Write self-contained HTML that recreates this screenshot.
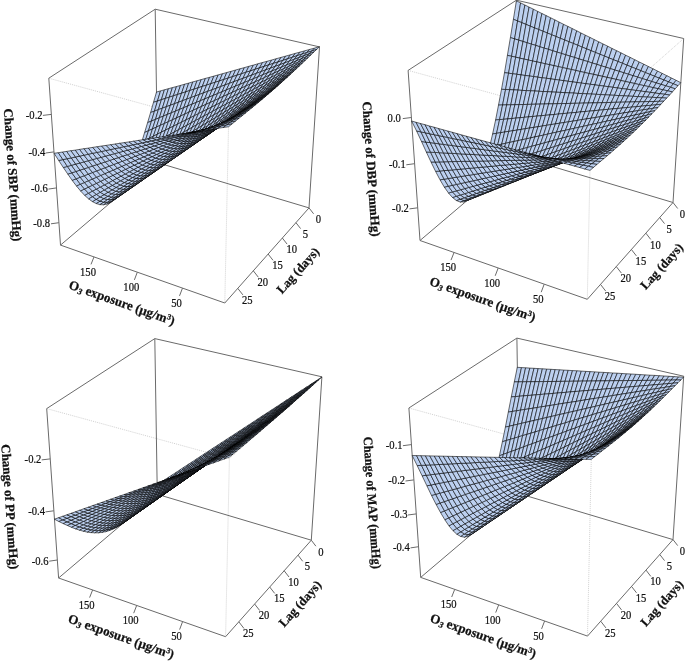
<!DOCTYPE html>
<html><head><meta charset="utf-8"><style>
html,body{margin:0;padding:0;background:#fff;}
svg{display:block;will-change:transform;}
.bx{stroke:#6a6a6a;stroke-width:1;}
.dt{stroke:#bdbdbd;stroke-width:0.7;stroke-dasharray:1 1;}
.sf path{fill:#bcd0f0;stroke:#000;stroke-width:0.58;stroke-linejoin:round;}
text{font-family:"Liberation Serif",serif;fill:#111;}
.tl{font-size:10.6px;stroke:#111;stroke-width:0.2px;text-anchor:middle;dominant-baseline:central;}
.tt{font-size:13px;font-weight:bold;stroke:#111;stroke-width:0.25px;text-anchor:middle;}
.sub{font-size:8.5px;font-style:italic;}
.sup{font-size:8px;}
</style></head><body>
<svg width="685" height="661" viewBox="0 0 685 661">
<g><line class="dt" x1="48.8" y1="78.2" x2="228.5" y2="127.4"/>
<line class="dt" x1="319.5" y1="46.9" x2="228.5" y2="127.4"/>
<line class="dt" x1="228.5" y1="127.4" x2="224.8" y2="303"/>
<line class="bx" x1="155.2" y1="9.2" x2="48.8" y2="78.2"/>
<line class="bx" x1="155.2" y1="9.2" x2="319.5" y2="46.9"/>
<line class="bx" x1="155.2" y1="9.2" x2="157.6" y2="162.7"/>
<line class="bx" x1="48.8" y1="78.2" x2="60.5" y2="245.1"/>
<line class="bx" x1="319.5" y1="46.9" x2="309" y2="207.9"/>
<line class="bx" x1="60.5" y1="245.1" x2="157.6" y2="162.7"/>
<line class="bx" x1="309" y1="207.9" x2="157.6" y2="162.7"/>
<line class="bx" x1="60.5" y1="245.1" x2="224.8" y2="303"/>
<line class="bx" x1="224.8" y1="303" x2="309" y2="207.9"/>
<line class="bx" x1="58.9" y1="222.7" x2="51" y2="223.8"/>
<line class="bx" x1="56.5" y1="187.9" x2="48.4" y2="189.1"/>
<line class="bx" x1="54" y1="151.9" x2="45.7" y2="153"/>
<line class="bx" x1="51.4" y1="114.4" x2="42.9" y2="115.4"/>
<line class="bx" x1="182.5" y1="288.1" x2="179.5" y2="295.9"/>
<line class="bx" x1="137.3" y1="272.2" x2="134.4" y2="279.9"/>
<line class="bx" x1="94" y1="256.9" x2="91" y2="264.4"/>
<line class="bx" x1="309" y1="207.9" x2="313.6" y2="213.8"/>
<line class="bx" x1="295.9" y1="222.6" x2="300.6" y2="228.6"/>
<line class="bx" x1="282.3" y1="238" x2="287.1" y2="244.1"/>
<line class="bx" x1="268.1" y1="254" x2="273" y2="260.3"/>
<line class="bx" x1="253.3" y1="270.8" x2="258.3" y2="277.2"/>
<line class="bx" x1="237.7" y1="288.3" x2="242.9" y2="294.9"/>
<g class="sf"><path d="M160.5 90.9 156.5 92 153.5 102.3 157.5 101Z"/>
<path d="M164.4 89.8 160.5 90.9 157.5 101 161.4 99.7Z"/>
<path d="M168.4 88.7 164.4 89.8 161.4 99.7 165.4 98.4Z"/>
<path d="M157.5 101 153.5 102.3 150.6 112.5 154.5 111.1Z"/>
<path d="M172.4 87.6 168.4 88.7 165.4 98.4 169.4 97.1Z"/>
<path d="M161.4 99.7 157.5 101 154.5 111.1 158.4 109.6Z"/>
<path d="M176.5 86.5 172.4 87.6 169.4 97.1 173.4 95.8Z"/>
<path d="M165.4 98.4 161.4 99.7 158.4 109.6 162.4 108.1Z"/>
<path d="M154.5 111.1 150.6 112.5 147.6 122.6 151.5 121Z"/>
<path d="M180.5 85.4 176.5 86.5 173.4 95.8 177.5 94.5Z"/>
<path d="M169.4 97.1 165.4 98.4 162.4 108.1 166.4 106.7Z"/>
<path d="M158.4 109.6 154.5 111.1 151.5 121 155.5 119.4Z"/>
<path d="M184.6 84.2 180.5 85.4 177.5 94.5 181.6 93.2Z"/>
<path d="M173.4 95.8 169.4 97.1 166.4 106.7 170.4 105.2Z"/>
<path d="M162.4 108.1 158.4 109.6 155.5 119.4 159.4 117.7Z"/>
<path d="M151.5 121 147.6 122.6 144.6 132.5 148.5 130.7Z"/>
<path d="M188.7 83.1 184.6 84.2 181.6 93.2 185.7 91.9Z"/>
<path d="M177.5 94.5 173.4 95.8 170.4 105.2 174.5 103.7Z"/>
<path d="M166.4 106.7 162.4 108.1 159.4 117.7 163.4 116.1Z"/>
<path d="M155.5 119.4 151.5 121 148.5 130.7 152.5 128.9Z"/>
<path d="M192.8 81.9 188.7 83.1 185.7 91.9 189.8 90.5Z"/>
<path d="M181.6 93.2 177.5 94.5 174.5 103.7 178.5 102.2Z"/>
<path d="M170.4 105.2 166.4 106.7 163.4 116.1 167.4 114.4Z"/>
<path d="M159.4 117.7 155.5 119.4 152.5 128.9 156.4 127.1Z"/>
<path d="M148.5 130.7 144.6 132.5 141.7 142.1 145.5 140.1Z"/>
<path d="M197 80.8 192.8 81.9 189.8 90.5 194 89.2Z"/>
<path d="M185.7 91.9 181.6 93.2 178.5 102.2 182.6 100.7Z"/>
<path d="M174.5 103.7 170.4 105.2 167.4 114.4 171.4 112.8Z"/>
<path d="M163.4 116.1 159.4 117.7 156.4 127.1 160.4 125.3Z"/>
<path d="M152.5 128.9 148.5 130.7 145.5 140.1 149.5 138.2Z"/>
<path d="M201.2 79.6 197 80.8 194 89.2 198.1 87.8Z"/>
<path d="M189.8 90.5 185.7 91.9 182.6 100.7 186.8 99.1Z"/>
<path d="M178.5 102.2 174.5 103.7 171.4 112.8 175.5 111.1Z"/>
<path d="M167.4 114.4 163.4 116.1 160.4 125.3 164.4 123.5Z"/>
<path d="M156.4 127.1 152.5 128.9 149.5 138.2 153.4 136.2Z"/>
<path d="M205.4 78.4 201.2 79.6 198.1 87.8 202.3 86.4Z"/>
<path d="M145.5 140.1 141.7 142.1 138.7 151.2 142.5 149.1Z"/>
<path d="M194 89.2 189.8 90.5 186.8 99.1 190.9 97.6Z"/>
<path d="M182.6 100.7 178.5 102.2 175.5 111.1 179.6 109.4Z"/>
<path d="M171.4 112.8 167.4 114.4 164.4 123.5 168.4 121.6Z"/>
<path d="M160.4 125.3 156.4 127.1 153.4 136.2 157.4 134.2Z"/>
<path d="M209.6 77.3 205.4 78.4 202.3 86.4 206.6 85.1Z"/>
<path d="M149.5 138.2 145.5 140.1 142.5 149.1 146.4 147Z"/>
<path d="M198.1 87.8 194 89.2 190.9 97.6 195.1 96Z"/>
<path d="M186.8 99.1 182.6 100.7 179.6 109.4 183.7 107.7Z"/>
<path d="M175.5 111.1 171.4 112.8 168.4 121.6 172.5 119.8Z"/>
<path d="M164.4 123.5 160.4 125.3 157.4 134.2 161.3 132.2Z"/>
<path d="M213.9 76.1 209.6 77.3 206.6 85.1 210.8 83.7Z"/>
<path d="M153.4 136.2 149.5 138.2 146.4 147 150.4 144.9Z"/>
<path d="M202.3 86.4 198.1 87.8 195.1 96 199.3 94.5Z"/>
<path d="M142.5 149.1 138.7 151.2 135.7 159.7 139.5 157.5Z"/>
<path d="M190.9 97.6 186.8 99.1 183.7 107.7 187.8 105.9Z"/>
<path d="M179.6 109.4 175.5 111.1 172.5 119.8 176.5 117.9Z"/>
<path d="M168.4 121.6 164.4 123.5 161.3 132.2 165.4 130.2Z"/>
<path d="M218.2 74.9 213.9 76.1 210.8 83.7 215.1 82.3Z"/>
<path d="M157.4 134.2 153.4 136.2 150.4 144.9 154.3 142.8Z"/>
<path d="M206.6 85.1 202.3 86.4 199.3 94.5 203.5 92.9Z"/>
<path d="M146.4 147 142.5 149.1 139.5 157.5 143.4 155.3Z"/>
<path d="M195.1 96 190.9 97.6 187.8 105.9 192 104.2Z"/>
<path d="M183.7 107.7 179.6 109.4 176.5 117.9 180.6 116Z"/>
<path d="M172.5 119.8 168.4 121.6 165.4 130.2 169.4 128.2Z"/>
<path d="M222.5 73.7 218.2 74.9 215.1 82.3 219.4 80.9Z"/>
<path d="M161.3 132.2 157.4 134.2 154.3 142.8 158.3 140.6Z"/>
<path d="M210.8 83.7 206.6 85.1 203.5 92.9 207.8 91.3Z"/>
<path d="M150.4 144.9 146.4 147 143.4 155.3 147.3 153.1Z"/>
<path d="M199.3 94.5 195.1 96 192 104.2 196.2 102.5Z"/>
<path d="M139.5 157.5 135.7 159.7 132.6 167.7 136.5 165.4Z"/>
<path d="M187.8 105.9 183.7 107.7 180.6 116 184.8 114.1Z"/>
<path d="M176.5 117.9 172.5 119.8 169.4 128.2 173.5 126.2Z"/>
<path d="M226.8 72.5 222.5 73.7 219.4 80.9 223.8 79.5Z"/>
<path d="M165.4 130.2 161.3 132.2 158.3 140.6 162.3 138.5Z"/>
<path d="M215.1 82.3 210.8 83.7 207.8 91.3 212.1 89.8Z"/>
<path d="M154.3 142.8 150.4 144.9 147.3 153.1 151.3 150.8Z"/>
<path d="M203.5 92.9 199.3 94.5 196.2 102.5 200.4 100.7Z"/>
<path d="M143.4 155.3 139.5 157.5 136.5 165.4 140.3 163.1Z"/>
<path d="M192 104.2 187.8 105.9 184.8 114.1 188.9 112.2Z"/>
<path d="M180.6 116 176.5 117.9 173.5 126.2 177.6 124.1Z"/>
<path d="M231.2 71.3 226.8 72.5 223.8 79.5 228.1 78.1Z"/>
<path d="M169.4 128.2 165.4 130.2 162.3 138.5 166.3 136.3Z"/>
<path d="M219.4 80.9 215.1 82.3 212.1 89.8 216.4 88.2Z"/>
<path d="M158.3 140.6 154.3 142.8 151.3 150.8 155.2 148.5Z"/>
<path d="M207.8 91.3 203.5 92.9 200.4 100.7 204.7 98.9Z"/>
<path d="M147.3 153.1 143.4 155.3 140.3 163.1 144.3 160.7Z"/>
<path d="M196.2 102.5 192 104.2 188.9 112.2 193.1 110.3Z"/>
<path d="M136.5 165.4 132.6 167.7 129.6 175 133.4 172.6Z"/>
<path d="M184.8 114.1 180.6 116 177.6 124.1 181.7 122.1Z"/>
<path d="M235.6 70 231.2 71.3 228.1 78.1 232.5 76.7Z"/>
<path d="M173.5 126.2 169.4 128.2 166.3 136.3 170.4 134.1Z"/>
<path d="M223.8 79.5 219.4 80.9 216.4 88.2 220.7 86.6Z"/>
<path d="M162.3 138.5 158.3 140.6 155.2 148.5 159.2 146.2Z"/>
<path d="M212.1 89.8 207.8 91.3 204.7 98.9 209 97.2Z"/>
<path d="M151.3 150.8 147.3 153.1 144.3 160.7 148.2 158.3Z"/>
<path d="M200.4 100.7 196.2 102.5 193.1 110.3 197.4 108.4Z"/>
<path d="M140.3 163.1 136.5 165.4 133.4 172.6 137.3 170.2Z"/>
<path d="M188.9 112.2 184.8 114.1 181.7 122.1 185.9 120Z"/>
<path d="M240 68.8 235.6 70 232.5 76.7 237 75.2Z"/>
<path d="M177.6 124.1 173.5 126.2 170.4 134.1 174.5 131.9Z"/>
<path d="M228.1 78.1 223.8 79.5 220.7 86.6 225.1 84.9Z"/>
<path d="M166.3 136.3 162.3 138.5 159.2 146.2 163.3 143.9Z"/>
<path d="M216.4 88.2 212.1 89.8 209 97.2 213.3 95.4Z"/>
<path d="M155.2 148.5 151.3 150.8 148.2 158.3 152.1 155.9Z"/>
<path d="M204.7 98.9 200.4 100.7 197.4 108.4 201.6 106.4Z"/>
<path d="M144.3 160.7 140.3 163.1 137.3 170.2 141.2 167.7Z"/>
<path d="M193.1 110.3 188.9 112.2 185.9 120 190.1 117.9Z"/>
<path d="M133.4 172.6 129.6 175 126.5 181.6 130.3 179.1Z"/>
<path d="M244.4 67.6 240 68.8 237 75.2 241.4 73.8Z"/>
<path d="M181.7 122.1 177.6 124.1 174.5 131.9 178.6 129.7Z"/>
<path d="M232.5 76.7 228.1 78.1 225.1 84.9 229.5 83.3Z"/>
<path d="M170.4 134.1 166.3 136.3 163.3 143.9 167.3 141.6Z"/>
<path d="M220.7 86.6 216.4 88.2 213.3 95.4 217.6 93.6Z"/>
<path d="M159.2 146.2 155.2 148.5 152.1 155.9 156.1 153.5Z"/>
<path d="M209 97.2 204.7 98.9 201.6 106.4 205.9 104.4Z"/>
<path d="M148.2 158.3 144.3 160.7 141.2 167.7 145.1 165.2Z"/>
<path d="M197.4 108.4 193.1 110.3 190.1 117.9 194.3 115.8Z"/>
<path d="M137.3 170.2 133.4 172.6 130.3 179.1 134.2 176.6Z"/>
<path d="M248.9 66.3 244.4 67.6 241.4 73.8 245.9 72.3Z"/>
<path d="M185.9 120 181.7 122.1 178.6 129.7 182.8 127.4Z"/>
<path d="M237 75.2 232.5 76.7 229.5 83.3 233.9 81.7Z"/>
<path d="M174.5 131.9 170.4 134.1 167.3 141.6 171.4 139.2Z"/>
<path d="M225.1 84.9 220.7 86.6 217.6 93.6 222 91.8Z"/>
<path d="M163.3 143.9 159.2 146.2 156.1 153.5 160.2 151.1Z"/>
<path d="M213.3 95.4 209 97.2 205.9 104.4 210.2 102.5Z"/>
<path d="M152.1 155.9 148.2 158.3 145.1 165.2 149 162.7Z"/>
<path d="M201.6 106.4 197.4 108.4 194.3 115.8 198.5 113.6Z"/>
<path d="M141.2 167.7 137.3 170.2 134.2 176.6 138 174.1Z"/>
<path d="M253.4 65.1 248.9 66.3 245.9 72.3 250.4 70.9Z"/>
<path d="M190.1 117.9 185.9 120 182.8 127.4 187 125.2Z"/>
<path d="M130.3 179.1 126.5 181.6 123.3 187.5 127.1 184.9Z"/>
<path d="M241.4 73.8 237 75.2 233.9 81.7 238.4 80Z"/>
<path d="M178.6 129.7 174.5 131.9 171.4 139.2 175.5 136.9Z"/>
<path d="M229.5 83.3 225.1 84.9 222 91.8 226.4 89.9Z"/>
<path d="M167.3 141.6 163.3 143.9 160.2 151.1 164.2 148.6Z"/>
<path d="M217.6 93.6 213.3 95.4 210.2 102.5 214.6 100.5Z"/>
<path d="M156.1 153.5 152.1 155.9 149 162.7 153 160.2Z"/>
<path d="M205.9 104.4 201.6 106.4 198.5 113.6 202.8 111.5Z"/>
<path d="M145.1 165.2 141.2 167.7 138 174.1 142 171.5Z"/>
<path d="M257.9 63.8 253.4 65.1 250.4 70.9 254.9 69.4Z"/>
<path d="M194.3 115.8 190.1 117.9 187 125.2 191.2 122.9Z"/>
<path d="M134.2 176.6 130.3 179.1 127.1 184.9 131 182.3Z"/>
<path d="M245.9 72.3 241.4 73.8 238.4 80 242.9 78.4Z"/>
<path d="M182.8 127.4 178.6 129.7 175.5 136.9 179.7 134.5Z"/>
<path d="M233.9 81.7 229.5 83.3 226.4 89.9 230.8 88.1Z"/>
<path d="M171.4 139.2 167.3 141.6 164.2 148.6 168.3 146.1Z"/>
<path d="M222 91.8 217.6 93.6 214.6 100.5 218.9 98.5Z"/>
<path d="M160.2 151.1 156.1 153.5 153 160.2 157 157.7Z"/>
<path d="M210.2 102.5 205.9 104.4 202.8 111.5 207.1 109.4Z"/>
<path d="M149 162.7 145.1 165.2 142 171.5 145.9 168.9Z"/>
<path d="M262.5 62.5 257.9 63.8 254.9 69.4 259.5 67.9Z"/>
<path d="M198.5 113.6 194.3 115.8 191.2 122.9 195.4 120.6Z"/>
<path d="M138 174.1 134.2 176.6 131 182.3 134.9 179.7Z"/>
<path d="M250.4 70.9 245.9 72.3 242.9 78.4 247.4 76.7Z"/>
<path d="M187 125.2 182.8 127.4 179.7 134.5 183.9 132.1Z"/>
<path d="M127.1 184.9 123.3 187.5 120.1 192.5 124 189.9Z"/>
<path d="M238.4 80 233.9 81.7 230.8 88.1 235.3 86.2Z"/>
<path d="M175.5 136.9 171.4 139.2 168.3 146.1 172.4 143.7Z"/>
<path d="M226.4 89.9 222 91.8 218.9 98.5 223.3 96.4Z"/>
<path d="M164.2 148.6 160.2 151.1 157 157.7 161.1 155.1Z"/>
<path d="M214.6 100.5 210.2 102.5 207.1 109.4 211.5 107.2Z"/>
<path d="M153 160.2 149 162.7 145.9 168.9 149.9 166.3Z"/>
<path d="M267.1 61.3 262.5 62.5 259.5 67.9 264.1 66.4Z"/>
<path d="M202.8 111.5 198.5 113.6 195.4 120.6 199.7 118.3Z"/>
<path d="M142 171.5 138 174.1 134.9 179.7 138.8 177.1Z"/>
<path d="M254.9 69.4 250.4 70.9 247.4 76.7 251.9 75Z"/>
<path d="M191.2 122.9 187 125.2 183.9 132.1 188.1 129.7Z"/>
<path d="M131 182.3 127.1 184.9 124 189.9 127.8 187.2Z"/>
<path d="M242.9 78.4 238.4 80 235.3 86.2 239.8 84.4Z"/>
<path d="M179.7 134.5 175.5 136.9 172.4 143.7 176.6 141.2Z"/>
<path d="M230.8 88.1 226.4 89.9 223.3 96.4 227.8 94.4Z"/>
<path d="M168.3 146.1 164.2 148.6 161.1 155.1 165.2 152.5Z"/>
<path d="M218.9 98.5 214.6 100.5 211.5 107.2 215.8 105Z"/>
<path d="M157 157.7 153 160.2 149.9 166.3 153.9 163.7Z"/>
<path d="M271.7 60 267.1 61.3 264.1 66.4 268.7 64.9Z"/>
<path d="M207.1 109.4 202.8 111.5 199.7 118.3 204 116Z"/>
<path d="M145.9 168.9 142 171.5 138.8 177.1 142.8 174.4Z"/>
<path d="M259.5 67.9 254.9 69.4 251.9 75 256.5 73.3Z"/>
<path d="M195.4 120.6 191.2 122.9 188.1 129.7 192.3 127.3Z"/>
<path d="M134.9 179.7 131 182.3 127.8 187.2 131.7 184.6Z"/>
<path d="M247.4 76.7 242.9 78.4 239.8 84.4 244.3 82.5Z"/>
<path d="M183.9 132.1 179.7 134.5 176.6 141.2 180.7 138.6Z"/>
<path d="M124 189.9 120.1 192.5 116.9 196.7 120.7 194.1Z"/>
<path d="M235.3 86.2 230.8 88.1 227.8 94.4 232.2 92.4Z"/>
<path d="M172.4 143.7 168.3 146.1 165.2 152.5 169.3 149.9Z"/>
<path d="M223.3 96.4 218.9 98.5 215.8 105 220.2 102.8Z"/>
<path d="M161.1 155.1 157 157.7 153.9 163.7 158 161Z"/>
<path d="M276.3 58.7 271.7 60 268.7 64.9 273.4 63.4Z"/>
<path d="M211.5 107.2 207.1 109.4 204 116 208.4 113.7Z"/>
<path d="M149.9 166.3 145.9 168.9 142.8 174.4 146.7 171.7Z"/>
<path d="M264.1 66.4 259.5 67.9 256.5 73.3 261.1 71.6Z"/>
<path d="M199.7 118.3 195.4 120.6 192.3 127.3 196.6 124.8Z"/>
<path d="M138.8 177.1 134.9 179.7 131.7 184.6 135.6 181.9Z"/>
<path d="M251.9 75 247.4 76.7 244.3 82.5 248.9 80.6Z"/>
<path d="M188.1 129.7 183.9 132.1 180.7 138.6 185 136.1Z"/>
<path d="M127.8 187.2 124 189.9 120.7 194.1 124.6 191.4Z"/>
<path d="M239.8 84.4 235.3 86.2 232.2 92.4 236.7 90.3Z"/>
<path d="M176.6 141.2 172.4 143.7 169.3 149.9 173.4 147.3Z"/>
<path d="M227.8 94.4 223.3 96.4 220.2 102.8 224.7 100.6Z"/>
<path d="M165.2 152.5 161.1 155.1 158 161 162 158.3Z"/>
<path d="M281 57.4 276.3 58.7 273.4 63.4 278.1 61.9Z"/>
<path d="M215.8 105 211.5 107.2 208.4 113.7 212.7 111.3Z"/>
<path d="M153.9 163.7 149.9 166.3 146.7 171.7 150.7 169Z"/>
<path d="M268.7 64.9 264.1 66.4 261.1 71.6 265.7 69.9Z"/>
<path d="M204 116 199.7 118.3 196.6 124.8 200.9 122.3Z"/>
<path d="M142.8 174.4 138.8 177.1 135.6 181.9 139.6 179.2Z"/>
<path d="M256.5 73.3 251.9 75 248.9 80.6 253.5 78.7Z"/>
<path d="M192.3 127.3 188.1 129.7 185 136.1 189.2 133.5Z"/>
<path d="M131.7 184.6 127.8 187.2 124.6 191.4 128.5 188.7Z"/>
<path d="M244.3 82.5 239.8 84.4 236.7 90.3 241.3 88.2Z"/>
<path d="M180.7 138.6 176.6 141.2 173.4 147.3 177.6 144.7Z"/>
<path d="M120.7 194.1 116.9 196.7 113.6 200.1 117.4 197.4Z"/>
<path d="M232.2 92.4 227.8 94.4 224.7 100.6 229.2 98.3Z"/>
<path d="M169.3 149.9 165.2 152.5 162 158.3 166.1 155.7Z"/>
<path d="M285.7 56.1 281 57.4 278.1 61.9 282.8 60.4Z"/>
<path d="M220.2 102.8 215.8 105 212.7 111.3 217.1 108.9Z"/>
<path d="M158 161 153.9 163.7 150.7 169 154.8 166.3Z"/>
<path d="M273.4 63.4 268.7 64.9 265.7 69.9 270.4 68.2Z"/>
<path d="M208.4 113.7 204 116 200.9 122.3 205.3 119.8Z"/>
<path d="M146.7 171.7 142.8 174.4 139.6 179.2 143.5 176.5Z"/>
<path d="M261.1 71.6 256.5 73.3 253.5 78.7 258.1 76.8Z"/>
<path d="M196.6 124.8 192.3 127.3 189.2 133.5 193.5 130.9Z"/>
<path d="M135.6 181.9 131.7 184.6 128.5 188.7 132.4 186Z"/>
<path d="M248.9 80.6 244.3 82.5 241.3 88.2 245.8 86.1Z"/>
<path d="M185 136.1 180.7 138.6 177.6 144.7 181.8 142Z"/>
<path d="M124.6 191.4 120.7 194.1 117.4 197.4 121.3 194.7Z"/>
<path d="M236.7 90.3 232.2 92.4 229.2 98.3 233.7 96.1Z"/>
<path d="M173.4 147.3 169.3 149.9 166.1 155.7 170.3 152.9Z"/>
<path d="M290.4 54.8 285.7 56.1 282.8 60.4 287.5 58.8Z"/>
<path d="M224.7 100.6 220.2 102.8 217.1 108.9 221.6 106.5Z"/>
<path d="M162 158.3 158 161 154.8 166.3 158.9 163.6Z"/>
<path d="M278.1 61.9 273.4 63.4 270.4 68.2 275.1 66.4Z"/>
<path d="M212.7 111.3 208.4 113.7 205.3 119.8 209.6 117.3Z"/>
<path d="M150.7 169 146.7 171.7 143.5 176.5 147.5 173.7Z"/>
<path d="M265.7 69.9 261.1 71.6 258.1 76.8 262.7 74.8Z"/>
<path d="M200.9 122.3 196.6 124.8 193.5 130.9 197.8 128.3Z"/>
<path d="M139.6 179.2 135.6 181.9 132.4 186 136.3 183.2Z"/>
<path d="M253.5 78.7 248.9 80.6 245.8 86.1 250.4 84Z"/>
<path d="M189.2 133.5 185 136.1 181.8 142 186.1 139.3Z"/>
<path d="M128.5 188.7 124.6 191.4 121.3 194.7 125.2 192Z"/>
<path d="M241.3 88.2 236.7 90.3 233.7 96.1 238.2 93.8Z"/>
<path d="M177.6 144.7 173.4 147.3 170.3 152.9 174.5 150.2Z"/>
<path d="M117.4 197.4 113.6 200.1 110.3 202.5 114.1 199.9Z"/>
<path d="M295.2 53.4 290.4 54.8 287.5 58.8 292.3 57.3Z"/>
<path d="M229.2 98.3 224.7 100.6 221.6 106.5 226.1 104.1Z"/>
<path d="M166.1 155.7 162 158.3 158.9 163.6 163 160.8Z"/>
<path d="M282.8 60.4 278.1 61.9 275.1 66.4 279.9 64.7Z"/>
<path d="M217.1 108.9 212.7 111.3 209.6 117.3 214 114.8Z"/>
<path d="M154.8 166.3 150.7 169 147.5 173.7 151.6 170.9Z"/>
<path d="M270.4 68.2 265.7 69.9 262.7 74.8 267.4 72.9Z"/>
<path d="M205.3 119.8 200.9 122.3 197.8 128.3 202.1 125.7Z"/>
<path d="M143.5 176.5 139.6 179.2 136.3 183.2 140.3 180.5Z"/>
<path d="M258.1 76.8 253.5 78.7 250.4 84 255.1 81.9Z"/>
<path d="M193.5 130.9 189.2 133.5 186.1 139.3 190.3 136.6Z"/>
<path d="M132.4 186 128.5 188.7 125.2 192 129.1 189.3Z"/>
<path d="M245.8 86.1 241.3 88.2 238.2 93.8 242.8 91.5Z"/>
<path d="M181.8 142 177.6 144.7 174.5 150.2 178.7 147.5Z"/>
<path d="M121.3 194.7 117.4 197.4 114.1 199.9 117.9 197.2Z"/>
<path d="M300 52.1 295.2 53.4 292.3 57.3 297.1 55.7Z"/>
<path d="M233.7 96.1 229.2 98.3 226.1 104.1 230.6 101.7Z"/>
<path d="M170.3 152.9 166.1 155.7 163 160.8 167.1 158Z"/>
<path d="M287.5 58.8 282.8 60.4 279.9 64.7 284.6 62.9Z"/>
<path d="M221.6 106.5 217.1 108.9 214 114.8 218.5 112.3Z"/>
<path d="M158.9 163.6 154.8 166.3 151.6 170.9 155.7 168.1Z"/>
<path d="M275.1 66.4 270.4 68.2 267.4 72.9 272.1 70.9Z"/>
<path d="M209.6 117.3 205.3 119.8 202.1 125.7 206.5 123Z"/>
<path d="M147.5 173.7 143.5 176.5 140.3 180.5 144.3 177.7Z"/>
<path d="M262.7 74.8 258.1 76.8 255.1 81.9 259.7 79.8Z"/>
<path d="M197.8 128.3 193.5 130.9 190.3 136.6 194.6 133.9Z"/>
<path d="M136.3 183.2 132.4 186 129.1 189.3 133 186.5Z"/>
<path d="M250.4 84 245.8 86.1 242.8 91.5 247.4 89.2Z"/>
<path d="M186.1 139.3 181.8 142 178.7 147.5 182.9 144.7Z"/>
<path d="M125.2 192 121.3 194.7 117.9 197.2 121.8 194.5Z"/>
<path d="M304.8 50.8 300 52.1 297.1 55.7 302 54.1Z"/>
<path d="M238.2 93.8 233.7 96.1 230.6 101.7 235.1 99.3Z"/>
<path d="M174.5 150.2 170.3 152.9 167.1 158 171.3 155.2Z"/>
<path d="M114.1 199.9 110.3 202.5 106.8 204.1 110.7 201.5Z"/>
<path d="M292.3 57.3 287.5 58.8 284.6 62.9 289.4 61.1Z"/>
<path d="M226.1 104.1 221.6 106.5 218.5 112.3 223 109.7Z"/>
<path d="M163 160.8 158.9 163.6 155.7 168.1 159.8 165.3Z"/>
<path d="M279.9 64.7 275.1 66.4 272.1 70.9 276.9 69Z"/>
<path d="M214 114.8 209.6 117.3 206.5 123 210.9 120.4Z"/>
<path d="M151.6 170.9 147.5 173.7 144.3 177.7 148.3 174.9Z"/>
<path d="M267.4 72.9 262.7 74.8 259.7 79.8 264.4 77.6Z"/>
<path d="M202.1 125.7 197.8 128.3 194.6 133.9 199 131.2Z"/>
<path d="M140.3 180.5 136.3 183.2 133 186.5 137 183.7Z"/>
<path d="M255.1 81.9 250.4 84 247.4 89.2 252 86.9Z"/>
<path d="M190.3 136.6 186.1 139.3 182.9 144.7 187.2 141.9Z"/>
<path d="M129.1 189.3 125.2 192 121.8 194.5 125.8 191.8Z"/>
<path d="M309.7 49.4 304.8 50.8 302 54.1 306.9 52.5Z"/>
<path d="M242.8 91.5 238.2 93.8 235.1 99.3 239.7 96.8Z"/>
<path d="M178.7 147.5 174.5 150.2 171.3 155.2 175.5 152.4Z"/>
<path d="M117.9 197.2 114.1 199.9 110.7 201.5 114.5 198.8Z"/>
<path d="M297.1 55.7 292.3 57.3 289.4 61.1 294.3 59.3Z"/>
<path d="M230.6 101.7 226.1 104.1 223 109.7 227.5 107.1Z"/>
<path d="M167.1 158 163 160.8 159.8 165.3 163.9 162.5Z"/>
<path d="M284.6 62.9 279.9 64.7 276.9 69 281.7 67Z"/>
<path d="M218.5 112.3 214 114.8 210.9 120.4 215.4 117.7Z"/>
<path d="M155.7 168.1 151.6 170.9 148.3 174.9 152.4 172.1Z"/>
<path d="M272.1 70.9 267.4 72.9 264.4 77.6 269.2 75.4Z"/>
<path d="M206.5 123 202.1 125.7 199 131.2 203.4 128.4Z"/>
<path d="M144.3 177.7 140.3 180.5 137 183.7 141 181Z"/>
<path d="M259.7 79.8 255.1 81.9 252 86.9 256.7 84.6Z"/>
<path d="M194.6 133.9 190.3 136.6 187.2 141.9 191.5 139.1Z"/>
<path d="M133 186.5 129.1 189.3 125.8 191.8 129.7 189Z"/>
<path d="M314.6 48.1 309.7 49.4 306.9 52.5 311.8 51Z"/>
<path d="M247.4 89.2 242.8 91.5 239.7 96.8 244.3 94.3Z"/>
<path d="M182.9 144.7 178.7 147.5 175.5 152.4 179.7 149.5Z"/>
<path d="M121.8 194.5 117.9 197.2 114.5 198.8 118.4 196.2Z"/>
<path d="M302 54.1 297.1 55.7 294.3 59.3 299.1 57.5Z"/>
<path d="M235.1 99.3 230.6 101.7 227.5 107.1 232 104.5Z"/>
<path d="M171.3 155.2 167.1 158 163.9 162.5 168.1 159.6Z"/>
<path d="M110.7 201.5 106.8 204.1 103.3 204.8 107.2 202.2Z"/>
<path d="M289.4 61.1 284.6 62.9 281.7 67 286.5 65Z"/>
<path d="M223 109.7 218.5 112.3 215.4 117.7 219.8 115Z"/>
<path d="M159.8 165.3 155.7 168.1 152.4 172.1 156.5 169.2Z"/>
<path d="M276.9 69 272.1 70.9 269.2 75.4 273.9 73.2Z"/>
<path d="M210.9 120.4 206.5 123 203.4 128.4 207.8 125.6Z"/>
<path d="M148.3 174.9 144.3 177.7 141 181 145.1 178.1Z"/>
<path d="M264.4 77.6 259.7 79.8 256.7 84.6 261.4 82.2Z"/>
<path d="M199 131.2 194.6 133.9 191.5 139.1 195.8 136.2Z"/>
<path d="M137 183.7 133 186.5 129.7 189 133.7 186.3Z"/>
<path d="M319.5 46.7 314.6 48.1 311.8 51 316.7 49.4Z"/>
<path d="M252 86.9 247.4 89.2 244.3 94.3 249 91.8Z"/>
<path d="M187.2 141.9 182.9 144.7 179.7 149.5 184 146.6Z"/>
<path d="M125.8 191.8 121.8 194.5 118.4 196.2 122.4 193.5Z"/>
<path d="M306.9 52.5 302 54.1 299.1 57.5 304 55.7Z"/>
<path d="M239.7 96.8 235.1 99.3 232 104.5 236.6 101.9Z"/>
<path d="M175.5 152.4 171.3 155.2 168.1 159.6 172.3 156.7Z"/>
<path d="M114.5 198.8 110.7 201.5 107.2 202.2 111.1 199.6Z"/>
<path d="M294.3 59.3 289.4 61.1 286.5 65 291.4 63Z"/>
<path d="M227.5 107.1 223 109.7 219.8 115 224.4 112.2Z"/>
<path d="M163.9 162.5 159.8 165.3 156.5 169.2 160.7 166.3Z"/>
<path d="M281.7 67 276.9 69 273.9 73.2 278.7 71Z"/>
<path d="M215.4 117.7 210.9 120.4 207.8 125.6 212.2 122.8Z"/>
<path d="M152.4 172.1 148.3 174.9 145.1 178.1 149.1 175.3Z"/>
<path d="M269.2 75.4 264.4 77.6 261.4 82.2 266.1 79.9Z"/>
<path d="M203.4 128.4 199 131.2 195.8 136.2 200.2 133.3Z"/>
<path d="M141 181 137 183.7 133.7 186.3 137.7 183.5Z"/>
<path d="M256.7 84.6 252 86.9 249 91.8 253.6 89.3Z"/>
<path d="M191.5 139.1 187.2 141.9 184 146.6 188.3 143.7Z"/>
<path d="M129.7 189 125.8 191.8 122.4 193.5 126.3 190.7Z"/>
<path d="M311.8 51 306.9 52.5 304 55.7 309 53.9Z"/>
<path d="M244.3 94.3 239.7 96.8 236.6 101.9 241.2 99.2Z"/>
<path d="M179.7 149.5 175.5 152.4 172.3 156.7 176.5 153.8Z"/>
<path d="M118.4 196.2 114.5 198.8 111.1 199.6 115 197Z"/>
<path d="M299.1 57.5 294.3 59.3 291.4 63 296.2 60.9Z"/>
<path d="M232 104.5 227.5 107.1 224.4 112.2 228.9 109.5Z"/>
<path d="M168.1 159.6 163.9 162.5 160.7 166.3 164.8 163.4Z"/>
<path d="M107.2 202.2 103.3 204.8 99.8 204.6 103.6 202.1Z"/>
<path d="M286.5 65 281.7 67 278.7 71 283.6 68.8Z"/>
<path d="M219.8 115 215.4 117.7 212.2 122.8 216.7 120Z"/>
<path d="M156.5 169.2 152.4 172.1 149.1 175.3 153.3 172.4Z"/>
<path d="M273.9 73.2 269.2 75.4 266.1 79.9 270.9 77.5Z"/>
<path d="M207.8 125.6 203.4 128.4 200.2 133.3 204.6 130.4Z"/>
<path d="M145.1 178.1 141 181 137.7 183.5 141.7 180.7Z"/>
<path d="M261.4 82.2 256.7 84.6 253.6 89.3 258.4 86.7Z"/>
<path d="M195.8 136.2 191.5 139.1 188.3 143.7 192.7 140.8Z"/>
<path d="M133.7 186.3 129.7 189 126.3 190.7 130.3 188Z"/>
<path d="M316.7 49.4 311.8 51 309 53.9 313.9 52Z"/>
<path d="M249 91.8 244.3 94.3 241.2 99.2 245.9 96.5Z"/>
<path d="M184 146.6 179.7 149.5 176.5 153.8 180.8 150.9Z"/>
<path d="M122.4 193.5 118.4 196.2 115 197 118.9 194.3Z"/>
<path d="M304 55.7 299.1 57.5 296.2 60.9 301.2 58.9Z"/>
<path d="M236.6 101.9 232 104.5 228.9 109.5 233.5 106.7Z"/>
<path d="M172.3 156.7 168.1 159.6 164.8 163.4 169 160.5Z"/>
<path d="M111.1 199.6 107.2 202.2 103.6 202.1 107.5 199.5Z"/>
<path d="M291.4 63 286.5 65 283.6 68.8 288.4 66.6Z"/>
<path d="M224.4 112.2 219.8 115 216.7 120 221.2 117.1Z"/>
<path d="M160.7 166.3 156.5 169.2 153.3 172.4 157.4 169.5Z"/>
<path d="M278.7 71 273.9 73.2 270.9 77.5 275.7 75.1Z"/>
<path d="M212.2 122.8 207.8 125.6 204.6 130.4 209.1 127.5Z"/>
<path d="M149.1 175.3 145.1 178.1 141.7 180.7 145.8 177.8Z"/>
<path d="M266.1 79.9 261.4 82.2 258.4 86.7 263.1 84.2Z"/>
<path d="M200.2 133.3 195.8 136.2 192.7 140.8 197 137.9Z"/>
<path d="M137.7 183.5 133.7 186.3 130.3 188 134.3 185.3Z"/>
<path d="M253.6 89.3 249 91.8 245.9 96.5 250.6 93.9Z"/>
<path d="M188.3 143.7 184 146.6 180.8 150.9 185.1 147.9Z"/>
<path d="M126.3 190.7 122.4 193.5 118.9 194.3 122.9 191.7Z"/>
<path d="M309 53.9 304 55.7 301.2 58.9 306.1 56.8Z"/>
<path d="M241.2 99.2 236.6 101.9 233.5 106.7 238.1 103.9Z"/>
<path d="M176.5 153.8 172.3 156.7 169 160.5 173.3 157.6Z"/>
<path d="M115 197 111.1 199.6 107.5 199.5 111.4 197Z"/>
<path d="M296.2 60.9 291.4 63 288.4 66.6 293.3 64.3Z"/>
<path d="M228.9 109.5 224.4 112.2 221.2 117.1 225.8 114.2Z"/>
<path d="M164.8 163.4 160.7 166.3 157.4 169.5 161.6 166.6Z"/>
<path d="M103.6 202.1 99.8 204.6 96.1 203.5 100 201.1Z"/>
<path d="M283.6 68.8 278.7 71 275.7 75.1 280.6 72.6Z"/>
<path d="M216.7 120 212.2 122.8 209.1 127.5 213.6 124.6Z"/>
<path d="M153.3 172.4 149.1 175.3 145.8 177.8 149.9 175Z"/>
<path d="M270.9 77.5 266.1 79.9 263.1 84.2 267.9 81.6Z"/>
<path d="M204.6 130.4 200.2 133.3 197 137.9 201.5 134.9Z"/>
<path d="M141.7 180.7 137.7 183.5 134.3 185.3 138.4 182.5Z"/>
<path d="M258.4 86.7 253.6 89.3 250.6 93.9 255.3 91.1Z"/>
<path d="M192.7 140.8 188.3 143.7 185.1 147.9 189.5 144.9Z"/>
<path d="M130.3 188 126.3 190.7 122.9 191.7 126.9 189Z"/>
<path d="M313.9 52 309 53.9 306.1 56.8 311.1 54.7Z"/>
<path d="M245.9 96.5 241.2 99.2 238.1 103.9 242.8 101.1Z"/>
<path d="M180.8 150.9 176.5 153.8 173.3 157.6 177.6 154.6Z"/>
<path d="M118.9 194.3 115 197 111.4 197 115.4 194.4Z"/>
<path d="M301.2 58.9 296.2 60.9 293.3 64.3 298.3 62.1Z"/>
<path d="M233.5 106.7 228.9 109.5 225.8 114.2 230.4 111.3Z"/>
<path d="M169 160.5 164.8 163.4 161.6 166.6 165.8 163.7Z"/>
<path d="M107.5 199.5 103.6 202.1 100 201.1 103.9 198.6Z"/>
<path d="M288.4 66.6 283.6 68.8 280.6 72.6 285.5 70.2Z"/>
<path d="M221.2 117.1 216.7 120 213.6 124.6 218.1 121.6Z"/>
<path d="M157.4 169.5 153.3 172.4 149.9 175 154.1 172.1Z"/>
<path d="M275.7 75.1 270.9 77.5 267.9 81.6 272.7 79Z"/>
<path d="M209.1 127.5 204.6 130.4 201.5 134.9 205.9 131.9Z"/>
<path d="M145.8 177.8 141.7 180.7 138.4 182.5 142.5 179.7Z"/>
<path d="M263.1 84.2 258.4 86.7 255.3 91.1 260.1 88.4Z"/>
<path d="M197 137.9 192.7 140.8 189.5 144.9 193.8 141.9Z"/>
<path d="M134.3 185.3 130.3 188 126.9 189 130.9 186.3Z"/>
<path d="M250.6 93.9 245.9 96.5 242.8 101.1 247.5 98.2Z"/>
<path d="M185.1 147.9 180.8 150.9 177.6 154.6 181.9 151.6Z"/>
<path d="M122.9 191.7 118.9 194.3 115.4 194.4 119.3 191.8Z"/>
<path d="M306.1 56.8 301.2 58.9 298.3 62.1 303.3 59.8Z"/>
<path d="M238.1 103.9 233.5 106.7 230.4 111.3 235 108.4Z"/>
<path d="M173.3 157.6 169 160.5 165.8 163.7 170 160.7Z"/>
<path d="M111.4 197 107.5 199.5 103.9 198.6 107.8 196.2Z"/>
<path d="M293.3 64.3 288.4 66.6 285.5 70.2 290.4 67.7Z"/>
<path d="M225.8 114.2 221.2 117.1 218.1 121.6 222.7 118.6Z"/>
<path d="M161.6 166.6 157.4 169.5 154.1 172.1 158.3 169.2Z"/>
<path d="M100 201.1 96.1 203.5 92.4 201.6 96.2 199.3Z"/>
<path d="M280.6 72.6 275.7 75.1 272.7 79 277.6 76.4Z"/>
<path d="M213.6 124.6 209.1 127.5 205.9 131.9 210.4 128.9Z"/>
<path d="M149.9 175 145.8 177.8 142.5 179.7 146.6 176.8Z"/>
<path d="M267.9 81.6 263.1 84.2 260.1 88.4 264.9 85.7Z"/>
<path d="M201.5 134.9 197 137.9 193.8 141.9 198.3 138.9Z"/>
<path d="M138.4 182.5 134.3 185.3 130.9 186.3 135 183.5Z"/>
<path d="M255.3 91.1 250.6 93.9 247.5 98.2 252.2 95.4Z"/>
<path d="M189.5 144.9 185.1 147.9 181.9 151.6 186.2 148.6Z"/>
<path d="M126.9 189 122.9 191.7 119.3 191.8 123.4 189.2Z"/>
<path d="M311.1 54.7 306.1 56.8 303.3 59.8 308.3 57.5Z"/>
<path d="M242.8 101.1 238.1 103.9 235 108.4 239.7 105.4Z"/>
<path d="M177.6 154.6 173.3 157.6 170 160.7 174.3 157.7Z"/>
<path d="M115.4 194.4 111.4 197 107.8 196.2 111.8 193.7Z"/>
<path d="M298.3 62.1 293.3 64.3 290.4 67.7 295.4 65.2Z"/>
<path d="M230.4 111.3 225.8 114.2 222.7 118.6 227.3 115.6Z"/>
<path d="M165.8 163.7 161.6 166.6 158.3 169.2 162.5 166.3Z"/>
<path d="M103.9 198.6 100 201.1 96.2 199.3 100.2 196.9Z"/>
<path d="M285.5 70.2 280.6 72.6 277.6 76.4 282.5 73.7Z"/>
<path d="M218.1 121.6 213.6 124.6 210.4 128.9 214.9 125.8Z"/>
<path d="M154.1 172.1 149.9 175 146.6 176.8 150.7 174Z"/>
<path d="M272.7 79 267.9 81.6 264.9 85.7 269.7 82.9Z"/>
<path d="M205.9 131.9 201.5 134.9 198.3 138.9 202.7 135.8Z"/>
<path d="M142.5 179.7 138.4 182.5 135 183.5 139 180.8Z"/>
<path d="M260.1 88.4 255.3 91.1 252.2 95.4 257 92.5Z"/>
<path d="M193.8 141.9 189.5 144.9 186.2 148.6 190.6 145.5Z"/>
<path d="M130.9 186.3 126.9 189 123.4 189.2 127.4 186.6Z"/>
<path d="M247.5 98.2 242.8 101.1 239.7 105.4 244.4 102.4Z"/>
<path d="M181.9 151.6 177.6 154.6 174.3 157.7 178.6 154.7Z"/>
<path d="M119.3 191.8 115.4 194.4 111.8 193.7 115.8 191.2Z"/>
<path d="M303.3 59.8 298.3 62.1 295.4 65.2 300.4 62.7Z"/>
<path d="M235 108.4 230.4 111.3 227.3 115.6 231.9 112.6Z"/>
<path d="M170 160.7 165.8 163.7 162.5 166.3 166.7 163.3Z"/>
<path d="M107.8 196.2 103.9 198.6 100.2 196.9 104.1 194.6Z"/>
<path d="M290.4 67.7 285.5 70.2 282.5 73.7 287.5 71.1Z"/>
<path d="M222.7 118.6 218.1 121.6 214.9 125.8 219.5 122.7Z"/>
<path d="M158.3 169.2 154.1 172.1 150.7 174 154.9 171.1Z"/>
<path d="M96.2 199.3 92.4 201.6 88.5 198.8 92.4 196.6Z"/>
<path d="M277.6 76.4 272.7 79 269.7 82.9 274.6 80.1Z"/>
<path d="M210.4 128.9 205.9 131.9 202.7 135.8 207.2 132.7Z"/>
<path d="M146.6 176.8 142.5 179.7 139 180.8 143.2 178Z"/>
<path d="M264.9 85.7 260.1 88.4 257 92.5 261.8 89.6Z"/>
<path d="M198.3 138.9 193.8 141.9 190.6 145.5 195.1 142.5Z"/>
<path d="M135 183.5 130.9 186.3 127.4 186.6 131.5 183.9Z"/>
<path d="M252.2 95.4 247.5 98.2 244.4 102.4 249.2 99.4Z"/>
<path d="M186.2 148.6 181.9 151.6 178.6 154.7 183 151.7Z"/>
<path d="M123.4 189.2 119.3 191.8 115.8 191.2 119.8 188.6Z"/>
<path d="M308.3 57.5 303.3 59.8 300.4 62.7 305.4 60.2Z"/>
<path d="M239.7 105.4 235 108.4 231.9 112.6 236.6 109.5Z"/>
<path d="M174.3 157.7 170 160.7 166.7 163.3 171 160.3Z"/>
<path d="M111.8 193.7 107.8 196.2 104.1 194.6 108.1 192.2Z"/>
<path d="M295.4 65.2 290.4 67.7 287.5 71.1 292.5 68.4Z"/>
<path d="M227.3 115.6 222.7 118.6 219.5 122.7 224.1 119.6Z"/>
<path d="M162.5 166.3 158.3 169.2 154.9 171.1 159.2 168.2Z"/>
<path d="M100.2 196.9 96.2 199.3 92.4 196.6 96.4 194.4Z"/>
<path d="M282.5 73.7 277.6 76.4 274.6 80.1 279.5 77.2Z"/>
<path d="M214.9 125.8 210.4 128.9 207.2 132.7 211.8 129.6Z"/>
<path d="M150.7 174 146.6 176.8 143.2 178 147.3 175.2Z"/>
<path d="M269.7 82.9 264.9 85.7 261.8 89.6 266.7 86.6Z"/>
<path d="M202.7 135.8 198.3 138.9 195.1 142.5 199.5 139.4Z"/>
<path d="M139 180.8 135 183.5 131.5 183.9 135.6 181.2Z"/>
<path d="M257 92.5 252.2 95.4 249.2 99.4 253.9 96.4Z"/>
<path d="M190.6 145.5 186.2 148.6 183 151.7 187.4 148.6Z"/>
<path d="M127.4 186.6 123.4 189.2 119.8 188.6 123.8 186.1Z"/>
<path d="M244.4 102.4 239.7 105.4 236.6 109.5 241.3 106.4Z"/>
<path d="M178.6 154.7 174.3 157.7 171 160.3 175.4 157.3Z"/>
<path d="M115.8 191.2 111.8 193.7 108.1 192.2 112.1 189.8Z"/>
<path d="M300.4 62.7 295.4 65.2 292.5 68.4 297.5 65.7Z"/>
<path d="M231.9 112.6 227.3 115.6 224.1 119.6 228.8 116.5Z"/>
<path d="M166.7 163.3 162.5 166.3 159.2 168.2 163.4 165.3Z"/>
<path d="M104.1 194.6 100.2 196.9 96.4 194.4 100.3 192.2Z"/>
<path d="M287.5 71.1 282.5 73.7 279.5 77.2 284.5 74.4Z"/>
<path d="M219.5 122.7 214.9 125.8 211.8 129.6 216.3 126.5Z"/>
<path d="M154.9 171.1 150.7 174 147.3 175.2 151.5 172.4Z"/>
<path d="M92.4 196.6 88.5 198.8 84.6 195.3 88.5 193.2Z"/>
<path d="M274.6 80.1 269.7 82.9 266.7 86.6 271.6 83.7Z"/>
<path d="M207.2 132.7 202.7 135.8 199.5 139.4 204 136.2Z"/>
<path d="M143.2 178 139 180.8 135.6 181.2 139.7 178.5Z"/>
<path d="M261.8 89.6 257 92.5 253.9 96.4 258.8 93.4Z"/>
<path d="M195.1 142.5 190.6 145.5 187.4 148.6 191.8 145.5Z"/>
<path d="M131.5 183.9 127.4 186.6 123.8 186.1 127.9 183.5Z"/>
<path d="M249.2 99.4 244.4 102.4 241.3 106.4 246.1 103.3Z"/>
<path d="M183 151.7 178.6 154.7 175.4 157.3 179.7 154.3Z"/>
<path d="M119.8 188.6 115.8 191.2 112.1 189.8 116.1 187.4Z"/>
<path d="M305.4 60.2 300.4 62.7 297.5 65.7 302.6 63Z"/>
<path d="M236.6 109.5 231.9 112.6 228.8 116.5 233.4 113.4Z"/>
<path d="M171 160.3 166.7 163.3 163.4 165.3 167.7 162.3Z"/>
<path d="M108.1 192.2 104.1 194.6 100.3 192.2 104.3 189.9Z"/>
<path d="M292.5 68.4 287.5 71.1 284.5 74.4 289.5 71.5Z"/>
<path d="M224.1 119.6 219.5 122.7 216.3 126.5 220.9 123.3Z"/>
<path d="M159.2 168.2 154.9 171.1 151.5 172.4 155.8 169.5Z"/>
<path d="M96.4 194.4 92.4 196.6 88.5 193.2 92.5 191.1Z"/>
<path d="M279.5 77.2 274.6 80.1 271.6 83.7 276.5 80.7Z"/>
<path d="M211.8 129.6 207.2 132.7 204 136.2 208.6 133.1Z"/>
<path d="M147.3 175.2 143.2 178 139.7 178.5 143.9 175.8Z"/>
<path d="M266.7 86.6 261.8 89.6 258.8 93.4 263.7 90.3Z"/>
<path d="M199.5 139.4 195.1 142.5 191.8 145.5 196.3 142.4Z"/>
<path d="M135.6 181.2 131.5 183.9 127.9 183.5 132 180.9Z"/>
<path d="M253.9 96.4 249.2 99.4 246.1 103.3 250.9 100.2Z"/>
<path d="M187.4 148.6 183 151.7 179.7 154.3 184.1 151.2Z"/>
<path d="M123.8 186.1 119.8 188.6 116.1 187.4 120.2 184.9Z"/>
<path d="M241.3 106.4 236.6 109.5 233.4 113.4 238.2 110.2Z"/>
<path d="M175.4 157.3 171 160.3 167.7 162.3 172 159.4Z"/>
<path d="M112.1 189.8 108.1 192.2 104.3 189.9 108.4 187.6Z"/>
<path d="M297.5 65.7 292.5 68.4 289.5 71.5 294.6 68.6Z"/>
<path d="M228.8 116.5 224.1 119.6 220.9 123.3 225.6 120.1Z"/>
<path d="M163.4 165.3 159.2 168.2 155.8 169.5 160 166.7Z"/>
<path d="M100.3 192.2 96.4 194.4 92.5 191.1 96.5 189Z"/>
<path d="M284.5 74.4 279.5 77.2 276.5 80.7 281.5 77.7Z"/>
<path d="M216.3 126.5 211.8 129.6 208.6 133.1 213.1 129.9Z"/>
<path d="M151.5 172.4 147.3 175.2 143.9 175.8 148.1 173Z"/>
<path d="M88.5 193.2 84.6 195.3 80.5 190.9 84.5 189Z"/>
<path d="M271.6 83.7 266.7 86.6 263.7 90.3 268.6 87.2Z"/>
<path d="M204 136.2 199.5 139.4 196.3 142.4 200.8 139.3Z"/>
<path d="M139.7 178.5 135.6 181.2 132 180.9 136.2 178.3Z"/>
<path d="M258.8 93.4 253.9 96.4 250.9 100.2 255.7 97Z"/>
<path d="M191.8 145.5 187.4 148.6 184.1 151.2 188.6 148.2Z"/>
<path d="M127.9 183.5 123.8 186.1 120.2 184.9 124.3 182.5Z"/>
<path d="M246.1 103.3 241.3 106.4 238.2 110.2 242.9 107Z"/>
<path d="M179.7 154.3 175.4 157.3 172 159.4 176.4 156.4Z"/>
<path d="M116.1 187.4 112.1 189.8 108.4 187.6 112.4 185.3Z"/>
<path d="M302.6 63 297.5 65.7 294.6 68.6 299.7 65.7Z"/>
<path d="M233.4 113.4 228.8 116.5 225.6 120.1 230.3 116.9Z"/>
<path d="M167.7 162.3 163.4 165.3 160 166.7 164.3 163.8Z"/>
<path d="M104.3 189.9 100.3 192.2 96.5 189 100.5 186.9Z"/>
<path d="M289.5 71.5 284.5 74.4 281.5 77.7 286.6 74.6Z"/>
<path d="M220.9 123.3 216.3 126.5 213.1 129.9 217.8 126.7Z"/>
<path d="M155.8 169.5 151.5 172.4 148.1 173 152.3 170.3Z"/>
<path d="M92.5 191.1 88.5 193.2 84.5 189 88.5 187.1Z"/>
<path d="M276.5 80.7 271.6 83.7 268.6 87.2 273.5 84Z"/>
<path d="M208.6 133.1 204 136.2 200.8 139.3 205.3 136.1Z"/>
<path d="M143.9 175.8 139.7 178.5 136.2 178.3 140.4 175.7Z"/>
<path d="M263.7 90.3 258.8 93.4 255.7 97 260.6 93.8Z"/>
<path d="M196.3 142.4 191.8 145.5 188.6 148.2 193 145.1Z"/>
<path d="M132 180.9 127.9 183.5 124.3 182.5 128.5 180Z"/>
<path d="M250.9 100.2 246.1 103.3 242.9 107 247.7 103.7Z"/>
<path d="M184.1 151.2 179.7 154.3 176.4 156.4 180.8 153.4Z"/>
<path d="M120.2 184.9 116.1 187.4 112.4 185.3 116.5 183Z"/>
<path d="M238.2 110.2 233.4 113.4 230.3 116.9 235 113.7Z"/>
<path d="M172 159.4 167.7 162.3 164.3 163.8 168.7 160.9Z"/>
<path d="M108.4 187.6 104.3 189.9 100.5 186.9 104.5 184.8Z"/>
<path d="M294.6 68.6 289.5 71.5 286.6 74.6 291.6 71.6Z"/>
<path d="M225.6 120.1 220.9 123.3 217.8 126.7 222.4 123.5Z"/>
<path d="M160 166.7 155.8 169.5 152.3 170.3 156.6 167.5Z"/>
<path d="M96.5 189 92.5 191.1 88.5 187.1 92.5 185.2Z"/>
<path d="M281.5 77.7 276.5 80.7 273.5 84 278.5 80.9Z"/>
<path d="M213.1 129.9 208.6 133.1 205.3 136.1 209.9 132.9Z"/>
<path d="M148.1 173 143.9 175.8 140.4 175.7 144.6 173Z"/>
<path d="M84.5 189 80.5 190.9 76.4 185.9 80.4 184.2Z"/>
<path d="M268.6 87.2 263.7 90.3 260.6 93.8 265.5 90.6Z"/>
<path d="M200.8 139.3 196.3 142.4 193 145.1 197.5 141.9Z"/>
<path d="M136.2 178.3 132 180.9 128.5 180 132.6 177.5Z"/>
<path d="M255.7 97 250.9 100.2 247.7 103.7 252.6 100.5Z"/>
<path d="M188.6 148.2 184.1 151.2 180.8 153.4 185.3 150.3Z"/>
<path d="M124.3 182.5 120.2 184.9 116.5 183 120.6 180.7Z"/>
<path d="M242.9 107 238.2 110.2 235 113.7 239.8 110.4Z"/>
<path d="M176.4 156.4 172 159.4 168.7 160.9 173.1 157.9Z"/>
<path d="M112.4 185.3 108.4 187.6 104.5 184.8 108.6 182.7Z"/>
<path d="M299.7 65.7 294.6 68.6 291.6 71.6 296.7 68.5Z"/>
<path d="M230.3 116.9 225.6 120.1 222.4 123.5 227.1 120.2Z"/>
<path d="M164.3 163.8 160 166.7 156.6 167.5 160.9 164.6Z"/>
<path d="M100.5 186.9 96.5 189 92.5 185.2 96.5 183.3Z"/>
<path d="M286.6 74.6 281.5 77.7 278.5 80.9 283.6 77.7Z"/>
<path d="M217.8 126.7 213.1 129.9 209.9 132.9 214.6 129.7Z"/>
<path d="M152.3 170.3 148.1 173 144.6 173 148.9 170.4Z"/>
<path d="M88.5 187.1 84.5 189 80.4 184.2 84.4 182.5Z"/>
<path d="M273.5 84 268.6 87.2 265.5 90.6 270.5 87.3Z"/>
<path d="M205.3 136.1 200.8 139.3 197.5 141.9 202.1 138.8Z"/>
<path d="M140.4 175.7 136.2 178.3 132.6 177.5 136.8 175Z"/>
<path d="M260.6 93.8 255.7 97 252.6 100.5 257.5 97.2Z"/>
<path d="M193 145.1 188.6 148.2 185.3 150.3 189.7 147.2Z"/>
<path d="M128.5 180 124.3 182.5 120.6 180.7 124.8 178.4Z"/>
<path d="M247.7 103.7 242.9 107 239.8 110.4 244.6 107.1Z"/>
<path d="M180.8 153.4 176.4 156.4 173.1 157.9 177.5 155Z"/>
<path d="M116.5 183 112.4 185.3 108.6 182.7 112.7 180.5Z"/>
<path d="M235 113.7 230.3 116.9 227.1 120.2 231.9 116.9Z"/>
<path d="M168.7 160.9 164.3 163.8 160.9 164.6 165.3 161.8Z"/>
<path d="M104.5 184.8 100.5 186.9 96.5 183.3 100.6 181.3Z"/>
<path d="M291.6 71.6 286.6 74.6 283.6 77.7 288.6 74.5Z"/>
<path d="M222.4 123.5 217.8 126.7 214.6 129.7 219.2 126.4Z"/>
<path d="M156.6 167.5 152.3 170.3 148.9 170.4 153.2 167.7Z"/>
<path d="M92.5 185.2 88.5 187.1 84.4 182.5 88.4 180.7Z"/>
<path d="M278.5 80.9 273.5 84 270.5 87.3 275.5 84Z"/>
<path d="M209.9 132.9 205.3 136.1 202.1 138.8 206.7 135.6Z"/>
<path d="M144.6 173 140.4 175.7 136.8 175 141.1 172.4Z"/>
<path d="M80.4 184.2 76.4 185.9 72.1 180.3 76.2 178.8Z"/>
<path d="M265.5 90.6 260.6 93.8 257.5 97.2 262.4 93.8Z"/>
<path d="M197.5 141.9 193 145.1 189.7 147.2 194.3 144.1Z"/>
<path d="M132.6 177.5 128.5 180 124.8 178.4 129 176Z"/>
<path d="M252.6 100.5 247.7 103.7 244.6 107.1 249.5 103.7Z"/>
<path d="M185.3 150.3 180.8 153.4 177.5 155 181.9 152Z"/>
<path d="M120.6 180.7 116.5 183 112.7 180.5 116.9 178.3Z"/>
<path d="M239.8 110.4 235 113.7 231.9 116.9 236.6 113.6Z"/>
<path d="M173.1 157.9 168.7 160.9 165.3 161.8 169.7 158.9Z"/>
<path d="M108.6 182.7 104.5 184.8 100.6 181.3 104.7 179.3Z"/>
<path d="M296.7 68.5 291.6 71.6 288.6 74.5 293.8 71.2Z"/>
<path d="M227.1 120.2 222.4 123.5 219.2 126.4 223.9 123.2Z"/>
<path d="M160.9 164.6 156.6 167.5 153.2 167.7 157.5 164.9Z"/>
<path d="M96.5 183.3 92.5 185.2 88.4 180.7 92.5 179Z"/>
<path d="M283.6 77.7 278.5 80.9 275.5 84 280.5 80.7Z"/>
<path d="M214.6 129.7 209.9 132.9 206.7 135.6 211.3 132.4Z"/>
<path d="M148.9 170.4 144.6 173 141.1 172.4 145.3 169.9Z"/>
<path d="M84.4 182.5 80.4 184.2 76.2 178.8 80.2 177.2Z"/>
<path d="M270.5 87.3 265.5 90.6 262.4 93.8 267.4 90.5Z"/>
<path d="M202.1 138.8 197.5 141.9 194.3 144.1 198.8 141Z"/>
<path d="M136.8 175 132.6 177.5 129 176 133.2 173.6Z"/>
<path d="M257.5 97.2 252.6 100.5 249.5 103.7 254.4 100.4Z"/>
<path d="M189.7 147.2 185.3 150.3 181.9 152 186.4 148.9Z"/>
<path d="M124.8 178.4 120.6 180.7 116.9 178.3 121.1 176.1Z"/>
<path d="M244.6 107.1 239.8 110.4 236.6 113.6 241.5 110.2Z"/>
<path d="M177.5 155 173.1 157.9 169.7 158.9 174.1 156Z"/>
<path d="M112.7 180.5 108.6 182.7 104.7 179.3 108.9 177.3Z"/>
<path d="M231.9 116.9 227.1 120.2 223.9 123.2 228.7 119.9Z"/>
<path d="M165.3 161.8 160.9 164.6 157.5 164.9 161.9 162.2Z"/>
<path d="M100.6 181.3 96.5 183.3 92.5 179 96.6 177.2Z"/>
<path d="M288.6 74.5 283.6 77.7 280.5 80.7 285.6 77.4Z"/>
<path d="M219.2 126.4 214.6 129.7 211.3 132.4 216 129.1Z"/>
<path d="M153.2 167.7 148.9 170.4 145.3 169.9 149.6 167.3Z"/>
<path d="M88.4 180.7 84.4 182.5 80.2 177.2 84.3 175.7Z"/>
<path d="M275.5 84 270.5 87.3 267.4 90.5 272.4 87.1Z"/>
<path d="M206.7 135.6 202.1 138.8 198.8 141 203.4 137.8Z"/>
<path d="M141.1 172.4 136.8 175 133.2 173.6 137.5 171.2Z"/>
<path d="M76.2 178.8 72.1 180.3 67.8 174.1 71.8 172.8Z"/>
<path d="M262.4 93.8 257.5 97.2 254.4 100.4 259.3 97Z"/>
<path d="M194.3 144.1 189.7 147.2 186.4 148.9 191 145.9Z"/>
<path d="M129 176 124.8 178.4 121.1 176.1 125.3 173.9Z"/>
<path d="M249.5 103.7 244.6 107.1 241.5 110.2 246.3 106.8Z"/>
<path d="M181.9 152 177.5 155 174.1 156 178.6 153.1Z"/>
<path d="M116.9 178.3 112.7 180.5 108.9 177.3 113 175.3Z"/>
<path d="M236.6 113.6 231.9 116.9 228.7 119.9 233.5 116.5Z"/>
<path d="M169.7 158.9 165.3 161.8 161.9 162.2 166.3 159.4Z"/>
<path d="M104.7 179.3 100.6 181.3 96.6 177.2 100.8 175.4Z"/>
<path d="M293.8 71.2 288.6 74.5 285.6 77.4 290.8 74Z"/>
<path d="M223.9 123.2 219.2 126.4 216 129.1 220.7 125.8Z"/>
<path d="M157.5 164.9 153.2 167.7 149.6 167.3 154 164.7Z"/>
<path d="M92.5 179 88.4 180.7 84.3 175.7 88.4 174.1Z"/>
<path d="M280.5 80.7 275.5 84 272.4 87.1 277.5 83.7Z"/>
<path d="M211.3 132.4 206.7 135.6 203.4 137.8 208.1 134.7Z"/>
<path d="M145.3 169.9 141.1 172.4 137.5 171.2 141.7 168.8Z"/>
<path d="M80.2 177.2 76.2 178.8 71.8 172.8 75.9 171.5Z"/>
<path d="M267.4 90.5 262.4 93.8 259.3 97 264.3 93.6Z"/>
<path d="M198.8 141 194.3 144.1 191 145.9 195.5 142.8Z"/>
<path d="M133.2 173.6 129 176 125.3 173.9 129.5 171.7Z"/>
<path d="M254.4 100.4 249.5 103.7 246.3 106.8 251.3 103.4Z"/>
<path d="M186.4 148.9 181.9 152 178.6 153.1 183.1 150.2Z"/>
<path d="M121.1 176.1 116.9 178.3 113 175.3 117.2 173.3Z"/>
<path d="M241.5 110.2 236.6 113.6 233.5 116.5 238.3 113.1Z"/>
<path d="M174.1 156 169.7 158.9 166.3 159.4 170.7 156.6Z"/>
<path d="M108.9 177.3 104.7 179.3 100.8 175.4 104.9 173.6Z"/>
<path d="M228.7 119.9 223.9 123.2 220.7 125.8 225.5 122.5Z"/>
<path d="M161.9 162.2 157.5 164.9 154 164.7 158.4 162.1Z"/>
<path d="M96.6 177.2 92.5 179 88.4 174.1 92.5 172.5Z"/>
<path d="M285.6 77.4 280.5 80.7 277.5 83.7 282.6 80.2Z"/>
<path d="M216 129.1 211.3 132.4 208.1 134.7 212.8 131.4Z"/>
<path d="M149.6 167.3 145.3 169.9 141.7 168.8 146.1 166.4Z"/>
<path d="M84.3 175.7 80.2 177.2 75.9 171.5 80 170.1Z"/>
<path d="M272.4 87.1 267.4 90.5 264.3 93.6 269.4 90.1Z"/>
<path d="M203.4 137.8 198.8 141 195.5 142.8 200.1 139.7Z"/>
<path d="M137.5 171.2 133.2 173.6 129.5 171.7 133.8 169.5Z"/>
<path d="M71.8 172.8 67.8 174.1 63.3 167.5 67.4 166.4Z"/>
<path d="M259.3 97 254.4 100.4 251.3 103.4 256.2 100Z"/>
<path d="M191 145.9 186.4 148.9 183.1 150.2 187.6 147.2Z"/>
<path d="M125.3 173.9 121.1 176.1 117.2 173.3 121.5 171.3Z"/>
<path d="M246.3 106.8 241.5 110.2 238.3 113.1 243.2 109.7Z"/>
<path d="M178.6 153.1 174.1 156 170.7 156.6 175.2 153.8Z"/>
<path d="M113 175.3 108.9 177.3 104.9 173.6 109.1 171.8Z"/>
<path d="M233.5 116.5 228.7 119.9 225.5 122.5 230.3 119.2Z"/>
<path d="M166.3 159.4 161.9 162.2 158.4 162.1 162.8 159.4Z"/>
<path d="M100.8 175.4 96.6 177.2 92.5 172.5 96.7 170.9Z"/>
<path d="M290.8 74 285.6 77.4 282.6 80.2 287.8 76.8Z"/>
<path d="M220.7 125.8 216 129.1 212.8 131.4 217.5 128.2Z"/>
<path d="M154 164.7 149.6 167.3 146.1 166.4 150.4 163.9Z"/>
<path d="M88.4 174.1 84.3 175.7 80 170.1 84.2 168.8Z"/>
<path d="M277.5 83.7 272.4 87.1 269.4 90.1 274.4 86.6Z"/>
<path d="M208.1 134.7 203.4 137.8 200.1 139.7 204.8 136.6Z"/>
<path d="M141.7 168.8 137.5 171.2 133.8 169.5 138.1 167.2Z"/>
<path d="M75.9 171.5 71.8 172.8 67.4 166.4 71.5 165.3Z"/>
<path d="M264.3 93.6 259.3 97 256.2 100 261.2 96.5Z"/>
<path d="M195.5 142.8 191 145.9 187.6 147.2 192.2 144.2Z"/>
<path d="M129.5 171.7 125.3 173.9 121.5 171.3 125.7 169.2Z"/>
<path d="M251.3 103.4 246.3 106.8 243.2 109.7 248.1 106.3Z"/>
<path d="M183.1 150.2 178.6 153.1 175.2 153.8 179.7 151Z"/>
<path d="M117.2 173.3 113 175.3 109.1 171.8 113.4 170Z"/>
<path d="M238.3 113.1 233.5 116.5 230.3 119.2 235.1 115.8Z"/>
<path d="M170.7 156.6 166.3 159.4 162.8 159.4 167.2 156.8Z"/>
<path d="M104.9 173.6 100.8 175.4 96.7 170.9 100.9 169.3Z"/>
<path d="M225.5 122.5 220.7 125.8 217.5 128.2 222.2 124.9Z"/>
<path d="M158.4 162.1 154 164.7 150.4 163.9 154.8 161.4Z"/>
<path d="M92.5 172.5 88.4 174.1 84.2 168.8 88.4 167.4Z"/>
<path d="M282.6 80.2 277.5 83.7 274.4 86.6 279.6 83.1Z"/>
<path d="M212.8 131.4 208.1 134.7 204.8 136.6 209.5 133.4Z"/>
<path d="M146.1 166.4 141.7 168.8 138.1 167.2 142.4 164.9Z"/>
<path d="M80 170.1 75.9 171.5 71.5 165.3 75.7 164.1Z"/>
<path d="M269.4 90.1 264.3 93.6 261.2 96.5 266.3 93Z"/>
<path d="M200.1 139.7 195.5 142.8 192.2 144.2 196.8 141.2Z"/>
<path d="M133.8 169.5 129.5 171.7 125.7 169.2 130 167.2Z"/>
<path d="M67.4 166.4 63.3 167.5 58.7 160.5 62.9 159.6Z"/>
<path d="M256.2 100 251.3 103.4 248.1 106.3 253.1 102.9Z"/>
<path d="M187.6 147.2 183.1 150.2 179.7 151 184.2 148.1Z"/>
<path d="M121.5 171.3 117.2 173.3 113.4 170 117.6 168.1Z"/>
<path d="M243.2 109.7 238.3 113.1 235.1 115.8 240 112.4Z"/>
<path d="M175.2 153.8 170.7 156.6 167.2 156.8 171.7 154.1Z"/>
<path d="M109.1 171.8 104.9 173.6 100.9 169.3 105.1 167.7Z"/>
<path d="M230.3 119.2 225.5 122.5 222.2 124.9 227 121.6Z"/>
<path d="M162.8 159.4 158.4 162.1 154.8 161.4 159.3 158.9Z"/>
<path d="M96.7 170.9 92.5 172.5 88.4 167.4 92.6 166Z"/>
<path d="M287.8 76.8 282.6 80.2 279.6 83.1 284.7 79.5Z"/>
<path d="M217.5 128.2 212.8 131.4 209.5 133.4 214.2 130.3Z"/>
<path d="M150.4 163.9 146.1 166.4 142.4 164.9 146.8 162.6Z"/>
<path d="M84.2 168.8 80 170.1 75.7 164.1 79.9 163Z"/>
<path d="M274.4 86.6 269.4 90.1 266.3 93 271.4 89.5Z"/>
<path d="M204.8 136.6 200.1 139.7 196.8 141.2 201.5 138.2Z"/>
<path d="M138.1 167.2 133.8 169.5 130 167.2 134.4 165.1Z"/>
<path d="M71.5 165.3 67.4 166.4 62.9 159.6 67.1 158.7Z"/>
<path d="M261.2 96.5 256.2 100 253.1 102.9 258.1 99.4Z"/>
<path d="M192.2 144.2 187.6 147.2 184.2 148.1 188.8 145.3Z"/>
<path d="M125.7 169.2 121.5 171.3 117.6 168.1 121.9 166.3Z"/>
<path d="M248.1 106.3 243.2 109.7 240 112.4 244.9 109Z"/>
<path d="M179.7 151 175.2 153.8 171.7 154.1 176.2 151.4Z"/>
<path d="M113.4 170 109.1 171.8 105.1 167.7 109.4 166.1Z"/>
<path d="M235.1 115.8 230.3 119.2 227 121.6 231.9 118.3Z"/>
<path d="M167.2 156.8 162.8 159.4 159.3 158.9 163.7 156.4Z"/>
<path d="M100.9 169.3 96.7 170.9 92.6 166 96.8 164.6Z"/>
<path d="M222.2 124.9 217.5 128.2 214.2 130.3 219 127.1Z"/>
<path d="M154.8 161.4 150.4 163.9 146.8 162.6 151.2 160.3Z"/>
<path d="M88.4 167.4 84.2 168.8 79.9 163 84.1 161.9Z"/>
<path d="M279.6 83.1 274.4 86.6 271.4 89.5 276.5 85.9Z"/>
<path d="M209.5 133.4 204.8 136.6 201.5 138.2 206.2 135.1Z"/>
<path d="M142.4 164.9 138.1 167.2 134.4 165.1 138.7 163Z"/>
<path d="M75.7 164.1 71.5 165.3 67.1 158.7 71.3 157.9Z"/>
<path d="M266.3 93 261.2 96.5 258.1 99.4 263.1 95.8Z"/>
<path d="M196.8 141.2 192.2 144.2 188.8 145.3 193.5 142.3Z"/>
<path d="M130 167.2 125.7 169.2 121.9 166.3 126.2 164.4Z"/>
<path d="M62.9 159.6 58.7 160.5 54.1 153.3 58.3 152.7Z"/>
<path d="M253.1 102.9 248.1 106.3 244.9 109 249.9 105.6Z"/>
<path d="M184.2 148.1 179.7 151 176.2 151.4 180.8 148.6Z"/>
<path d="M117.6 168.1 113.4 170 109.4 166.1 113.7 164.5Z"/>
<path d="M240 112.4 235.1 115.8 231.9 118.3 236.8 115Z"/>
<path d="M171.7 154.1 167.2 156.8 163.7 156.4 168.2 153.9Z"/>
<path d="M105.1 167.7 100.9 169.3 96.8 164.6 101.1 163.3Z"/>
<path d="M227 121.6 222.2 124.9 219 127.1 223.8 123.8Z"/>
<path d="M159.3 158.9 154.8 161.4 151.2 160.3 155.7 158Z"/>
<path d="M92.6 166 88.4 167.4 84.1 161.9 88.3 160.7Z"/>
<path d="M284.7 79.5 279.6 83.1 276.5 85.9 281.7 82.3Z"/>
<path d="M214.2 130.3 209.5 133.4 206.2 135.1 210.9 132Z"/>
<path d="M146.8 162.6 142.4 164.9 138.7 163 143.1 160.9Z"/>
<path d="M79.9 163 75.7 164.1 71.3 157.9 75.5 157Z"/>
<path d="M271.4 89.5 266.3 93 263.1 95.8 268.2 92.3Z"/>
<path d="M201.5 138.2 196.8 141.2 193.5 142.3 198.1 139.4Z"/>
<path d="M134.4 165.1 130 167.2 126.2 164.4 130.6 162.5Z"/>
<path d="M67.1 158.7 62.9 159.6 58.3 152.7 62.5 152Z"/>
<path d="M258.1 99.4 253.1 102.9 249.9 105.6 254.9 102.1Z"/>
<path d="M188.8 145.3 184.2 148.1 180.8 148.6 185.4 145.9Z"/>
<path d="M121.9 166.3 117.6 168.1 113.7 164.5 118 162.8Z"/>
<path d="M244.9 109 240 112.4 236.8 115 241.7 111.6Z"/>
<path d="M176.2 151.4 171.7 154.1 168.2 153.9 172.8 151.3Z"/>
<path d="M109.4 166.1 105.1 167.7 101.1 163.3 105.3 161.9Z"/>
<path d="M231.9 118.3 227 121.6 223.8 123.8 228.7 120.5Z"/>
<path d="M163.7 156.4 159.3 158.9 155.7 158 160.2 155.6Z"/>
<path d="M96.8 164.6 92.6 166 88.3 160.7 92.6 159.6Z"/>
<path d="M219 127.1 214.2 130.3 210.9 132 215.7 128.9Z"/>
<path d="M151.2 160.3 146.8 162.6 143.1 160.9 147.6 158.7Z"/>
<path d="M84.1 161.9 79.9 163 75.5 157 79.7 156.1Z"/>
<path d="M276.5 85.9 271.4 89.5 268.2 92.3 273.4 88.7Z"/>
<path d="M206.2 135.1 201.5 138.2 198.1 139.4 202.8 136.4Z"/>
<path d="M138.7 163 134.4 165.1 130.6 162.5 135 160.6Z"/>
<path d="M71.3 157.9 67.1 158.7 62.5 152 66.7 151.4Z"/>
<path d="M263.1 95.8 258.1 99.4 254.9 102.1 260 98.6Z"/>
<path d="M193.5 142.3 188.8 145.3 185.4 145.9 190.1 143.1Z"/>
<path d="M126.2 164.4 121.9 166.3 118 162.8 122.4 161.2Z"/>
<path d="M249.9 105.6 244.9 109 241.7 111.6 246.7 108.1Z"/>
<path d="M180.8 148.6 176.2 151.4 172.8 151.3 177.4 148.7Z"/>
<path d="M113.7 164.5 109.4 166.1 105.3 161.9 109.7 160.4Z"/>
<path d="M236.8 115 231.9 118.3 228.7 120.5 233.6 117.3Z"/>
<path d="M168.2 153.9 163.7 156.4 160.2 155.6 164.7 153.3Z"/>
<path d="M101.1 163.3 96.8 164.6 92.6 159.6 96.9 158.4Z"/>
<path d="M223.8 123.8 219 127.1 215.7 128.9 220.5 125.7Z"/>
<path d="M155.7 158 151.2 160.3 147.6 158.7 152.1 156.6Z"/>
<path d="M88.3 160.7 84.1 161.9 79.7 156.1 84 155.2Z"/>
<path d="M281.7 82.3 276.5 85.9 273.4 88.7 278.6 85.1Z"/>
<path d="M210.9 132 206.2 135.1 202.8 136.4 207.6 133.5Z"/>
<path d="M143.1 160.9 138.7 163 135 160.6 139.4 158.7Z"/>
<path d="M75.5 157 71.3 157.9 66.7 151.4 71 150.7Z"/>
<path d="M268.2 92.3 263.1 95.8 260 98.6 265.1 95Z"/>
<path d="M198.1 139.4 193.5 142.3 190.1 143.1 194.7 140.3Z"/>
<path d="M130.6 162.5 126.2 164.4 122.4 161.2 126.7 159.5Z"/>
<path d="M254.9 102.1 249.9 105.6 246.7 108.1 251.7 104.7Z"/>
<path d="M185.4 145.9 180.8 148.6 177.4 148.7 182 146.1Z"/>
<path d="M118 162.8 113.7 164.5 109.7 160.4 114 159Z"/>
<path d="M241.7 111.6 236.8 115 233.6 117.3 238.5 113.9Z"/>
<path d="M172.8 151.3 168.2 153.9 164.7 153.3 169.2 150.9Z"/>
<path d="M105.3 161.9 101.1 163.3 96.9 158.4 101.2 157.3Z"/>
<path d="M228.7 120.5 223.8 123.8 220.5 125.7 225.4 122.6Z"/>
<path d="M160.2 155.6 155.7 158 152.1 156.6 156.6 154.4Z"/>
<path d="M92.6 159.6 88.3 160.7 84 155.2 88.3 154.2Z"/>
<path d="M215.7 128.9 210.9 132 207.6 133.5 212.4 130.5Z"/>
<path d="M147.6 158.7 143.1 160.9 139.4 158.7 143.9 156.8Z"/>
<path d="M79.7 156.1 75.5 157 71 150.7 75.3 150.1Z"/>
<path d="M273.4 88.7 268.2 92.3 265.1 95 270.3 91.4Z"/>
<path d="M202.8 136.4 198.1 139.4 194.7 140.3 199.5 137.5Z"/>
<path d="M135 160.6 130.6 162.5 126.7 159.5 131.2 157.8Z"/>
<path d="M260 98.6 254.9 102.1 251.7 104.7 256.8 101.2Z"/>
<path d="M190.1 143.1 185.4 145.9 182 146.1 186.6 143.5Z"/>
<path d="M122.4 161.2 118 162.8 114 159 118.4 157.6Z"/>
<path d="M246.7 108.1 241.7 111.6 238.5 113.9 243.5 110.6Z"/>
<path d="M177.4 148.7 172.8 151.3 169.2 150.9 173.8 148.5Z"/>
<path d="M109.7 160.4 105.3 161.9 101.2 157.3 105.6 156.1Z"/>
<path d="M233.6 117.3 228.7 120.5 225.4 122.6 230.3 119.4Z"/>
<path d="M164.7 153.3 160.2 155.6 156.6 154.4 161.1 152.3Z"/>
<path d="M96.9 158.4 92.6 159.6 88.3 154.2 92.6 153.3Z"/>
<path d="M220.5 125.7 215.7 128.9 212.4 130.5 217.2 127.4Z"/>
<path d="M152.1 156.6 147.6 158.7 143.9 156.8 148.4 154.8Z"/>
<path d="M84 155.2 79.7 156.1 75.3 150.1 79.6 149.4Z"/>
<path d="M278.6 85.1 273.4 88.7 270.3 91.4 275.5 87.8Z"/>
<path d="M207.6 133.5 202.8 136.4 199.5 137.5 204.2 134.6Z"/>
<path d="M139.4 158.7 135 160.6 131.2 157.8 135.6 156.1Z"/>
<path d="M265.1 95 260 98.6 256.8 101.2 261.9 97.7Z"/>
<path d="M194.7 140.3 190.1 143.1 186.6 143.5 191.3 140.9Z"/>
<path d="M126.7 159.5 122.4 161.2 118.4 157.6 122.8 156.1Z"/>
<path d="M251.7 104.7 246.7 108.1 243.5 110.6 248.5 107.2Z"/>
<path d="M182 146.1 177.4 148.7 173.8 148.5 178.5 146Z"/>
<path d="M114 159 109.7 160.4 105.6 156.1 110 154.9Z"/>
<path d="M238.5 113.9 233.6 117.3 230.3 119.4 235.2 116.1Z"/>
<path d="M169.2 150.9 164.7 153.3 161.1 152.3 165.7 150.1Z"/>
<path d="M101.2 157.3 96.9 158.4 92.6 153.3 97 152.4Z"/>
<path d="M225.4 122.6 220.5 125.7 217.2 127.4 222.1 124.3Z"/>
<path d="M156.6 154.4 152.1 156.6 148.4 154.8 152.9 152.9Z"/>
<path d="M88.3 154.2 84 155.2 79.6 149.4 84 148.7Z"/>
<path d="M212.4 130.5 207.6 133.5 204.2 134.6 209 131.7Z"/>
<path d="M143.9 156.8 139.4 158.7 135.6 156.1 140.1 154.4Z"/>
<path d="M270.3 91.4 265.1 95 261.9 97.7 267.1 94.2Z"/>
<path d="M199.5 137.5 194.7 140.3 191.3 140.9 196 138.2Z"/>
<path d="M131.2 157.8 126.7 159.5 122.8 156.1 127.3 154.7Z"/>
<path d="M256.8 101.2 251.7 104.7 248.5 107.2 253.6 103.8Z"/>
<path d="M186.6 143.5 182 146.1 178.5 146 183.1 143.6Z"/>
<path d="M118.4 157.6 114 159 110 154.9 114.4 153.7Z"/>
<path d="M243.5 110.6 238.5 113.9 235.2 116.1 240.2 112.9Z"/>
<path d="M173.8 148.5 169.2 150.9 165.7 150.1 170.3 147.8Z"/>
<path d="M105.6 156.1 101.2 157.3 97 152.4 101.4 151.5Z"/>
<path d="M230.3 119.4 225.4 122.6 222.1 124.3 227 121.3Z"/>
<path d="M161.1 152.3 156.6 154.4 152.9 152.9 157.5 150.9Z"/>
<path d="M92.6 153.3 88.3 154.2 84 148.7 88.3 148.1Z"/>
<path d="M217.2 127.4 212.4 130.5 209 131.7 213.9 128.8Z"/>
<path d="M148.4 154.8 143.9 156.8 140.1 154.4 144.6 152.7Z"/>
<path d="M275.5 87.8 270.3 91.4 267.1 94.2 272.3 90.6Z"/>
<path d="M204.2 134.6 199.5 137.5 196 138.2 200.8 135.5Z"/>
<path d="M135.6 156.1 131.2 157.8 127.3 154.7 131.7 153.2Z"/>
<path d="M261.9 97.7 256.8 101.2 253.6 103.8 258.7 100.3Z"/>
<path d="M191.3 140.9 186.6 143.5 183.1 143.6 187.9 141.1Z"/>
<path d="M122.8 156.1 118.4 157.6 114.4 153.7 118.8 152.5Z"/>
<path d="M248.5 107.2 243.5 110.6 240.2 112.9 245.3 109.6Z"/>
<path d="M178.5 146 173.8 148.5 170.3 147.8 174.9 145.6Z"/>
<path d="M110 154.9 105.6 156.1 101.4 151.5 105.8 150.5Z"/>
<path d="M235.2 116.1 230.3 119.4 227 121.3 232 118.1Z"/>
<path d="M165.7 150.1 161.1 152.3 157.5 150.9 162 148.9Z"/>
<path d="M97 152.4 92.6 153.3 88.3 148.1 92.7 147.4Z"/>
<path d="M222.1 124.3 217.2 127.4 213.9 128.8 218.8 125.9Z"/>
<path d="M152.9 152.9 148.4 154.8 144.6 152.7 149.2 151Z"/>
<path d="M209 131.7 204.2 134.6 200.8 135.5 205.6 132.8Z"/>
<path d="M140.1 154.4 135.6 156.1 131.7 153.2 136.3 151.8Z"/>
<path d="M267.1 94.2 261.9 97.7 258.7 100.3 263.9 96.8Z"/>
<path d="M196 138.2 191.3 140.9 187.9 141.1 192.6 138.6Z"/>
<path d="M127.3 154.7 122.8 156.1 118.8 152.5 123.3 151.3Z"/>
<path d="M253.6 103.8 248.5 107.2 245.3 109.6 250.4 106.2Z"/>
<path d="M183.1 143.6 178.5 146 174.9 145.6 179.6 143.4Z"/>
<path d="M114.4 153.7 110 154.9 105.8 150.5 110.3 149.6Z"/>
<path d="M240.2 112.9 235.2 116.1 232 118.1 237 115Z"/>
<path d="M170.3 147.8 165.7 150.1 162 148.9 166.7 146.9Z"/>
<path d="M101.4 151.5 97 152.4 92.7 147.4 97.2 146.7Z"/>
<path d="M227 121.3 222.1 124.3 218.8 125.9 223.7 123Z"/>
<path d="M157.5 150.9 152.9 152.9 149.2 151 153.7 149.2Z"/>
<path d="M213.9 128.8 209 131.7 205.6 132.8 210.5 130.1Z"/>
<path d="M144.6 152.7 140.1 154.4 136.3 151.8 140.8 150.3Z"/>
<path d="M272.3 90.6 267.1 94.2 263.9 96.8 269.1 93.3Z"/>
<path d="M200.8 135.5 196 138.2 192.6 138.6 197.4 136.1Z"/>
<path d="M131.7 153.2 127.3 154.7 123.3 151.3 127.8 150.1Z"/>
<path d="M258.7 100.3 253.6 103.8 250.4 106.2 255.5 102.9Z"/>
<path d="M187.9 141.1 183.1 143.6 179.6 143.4 184.3 141.1Z"/>
<path d="M118.8 152.5 114.4 153.7 110.3 149.6 114.8 148.6Z"/>
<path d="M245.3 109.6 240.2 112.9 237 115 242 111.8Z"/>
<path d="M174.9 145.6 170.3 147.8 166.7 146.9 171.3 144.9Z"/>
<path d="M105.8 150.5 101.4 151.5 97.2 146.7 101.6 146Z"/>
<path d="M232 118.1 227 121.3 223.7 123 228.7 120Z"/>
<path d="M162 148.9 157.5 150.9 153.7 149.2 158.4 147.5Z"/>
<path d="M218.8 125.9 213.9 128.8 210.5 130.1 215.4 127.3Z"/>
<path d="M149.2 151 144.6 152.7 140.8 150.3 145.4 148.8Z"/>
<path d="M205.6 132.8 200.8 135.5 197.4 136.1 202.2 133.6Z"/>
<path d="M136.3 151.8 131.7 153.2 127.8 150.1 132.4 148.9Z"/>
<path d="M263.9 96.8 258.7 100.3 255.5 102.9 260.7 99.5Z"/>
<path d="M192.6 138.6 187.9 141.1 184.3 141.1 189.1 138.8Z"/>
<path d="M123.3 151.3 118.8 152.5 114.8 148.6 119.3 147.7Z"/>
<path d="M250.4 106.2 245.3 109.6 242 111.8 247.1 108.6Z"/>
<path d="M179.6 143.4 174.9 145.6 171.3 144.9 176.1 142.9Z"/>
<path d="M110.3 149.6 105.8 150.5 101.6 146 106.1 145.4Z"/>
<path d="M237 115 232 118.1 228.7 120 233.7 117Z"/>
<path d="M166.7 146.9 162 148.9 158.4 147.5 163 145.7Z"/>
<path d="M223.7 123 218.8 125.9 215.4 127.3 220.3 124.5Z"/>
<path d="M153.7 149.2 149.2 151 145.4 148.8 150 147.3Z"/>
<path d="M210.5 130.1 205.6 132.8 202.2 133.6 207.1 131Z"/>
<path d="M140.8 150.3 136.3 151.8 132.4 148.9 136.9 147.6Z"/>
<path d="M269.1 93.3 263.9 96.8 260.7 99.5 265.9 96.1Z"/>
<path d="M197.4 136.1 192.6 138.6 189.1 138.8 193.9 136.5Z"/>
<path d="M127.8 150.1 123.3 151.3 119.3 147.7 123.8 146.7Z"/>
<path d="M255.5 102.9 250.4 106.2 247.1 108.6 252.3 105.4Z"/>
<path d="M184.3 141.1 179.6 143.4 176.1 142.9 180.8 140.8Z"/>
<path d="M114.8 148.6 110.3 149.6 106.1 145.4 110.6 144.7Z"/>
<path d="M242 111.8 237 115 233.7 117 238.7 114Z"/>
<path d="M171.3 144.9 166.7 146.9 163 145.7 167.7 143.9Z"/>
<path d="M228.7 120 223.7 123 220.3 124.5 225.3 121.7Z"/>
<path d="M158.4 147.5 153.7 149.2 150 147.3 154.6 145.8Z"/>
<path d="M215.4 127.3 210.5 130.1 207.1 131 212 128.5Z"/>
<path d="M145.4 148.8 140.8 150.3 136.9 147.6 141.5 146.4Z"/>
<path d="M202.2 133.6 197.4 136.1 193.9 136.5 198.8 134.2Z"/>
<path d="M132.4 148.9 127.8 150.1 123.8 146.7 128.4 145.8Z"/>
<path d="M260.7 99.5 255.5 102.9 252.3 105.4 257.5 102.1Z"/>
<path d="M189.1 138.8 184.3 141.1 180.8 140.8 185.6 138.7Z"/>
<path d="M119.3 147.7 114.8 148.6 110.6 144.7 115.2 144Z"/>
<path d="M247.1 108.6 242 111.8 238.7 114 243.8 110.9Z"/>
<path d="M176.1 142.9 171.3 144.9 167.7 143.9 172.4 142.1Z"/>
<path d="M233.7 117 228.7 120 225.3 121.7 230.3 118.9Z"/>
<path d="M163 145.7 158.4 147.5 154.6 145.8 159.3 144.2Z"/>
<path d="M220.3 124.5 215.4 127.3 212 128.5 216.9 125.9Z"/>
<path d="M150 147.3 145.4 148.8 141.5 146.4 146.2 145.1Z"/>
<path d="M207.1 131 202.2 133.6 198.8 134.2 203.6 131.8Z"/>
<path d="M136.9 147.6 132.4 148.9 128.4 145.8 133 144.8Z"/>
<path d="M265.9 96.1 260.7 99.5 257.5 102.1 262.7 98.8Z"/>
<path d="M193.9 136.5 189.1 138.8 185.6 138.7 190.4 136.7Z"/>
<path d="M123.8 146.7 119.3 147.7 115.2 144 119.7 143.3Z"/>
<path d="M252.3 105.4 247.1 108.6 243.8 110.9 249 107.8Z"/>
<path d="M180.8 140.8 176.1 142.9 172.4 142.1 177.2 140.3Z"/>
<path d="M238.7 114 233.7 117 230.3 118.9 235.4 116Z"/>
<path d="M167.7 143.9 163 145.7 159.3 144.2 164 142.7Z"/>
<path d="M225.3 121.7 220.3 124.5 216.9 125.9 221.9 123.3Z"/>
<path d="M154.6 145.8 150 147.3 146.2 145.1 150.8 143.9Z"/>
<path d="M212 128.5 207.1 131 203.6 131.8 208.6 129.5Z"/>
<path d="M141.5 146.4 136.9 147.6 133 144.8 137.6 143.8Z"/>
<path d="M198.8 134.2 193.9 136.5 190.4 136.7 195.2 134.6Z"/>
<path d="M128.4 145.8 123.8 146.7 119.7 143.3 124.3 142.6Z"/>
<path d="M257.5 102.1 252.3 105.4 249 107.8 254.2 104.7Z"/>
<path d="M185.6 138.7 180.8 140.8 177.2 140.3 182 138.5Z"/>
<path d="M243.8 110.9 238.7 114 235.4 116 240.5 113.1Z"/>
<path d="M172.4 142.1 167.7 143.9 164 142.7 168.8 141.1Z"/>
<path d="M230.3 118.9 225.3 121.7 221.9 123.3 227 120.6Z"/>
<path d="M159.3 144.2 154.6 145.8 150.8 143.9 155.5 142.6Z"/>
<path d="M216.9 125.9 212 128.5 208.6 129.5 213.5 127.1Z"/>
<path d="M146.2 145.1 141.5 146.4 137.6 143.8 142.3 142.8Z"/>
<path d="M203.6 131.8 198.8 134.2 195.2 134.6 200.1 132.4Z"/>
<path d="M133 144.8 128.4 145.8 124.3 142.6 129 141.9Z"/>
<path d="M262.7 98.8 257.5 102.1 254.2 104.7 259.4 101.6Z"/>
<path d="M190.4 136.7 185.6 138.7 182 138.5 186.8 136.6Z"/>
<path d="M249 107.8 243.8 110.9 240.5 113.1 245.7 110.2Z"/>
<path d="M177.2 140.3 172.4 142.1 168.8 141.1 173.5 139.6Z"/>
<path d="M235.4 116 230.3 118.9 227 120.6 232 118Z"/>
<path d="M164 142.7 159.3 144.2 155.5 142.6 160.3 141.3Z"/>
<path d="M221.9 123.3 216.9 125.9 213.5 127.1 218.5 124.7Z"/>
<path d="M150.8 143.9 146.2 145.1 142.3 142.8 147 141.8Z"/>
<path d="M208.6 129.5 203.6 131.8 200.1 132.4 205.1 130.3Z"/>
<path d="M137.6 143.8 133 144.8 129 141.9 133.6 141.2Z"/>
<path d="M195.2 134.6 190.4 136.7 186.8 136.6 191.7 134.8Z"/>
<path d="M254.2 104.7 249 107.8 245.7 110.2 250.9 107.3Z"/>
<path d="M182 138.5 177.2 140.3 173.5 139.6 178.4 138Z"/>
<path d="M240.5 113.1 235.4 116 232 118 237.2 115.3Z"/>
<path d="M168.8 141.1 164 142.7 160.3 141.3 165 140Z"/>
<path d="M227 120.6 221.9 123.3 218.5 124.7 223.6 122.3Z"/>
<path d="M155.5 142.6 150.8 143.9 147 141.8 151.7 140.8Z"/>
<path d="M213.5 127.1 208.6 129.5 205.1 130.3 210.1 128.2Z"/>
<path d="M142.3 142.8 137.6 143.8 133.6 141.2 138.3 140.4Z"/>
<path d="M200.1 132.4 195.2 134.6 191.7 134.8 196.6 132.9Z"/>
<path d="M259.4 101.6 254.2 104.7 250.9 107.3 256.1 104.3Z"/>
<path d="M186.8 136.6 182 138.5 178.4 138 183.2 136.4Z"/>
<path d="M245.7 110.2 240.5 113.1 237.2 115.3 242.3 112.6Z"/>
<path d="M173.5 139.6 168.8 141.1 165 140 169.9 138.7Z"/>
<path d="M232 118 227 120.6 223.6 122.3 228.6 119.8Z"/>
<path d="M160.3 141.3 155.5 142.6 151.7 140.8 156.5 139.8Z"/>
<path d="M218.5 124.7 213.5 127.1 210.1 128.2 215.1 126Z"/>
<path d="M147 141.8 142.3 142.8 138.3 140.4 143.1 139.7Z"/>
<path d="M205.1 130.3 200.1 132.4 196.6 132.9 201.6 131Z"/>
<path d="M191.7 134.8 186.8 136.6 183.2 136.4 188.1 134.8Z"/>
<path d="M250.9 107.3 245.7 110.2 242.3 112.6 247.5 109.8Z"/>
<path d="M178.4 138 173.5 139.6 169.9 138.7 174.7 137.4Z"/>
<path d="M237.2 115.3 232 118 228.6 119.8 233.8 117.4Z"/>
<path d="M165 140 160.3 141.3 156.5 139.8 161.3 138.8Z"/>
<path d="M223.6 122.3 218.5 124.7 215.1 126 220.1 123.8Z"/>
<path d="M151.7 140.8 147 141.8 143.1 139.7 147.8 139Z"/>
<path d="M210.1 128.2 205.1 130.3 201.6 131 206.5 129.1Z"/>
<path d="M196.6 132.9 191.7 134.8 188.1 134.8 193 133.2Z"/>
<path d="M256.1 104.3 250.9 107.3 247.5 109.8 252.8 107.1Z"/>
<path d="M183.2 136.4 178.4 138 174.7 137.4 179.6 136.1Z"/>
<path d="M242.3 112.6 237.2 115.3 233.8 117.4 238.9 114.9Z"/>
<path d="M169.9 138.7 165 140 161.3 138.8 166.1 137.8Z"/>
<path d="M228.6 119.8 223.6 122.3 220.1 123.8 225.2 121.6Z"/>
<path d="M156.5 139.8 151.7 140.8 147.8 139 152.6 138.3Z"/>
<path d="M215.1 126 210.1 128.2 206.5 129.1 211.6 127.2Z"/>
<path d="M201.6 131 196.6 132.9 193 133.2 198 131.6Z"/>
<path d="M188.1 134.8 183.2 136.4 179.6 136.1 184.5 134.8Z"/>
<path d="M247.5 109.8 242.3 112.6 238.9 114.9 244.2 112.4Z"/>
<path d="M174.7 137.4 169.9 138.7 166.1 137.8 171 136.8Z"/>
<path d="M233.8 117.4 228.6 119.8 225.2 121.6 230.4 119.4Z"/>
<path d="M161.3 138.8 156.5 139.8 152.6 138.3 157.4 137.5Z"/>
<path d="M220.1 123.8 215.1 126 211.6 127.2 216.6 125.3Z"/>
<path d="M206.5 129.1 201.6 131 198 131.6 203 130Z"/>
<path d="M193 133.2 188.1 134.8 184.5 134.8 189.4 133.5Z"/>
<path d="M252.8 107.1 247.5 109.8 244.2 112.4 249.4 109.8Z"/>
<path d="M179.6 136.1 174.7 137.4 171 136.8 175.9 135.7Z"/>
<path d="M238.9 114.9 233.8 117.4 230.4 119.4 235.5 117.1Z"/>
<path d="M166.1 137.8 161.3 138.8 157.4 137.5 162.3 136.8Z"/>
<path d="M225.2 121.6 220.1 123.8 216.6 125.3 221.7 123.3Z"/>
<path d="M211.6 127.2 206.5 129.1 203 130 208 128.3Z"/>
<path d="M198 131.6 193 133.2 189.4 133.5 194.4 132.1Z"/>
<path d="M184.5 134.8 179.6 136.1 175.9 135.7 180.8 134.7Z"/>
<path d="M244.2 112.4 238.9 114.9 235.5 117.1 240.8 114.9Z"/>
<path d="M171 136.8 166.1 137.8 162.3 136.8 167.2 136Z"/>
<path d="M230.4 119.4 225.2 121.6 221.7 123.3 226.9 121.4Z"/>
<path d="M216.6 125.3 211.6 127.2 208 128.3 213.1 126.7Z"/>
<path d="M203 130 198 131.6 194.4 132.1 199.4 130.8Z"/>
<path d="M189.4 133.5 184.5 134.8 180.8 134.7 185.8 133.6Z"/>
<path d="M249.4 109.8 244.2 112.4 240.8 114.9 246 112.6Z"/>
<path d="M175.9 135.7 171 136.8 167.2 136 172.1 135.3Z"/>
<path d="M235.5 117.1 230.4 119.4 226.9 121.4 232.1 119.4Z"/>
<path d="M221.7 123.3 216.6 125.3 213.1 126.7 218.2 125Z"/>
<path d="M208 128.3 203 130 199.4 130.8 204.5 129.4Z"/>
<path d="M194.4 132.1 189.4 133.5 185.8 133.6 190.8 132.6Z"/>
<path d="M180.8 134.7 175.9 135.7 172.1 135.3 177.1 134.5Z"/>
<path d="M240.8 114.9 235.5 117.1 232.1 119.4 237.3 117.4Z"/>
<path d="M226.9 121.4 221.7 123.3 218.2 125 223.4 123.3Z"/>
<path d="M213.1 126.7 208 128.3 204.5 129.4 209.6 128Z"/>
<path d="M199.4 130.8 194.4 132.1 190.8 132.6 195.8 131.5Z"/>
<path d="M185.8 133.6 180.8 134.7 177.1 134.5 182 133.8Z"/>
<path d="M246 112.6 240.8 114.9 237.3 117.4 242.6 115.4Z"/>
<path d="M232.1 119.4 226.9 121.4 223.4 123.3 228.6 121.6Z"/>
<path d="M218.2 125 213.1 126.7 209.6 128 214.7 126.6Z"/>
<path d="M204.5 129.4 199.4 130.8 195.8 131.5 200.9 130.4Z"/>
<path d="M190.8 132.6 185.8 133.6 182 133.8 187.1 133Z"/>
<path d="M237.3 117.4 232.1 119.4 228.6 121.6 233.8 119.9Z"/>
<path d="M223.4 123.3 218.2 125 214.7 126.6 219.9 125.2Z"/>
<path d="M209.6 128 204.5 129.4 200.9 130.4 206 129.4Z"/>
<path d="M195.8 131.5 190.8 132.6 187.1 133 192.1 132.2Z"/>
<path d="M242.6 115.4 237.3 117.4 233.8 119.9 239.1 118.2Z"/>
<path d="M228.6 121.6 223.4 123.3 219.9 125.2 225.1 123.8Z"/>
<path d="M214.7 126.6 209.6 128 206 129.4 211.1 128.3Z"/>
<path d="M200.9 130.4 195.8 131.5 192.1 132.2 197.2 131.5Z"/>
<path d="M233.8 119.9 228.6 121.6 225.1 123.8 230.3 122.4Z"/>
<path d="M219.9 125.2 214.7 126.6 211.1 128.3 216.3 127.2Z"/>
<path d="M206 129.4 200.9 130.4 197.2 131.5 202.3 130.7Z"/>
<path d="M239.1 118.2 233.8 119.9 230.3 122.4 235.6 121Z"/>
<path d="M225.1 123.8 219.9 125.2 216.3 127.2 221.5 126.1Z"/>
<path d="M211.1 128.3 206 129.4 202.3 130.7 207.5 129.9Z"/>
<path d="M230.3 122.4 225.1 123.8 221.5 126.1 226.8 125Z"/>
<path d="M216.3 127.2 211.1 128.3 207.5 129.9 212.7 129.1Z"/>
<path d="M235.6 121 230.3 122.4 226.8 125 232.1 123.8Z"/>
<path d="M221.5 126.1 216.3 127.2 212.7 129.1 217.9 128.3Z"/>
<path d="M226.8 125 221.5 126.1 217.9 128.3 223.2 127.5Z"/>
<path d="M232.1 123.8 226.8 125 223.2 127.5 228.5 126.7Z"/></g>
<text class="tl" transform="translate(41.7 223) scale(1 1.12)">-0.8</text>
<text class="tl" transform="translate(39.3 188.2) scale(1 1.12)">-0.6</text>
<text class="tl" transform="translate(36.8 152.2) scale(1 1.12)">-0.4</text>
<text class="tl" transform="translate(34.2 114.7) scale(1 1.12)">-0.2</text>
<text class="tl" transform="translate(176.5 302.7) scale(1 1.12)">50</text>
<text class="tl" transform="translate(131.3 286.8) scale(1 1.12)">100</text>
<text class="tl" transform="translate(88 271.5) scale(1 1.12)">150</text>
<text class="tl" transform="translate(318.5 219) scale(1 1.12)">0</text>
<text class="tl" transform="translate(305.4 233.7) scale(1 1.12)">5</text>
<text class="tl" transform="translate(291.8 249.1) scale(1 1.12)">10</text>
<text class="tl" transform="translate(277.6 265.1) scale(1 1.12)">15</text>
<text class="tl" transform="translate(262.8 281.9) scale(1 1.12)">20</text>
<text class="tl" transform="translate(247.2 299.4) scale(1 1.12)">25</text>
<text class="tt" transform="translate(11.5 175) rotate(86)" y="3">Change of SBP (mmHg)</text>
<text class="tt" transform="translate(121.6 304) rotate(19.4)" y="3">O<tspan class="sub" dy="2">3</tspan><tspan dy="-2"> exposure (μg/m</tspan><tspan class="sup" dy="-4">3</tspan><tspan dy="4">)</tspan></text>
<text class="tt" transform="translate(298.8 271.3) rotate(-48.2)" y="3" style="font-size:12.6px">Lag (days)</text></g>
<g><line class="dt" x1="408.1" y1="70.4" x2="591" y2="120.5"/>
<line class="dt" x1="683.7" y1="38.5" x2="591" y2="120.5"/>
<line class="dt" x1="591" y1="120.5" x2="587.3" y2="299.3"/>
<line class="bx" x1="516.4" y1="0.2" x2="408.1" y2="70.4"/>
<line class="bx" x1="516.4" y1="0.2" x2="683.7" y2="38.5"/>
<line class="bx" x1="516.4" y1="0.2" x2="518.9" y2="156.5"/>
<line class="bx" x1="408.1" y1="70.4" x2="420" y2="240.5"/>
<line class="bx" x1="683.7" y1="38.5" x2="673" y2="202.5"/>
<line class="bx" x1="420" y1="240.5" x2="518.9" y2="156.5"/>
<line class="bx" x1="673" y1="202.5" x2="518.9" y2="156.5"/>
<line class="bx" x1="420" y1="240.5" x2="587.3" y2="299.3"/>
<line class="bx" x1="587.3" y1="299.3" x2="673" y2="202.5"/>
<line class="bx" x1="417.7" y1="207.8" x2="409.5" y2="208.9"/>
<line class="bx" x1="414.6" y1="163.7" x2="406.3" y2="164.8"/>
<line class="bx" x1="411.4" y1="117.5" x2="402.8" y2="118.6"/>
<line class="bx" x1="544.2" y1="284.2" x2="541.2" y2="292.2"/>
<line class="bx" x1="498.2" y1="268" x2="495.2" y2="275.8"/>
<line class="bx" x1="454.1" y1="252.4" x2="451" y2="260.1"/>
<line class="bx" x1="673" y1="202.5" x2="677.7" y2="208.5"/>
<line class="bx" x1="659.7" y1="217.5" x2="664.5" y2="223.6"/>
<line class="bx" x1="645.9" y1="233.2" x2="650.7" y2="239.4"/>
<line class="bx" x1="631.4" y1="249.5" x2="636.4" y2="255.9"/>
<line class="bx" x1="616.3" y1="266.6" x2="621.4" y2="273.1"/>
<line class="bx" x1="600.5" y1="284.4" x2="605.7" y2="291.1"/>
<g class="sf"><path d="M520.6 2.9 516.4 0.8 513.4 19.3 517.6 21Z"/>
<path d="M524.9 5 520.6 2.9 517.6 21 521.8 22.7Z"/>
<path d="M529.1 7.1 524.9 5 521.8 22.7 526 24.4Z"/>
<path d="M517.6 21 513.4 19.3 510.4 37.6 514.6 38.9Z"/>
<path d="M533.4 9.2 529.1 7.1 526 24.4 530.3 26.2Z"/>
<path d="M521.8 22.7 517.6 21 514.6 38.9 518.8 40.2Z"/>
<path d="M537.7 11.4 533.4 9.2 530.3 26.2 534.5 27.9Z"/>
<path d="M526 24.4 521.8 22.7 518.8 40.2 523 41.5Z"/>
<path d="M514.6 38.9 510.4 37.6 507.4 55.4 511.6 56.3Z"/>
<path d="M541.9 13.5 537.7 11.4 534.5 27.9 538.8 29.6Z"/>
<path d="M530.3 26.2 526 24.4 523 41.5 527.2 42.8Z"/>
<path d="M518.8 40.2 514.6 38.9 511.6 56.3 515.7 57.2Z"/>
<path d="M546.2 15.6 541.9 13.5 538.8 29.6 543.1 31.3Z"/>
<path d="M534.5 27.9 530.3 26.2 527.2 42.8 531.4 44.1Z"/>
<path d="M523 41.5 518.8 40.2 515.7 57.2 519.9 58.2Z"/>
<path d="M511.6 56.3 507.4 55.4 504.5 72.7 508.6 73.2Z"/>
<path d="M550.6 17.8 546.2 15.6 543.1 31.3 547.4 33Z"/>
<path d="M538.8 29.6 534.5 27.9 531.4 44.1 535.7 45.4Z"/>
<path d="M527.2 42.8 523 41.5 519.9 58.2 524.1 59.1Z"/>
<path d="M515.7 57.2 511.6 56.3 508.6 73.2 512.7 73.8Z"/>
<path d="M554.9 19.9 550.6 17.8 547.4 33 551.7 34.8Z"/>
<path d="M543.1 31.3 538.8 29.6 535.7 45.4 539.9 46.8Z"/>
<path d="M531.4 44.1 527.2 42.8 524.1 59.1 528.3 60Z"/>
<path d="M519.9 58.2 515.7 57.2 512.7 73.8 516.9 74.3Z"/>
<path d="M508.6 73.2 504.5 72.7 501.5 89.3 505.6 89.5Z"/>
<path d="M559.2 22.1 554.9 19.9 551.7 34.8 556 36.5Z"/>
<path d="M547.4 33 543.1 31.3 539.9 46.8 544.2 48.1Z"/>
<path d="M535.7 45.4 531.4 44.1 528.3 60 532.6 61Z"/>
<path d="M524.1 59.1 519.9 58.2 516.9 74.3 521.1 74.9Z"/>
<path d="M512.7 73.8 508.6 73.2 505.6 89.5 509.7 89.7Z"/>
<path d="M563.5 24.3 559.2 22.1 556 36.5 560.3 38.3Z"/>
<path d="M551.7 34.8 547.4 33 544.2 48.1 548.5 49.4Z"/>
<path d="M539.9 46.8 535.7 45.4 532.6 61 536.8 61.9Z"/>
<path d="M528.3 60 524.1 59.1 521.1 74.9 525.2 75.5Z"/>
<path d="M516.9 74.3 512.7 73.8 509.7 89.7 513.8 89.9Z"/>
<path d="M567.9 26.4 563.5 24.3 560.3 38.3 564.7 40Z"/>
<path d="M505.6 89.5 501.5 89.3 498.5 105.1 502.6 105Z"/>
<path d="M556 36.5 551.7 34.8 548.5 49.4 552.8 50.8Z"/>
<path d="M544.2 48.1 539.9 46.8 536.8 61.9 541.1 62.8Z"/>
<path d="M532.6 61 528.3 60 525.2 75.5 529.5 76Z"/>
<path d="M521.1 74.9 516.9 74.3 513.8 89.9 518 90.1Z"/>
<path d="M572.3 28.6 567.9 26.4 564.7 40 569.1 41.8Z"/>
<path d="M509.7 89.7 505.6 89.5 502.6 105 506.7 104.9Z"/>
<path d="M560.3 38.3 556 36.5 552.8 50.8 557.1 52.1Z"/>
<path d="M548.5 49.4 544.2 48.1 541.1 62.8 545.3 63.8Z"/>
<path d="M536.8 61.9 532.6 61 529.5 76 533.7 76.6Z"/>
<path d="M525.2 75.5 521.1 74.9 518 90.1 522.2 90.4Z"/>
<path d="M576.7 30.8 572.3 28.6 569.1 41.8 573.4 43.5Z"/>
<path d="M513.8 89.9 509.7 89.7 506.7 104.9 510.8 104.8Z"/>
<path d="M564.7 40 560.3 38.3 557.1 52.1 561.5 53.5Z"/>
<path d="M502.6 105 498.5 105.1 495.6 120 499.6 119.6Z"/>
<path d="M552.8 50.8 548.5 49.4 545.3 63.8 549.6 64.7Z"/>
<path d="M541.1 62.8 536.8 61.9 533.7 76.6 537.9 77.2Z"/>
<path d="M529.5 76 525.2 75.5 522.2 90.4 526.4 90.6Z"/>
<path d="M581 33 576.7 30.8 573.4 43.5 577.8 45.3Z"/>
<path d="M518 90.1 513.8 89.9 510.8 104.8 514.9 104.7Z"/>
<path d="M569.1 41.8 564.7 40 561.5 53.5 565.8 54.8Z"/>
<path d="M506.7 104.9 502.6 105 499.6 119.6 503.7 119.3Z"/>
<path d="M557.1 52.1 552.8 50.8 549.6 64.7 554 65.7Z"/>
<path d="M545.3 63.8 541.1 62.8 537.9 77.2 542.2 77.8Z"/>
<path d="M533.7 76.6 529.5 76 526.4 90.6 530.6 90.8Z"/>
<path d="M585.4 35.2 581 33 577.8 45.3 582.2 47.1Z"/>
<path d="M522.2 90.4 518 90.1 514.9 104.7 519.1 104.6Z"/>
<path d="M573.4 43.5 569.1 41.8 565.8 54.8 570.2 56.2Z"/>
<path d="M510.8 104.8 506.7 104.9 503.7 119.3 507.8 118.9Z"/>
<path d="M561.5 53.5 557.1 52.1 554 65.7 558.3 66.6Z"/>
<path d="M499.6 119.6 495.6 120 492.6 134 496.6 133.3Z"/>
<path d="M549.6 64.7 545.3 63.8 542.2 77.8 546.5 78.3Z"/>
<path d="M537.9 77.2 533.7 76.6 530.6 90.8 534.8 91Z"/>
<path d="M589.9 37.4 585.4 35.2 582.2 47.1 586.6 48.9Z"/>
<path d="M526.4 90.6 522.2 90.4 519.1 104.6 523.3 104.5Z"/>
<path d="M577.8 45.3 573.4 43.5 570.2 56.2 574.6 57.5Z"/>
<path d="M514.9 104.7 510.8 104.8 507.8 118.9 511.9 118.5Z"/>
<path d="M565.8 54.8 561.5 53.5 558.3 66.6 562.6 67.6Z"/>
<path d="M503.7 119.3 499.6 119.6 496.6 133.3 500.7 132.7Z"/>
<path d="M554 65.7 549.6 64.7 546.5 78.3 550.8 78.9Z"/>
<path d="M542.2 77.8 537.9 77.2 534.8 91 539 91.3Z"/>
<path d="M594.3 39.6 589.9 37.4 586.6 48.9 591.1 50.7Z"/>
<path d="M530.6 90.8 526.4 90.6 523.3 104.5 527.5 104.4Z"/>
<path d="M582.2 47.1 577.8 45.3 574.6 57.5 579 58.9Z"/>
<path d="M519.1 104.6 514.9 104.7 511.9 118.5 516 118.1Z"/>
<path d="M570.2 56.2 565.8 54.8 562.6 67.6 567 68.6Z"/>
<path d="M507.8 118.9 503.7 119.3 500.7 132.7 504.7 132Z"/>
<path d="M558.3 66.6 554 65.7 550.8 78.9 555.1 79.5Z"/>
<path d="M496.6 133.3 492.6 134 489.6 146.9 493.6 146Z"/>
<path d="M546.5 78.3 542.2 77.8 539 91.3 543.3 91.5Z"/>
<path d="M598.7 41.8 594.3 39.6 591.1 50.7 595.5 52.5Z"/>
<path d="M534.8 91 530.6 90.8 527.5 104.4 531.7 104.3Z"/>
<path d="M586.6 48.9 582.2 47.1 579 58.9 583.4 60.3Z"/>
<path d="M523.3 104.5 519.1 104.6 516 118.1 520.2 117.7Z"/>
<path d="M574.6 57.5 570.2 56.2 567 68.6 571.4 69.5Z"/>
<path d="M511.9 118.5 507.8 118.9 504.7 132 508.8 131.4Z"/>
<path d="M562.6 67.6 558.3 66.6 555.1 79.5 559.4 80.1Z"/>
<path d="M500.7 132.7 496.6 133.3 493.6 146 497.6 145.1Z"/>
<path d="M550.8 78.9 546.5 78.3 543.3 91.5 547.6 91.7Z"/>
<path d="M603.2 44 598.7 41.8 595.5 52.5 600 54.3Z"/>
<path d="M539 91.3 534.8 91 531.7 104.3 535.9 104.2Z"/>
<path d="M591.1 50.7 586.6 48.9 583.4 60.3 587.9 61.6Z"/>
<path d="M527.5 104.4 523.3 104.5 520.2 117.7 524.3 117.3Z"/>
<path d="M579 58.9 574.6 57.5 571.4 69.5 575.8 70.5Z"/>
<path d="M516 118.1 511.9 118.5 508.8 131.4 512.9 130.7Z"/>
<path d="M567 68.6 562.6 67.6 559.4 80.1 563.8 80.7Z"/>
<path d="M504.7 132 500.7 132.7 497.6 145.1 501.7 144.2Z"/>
<path d="M555.1 79.5 550.8 78.9 547.6 91.7 551.9 92Z"/>
<path d="M493.6 146 489.6 146.9 486.6 158.6 490.6 157.5Z"/>
<path d="M607.7 46.2 603.2 44 600 54.3 604.5 56.1Z"/>
<path d="M543.3 91.5 539 91.3 535.9 104.2 540.2 104.1Z"/>
<path d="M595.5 52.5 591.1 50.7 587.9 61.6 592.3 63Z"/>
<path d="M531.7 104.3 527.5 104.4 524.3 117.3 528.5 116.9Z"/>
<path d="M583.4 60.3 579 58.9 575.8 70.5 580.2 71.5Z"/>
<path d="M520.2 117.7 516 118.1 512.9 130.7 517.1 130.1Z"/>
<path d="M571.4 69.5 567 68.6 563.8 80.7 568.2 81.3Z"/>
<path d="M508.8 131.4 504.7 132 501.7 144.2 505.7 143.3Z"/>
<path d="M559.4 80.1 555.1 79.5 551.9 92 556.2 92.2Z"/>
<path d="M497.6 145.1 493.6 146 490.6 157.5 494.6 156.4Z"/>
<path d="M612.1 48.5 607.7 46.2 604.5 56.1 608.9 57.9Z"/>
<path d="M547.6 91.7 543.3 91.5 540.2 104.1 544.4 104Z"/>
<path d="M600 54.3 595.5 52.5 592.3 63 596.8 64.4Z"/>
<path d="M535.9 104.2 531.7 104.3 528.5 116.9 532.8 116.5Z"/>
<path d="M587.9 61.6 583.4 60.3 580.2 71.5 584.6 72.5Z"/>
<path d="M524.3 117.3 520.2 117.7 517.1 130.1 521.2 129.4Z"/>
<path d="M575.8 70.5 571.4 69.5 568.2 81.3 572.6 81.9Z"/>
<path d="M512.9 130.7 508.8 131.4 505.7 143.3 509.8 142.4Z"/>
<path d="M563.8 80.7 559.4 80.1 556.2 92.2 560.6 92.4Z"/>
<path d="M501.7 144.2 497.6 145.1 494.6 156.4 498.6 155.3Z"/>
<path d="M616.6 50.7 612.1 48.5 608.9 57.9 613.4 59.7Z"/>
<path d="M551.9 92 547.6 91.7 544.4 104 548.7 103.9Z"/>
<path d="M490.6 157.5 486.6 158.6 483.5 169.1 487.5 167.8Z"/>
<path d="M604.5 56.1 600 54.3 596.8 64.4 601.3 65.8Z"/>
<path d="M540.2 104.1 535.9 104.2 532.8 116.5 537 116.1Z"/>
<path d="M592.3 63 587.9 61.6 584.6 72.5 589.1 73.5Z"/>
<path d="M528.5 116.9 524.3 117.3 521.2 129.4 525.4 128.7Z"/>
<path d="M580.2 71.5 575.8 70.5 572.6 81.9 577 82.5Z"/>
<path d="M517.1 130.1 512.9 130.7 509.8 142.4 514 141.5Z"/>
<path d="M568.2 81.3 563.8 80.7 560.6 92.4 565 92.7Z"/>
<path d="M505.7 143.3 501.7 144.2 498.6 155.3 502.6 154.2Z"/>
<path d="M621.1 52.9 616.6 50.7 613.4 59.7 618 61.5Z"/>
<path d="M556.2 92.2 551.9 92 548.7 103.9 553.1 103.8Z"/>
<path d="M494.6 156.4 490.6 157.5 487.5 167.8 491.5 166.5Z"/>
<path d="M608.9 57.9 604.5 56.1 601.3 65.8 605.8 67.2Z"/>
<path d="M544.4 104 540.2 104.1 537 116.1 541.3 115.7Z"/>
<path d="M596.8 64.4 592.3 63 589.1 73.5 593.6 74.4Z"/>
<path d="M532.8 116.5 528.5 116.9 525.4 128.7 529.6 128Z"/>
<path d="M584.6 72.5 580.2 71.5 577 82.5 581.4 83.1Z"/>
<path d="M521.2 129.4 517.1 130.1 514 141.5 518.1 140.6Z"/>
<path d="M572.6 81.9 568.2 81.3 565 92.7 569.4 92.9Z"/>
<path d="M509.8 142.4 505.7 143.3 502.6 154.2 506.7 153.1Z"/>
<path d="M625.6 55.2 621.1 52.9 618 61.5 622.5 63.3Z"/>
<path d="M560.6 92.4 556.2 92.2 553.1 103.8 557.4 103.7Z"/>
<path d="M498.6 155.3 494.6 156.4 491.5 166.5 495.5 165.3Z"/>
<path d="M613.4 59.7 608.9 57.9 605.8 67.2 610.3 68.6Z"/>
<path d="M548.7 103.9 544.4 104 541.3 115.7 545.6 115.3Z"/>
<path d="M487.5 167.8 483.5 169.1 480.4 178.2 484.3 176.8Z"/>
<path d="M601.3 65.8 596.8 64.4 593.6 74.4 598.1 75.4Z"/>
<path d="M537 116.1 532.8 116.5 529.6 128 533.9 127.4Z"/>
<path d="M589.1 73.5 584.6 72.5 581.4 83.1 585.9 83.7Z"/>
<path d="M525.4 128.7 521.2 129.4 518.1 140.6 522.3 139.7Z"/>
<path d="M577 82.5 572.6 81.9 569.4 92.9 573.8 93.1Z"/>
<path d="M514 141.5 509.8 142.4 506.7 153.1 510.8 152Z"/>
<path d="M630.2 57.4 625.6 55.2 622.5 63.3 627 65.2Z"/>
<path d="M565 92.7 560.6 92.4 557.4 103.7 561.8 103.6Z"/>
<path d="M502.6 154.2 498.6 155.3 495.5 165.3 499.5 164Z"/>
<path d="M618 61.5 613.4 59.7 610.3 68.6 614.8 70Z"/>
<path d="M553.1 103.8 548.7 103.9 545.6 115.3 549.9 114.9Z"/>
<path d="M491.5 166.5 487.5 167.8 484.3 176.8 488.3 175.4Z"/>
<path d="M605.8 67.2 601.3 65.8 598.1 75.4 602.6 76.4Z"/>
<path d="M541.3 115.7 537 116.1 533.9 127.4 538.1 126.7Z"/>
<path d="M593.6 74.4 589.1 73.5 585.9 83.7 590.4 84.3Z"/>
<path d="M529.6 128 525.4 128.7 522.3 139.7 526.5 138.8Z"/>
<path d="M581.4 83.1 577 82.5 573.8 93.1 578.2 93.4Z"/>
<path d="M518.1 140.6 514 141.5 510.8 152 515 150.9Z"/>
<path d="M634.7 59.7 630.2 57.4 627 65.2 631.6 67Z"/>
<path d="M569.4 92.9 565 92.7 561.8 103.6 566.2 103.5Z"/>
<path d="M506.7 153.1 502.6 154.2 499.5 164 503.6 162.7Z"/>
<path d="M622.5 63.3 618 61.5 614.8 70 619.3 71.4Z"/>
<path d="M557.4 103.7 553.1 103.8 549.9 114.9 554.2 114.5Z"/>
<path d="M495.5 165.3 491.5 166.5 488.3 175.4 492.3 174Z"/>
<path d="M610.3 68.6 605.8 67.2 602.6 76.4 607.1 77.4Z"/>
<path d="M545.6 115.3 541.3 115.7 538.1 126.7 542.4 126Z"/>
<path d="M484.3 176.8 480.4 178.2 477.2 185.9 481.1 184.4Z"/>
<path d="M598.1 75.4 593.6 74.4 590.4 84.3 594.8 84.9Z"/>
<path d="M533.9 127.4 529.6 128 526.5 138.8 530.7 137.9Z"/>
<path d="M585.9 83.7 581.4 83.1 578.2 93.4 582.7 93.6Z"/>
<path d="M522.3 139.7 518.1 140.6 515 150.9 519.1 149.8Z"/>
<path d="M639.3 62 634.7 59.7 631.6 67 636.2 68.8Z"/>
<path d="M573.8 93.1 569.4 92.9 566.2 103.5 570.6 103.4Z"/>
<path d="M510.8 152 506.7 153.1 503.6 162.7 507.7 161.4Z"/>
<path d="M627 65.2 622.5 63.3 619.3 71.4 623.9 72.8Z"/>
<path d="M561.8 103.6 557.4 103.7 554.2 114.5 558.6 114Z"/>
<path d="M499.5 164 495.5 165.3 492.3 174 496.4 172.6Z"/>
<path d="M614.8 70 610.3 68.6 607.1 77.4 611.6 78.4Z"/>
<path d="M549.9 114.9 545.6 115.3 542.4 126 546.7 125.3Z"/>
<path d="M488.3 175.4 484.3 176.8 481.1 184.4 485.1 182.9Z"/>
<path d="M602.6 76.4 598.1 75.4 594.8 84.9 599.4 85.5Z"/>
<path d="M538.1 126.7 533.9 127.4 530.7 137.9 534.9 136.9Z"/>
<path d="M590.4 84.3 585.9 83.7 582.7 93.6 587.1 93.8Z"/>
<path d="M526.5 138.8 522.3 139.7 519.1 149.8 523.3 148.6Z"/>
<path d="M643.8 64.2 639.3 62 636.2 68.8 640.8 70.7Z"/>
<path d="M578.2 93.4 573.8 93.1 570.6 103.4 575 103.3Z"/>
<path d="M515 150.9 510.8 152 507.7 161.4 511.8 160.1Z"/>
<path d="M631.6 67 627 65.2 623.9 72.8 628.5 74.3Z"/>
<path d="M566.2 103.5 561.8 103.6 558.6 114 563 113.6Z"/>
<path d="M503.6 162.7 499.5 164 496.4 172.6 500.4 171.1Z"/>
<path d="M619.3 71.4 614.8 70 611.6 78.4 616.2 79.4Z"/>
<path d="M554.2 114.5 549.9 114.9 546.7 125.3 551 124.6Z"/>
<path d="M492.3 174 488.3 175.4 485.1 182.9 489.1 181.4Z"/>
<path d="M607.1 77.4 602.6 76.4 599.4 85.5 603.9 86.1Z"/>
<path d="M542.4 126 538.1 126.7 534.9 136.9 539.2 136Z"/>
<path d="M481.1 184.4 477.2 185.9 474 192.2 477.9 190.7Z"/>
<path d="M594.8 84.9 590.4 84.3 587.1 93.8 591.6 94.1Z"/>
<path d="M530.7 137.9 526.5 138.8 523.3 148.6 527.5 147.5Z"/>
<path d="M648.4 66.5 643.8 64.2 640.8 70.7 645.4 72.6Z"/>
<path d="M582.7 93.6 578.2 93.4 575 103.3 579.5 103.2Z"/>
<path d="M519.1 149.8 515 150.9 511.8 160.1 515.9 158.8Z"/>
<path d="M636.2 68.8 631.6 67 628.5 74.3 633.1 75.7Z"/>
<path d="M570.6 103.4 566.2 103.5 563 113.6 567.4 113.2Z"/>
<path d="M507.7 161.4 503.6 162.7 500.4 171.1 504.5 169.7Z"/>
<path d="M623.9 72.8 619.3 71.4 616.2 79.4 620.8 80.5Z"/>
<path d="M558.6 114 554.2 114.5 551 124.6 555.4 123.9Z"/>
<path d="M496.4 172.6 492.3 174 489.1 181.4 493.1 179.9Z"/>
<path d="M611.6 78.4 607.1 77.4 603.9 86.1 608.5 86.7Z"/>
<path d="M546.7 125.3 542.4 126 539.2 136 543.5 135.1Z"/>
<path d="M485.1 182.9 481.1 184.4 477.9 190.7 481.9 189.1Z"/>
<path d="M599.4 85.5 594.8 84.9 591.6 94.1 596.2 94.3Z"/>
<path d="M534.9 136.9 530.7 137.9 527.5 147.5 531.8 146.3Z"/>
<path d="M653 68.8 648.4 66.5 645.4 72.6 650 74.4Z"/>
<path d="M587.1 93.8 582.7 93.6 579.5 103.2 583.9 103.1Z"/>
<path d="M523.3 148.6 519.1 149.8 515.9 158.8 520.1 157.5Z"/>
<path d="M640.8 70.7 636.2 68.8 633.1 75.7 637.7 77.1Z"/>
<path d="M575 103.3 570.6 103.4 567.4 113.2 571.8 112.8Z"/>
<path d="M511.8 160.1 507.7 161.4 504.5 169.7 508.6 168.3Z"/>
<path d="M628.5 74.3 623.9 72.8 620.8 80.5 625.4 81.5Z"/>
<path d="M563 113.6 558.6 114 555.4 123.9 559.8 123.2Z"/>
<path d="M500.4 171.1 496.4 172.6 493.1 179.9 497.2 178.3Z"/>
<path d="M616.2 79.4 611.6 78.4 608.5 86.7 613 87.3Z"/>
<path d="M551 124.6 546.7 125.3 543.5 135.1 547.8 134.1Z"/>
<path d="M489.1 181.4 485.1 182.9 481.9 189.1 485.9 187.5Z"/>
<path d="M603.9 86.1 599.4 85.5 596.2 94.3 600.7 94.6Z"/>
<path d="M539.2 136 534.9 136.9 531.8 146.3 536 145.2Z"/>
<path d="M477.9 190.7 474 192.2 470.6 197 474.6 195.4Z"/>
<path d="M657.6 71.1 653 68.8 650 74.4 654.6 76.3Z"/>
<path d="M591.6 94.1 587.1 93.8 583.9 103.1 588.4 103Z"/>
<path d="M527.5 147.5 523.3 148.6 520.1 157.5 524.3 156.2Z"/>
<path d="M645.4 72.6 640.8 70.7 637.7 77.1 642.3 78.6Z"/>
<path d="M579.5 103.2 575 103.3 571.8 112.8 576.3 112.4Z"/>
<path d="M515.9 158.8 511.8 160.1 508.6 168.3 512.7 166.8Z"/>
<path d="M633.1 75.7 628.5 74.3 625.4 81.5 630 82.5Z"/>
<path d="M567.4 113.2 563 113.6 559.8 123.2 564.2 122.5Z"/>
<path d="M504.5 169.7 500.4 171.1 497.2 178.3 501.3 176.8Z"/>
<path d="M620.8 80.5 616.2 79.4 613 87.3 617.6 88Z"/>
<path d="M555.4 123.9 551 124.6 547.8 134.1 552.2 133.1Z"/>
<path d="M493.1 179.9 489.1 181.4 485.9 187.5 489.9 185.9Z"/>
<path d="M608.5 86.7 603.9 86.1 600.7 94.6 605.3 94.8Z"/>
<path d="M543.5 135.1 539.2 136 536 145.2 540.3 144Z"/>
<path d="M481.9 189.1 477.9 190.7 474.6 195.4 478.5 193.8Z"/>
<path d="M662.2 73.4 657.6 71.1 654.6 76.3 659.3 78.2Z"/>
<path d="M596.2 94.3 591.6 94.1 588.4 103 593 102.9Z"/>
<path d="M531.8 146.3 527.5 147.5 524.3 156.2 528.6 154.8Z"/>
<path d="M650 74.4 645.4 72.6 642.3 78.6 647 80Z"/>
<path d="M583.9 103.1 579.5 103.2 576.3 112.4 580.7 111.9Z"/>
<path d="M520.1 157.5 515.9 158.8 512.7 166.8 516.9 165.3Z"/>
<path d="M637.7 77.1 633.1 75.7 630 82.5 634.6 83.5Z"/>
<path d="M571.8 112.8 567.4 113.2 564.2 122.5 568.6 121.8Z"/>
<path d="M508.6 168.3 504.5 169.7 501.3 176.8 505.4 175.2Z"/>
<path d="M625.4 81.5 620.8 80.5 617.6 88 622.2 88.6Z"/>
<path d="M559.8 123.2 555.4 123.9 552.2 133.1 556.5 132.2Z"/>
<path d="M497.2 178.3 493.1 179.9 489.9 185.9 493.9 184.3Z"/>
<path d="M613 87.3 608.5 86.7 605.3 94.8 609.9 95.1Z"/>
<path d="M547.8 134.1 543.5 135.1 540.3 144 544.6 142.8Z"/>
<path d="M485.9 187.5 481.9 189.1 478.5 193.8 482.5 192.1Z"/>
<path d="M666.8 75.7 662.2 73.4 659.3 78.2 663.9 80Z"/>
<path d="M600.7 94.6 596.2 94.3 593 102.9 597.5 102.8Z"/>
<path d="M536 145.2 531.8 146.3 528.6 154.8 532.8 153.5Z"/>
<path d="M474.6 195.4 470.6 197 467.2 200.3 471.2 198.6Z"/>
<path d="M654.6 76.3 650 74.4 647 80 651.6 81.5Z"/>
<path d="M588.4 103 583.9 103.1 580.7 111.9 585.2 111.5Z"/>
<path d="M524.3 156.2 520.1 157.5 516.9 165.3 521.1 163.9Z"/>
<path d="M642.3 78.6 637.7 77.1 634.6 83.5 639.3 84.6Z"/>
<path d="M576.3 112.4 571.8 112.8 568.6 121.8 573 121.1Z"/>
<path d="M512.7 166.8 508.6 168.3 505.4 175.2 509.5 173.7Z"/>
<path d="M630 82.5 625.4 81.5 622.2 88.6 626.9 89.2Z"/>
<path d="M564.2 122.5 559.8 123.2 556.5 132.2 560.9 131.2Z"/>
<path d="M501.3 176.8 497.2 178.3 493.9 184.3 498 182.6Z"/>
<path d="M617.6 88 613 87.3 609.9 95.1 614.5 95.3Z"/>
<path d="M552.2 133.1 547.8 134.1 544.6 142.8 549 141.7Z"/>
<path d="M489.9 185.9 485.9 187.5 482.5 192.1 486.6 190.5Z"/>
<path d="M671.5 78 666.8 75.7 663.9 80 668.6 81.9Z"/>
<path d="M605.3 94.8 600.7 94.6 597.5 102.8 602.1 102.7Z"/>
<path d="M540.3 144 536 145.2 532.8 153.5 537.1 152.1Z"/>
<path d="M478.5 193.8 474.6 195.4 471.2 198.6 475.1 197Z"/>
<path d="M659.3 78.2 654.6 76.3 651.6 81.5 656.3 82.9Z"/>
<path d="M593 102.9 588.4 103 585.2 111.5 589.8 111.1Z"/>
<path d="M528.6 154.8 524.3 156.2 521.1 163.9 525.3 162.4Z"/>
<path d="M647 80 642.3 78.6 639.3 84.6 644 85.6Z"/>
<path d="M580.7 111.9 576.3 112.4 573 121.1 577.5 120.4Z"/>
<path d="M516.9 165.3 512.7 166.8 509.5 173.7 513.7 172.1Z"/>
<path d="M634.6 83.5 630 82.5 626.9 89.2 631.5 89.8Z"/>
<path d="M568.6 121.8 564.2 122.5 560.9 131.2 565.4 130.3Z"/>
<path d="M505.4 175.2 501.3 176.8 498 182.6 502.1 181Z"/>
<path d="M622.2 88.6 617.6 88 614.5 95.3 619.1 95.6Z"/>
<path d="M556.5 132.2 552.2 133.1 549 141.7 553.3 140.5Z"/>
<path d="M493.9 184.3 489.9 185.9 486.6 190.5 490.6 188.8Z"/>
<path d="M676.1 80.3 671.5 78 668.6 81.9 673.3 83.8Z"/>
<path d="M609.9 95.1 605.3 94.8 602.1 102.7 606.7 102.6Z"/>
<path d="M544.6 142.8 540.3 144 537.1 152.1 541.4 150.8Z"/>
<path d="M482.5 192.1 478.5 193.8 475.1 197 479.1 195.4Z"/>
<path d="M663.9 80 659.3 78.2 656.3 82.9 661 84.4Z"/>
<path d="M597.5 102.8 593 102.9 589.8 111.1 594.3 110.7Z"/>
<path d="M532.8 153.5 528.6 154.8 525.3 162.4 529.6 160.9Z"/>
<path d="M471.2 198.6 467.2 200.3 463.7 201.9 467.7 200.3Z"/>
<path d="M651.6 81.5 647 80 644 85.6 648.7 86.6Z"/>
<path d="M585.2 111.5 580.7 111.9 577.5 120.4 582 119.6Z"/>
<path d="M521.1 163.9 516.9 165.3 513.7 172.1 517.9 170.5Z"/>
<path d="M639.3 84.6 634.6 83.5 631.5 89.8 636.2 90.5Z"/>
<path d="M573 121.1 568.6 121.8 565.4 130.3 569.8 129.3Z"/>
<path d="M509.5 173.7 505.4 175.2 502.1 181 506.2 179.3Z"/>
<path d="M626.9 89.2 622.2 88.6 619.1 95.6 623.8 95.8Z"/>
<path d="M560.9 131.2 556.5 132.2 553.3 140.5 557.7 139.3Z"/>
<path d="M498 182.6 493.9 184.3 490.6 188.8 494.7 187.2Z"/>
<path d="M680.8 82.7 676.1 80.3 673.3 83.8 678 85.7Z"/>
<path d="M614.5 95.3 609.9 95.1 606.7 102.6 611.3 102.4Z"/>
<path d="M549 141.7 544.6 142.8 541.4 150.8 545.7 149.4Z"/>
<path d="M486.6 190.5 482.5 192.1 479.1 195.4 483.2 193.7Z"/>
<path d="M668.6 81.9 663.9 80 661 84.4 665.8 85.8Z"/>
<path d="M602.1 102.7 597.5 102.8 594.3 110.7 598.9 110.2Z"/>
<path d="M537.1 152.1 532.8 153.5 529.6 160.9 533.9 159.4Z"/>
<path d="M475.1 197 471.2 198.6 467.7 200.3 471.6 198.7Z"/>
<path d="M656.3 82.9 651.6 81.5 648.7 86.6 653.4 87.7Z"/>
<path d="M589.8 111.1 585.2 111.5 582 119.6 586.6 118.9Z"/>
<path d="M525.3 162.4 521.1 163.9 517.9 170.5 522.1 168.9Z"/>
<path d="M644 85.6 639.3 84.6 636.2 90.5 640.9 91.1Z"/>
<path d="M577.5 120.4 573 121.1 569.8 129.3 574.3 128.3Z"/>
<path d="M513.7 172.1 509.5 173.7 506.2 179.3 510.4 177.7Z"/>
<path d="M631.5 89.8 626.9 89.2 623.8 95.8 628.4 96.1Z"/>
<path d="M565.4 130.3 560.9 131.2 557.7 139.3 562.2 138.1Z"/>
<path d="M502.1 181 498 182.6 494.7 187.2 498.8 185.5Z"/>
<path d="M619.1 95.6 614.5 95.3 611.3 102.4 616 102.3Z"/>
<path d="M553.3 140.5 549 141.7 545.7 149.4 550.1 148Z"/>
<path d="M490.6 188.8 486.6 190.5 483.2 193.7 487.2 192.1Z"/>
<path d="M673.3 83.8 668.6 81.9 665.8 85.8 670.5 87.3Z"/>
<path d="M606.7 102.6 602.1 102.7 598.9 110.2 603.5 109.8Z"/>
<path d="M541.4 150.8 537.1 152.1 533.9 159.4 538.2 157.9Z"/>
<path d="M479.1 195.4 475.1 197 471.6 198.7 475.6 197.1Z"/>
<path d="M661 84.4 656.3 82.9 653.4 87.7 658.1 88.7Z"/>
<path d="M594.3 110.7 589.8 111.1 586.6 118.9 591.1 118.2Z"/>
<path d="M529.6 160.9 525.3 162.4 522.1 168.9 526.3 167.3Z"/>
<path d="M467.7 200.3 463.7 201.9 460.1 202 464.1 200.5Z"/>
<path d="M648.7 86.6 644 85.6 640.9 91.1 645.6 91.7Z"/>
<path d="M582 119.6 577.5 120.4 574.3 128.3 578.8 127.3Z"/>
<path d="M517.9 170.5 513.7 172.1 510.4 177.7 514.6 176Z"/>
<path d="M636.2 90.5 631.5 89.8 628.4 96.1 633.1 96.3Z"/>
<path d="M569.8 129.3 565.4 130.3 562.2 138.1 566.6 136.9Z"/>
<path d="M506.2 179.3 502.1 181 498.8 185.5 502.9 183.8Z"/>
<path d="M623.8 95.8 619.1 95.6 616 102.3 620.6 102.2Z"/>
<path d="M557.7 139.3 553.3 140.5 550.1 148 554.5 146.6Z"/>
<path d="M494.7 187.2 490.6 188.8 487.2 192.1 491.3 190.4Z"/>
<path d="M678 85.7 673.3 83.8 670.5 87.3 675.2 88.8Z"/>
<path d="M611.3 102.4 606.7 102.6 603.5 109.8 608.2 109.3Z"/>
<path d="M545.7 149.4 541.4 150.8 538.2 157.9 542.5 156.3Z"/>
<path d="M483.2 193.7 479.1 195.4 475.6 197.1 479.7 195.5Z"/>
<path d="M665.8 85.8 661 84.4 658.1 88.7 662.9 89.8Z"/>
<path d="M598.9 110.2 594.3 110.7 591.1 118.2 595.7 117.5Z"/>
<path d="M533.9 159.4 529.6 160.9 526.3 167.3 530.6 165.7Z"/>
<path d="M471.6 198.7 467.7 200.3 464.1 200.5 468 199Z"/>
<path d="M653.4 87.7 648.7 86.6 645.6 91.7 650.4 92.4Z"/>
<path d="M586.6 118.9 582 119.6 578.8 127.3 583.4 126.3Z"/>
<path d="M522.1 168.9 517.9 170.5 514.6 176 518.8 174.3Z"/>
<path d="M640.9 91.1 636.2 90.5 633.1 96.3 637.9 96.6Z"/>
<path d="M574.3 128.3 569.8 129.3 566.6 136.9 571.1 135.7Z"/>
<path d="M510.4 177.7 506.2 179.3 502.9 183.8 507.1 182.1Z"/>
<path d="M628.4 96.1 623.8 95.8 620.6 102.2 625.3 102.1Z"/>
<path d="M562.2 138.1 557.7 139.3 554.5 146.6 558.9 145.2Z"/>
<path d="M498.8 185.5 494.7 187.2 491.3 190.4 495.4 188.7Z"/>
<path d="M616 102.3 611.3 102.4 608.2 109.3 612.8 108.9Z"/>
<path d="M550.1 148 545.7 149.4 542.5 156.3 546.9 154.8Z"/>
<path d="M487.2 192.1 483.2 193.7 479.7 195.5 483.7 193.9Z"/>
<path d="M670.5 87.3 665.8 85.8 662.9 89.8 667.6 90.8Z"/>
<path d="M603.5 109.8 598.9 110.2 595.7 117.5 600.3 116.7Z"/>
<path d="M538.2 157.9 533.9 159.4 530.6 165.7 534.9 164Z"/>
<path d="M475.6 197.1 471.6 198.7 468 199 472.1 197.4Z"/>
<path d="M658.1 88.7 653.4 87.7 650.4 92.4 655.1 93Z"/>
<path d="M591.1 118.2 586.6 118.9 583.4 126.3 587.9 125.3Z"/>
<path d="M526.3 167.3 522.1 168.9 518.8 174.3 523.1 172.6Z"/>
<path d="M464.1 200.5 460.1 202 456.3 200.5 460.3 199.1Z"/>
<path d="M645.6 91.7 640.9 91.1 637.9 96.6 642.6 96.8Z"/>
<path d="M578.8 127.3 574.3 128.3 571.1 135.7 575.6 134.4Z"/>
<path d="M514.6 176 510.4 177.7 507.1 182.1 511.3 180.4Z"/>
<path d="M633.1 96.3 628.4 96.1 625.3 102.1 630.1 102Z"/>
<path d="M566.6 136.9 562.2 138.1 558.9 145.2 563.4 143.8Z"/>
<path d="M502.9 183.8 498.8 185.5 495.4 188.7 499.5 187Z"/>
<path d="M620.6 102.2 616 102.3 612.8 108.9 617.5 108.5Z"/>
<path d="M554.5 146.6 550.1 148 546.9 154.8 551.3 153.2Z"/>
<path d="M491.3 190.4 487.2 192.1 483.7 193.9 487.8 192.3Z"/>
<path d="M675.2 88.8 670.5 87.3 667.6 90.8 672.4 91.9Z"/>
<path d="M608.2 109.3 603.5 109.8 600.3 116.7 605 116Z"/>
<path d="M542.5 156.3 538.2 157.9 534.9 164 539.3 162.4Z"/>
<path d="M479.7 195.5 475.6 197.1 472.1 197.4 476.1 195.9Z"/>
<path d="M662.9 89.8 658.1 88.7 655.1 93 659.9 93.7Z"/>
<path d="M595.7 117.5 591.1 118.2 587.9 125.3 592.5 124.3Z"/>
<path d="M530.6 165.7 526.3 167.3 523.1 172.6 527.3 170.9Z"/>
<path d="M468 199 464.1 200.5 460.3 199.1 464.3 197.7Z"/>
<path d="M650.4 92.4 645.6 91.7 642.6 96.8 647.4 97.1Z"/>
<path d="M583.4 126.3 578.8 127.3 575.6 134.4 580.2 133.2Z"/>
<path d="M518.8 174.3 514.6 176 511.3 180.4 515.5 178.7Z"/>
<path d="M637.9 96.6 633.1 96.3 630.1 102 634.8 101.9Z"/>
<path d="M571.1 135.7 566.6 136.9 563.4 143.8 567.9 142.4Z"/>
<path d="M507.1 182.1 502.9 183.8 499.5 187 503.7 185.3Z"/>
<path d="M625.3 102.1 620.6 102.2 617.5 108.5 622.2 108Z"/>
<path d="M558.9 145.2 554.5 146.6 551.3 153.2 555.7 151.7Z"/>
<path d="M495.4 188.7 491.3 190.4 487.8 192.3 491.9 190.6Z"/>
<path d="M612.8 108.9 608.2 109.3 605 116 609.7 115.2Z"/>
<path d="M546.9 154.8 542.5 156.3 539.3 162.4 543.6 160.7Z"/>
<path d="M483.7 193.9 479.7 195.5 476.1 195.9 480.2 194.3Z"/>
<path d="M667.6 90.8 662.9 89.8 659.9 93.7 664.7 94.3Z"/>
<path d="M600.3 116.7 595.7 117.5 592.5 124.3 597.2 123.3Z"/>
<path d="M534.9 164 530.6 165.7 527.3 170.9 531.6 169.2Z"/>
<path d="M472.1 197.4 468 199 464.3 197.7 468.4 196.3Z"/>
<path d="M655.1 93 650.4 92.4 647.4 97.1 652.2 97.3Z"/>
<path d="M587.9 125.3 583.4 126.3 580.2 133.2 584.7 132Z"/>
<path d="M523.1 172.6 518.8 174.3 515.5 178.7 519.7 176.9Z"/>
<path d="M460.3 199.1 456.3 200.5 452.5 197.5 456.5 196.2Z"/>
<path d="M642.6 96.8 637.9 96.6 634.8 101.9 639.6 101.8Z"/>
<path d="M575.6 134.4 571.1 135.7 567.9 142.4 572.4 141Z"/>
<path d="M511.3 180.4 507.1 182.1 503.7 185.3 507.9 183.6Z"/>
<path d="M630.1 102 625.3 102.1 622.2 108 627 107.6Z"/>
<path d="M563.4 143.8 558.9 145.2 555.7 151.7 560.2 150.1Z"/>
<path d="M499.5 187 495.4 188.7 491.9 190.6 496.1 188.9Z"/>
<path d="M617.5 108.5 612.8 108.9 609.7 115.2 614.4 114.5Z"/>
<path d="M551.3 153.2 546.9 154.8 543.6 160.7 548 159Z"/>
<path d="M487.8 192.3 483.7 193.9 480.2 194.3 484.3 192.8Z"/>
<path d="M672.4 91.9 667.6 90.8 664.7 94.3 669.6 95Z"/>
<path d="M605 116 600.3 116.7 597.2 123.3 601.8 122.3Z"/>
<path d="M539.3 162.4 534.9 164 531.6 169.2 536 167.5Z"/>
<path d="M476.1 195.9 472.1 197.4 468.4 196.3 472.4 194.8Z"/>
<path d="M659.9 93.7 655.1 93 652.2 97.3 657 97.6Z"/>
<path d="M592.5 124.3 587.9 125.3 584.7 132 589.3 130.7Z"/>
<path d="M527.3 170.9 523.1 172.6 519.7 176.9 524 175.2Z"/>
<path d="M464.3 197.7 460.3 199.1 456.5 196.2 460.5 195Z"/>
<path d="M647.4 97.1 642.6 96.8 639.6 101.8 644.4 101.7Z"/>
<path d="M580.2 133.2 575.6 134.4 572.4 141 576.9 139.6Z"/>
<path d="M515.5 178.7 511.3 180.4 507.9 183.6 512.1 181.9Z"/>
<path d="M634.8 101.9 630.1 102 627 107.6 631.7 107.1Z"/>
<path d="M567.9 142.4 563.4 143.8 560.2 150.1 564.6 148.5Z"/>
<path d="M503.7 185.3 499.5 187 496.1 188.9 500.3 187.3Z"/>
<path d="M622.2 108 617.5 108.5 614.4 114.5 619.1 113.7Z"/>
<path d="M555.7 151.7 551.3 153.2 548 159 552.5 157.4Z"/>
<path d="M491.9 190.6 487.8 192.3 484.3 192.8 488.4 191.2Z"/>
<path d="M609.7 115.2 605 116 601.8 122.3 606.5 121.2Z"/>
<path d="M543.6 160.7 539.3 162.4 536 167.5 540.4 165.7Z"/>
<path d="M480.2 194.3 476.1 195.9 472.4 194.8 476.5 193.4Z"/>
<path d="M664.7 94.3 659.9 93.7 657 97.6 661.8 97.8Z"/>
<path d="M597.2 123.3 592.5 124.3 589.3 130.7 594 129.5Z"/>
<path d="M531.6 169.2 527.3 170.9 524 175.2 528.3 173.4Z"/>
<path d="M468.4 196.3 464.3 197.7 460.5 195 464.6 193.7Z"/>
<path d="M652.2 97.3 647.4 97.1 644.4 101.7 649.2 101.6Z"/>
<path d="M584.7 132 580.2 133.2 576.9 139.6 581.5 138.1Z"/>
<path d="M519.7 176.9 515.5 178.7 512.1 181.9 516.4 180.1Z"/>
<path d="M456.5 196.2 452.5 197.5 448.5 193 452.5 191.9Z"/>
<path d="M639.6 101.8 634.8 101.9 631.7 107.1 636.5 106.7Z"/>
<path d="M572.4 141 567.9 142.4 564.6 148.5 569.2 146.9Z"/>
<path d="M507.9 183.6 503.7 185.3 500.3 187.3 504.5 185.6Z"/>
<path d="M627 107.6 622.2 108 619.1 113.7 623.8 112.9Z"/>
<path d="M560.2 150.1 555.7 151.7 552.5 157.4 556.9 155.7Z"/>
<path d="M496.1 188.9 491.9 190.6 488.4 191.2 492.6 189.6Z"/>
<path d="M614.4 114.5 609.7 115.2 606.5 121.2 611.2 120.2Z"/>
<path d="M548 159 543.6 160.7 540.4 165.7 544.8 164Z"/>
<path d="M484.3 192.8 480.2 194.3 476.5 193.4 480.7 191.9Z"/>
<path d="M669.6 95 664.7 94.3 661.8 97.8 666.7 98.1Z"/>
<path d="M601.8 122.3 597.2 123.3 594 129.5 598.6 128.2Z"/>
<path d="M536 167.5 531.6 169.2 528.3 173.4 532.7 171.6Z"/>
<path d="M472.4 194.8 468.4 196.3 464.6 193.7 468.7 192.4Z"/>
<path d="M657 97.6 652.2 97.3 649.2 101.6 654 101.5Z"/>
<path d="M589.3 130.7 584.7 132 581.5 138.1 586.1 136.7Z"/>
<path d="M524 175.2 519.7 176.9 516.4 180.1 520.7 178.4Z"/>
<path d="M460.5 195 456.5 196.2 452.5 191.9 456.6 190.8Z"/>
<path d="M644.4 101.7 639.6 101.8 636.5 106.7 641.3 106.2Z"/>
<path d="M576.9 139.6 572.4 141 569.2 146.9 573.7 145.3Z"/>
<path d="M512.1 181.9 507.9 183.6 504.5 185.6 508.7 183.9Z"/>
<path d="M631.7 107.1 627 107.6 623.8 112.9 628.6 112.2Z"/>
<path d="M564.6 148.5 560.2 150.1 556.9 155.7 561.4 154Z"/>
<path d="M500.3 187.3 496.1 188.9 492.6 189.6 496.8 188Z"/>
<path d="M619.1 113.7 614.4 114.5 611.2 120.2 615.9 119.2Z"/>
<path d="M552.5 157.4 548 159 544.8 164 549.2 162.2Z"/>
<path d="M488.4 191.2 484.3 192.8 480.7 191.9 484.8 190.4Z"/>
<path d="M606.5 121.2 601.8 122.3 598.6 128.2 603.3 126.9Z"/>
<path d="M540.4 165.7 536 167.5 532.7 171.6 537.1 169.8Z"/>
<path d="M476.5 193.4 472.4 194.8 468.7 192.4 472.8 191.1Z"/>
<path d="M661.8 97.8 657 97.6 654 101.5 658.9 101.3Z"/>
<path d="M594 129.5 589.3 130.7 586.1 136.7 590.8 135.2Z"/>
<path d="M528.3 173.4 524 175.2 520.7 178.4 525 176.6Z"/>
<path d="M464.6 193.7 460.5 195 456.6 190.8 460.7 189.7Z"/>
<path d="M649.2 101.6 644.4 101.7 641.3 106.2 646.2 105.7Z"/>
<path d="M581.5 138.1 576.9 139.6 573.7 145.3 578.3 143.7Z"/>
<path d="M516.4 180.1 512.1 181.9 508.7 183.9 513 182.2Z"/>
<path d="M452.5 191.9 448.5 193 444.3 187.1 448.4 186.2Z"/>
<path d="M636.5 106.7 631.7 107.1 628.6 112.2 633.4 111.4Z"/>
<path d="M569.2 146.9 564.6 148.5 561.4 154 565.9 152.2Z"/>
<path d="M504.5 185.6 500.3 187.3 496.8 188 501 186.4Z"/>
<path d="M623.8 112.9 619.1 113.7 615.9 119.2 620.7 118.1Z"/>
<path d="M556.9 155.7 552.5 157.4 549.2 162.2 553.6 160.4Z"/>
<path d="M492.6 189.6 488.4 191.2 484.8 190.4 489 189Z"/>
<path d="M611.2 120.2 606.5 121.2 603.3 126.9 608 125.6Z"/>
<path d="M544.8 164 540.4 165.7 537.1 169.8 541.5 168Z"/>
<path d="M480.7 191.9 476.5 193.4 472.8 191.1 476.9 189.7Z"/>
<path d="M666.7 98.1 661.8 97.8 658.9 101.3 663.8 101.2Z"/>
<path d="M598.6 128.2 594 129.5 590.8 135.2 595.4 133.7Z"/>
<path d="M532.7 171.6 528.3 173.4 525 176.6 529.3 174.8Z"/>
<path d="M468.7 192.4 464.6 193.7 460.7 189.7 464.8 188.6Z"/>
<path d="M654 101.5 649.2 101.6 646.2 105.7 651.1 105.3Z"/>
<path d="M586.1 136.7 581.5 138.1 578.3 143.7 582.9 142.1Z"/>
<path d="M520.7 178.4 516.4 180.1 513 182.2 517.3 180.5Z"/>
<path d="M456.6 190.8 452.5 191.9 448.4 186.2 452.5 185.3Z"/>
<path d="M641.3 106.2 636.5 106.7 633.4 111.4 638.3 110.6Z"/>
<path d="M573.7 145.3 569.2 146.9 565.9 152.2 570.5 150.5Z"/>
<path d="M508.7 183.9 504.5 185.6 501 186.4 505.2 184.7Z"/>
<path d="M628.6 112.2 623.8 112.9 620.7 118.1 625.5 117.1Z"/>
<path d="M561.4 154 556.9 155.7 553.6 160.4 558.1 158.6Z"/>
<path d="M496.8 188 492.6 189.6 489 189 493.2 187.5Z"/>
<path d="M615.9 119.2 611.2 120.2 608 125.6 612.8 124.4Z"/>
<path d="M549.2 162.2 544.8 164 541.5 168 545.9 166.2Z"/>
<path d="M484.8 190.4 480.7 191.9 476.9 189.7 481.1 188.4Z"/>
<path d="M603.3 126.9 598.6 128.2 595.4 133.7 600.1 132.2Z"/>
<path d="M537.1 169.8 532.7 171.6 529.3 174.8 533.7 173Z"/>
<path d="M472.8 191.1 468.7 192.4 464.8 188.6 468.9 187.4Z"/>
<path d="M658.9 101.3 654 101.5 651.1 105.3 656 104.8Z"/>
<path d="M590.8 135.2 586.1 136.7 582.9 142.1 587.6 140.5Z"/>
<path d="M525 176.6 520.7 178.4 517.3 180.5 521.6 178.7Z"/>
<path d="M460.7 189.7 456.6 190.8 452.5 185.3 456.6 184.4Z"/>
<path d="M646.2 105.7 641.3 106.2 638.3 110.6 643.2 109.8Z"/>
<path d="M578.3 143.7 573.7 145.3 570.5 150.5 575.1 148.8Z"/>
<path d="M513 182.2 508.7 183.9 505.2 184.7 509.5 183.1Z"/>
<path d="M448.4 186.2 444.3 187.1 440 179.8 444.2 179.2Z"/>
<path d="M633.4 111.4 628.6 112.2 625.5 117.1 630.4 116Z"/>
<path d="M565.9 152.2 561.4 154 558.1 158.6 562.7 156.8Z"/>
<path d="M501 186.4 496.8 188 493.2 187.5 497.4 186Z"/>
<path d="M620.7 118.1 615.9 119.2 612.8 124.4 617.6 123.1Z"/>
<path d="M553.6 160.4 549.2 162.2 545.9 166.2 550.4 164.4Z"/>
<path d="M489 189 484.8 190.4 481.1 188.4 485.3 187.1Z"/>
<path d="M608 125.6 603.3 126.9 600.1 132.2 604.9 130.7Z"/>
<path d="M541.5 168 537.1 169.8 533.7 173 538.1 171.2Z"/>
<path d="M476.9 189.7 472.8 191.1 468.9 187.4 473.1 186.3Z"/>
<path d="M663.8 101.2 658.9 101.3 656 104.8 660.9 104.3Z"/>
<path d="M595.4 133.7 590.8 135.2 587.6 140.5 592.2 138.8Z"/>
<path d="M529.3 174.8 525 176.6 521.6 178.7 526 177Z"/>
<path d="M464.8 188.6 460.7 189.7 456.6 184.4 460.8 183.5Z"/>
<path d="M651.1 105.3 646.2 105.7 643.2 109.8 648.1 109.1Z"/>
<path d="M582.9 142.1 578.3 143.7 575.1 148.8 579.7 147Z"/>
<path d="M517.3 180.5 513 182.2 509.5 183.1 513.8 181.5Z"/>
<path d="M452.5 185.3 448.4 186.2 444.2 179.2 448.3 178.5Z"/>
<path d="M638.3 110.6 633.4 111.4 630.4 116 635.2 114.9Z"/>
<path d="M570.5 150.5 565.9 152.2 562.7 156.8 567.2 155Z"/>
<path d="M505.2 184.7 501 186.4 497.4 186 501.7 184.4Z"/>
<path d="M625.5 117.1 620.7 118.1 617.6 123.1 622.4 121.7Z"/>
<path d="M558.1 158.6 553.6 160.4 550.4 164.4 554.9 162.6Z"/>
<path d="M493.2 187.5 489 189 485.3 187.1 489.5 185.7Z"/>
<path d="M612.8 124.4 608 125.6 604.9 130.7 609.6 129.2Z"/>
<path d="M545.9 166.2 541.5 168 538.1 171.2 542.6 169.4Z"/>
<path d="M481.1 188.4 476.9 189.7 473.1 186.3 477.3 185.1Z"/>
<path d="M600.1 132.2 595.4 133.7 592.2 138.8 597 137.2Z"/>
<path d="M533.7 173 529.3 174.8 526 177 530.3 175.2Z"/>
<path d="M468.9 187.4 464.8 188.6 460.8 183.5 465 182.5Z"/>
<path d="M656 104.8 651.1 105.3 648.1 109.1 653 108.3Z"/>
<path d="M587.6 140.5 582.9 142.1 579.7 147 584.3 145.2Z"/>
<path d="M521.6 178.7 517.3 180.5 513.8 181.5 518.2 179.8Z"/>
<path d="M456.6 184.4 452.5 185.3 448.3 178.5 452.5 177.8Z"/>
<path d="M643.2 109.8 638.3 110.6 635.2 114.9 640.1 113.9Z"/>
<path d="M575.1 148.8 570.5 150.5 567.2 155 571.8 153.2Z"/>
<path d="M509.5 183.1 505.2 184.7 501.7 184.4 506 182.9Z"/>
<path d="M444.2 179.2 440 179.8 435.6 171.4 439.8 171Z"/>
<path d="M630.4 116 625.5 117.1 622.4 121.7 627.3 120.4Z"/>
<path d="M562.7 156.8 558.1 158.6 554.9 162.6 559.4 160.7Z"/>
<path d="M497.4 186 493.2 187.5 489.5 185.7 493.8 184.4Z"/>
<path d="M617.6 123.1 612.8 124.4 609.6 129.2 614.4 127.7Z"/>
<path d="M550.4 164.4 545.9 166.2 542.6 169.4 547 167.6Z"/>
<path d="M485.3 187.1 481.1 188.4 477.3 185.1 481.5 184Z"/>
<path d="M604.9 130.7 600.1 132.2 597 137.2 601.7 135.5Z"/>
<path d="M538.1 171.2 533.7 173 530.3 175.2 534.8 173.4Z"/>
<path d="M473.1 186.3 468.9 187.4 465 182.5 469.2 181.6Z"/>
<path d="M660.9 104.3 656 104.8 653 108.3 658 107.5Z"/>
<path d="M592.2 138.8 587.6 140.5 584.3 145.2 589 143.5Z"/>
<path d="M526 177 521.6 178.7 518.2 179.8 522.5 178.1Z"/>
<path d="M460.8 183.5 456.6 184.4 452.5 177.8 456.7 177.2Z"/>
<path d="M648.1 109.1 643.2 109.8 640.1 113.9 645.1 112.8Z"/>
<path d="M579.7 147 575.1 148.8 571.8 153.2 576.5 151.3Z"/>
<path d="M513.8 181.5 509.5 183.1 506 182.9 510.3 181.4Z"/>
<path d="M448.3 178.5 444.2 179.2 439.8 171 444 170.6Z"/>
<path d="M635.2 114.9 630.4 116 627.3 120.4 632.1 119.1Z"/>
<path d="M567.2 155 562.7 156.8 559.4 160.7 564 158.8Z"/>
<path d="M501.7 184.4 497.4 186 493.8 184.4 498.1 183Z"/>
<path d="M622.4 121.7 617.6 123.1 614.4 127.7 619.3 126.2Z"/>
<path d="M554.9 162.6 550.4 164.4 547 167.6 551.6 165.7Z"/>
<path d="M489.5 185.7 485.3 187.1 481.5 184 485.8 182.8Z"/>
<path d="M609.6 129.2 604.9 130.7 601.7 135.5 606.5 133.8Z"/>
<path d="M542.6 169.4 538.1 171.2 534.8 173.4 539.2 171.7Z"/>
<path d="M477.3 185.1 473.1 186.3 469.2 181.6 473.4 180.7Z"/>
<path d="M597 137.2 592.2 138.8 589 143.5 593.8 141.7Z"/>
<path d="M530.3 175.2 526 177 522.5 178.1 526.9 176.4Z"/>
<path d="M465 182.5 460.8 183.5 456.7 177.2 460.9 176.5Z"/>
<path d="M653 108.3 648.1 109.1 645.1 112.8 650 111.7Z"/>
<path d="M584.3 145.2 579.7 147 576.5 151.3 581.1 149.5Z"/>
<path d="M518.2 179.8 513.8 181.5 510.3 181.4 514.7 179.8Z"/>
<path d="M452.5 177.8 448.3 178.5 444 170.6 448.2 170.3Z"/>
<path d="M640.1 113.9 635.2 114.9 632.1 119.1 637.1 117.8Z"/>
<path d="M571.8 153.2 567.2 155 564 158.8 568.6 157Z"/>
<path d="M506 182.9 501.7 184.4 498.1 183 502.4 181.6Z"/>
<path d="M439.8 171 435.6 171.4 431 162 435.3 162Z"/>
<path d="M627.3 120.4 622.4 121.7 619.3 126.2 624.2 124.7Z"/>
<path d="M559.4 160.7 554.9 162.6 551.6 165.7 556.1 163.8Z"/>
<path d="M493.8 184.4 489.5 185.7 485.8 182.8 490.1 181.7Z"/>
<path d="M614.4 127.7 609.6 129.2 606.5 133.8 611.3 132.1Z"/>
<path d="M547 167.6 542.6 169.4 539.2 171.7 543.7 169.9Z"/>
<path d="M481.5 184 477.3 185.1 473.4 180.7 477.6 179.8Z"/>
<path d="M601.7 135.5 597 137.2 593.8 141.7 598.5 139.9Z"/>
<path d="M534.8 173.4 530.3 175.2 526.9 176.4 531.4 174.8Z"/>
<path d="M469.2 181.6 465 182.5 460.9 176.5 465.1 175.8Z"/>
<path d="M658 107.5 653 108.3 650 111.7 655 110.6Z"/>
<path d="M589 143.5 584.3 145.2 581.1 149.5 585.8 147.6Z"/>
<path d="M522.5 178.1 518.2 179.8 514.7 179.8 519 178.3Z"/>
<path d="M456.7 177.2 452.5 177.8 448.2 170.3 452.4 169.9Z"/>
<path d="M645.1 112.8 640.1 113.9 637.1 117.8 642 116.4Z"/>
<path d="M576.5 151.3 571.8 153.2 568.6 157 573.2 155.1Z"/>
<path d="M510.3 181.4 506 182.9 502.4 181.6 506.7 180.3Z"/>
<path d="M444 170.6 439.8 171 435.3 162 439.5 161.9Z"/>
<path d="M632.1 119.1 627.3 120.4 624.2 124.7 629.1 123.1Z"/>
<path d="M564 158.8 559.4 160.7 556.1 163.8 560.7 162Z"/>
<path d="M498.1 183 493.8 184.4 490.1 181.7 494.4 180.5Z"/>
<path d="M619.3 126.2 614.4 127.7 611.3 132.1 616.1 130.4Z"/>
<path d="M551.6 165.7 547 167.6 543.7 169.9 548.2 168Z"/>
<path d="M485.8 182.8 481.5 184 477.6 179.8 481.9 178.8Z"/>
<path d="M606.5 133.8 601.7 135.5 598.5 139.9 603.3 138Z"/>
<path d="M539.2 171.7 534.8 173.4 531.4 174.8 535.8 173Z"/>
<path d="M473.4 180.7 469.2 181.6 465.1 175.8 469.4 175.2Z"/>
<path d="M593.8 141.7 589 143.5 585.8 147.6 590.5 145.7Z"/>
<path d="M526.9 176.4 522.5 178.1 519 178.3 523.5 176.7Z"/>
<path d="M460.9 176.5 456.7 177.2 452.4 169.9 456.7 169.5Z"/>
<path d="M650 111.7 645.1 112.8 642 116.4 647 115.1Z"/>
<path d="M581.1 149.5 576.5 151.3 573.2 155.1 577.9 153.2Z"/>
<path d="M514.7 179.8 510.3 181.4 506.7 180.3 511.1 178.9Z"/>
<path d="M448.2 170.3 444 170.6 439.5 161.9 443.8 161.8Z"/>
<path d="M637.1 117.8 632.1 119.1 629.1 123.1 634 121.6Z"/>
<path d="M568.6 157 564 158.8 560.7 162 565.3 160.1Z"/>
<path d="M502.4 181.6 498.1 183 494.4 180.5 498.7 179.3Z"/>
<path d="M435.3 162 431 162 426.3 152 430.6 152.2Z"/>
<path d="M624.2 124.7 619.3 126.2 616.1 130.4 621 128.7Z"/>
<path d="M556.1 163.8 551.6 165.7 548.2 168 552.8 166.2Z"/>
<path d="M490.1 181.7 485.8 182.8 481.9 178.8 486.2 177.9Z"/>
<path d="M611.3 132.1 606.5 133.8 603.3 138 608.1 136.2Z"/>
<path d="M543.7 169.9 539.2 171.7 535.8 173 540.3 171.3Z"/>
<path d="M477.6 179.8 473.4 180.7 469.4 175.2 473.7 174.5Z"/>
<path d="M598.5 139.9 593.8 141.7 590.5 145.7 595.3 143.8Z"/>
<path d="M531.4 174.8 526.9 176.4 523.5 176.7 527.9 175.1Z"/>
<path d="M465.1 175.8 460.9 176.5 456.7 169.5 460.9 169.1Z"/>
<path d="M655 110.6 650 111.7 647 115.1 652 113.7Z"/>
<path d="M585.8 147.6 581.1 149.5 577.9 153.2 582.6 151.2Z"/>
<path d="M519 178.3 514.7 179.8 511.1 178.9 515.5 177.5Z"/>
<path d="M452.4 169.9 448.2 170.3 443.8 161.8 448 161.7Z"/>
<path d="M642 116.4 637.1 117.8 634 121.6 639 120Z"/>
<path d="M573.2 155.1 568.6 157 565.3 160.1 569.9 158.2Z"/>
<path d="M506.7 180.3 502.4 181.6 498.7 179.3 503.1 178.1Z"/>
<path d="M439.5 161.9 435.3 162 430.6 152.2 434.9 152.4Z"/>
<path d="M629.1 123.1 624.2 124.7 621 128.7 625.9 127Z"/>
<path d="M560.7 162 556.1 163.8 552.8 166.2 557.4 164.4Z"/>
<path d="M494.4 180.5 490.1 181.7 486.2 177.9 490.6 176.9Z"/>
<path d="M616.1 130.4 611.3 132.1 608.1 136.2 613 134.4Z"/>
<path d="M548.2 168 543.7 169.9 540.3 171.3 544.8 169.6Z"/>
<path d="M481.9 178.8 477.6 179.8 473.7 174.5 478 173.8Z"/>
<path d="M603.3 138 598.5 139.9 595.3 143.8 600.1 141.9Z"/>
<path d="M535.8 173 531.4 174.8 527.9 175.1 532.4 173.6Z"/>
<path d="M469.4 175.2 465.1 175.8 460.9 169.1 465.3 168.7Z"/>
<path d="M590.5 145.7 585.8 147.6 582.6 151.2 587.3 149.3Z"/>
<path d="M523.5 176.7 519 178.3 515.5 177.5 519.9 176.1Z"/>
<path d="M456.7 169.5 452.4 169.9 448 161.7 452.3 161.6Z"/>
<path d="M647 115.1 642 116.4 639 120 644 118.4Z"/>
<path d="M577.9 153.2 573.2 155.1 569.9 158.2 574.6 156.3Z"/>
<path d="M511.1 178.9 506.7 180.3 503.1 178.1 507.5 176.9Z"/>
<path d="M443.8 161.8 439.5 161.9 434.9 152.4 439.2 152.7Z"/>
<path d="M634 121.6 629.1 123.1 625.9 127 630.9 125.2Z"/>
<path d="M565.3 160.1 560.7 162 557.4 164.4 562 162.5Z"/>
<path d="M498.7 179.3 494.4 180.5 490.6 176.9 495 176Z"/>
<path d="M430.6 152.2 426.3 152 421.5 141.5 425.8 142.1Z"/>
<path d="M621 128.7 616.1 130.4 613 134.4 617.9 132.5Z"/>
<path d="M552.8 166.2 548.2 168 544.8 169.6 549.4 167.8Z"/>
<path d="M486.2 177.9 481.9 178.8 478 173.8 482.3 173.1Z"/>
<path d="M608.1 136.2 603.3 138 600.1 141.9 604.9 140Z"/>
<path d="M540.3 171.3 535.8 173 532.4 173.6 536.9 171.9Z"/>
<path d="M473.7 174.5 469.4 175.2 465.3 168.7 469.6 168.3Z"/>
<path d="M595.3 143.8 590.5 145.7 587.3 149.3 592.1 147.3Z"/>
<path d="M527.9 175.1 523.5 176.7 519.9 176.1 524.4 174.6Z"/>
<path d="M460.9 169.1 456.7 169.5 452.3 161.6 456.7 161.5Z"/>
<path d="M652 113.7 647 115.1 644 118.4 649 116.8Z"/>
<path d="M582.6 151.2 577.9 153.2 574.6 156.3 579.3 154.3Z"/>
<path d="M515.5 177.5 511.1 178.9 507.5 176.9 511.9 175.7Z"/>
<path d="M448 161.7 443.8 161.8 439.2 152.7 443.5 152.9Z"/>
<path d="M639 120 634 121.6 630.9 125.2 635.9 123.5Z"/>
<path d="M569.9 158.2 565.3 160.1 562 162.5 566.6 160.7Z"/>
<path d="M503.1 178.1 498.7 179.3 495 176 499.3 175Z"/>
<path d="M434.9 152.4 430.6 152.2 425.8 142.1 430.2 142.6Z"/>
<path d="M625.9 127 621 128.7 617.9 132.5 622.8 130.6Z"/>
<path d="M557.4 164.4 552.8 166.2 549.4 167.8 554 166.1Z"/>
<path d="M490.6 176.9 486.2 177.9 482.3 173.1 486.7 172.4Z"/>
<path d="M613 134.4 608.1 136.2 604.9 140 609.8 138Z"/>
<path d="M544.8 169.6 540.3 171.3 536.9 171.9 541.4 170.3Z"/>
<path d="M478 173.8 473.7 174.5 469.6 168.3 473.9 167.9Z"/>
<path d="M600.1 141.9 595.3 143.8 592.1 147.3 596.9 145.4Z"/>
<path d="M532.4 173.6 527.9 175.1 524.4 174.6 528.9 173.2Z"/>
<path d="M465.3 168.7 460.9 169.1 456.7 161.5 461 161.4Z"/>
<path d="M587.3 149.3 582.6 151.2 579.3 154.3 584.1 152.4Z"/>
<path d="M519.9 176.1 515.5 177.5 511.9 175.7 516.4 174.5Z"/>
<path d="M452.3 161.6 448 161.7 443.5 152.9 447.9 153.1Z"/>
<path d="M644 118.4 639 120 635.9 123.5 640.9 121.7Z"/>
<path d="M574.6 156.3 569.9 158.2 566.6 160.7 571.3 158.8Z"/>
<path d="M507.5 176.9 503.1 178.1 499.3 175 503.8 174Z"/>
<path d="M439.2 152.7 434.9 152.4 430.2 142.6 434.6 143.2Z"/>
<path d="M630.9 125.2 625.9 127 622.8 130.6 627.8 128.7Z"/>
<path d="M562 162.5 557.4 164.4 554 166.1 558.6 164.3Z"/>
<path d="M495 176 490.6 176.9 486.7 172.4 491.1 171.7Z"/>
<path d="M425.8 142.1 421.5 141.5 416.6 131 421 131.9Z"/>
<path d="M617.9 132.5 613 134.4 609.8 138 614.7 136.1Z"/>
<path d="M549.4 167.8 544.8 169.6 541.4 170.3 546 168.7Z"/>
<path d="M482.3 173.1 478 173.8 473.9 167.9 478.3 167.5Z"/>
<path d="M604.9 140 600.1 141.9 596.9 145.4 601.7 143.4Z"/>
<path d="M536.9 171.9 532.4 173.6 528.9 173.2 533.4 171.8Z"/>
<path d="M469.6 168.3 465.3 168.7 461 161.4 465.4 161.3Z"/>
<path d="M592.1 147.3 587.3 149.3 584.1 152.4 588.8 150.4Z"/>
<path d="M524.4 174.6 519.9 176.1 516.4 174.5 520.8 173.3Z"/>
<path d="M456.7 161.5 452.3 161.6 447.9 153.1 452.3 153.4Z"/>
<path d="M649 116.8 644 118.4 640.9 121.7 646 119.9Z"/>
<path d="M579.3 154.3 574.6 156.3 571.3 158.8 576 156.9Z"/>
<path d="M511.9 175.7 507.5 176.9 503.8 174 508.2 173Z"/>
<path d="M443.5 152.9 439.2 152.7 434.6 143.2 439 143.8Z"/>
<path d="M635.9 123.5 630.9 125.2 627.8 128.7 632.8 126.8Z"/>
<path d="M566.6 160.7 562 162.5 558.6 164.3 563.3 162.5Z"/>
<path d="M499.3 175 495 176 491.1 171.7 495.5 171Z"/>
<path d="M430.2 142.6 425.8 142.1 421 131.9 425.4 132.8Z"/>
<path d="M622.8 130.6 617.9 132.5 614.7 136.1 619.7 134.1Z"/>
<path d="M554 166.1 549.4 167.8 546 168.7 550.6 167.1Z"/>
<path d="M486.7 172.4 482.3 173.1 478.3 167.5 482.7 167.1Z"/>
<path d="M609.8 138 604.9 140 601.7 143.4 606.6 141.4Z"/>
<path d="M541.4 170.3 536.9 171.9 533.4 171.8 538 170.3Z"/>
<path d="M473.9 167.9 469.6 168.3 465.4 161.3 469.8 161.3Z"/>
<path d="M596.9 145.4 592.1 147.3 588.8 150.4 593.7 148.5Z"/>
<path d="M528.9 173.2 524.4 174.6 520.8 173.3 525.4 172Z"/>
<path d="M461 161.4 456.7 161.5 452.3 153.4 456.7 153.6Z"/>
<path d="M584.1 152.4 579.3 154.3 576 156.9 580.8 155Z"/>
<path d="M516.4 174.5 511.9 175.7 508.2 173 512.7 172.1Z"/>
<path d="M447.9 153.1 443.5 152.9 439 143.8 443.4 144.4Z"/>
<path d="M640.9 121.7 635.9 123.5 632.8 126.8 637.8 124.9Z"/>
<path d="M571.3 158.8 566.6 160.7 563.3 162.5 568 160.7Z"/>
<path d="M503.8 174 499.3 175 495.5 171 500 170.3Z"/>
<path d="M434.6 143.2 430.2 142.6 425.4 132.8 429.8 133.8Z"/>
<path d="M627.8 128.7 622.8 130.6 619.7 134.1 624.6 132.1Z"/>
<path d="M558.6 164.3 554 166.1 550.6 167.1 555.3 165.4Z"/>
<path d="M491.1 171.7 486.7 172.4 482.7 167.1 487.2 166.7Z"/>
<path d="M421 131.9 416.6 131 411.6 121 416.1 122.3Z"/>
<path d="M614.7 136.1 609.8 138 606.6 141.4 611.5 139.4Z"/>
<path d="M546 168.7 541.4 170.3 538 170.3 542.6 168.8Z"/>
<path d="M478.3 167.5 473.9 167.9 469.8 161.3 474.2 161.2Z"/>
<path d="M601.7 143.4 596.9 145.4 593.7 148.5 598.5 146.5Z"/>
<path d="M533.4 171.8 528.9 173.2 525.4 172 529.9 170.8Z"/>
<path d="M465.4 161.3 461 161.4 456.7 153.6 461.1 153.9Z"/>
<path d="M588.8 150.4 584.1 152.4 580.8 155 585.6 153.1Z"/>
<path d="M520.8 173.3 516.4 174.5 512.7 172.1 517.2 171.1Z"/>
<path d="M452.3 153.4 447.9 153.1 443.4 144.4 447.8 144.9Z"/>
<path d="M646 119.9 640.9 121.7 637.8 124.9 642.9 123Z"/>
<path d="M576 156.9 571.3 158.8 568 160.7 572.7 158.9Z"/>
<path d="M508.2 173 503.8 174 500 170.3 504.5 169.6Z"/>
<path d="M439 143.8 434.6 143.2 429.8 133.8 434.3 134.7Z"/>
<path d="M632.8 126.8 627.8 128.7 624.6 132.1 629.7 130.1Z"/>
<path d="M563.3 162.5 558.6 164.3 555.3 165.4 559.9 163.8Z"/>
<path d="M495.5 171 491.1 171.7 487.2 166.7 491.6 166.3Z"/>
<path d="M425.4 132.8 421 131.9 416.1 122.3 420.5 123.5Z"/>
<path d="M619.7 134.1 614.7 136.1 611.5 139.4 616.5 137.4Z"/>
<path d="M550.6 167.1 546 168.7 542.6 168.8 547.2 167.4Z"/>
<path d="M482.7 167.1 478.3 167.5 474.2 161.2 478.7 161.1Z"/>
<path d="M606.6 141.4 601.7 143.4 598.5 146.5 603.4 144.5Z"/>
<path d="M538 170.3 533.4 171.8 529.9 170.8 534.5 169.5Z"/>
<path d="M469.8 161.3 465.4 161.3 461.1 153.9 465.6 154.1Z"/>
<path d="M593.7 148.5 588.8 150.4 585.6 153.1 590.4 151.1Z"/>
<path d="M525.4 172 520.8 173.3 517.2 171.1 521.8 170.1Z"/>
<path d="M456.7 153.6 452.3 153.4 447.8 144.9 452.3 145.5Z"/>
<path d="M580.8 155 576 156.9 572.7 158.9 577.5 157.1Z"/>
<path d="M512.7 172.1 508.2 173 504.5 169.6 509 168.9Z"/>
<path d="M443.4 144.4 439 143.8 434.3 134.7 438.7 135.6Z"/>
<path d="M637.8 124.9 632.8 126.8 629.7 130.1 634.7 128.1Z"/>
<path d="M568 160.7 563.3 162.5 559.9 163.8 564.7 162.1Z"/>
<path d="M500 170.3 495.5 171 491.6 166.3 496.1 165.8Z"/>
<path d="M429.8 133.8 425.4 132.8 420.5 123.5 425 124.7Z"/>
<path d="M624.6 132.1 619.7 134.1 616.5 137.4 621.5 135.3Z"/>
<path d="M555.3 165.4 550.6 167.1 547.2 167.4 551.9 165.9Z"/>
<path d="M487.2 166.7 482.7 167.1 478.7 161.1 483.2 161Z"/>
<path d="M611.5 139.4 606.6 141.4 603.4 144.5 608.3 142.4Z"/>
<path d="M542.6 168.8 538 170.3 534.5 169.5 539.1 168.3Z"/>
<path d="M474.2 161.2 469.8 161.3 465.6 154.1 470 154.3Z"/>
<path d="M598.5 146.5 593.7 148.5 590.4 151.1 595.3 149.2Z"/>
<path d="M529.9 170.8 525.4 172 521.8 170.1 526.3 169.1Z"/>
<path d="M461.1 153.9 456.7 153.6 452.3 145.5 456.7 146.1Z"/>
<path d="M585.6 153.1 580.8 155 577.5 157.1 582.3 155.3Z"/>
<path d="M517.2 171.1 512.7 172.1 509 168.9 513.5 168.1Z"/>
<path d="M447.8 144.9 443.4 144.4 438.7 135.6 443.2 136.5Z"/>
<path d="M642.9 123 637.8 124.9 634.7 128.1 639.8 126Z"/>
<path d="M572.7 158.9 568 160.7 564.7 162.1 569.4 160.4Z"/>
<path d="M504.5 169.6 500 170.3 496.1 165.8 500.7 165.4Z"/>
<path d="M434.3 134.7 429.8 133.8 425 124.7 429.5 126Z"/>
<path d="M629.7 130.1 624.6 132.1 621.5 135.3 626.5 133.2Z"/>
<path d="M559.9 163.8 555.3 165.4 551.9 165.9 556.6 164.4Z"/>
<path d="M491.6 166.3 487.2 166.7 483.2 161 487.7 160.9Z"/>
<path d="M616.5 137.4 611.5 139.4 608.3 142.4 613.3 140.4Z"/>
<path d="M547.2 167.4 542.6 168.8 539.1 168.3 543.7 167Z"/>
<path d="M478.7 161.1 474.2 161.2 470 154.3 474.5 154.6Z"/>
<path d="M603.4 144.5 598.5 146.5 595.3 149.2 600.2 147.2Z"/>
<path d="M534.5 169.5 529.9 170.8 526.3 169.1 530.9 168.1Z"/>
<path d="M465.6 154.1 461.1 153.9 456.7 146.1 461.2 146.7Z"/>
<path d="M590.4 151.1 585.6 153.1 582.3 155.3 587.1 153.4Z"/>
<path d="M521.8 170.1 517.2 171.1 513.5 168.1 518.1 167.4Z"/>
<path d="M452.3 145.5 447.8 144.9 443.2 136.5 447.7 137.4Z"/>
<path d="M577.5 157.1 572.7 158.9 569.4 160.4 574.2 158.7Z"/>
<path d="M509 168.9 504.5 169.6 500.7 165.4 505.2 165Z"/>
<path d="M438.7 135.6 434.3 134.7 429.5 126 434.1 127.2Z"/>
<path d="M634.7 128.1 629.7 130.1 626.5 133.2 631.6 131.2Z"/>
<path d="M564.7 162.1 559.9 163.8 556.6 164.4 561.3 162.9Z"/>
<path d="M496.1 165.8 491.6 166.3 487.7 160.9 492.2 160.8Z"/>
<path d="M621.5 135.3 616.5 137.4 613.3 140.4 618.3 138.4Z"/>
<path d="M551.9 165.9 547.2 167.4 543.7 167 548.4 165.7Z"/>
<path d="M483.2 161 478.7 161.1 474.5 154.6 479.1 154.8Z"/>
<path d="M608.3 142.4 603.4 144.5 600.2 147.2 605.1 145.2Z"/>
<path d="M539.1 168.3 534.5 169.5 530.9 168.1 535.6 167Z"/>
<path d="M470 154.3 465.6 154.1 461.2 146.7 465.8 147.3Z"/>
<path d="M595.3 149.2 590.4 151.1 587.1 153.4 592 151.5Z"/>
<path d="M526.3 169.1 521.8 170.1 518.1 167.4 522.7 166.7Z"/>
<path d="M456.7 146.1 452.3 145.5 447.7 137.4 452.3 138.4Z"/>
<path d="M582.3 155.3 577.5 157.1 574.2 158.7 579 157Z"/>
<path d="M513.5 168.1 509 168.9 505.2 165 509.8 164.6Z"/>
<path d="M443.2 136.5 438.7 135.6 434.1 127.2 438.6 128.5Z"/>
<path d="M639.8 126 634.7 128.1 631.6 131.2 636.7 129.1Z"/>
<path d="M569.4 160.4 564.7 162.1 561.3 162.9 566 161.4Z"/>
<path d="M500.7 165.4 496.1 165.8 492.2 160.8 496.8 160.7Z"/>
<path d="M626.5 133.2 621.5 135.3 618.3 138.4 623.4 136.3Z"/>
<path d="M556.6 164.4 551.9 165.9 548.4 165.7 553.1 164.4Z"/>
<path d="M487.7 160.9 483.2 161 479.1 154.8 483.6 155.1Z"/>
<path d="M613.3 140.4 608.3 142.4 605.1 145.2 610.1 143.2Z"/>
<path d="M543.7 167 539.1 168.3 535.6 167 540.2 166Z"/>
<path d="M474.5 154.6 470 154.3 465.8 147.3 470.3 147.9Z"/>
<path d="M600.2 147.2 595.3 149.2 592 151.5 596.9 149.7Z"/>
<path d="M530.9 168.1 526.3 169.1 522.7 166.7 527.3 166Z"/>
<path d="M461.2 146.7 456.7 146.1 452.3 138.4 456.8 139.3Z"/>
<path d="M587.1 153.4 582.3 155.3 579 157 583.8 155.3Z"/>
<path d="M518.1 167.4 513.5 168.1 509.8 164.6 514.4 164.2Z"/>
<path d="M447.7 137.4 443.2 136.5 438.6 128.5 443.2 129.8Z"/>
<path d="M574.2 158.7 569.4 160.4 566 161.4 570.8 159.9Z"/>
<path d="M505.2 165 500.7 165.4 496.8 160.7 501.3 160.6Z"/>
<path d="M631.6 131.2 626.5 133.2 623.4 136.3 628.4 134.2Z"/>
<path d="M561.3 162.9 556.6 164.4 553.1 164.4 557.9 163.2Z"/>
<path d="M492.2 160.8 487.7 160.9 483.6 155.1 488.2 155.3Z"/>
<path d="M618.3 138.4 613.3 140.4 610.1 143.2 615.1 141.2Z"/>
<path d="M548.4 165.7 543.7 167 540.2 166 544.9 165Z"/>
<path d="M479.1 154.8 474.5 154.6 470.3 147.9 474.9 148.5Z"/>
<path d="M605.1 145.2 600.2 147.2 596.9 149.7 601.9 147.8Z"/>
<path d="M535.6 167 530.9 168.1 527.3 166 532 165.2Z"/>
<path d="M465.8 147.3 461.2 146.7 456.8 139.3 461.4 140.2Z"/>
<path d="M592 151.5 587.1 153.4 583.8 155.3 588.7 153.5Z"/>
<path d="M522.7 166.7 518.1 167.4 514.4 164.2 519 163.7Z"/>
<path d="M452.3 138.4 447.7 137.4 443.2 129.8 447.8 131Z"/>
<path d="M579 157 574.2 158.7 570.8 159.9 575.7 158.3Z"/>
<path d="M509.8 164.6 505.2 165 501.3 160.6 505.9 160.5Z"/>
<path d="M636.7 129.1 631.6 131.2 628.4 134.2 633.6 132.1Z"/>
<path d="M566 161.4 561.3 162.9 557.9 163.2 562.6 161.8Z"/>
<path d="M496.8 160.7 492.2 160.8 488.2 155.3 492.8 155.6Z"/>
<path d="M623.4 136.3 618.3 138.4 615.1 141.2 620.2 139.2Z"/>
<path d="M553.1 164.4 548.4 165.7 544.9 165 549.7 164Z"/>
<path d="M483.6 155.1 479.1 154.8 474.9 148.5 479.5 149.1Z"/>
<path d="M610.1 143.2 605.1 145.2 601.9 147.8 606.9 145.9Z"/>
<path d="M540.2 166 535.6 167 532 165.2 536.7 164.5Z"/>
<path d="M470.3 147.9 465.8 147.3 461.4 140.2 466 141.2Z"/>
<path d="M596.9 149.7 592 151.5 588.7 153.5 593.7 151.8Z"/>
<path d="M527.3 166 522.7 166.7 519 163.7 523.7 163.3Z"/>
<path d="M456.8 139.3 452.3 138.4 447.8 131 452.4 132.3Z"/>
<path d="M583.8 155.3 579 157 575.7 158.3 580.5 156.8Z"/>
<path d="M514.4 164.2 509.8 164.6 505.9 160.5 510.6 160.4Z"/>
<path d="M570.8 159.9 566 161.4 562.6 161.8 567.4 160.5Z"/>
<path d="M501.3 160.6 496.8 160.7 492.8 155.6 497.4 155.8Z"/>
<path d="M628.4 134.2 623.4 136.3 620.2 139.2 625.3 137.2Z"/>
<path d="M557.9 163.2 553.1 164.4 549.7 164 554.4 162.9Z"/>
<path d="M488.2 155.3 483.6 155.1 479.5 149.1 484.1 149.7Z"/>
<path d="M615.1 141.2 610.1 143.2 606.9 145.9 611.9 143.9Z"/>
<path d="M544.9 165 540.2 166 536.7 164.5 541.4 163.7Z"/>
<path d="M474.9 148.5 470.3 147.9 466 141.2 470.6 142.1Z"/>
<path d="M601.9 147.8 596.9 149.7 593.7 151.8 598.6 150Z"/>
<path d="M532 165.2 527.3 166 523.7 163.3 528.3 162.9Z"/>
<path d="M461.4 140.2 456.8 139.3 452.4 132.3 457 133.6Z"/>
<path d="M588.7 153.5 583.8 155.3 580.5 156.8 585.4 155.2Z"/>
<path d="M519 163.7 514.4 164.2 510.6 160.4 515.2 160.3Z"/>
<path d="M575.7 158.3 570.8 159.9 567.4 160.5 572.3 159.2Z"/>
<path d="M505.9 160.5 501.3 160.6 497.4 155.8 502 156.1Z"/>
<path d="M633.6 132.1 628.4 134.2 625.3 137.2 630.4 135.1Z"/>
<path d="M562.6 161.8 557.9 163.2 554.4 162.9 559.2 161.9Z"/>
<path d="M492.8 155.6 488.2 155.3 484.1 149.7 488.7 150.3Z"/>
<path d="M620.2 139.2 615.1 141.2 611.9 143.9 617 142Z"/>
<path d="M549.7 164 544.9 165 541.4 163.7 546.1 163Z"/>
<path d="M479.5 149.1 474.9 148.5 470.6 142.1 475.3 143.1Z"/>
<path d="M606.9 145.9 601.9 147.8 598.6 150 603.6 148.3Z"/>
<path d="M536.7 164.5 532 165.2 528.3 162.9 533.1 162.4Z"/>
<path d="M466 141.2 461.4 140.2 457 133.6 461.6 134.9Z"/>
<path d="M593.7 151.8 588.7 153.5 585.4 155.2 590.4 153.6Z"/>
<path d="M523.7 163.3 519 163.7 515.2 160.3 519.9 160.2Z"/>
<path d="M580.5 156.8 575.7 158.3 572.3 159.2 577.2 157.9Z"/>
<path d="M510.6 160.4 505.9 160.5 502 156.1 506.7 156.3Z"/>
<path d="M567.4 160.5 562.6 161.8 559.2 161.9 564 160.8Z"/>
<path d="M497.4 155.8 492.8 155.6 488.7 150.3 493.4 150.9Z"/>
<path d="M625.3 137.2 620.2 139.2 617 142 622.1 140Z"/>
<path d="M554.4 162.9 549.7 164 546.1 163 550.9 162.2Z"/>
<path d="M484.1 149.7 479.5 149.1 475.3 143.1 479.9 144Z"/>
<path d="M611.9 143.9 606.9 145.9 603.6 148.3 608.6 146.5Z"/>
<path d="M541.4 163.7 536.7 164.5 533.1 162.4 537.8 162Z"/>
<path d="M470.6 142.1 466 141.2 461.6 134.9 466.3 136.2Z"/>
<path d="M598.6 150 593.7 151.8 590.4 153.6 595.3 152.1Z"/>
<path d="M528.3 162.9 523.7 163.3 519.9 160.2 524.6 160.1Z"/>
<path d="M585.4 155.2 580.5 156.8 577.2 157.9 582.1 156.5Z"/>
<path d="M515.2 160.3 510.6 160.4 506.7 156.3 511.4 156.6Z"/>
<path d="M572.3 159.2 567.4 160.5 564 160.8 568.9 159.7Z"/>
<path d="M502 156.1 497.4 155.8 493.4 150.9 498.1 151.5Z"/>
<path d="M630.4 135.1 625.3 137.2 622.1 140 627.2 138.1Z"/>
<path d="M559.2 161.9 554.4 162.9 550.9 162.2 555.7 161.4Z"/>
<path d="M488.7 150.3 484.1 149.7 479.9 144 484.6 145Z"/>
<path d="M617 142 611.9 143.9 608.6 146.5 613.7 144.7Z"/>
<path d="M546.1 163 541.4 163.7 537.8 162 542.6 161.6Z"/>
<path d="M475.3 143.1 470.6 142.1 466.3 136.2 471 137.5Z"/>
<path d="M603.6 148.3 598.6 150 595.3 152.1 600.3 150.5Z"/>
<path d="M533.1 162.4 528.3 162.9 524.6 160.1 529.4 160Z"/>
<path d="M590.4 153.6 585.4 155.2 582.1 156.5 587 155.2Z"/>
<path d="M519.9 160.2 515.2 160.3 511.4 156.6 516.1 156.9Z"/>
<path d="M577.2 157.9 572.3 159.2 568.9 159.7 573.8 158.7Z"/>
<path d="M506.7 156.3 502 156.1 498.1 151.5 502.8 152.1Z"/>
<path d="M564 160.8 559.2 161.9 555.7 161.4 560.6 160.7Z"/>
<path d="M493.4 150.9 488.7 150.3 484.6 145 489.3 146Z"/>
<path d="M622.1 140 617 142 613.7 144.7 618.8 142.9Z"/>
<path d="M550.9 162.2 546.1 163 542.6 161.6 547.4 161.1Z"/>
<path d="M479.9 144 475.3 143.1 471 137.5 475.7 138.8Z"/>
<path d="M608.6 146.5 603.6 148.3 600.3 150.5 605.4 148.9Z"/>
<path d="M537.8 162 533.1 162.4 529.4 160 534.1 159.9Z"/>
<path d="M595.3 152.1 590.4 153.6 587 155.2 592 153.8Z"/>
<path d="M524.6 160.1 519.9 160.2 516.1 156.9 520.9 157.1Z"/>
<path d="M582.1 156.5 577.2 157.9 573.8 158.7 578.7 157.6Z"/>
<path d="M511.4 156.6 506.7 156.3 502.8 152.1 507.5 152.7Z"/>
<path d="M568.9 159.7 564 160.8 560.6 160.7 565.4 159.9Z"/>
<path d="M498.1 151.5 493.4 150.9 489.3 146 494 146.9Z"/>
<path d="M627.2 138.1 622.1 140 618.8 142.9 624 141Z"/>
<path d="M555.7 161.4 550.9 162.2 547.4 161.1 552.2 160.7Z"/>
<path d="M484.6 145 479.9 144 475.7 138.8 480.4 140.1Z"/>
<path d="M613.7 144.7 608.6 146.5 605.4 148.9 610.5 147.2Z"/>
<path d="M542.6 161.6 537.8 162 534.1 159.9 538.9 159.8Z"/>
<path d="M600.3 150.5 595.3 152.1 592 153.8 597 152.5Z"/>
<path d="M529.4 160 524.6 160.1 520.9 157.1 525.6 157.4Z"/>
<path d="M587 155.2 582.1 156.5 578.7 157.6 583.7 156.5Z"/>
<path d="M516.1 156.9 511.4 156.6 507.5 152.7 512.3 153.3Z"/>
<path d="M573.8 158.7 568.9 159.7 565.4 159.9 570.3 159.1Z"/>
<path d="M502.8 152.1 498.1 151.5 494 146.9 498.8 147.9Z"/>
<path d="M560.6 160.7 555.7 161.4 552.2 160.7 557.1 160.2Z"/>
<path d="M489.3 146 484.6 145 480.4 140.1 485.2 141.4Z"/>
<path d="M618.8 142.9 613.7 144.7 610.5 147.2 615.6 145.6Z"/>
<path d="M547.4 161.1 542.6 161.6 538.9 159.8 543.8 159.7Z"/>
<path d="M605.4 148.9 600.3 150.5 597 152.5 602.1 151.1Z"/>
<path d="M534.1 159.9 529.4 160 525.6 157.4 530.4 157.6Z"/>
<path d="M592 153.8 587 155.2 583.7 156.5 588.6 155.4Z"/>
<path d="M520.9 157.1 516.1 156.9 512.3 153.3 517 154Z"/>
<path d="M578.7 157.6 573.8 158.7 570.3 159.1 575.3 158.3Z"/>
<path d="M507.5 152.7 502.8 152.1 498.8 147.9 503.5 148.9Z"/>
<path d="M565.4 159.9 560.6 160.7 557.1 160.2 562 159.8Z"/>
<path d="M494 146.9 489.3 146 485.2 141.4 489.9 142.7Z"/>
<path d="M624 141 618.8 142.9 615.6 145.6 620.7 144Z"/>
<path d="M552.2 160.7 547.4 161.1 543.8 159.7 548.6 159.6Z"/>
<path d="M610.5 147.2 605.4 148.9 602.1 151.1 607.2 149.7Z"/>
<path d="M538.9 159.8 534.1 159.9 530.4 157.6 535.3 157.9Z"/>
<path d="M597 152.5 592 153.8 588.6 155.4 593.7 154.3Z"/>
<path d="M525.6 157.4 520.9 157.1 517 154 521.9 154.6Z"/>
<path d="M583.7 156.5 578.7 157.6 575.3 158.3 580.3 157.6Z"/>
<path d="M512.3 153.3 507.5 152.7 503.5 148.9 508.3 149.9Z"/>
<path d="M570.3 159.1 565.4 159.9 562 159.8 566.9 159.3Z"/>
<path d="M498.8 147.9 494 146.9 489.9 142.7 494.7 144Z"/>
<path d="M557.1 160.2 552.2 160.7 548.6 159.6 553.5 159.5Z"/>
<path d="M615.6 145.6 610.5 147.2 607.2 149.7 612.3 148.3Z"/>
<path d="M543.8 159.7 538.9 159.8 535.3 157.9 540.1 158.2Z"/>
<path d="M602.1 151.1 597 152.5 593.7 154.3 598.7 153.2Z"/>
<path d="M530.4 157.6 525.6 157.4 521.9 154.6 526.7 155.2Z"/>
<path d="M588.6 155.4 583.7 156.5 580.3 157.6 585.3 156.8Z"/>
<path d="M517 154 512.3 153.3 508.3 149.9 513.2 150.9Z"/>
<path d="M575.3 158.3 570.3 159.1 566.9 159.3 571.8 158.9Z"/>
<path d="M503.5 148.9 498.8 147.9 494.7 144 499.5 145.4Z"/>
<path d="M562 159.8 557.1 160.2 553.5 159.5 558.4 159.4Z"/>
<path d="M620.7 144 615.6 145.6 612.3 148.3 617.4 146.9Z"/>
<path d="M548.6 159.6 543.8 159.7 540.1 158.2 545 158.4Z"/>
<path d="M607.2 149.7 602.1 151.1 598.7 153.2 603.8 152.1Z"/>
<path d="M535.3 157.9 530.4 157.6 526.7 155.2 531.5 155.9Z"/>
<path d="M593.7 154.3 588.6 155.4 585.3 156.8 590.3 156Z"/>
<path d="M521.9 154.6 517 154 513.2 150.9 518 151.9Z"/>
<path d="M580.3 157.6 575.3 158.3 571.8 158.9 576.8 158.4Z"/>
<path d="M508.3 149.9 503.5 148.9 499.5 145.4 504.4 146.7Z"/>
<path d="M566.9 159.3 562 159.8 558.4 159.4 563.4 159.3Z"/>
<path d="M553.5 159.5 548.6 159.6 545 158.4 549.9 158.7Z"/>
<path d="M612.3 148.3 607.2 149.7 603.8 152.1 609 150.9Z"/>
<path d="M540.1 158.2 535.3 157.9 531.5 155.9 536.4 156.5Z"/>
<path d="M598.7 153.2 593.7 154.3 590.3 156 595.4 155.2Z"/>
<path d="M526.7 155.2 521.9 154.6 518 151.9 522.9 152.9Z"/>
<path d="M585.3 156.8 580.3 157.6 576.8 158.4 581.8 158Z"/>
<path d="M513.2 150.9 508.3 149.9 504.4 146.7 509.2 148.1Z"/>
<path d="M571.8 158.9 566.9 159.3 563.4 159.3 568.3 159.2Z"/>
<path d="M558.4 159.4 553.5 159.5 549.9 158.7 554.8 159Z"/>
<path d="M617.4 146.9 612.3 148.3 609 150.9 614.1 149.8Z"/>
<path d="M545 158.4 540.1 158.2 536.4 156.5 541.3 157.1Z"/>
<path d="M603.8 152.1 598.7 153.2 595.4 155.2 600.5 154.3Z"/>
<path d="M531.5 155.9 526.7 155.2 522.9 152.9 527.8 153.9Z"/>
<path d="M590.3 156 585.3 156.8 581.8 158 586.9 157.5Z"/>
<path d="M518 151.9 513.2 150.9 509.2 148.1 514.1 149.4Z"/>
<path d="M576.8 158.4 571.8 158.9 568.3 159.2 573.3 159.1Z"/>
<path d="M563.4 159.3 558.4 159.4 554.8 159 559.8 159.2Z"/>
<path d="M549.9 158.7 545 158.4 541.3 157.1 546.3 157.8Z"/>
<path d="M609 150.9 603.8 152.1 600.5 154.3 605.6 153.5Z"/>
<path d="M536.4 156.5 531.5 155.9 527.8 153.9 532.7 154.9Z"/>
<path d="M595.4 155.2 590.3 156 586.9 157.5 592 157Z"/>
<path d="M522.9 152.9 518 151.9 514.1 149.4 519 150.8Z"/>
<path d="M581.8 158 576.8 158.4 573.3 159.1 578.4 159Z"/>
<path d="M568.3 159.2 563.4 159.3 559.8 159.2 564.8 159.5Z"/>
<path d="M554.8 159 549.9 158.7 546.3 157.8 551.2 158.4Z"/>
<path d="M614.1 149.8 609 150.9 605.6 153.5 610.8 152.7Z"/>
<path d="M541.3 157.1 536.4 156.5 532.7 154.9 537.6 155.9Z"/>
<path d="M600.5 154.3 595.4 155.2 592 157 597.1 156.6Z"/>
<path d="M527.8 153.9 522.9 152.9 519 150.8 523.9 152.1Z"/>
<path d="M586.9 157.5 581.8 158 578.4 159 583.4 158.9Z"/>
<path d="M573.3 159.1 568.3 159.2 564.8 159.5 569.8 159.8Z"/>
<path d="M559.8 159.2 554.8 159 551.2 158.4 556.2 159.1Z"/>
<path d="M546.3 157.8 541.3 157.1 537.6 155.9 542.6 156.9Z"/>
<path d="M605.6 153.5 600.5 154.3 597.1 156.6 602.2 156.1Z"/>
<path d="M532.7 154.9 527.8 153.9 523.9 152.1 528.9 153.5Z"/>
<path d="M592 157 586.9 157.5 583.4 158.9 588.5 158.8Z"/>
<path d="M578.4 159 573.3 159.1 569.8 159.8 574.9 160Z"/>
<path d="M564.8 159.5 559.8 159.2 556.2 159.1 561.2 159.7Z"/>
<path d="M551.2 158.4 546.3 157.8 542.6 156.9 547.5 157.9Z"/>
<path d="M610.8 152.7 605.6 153.5 602.2 156.1 607.4 155.6Z"/>
<path d="M537.6 155.9 532.7 154.9 528.9 153.5 533.8 154.9Z"/>
<path d="M597.1 156.6 592 157 588.5 158.8 593.6 158.7Z"/>
<path d="M583.4 158.9 578.4 159 574.9 160 579.9 160.3Z"/>
<path d="M569.8 159.8 564.8 159.5 561.2 159.7 566.3 160.4Z"/>
<path d="M556.2 159.1 551.2 158.4 547.5 157.9 552.6 159Z"/>
<path d="M542.6 156.9 537.6 155.9 533.8 154.9 538.8 156.3Z"/>
<path d="M602.2 156.1 597.1 156.6 593.6 158.7 598.8 158.6Z"/>
<path d="M588.5 158.8 583.4 158.9 579.9 160.3 585 160.6Z"/>
<path d="M574.9 160 569.8 159.8 566.3 160.4 571.3 161Z"/>
<path d="M561.2 159.7 556.2 159.1 552.6 159 557.6 160Z"/>
<path d="M547.5 157.9 542.6 156.9 538.8 156.3 543.8 157.6Z"/>
<path d="M607.4 155.6 602.2 156.1 598.8 158.6 604 158.5Z"/>
<path d="M593.6 158.7 588.5 158.8 585 160.6 590.2 160.9Z"/>
<path d="M579.9 160.3 574.9 160 571.3 161 576.4 161.7Z"/>
<path d="M566.3 160.4 561.2 159.7 557.6 160 562.6 161Z"/>
<path d="M552.6 159 547.5 157.9 543.8 157.6 548.9 159Z"/>
<path d="M598.8 158.6 593.6 158.7 590.2 160.9 595.3 161.2Z"/>
<path d="M585 160.6 579.9 160.3 576.4 161.7 581.5 162.4Z"/>
<path d="M571.3 161 566.3 160.4 562.6 161 567.7 162.1Z"/>
<path d="M557.6 160 552.6 159 548.9 159 553.9 160.4Z"/>
<path d="M604 158.5 598.8 158.6 595.3 161.2 600.5 161.4Z"/>
<path d="M590.2 160.9 585 160.6 581.5 162.4 586.7 163Z"/>
<path d="M576.4 161.7 571.3 161 567.7 162.1 572.8 163.1Z"/>
<path d="M562.6 161 557.6 160 553.9 160.4 559 161.8Z"/>
<path d="M595.3 161.2 590.2 160.9 586.7 163 591.8 163.7Z"/>
<path d="M581.5 162.4 576.4 161.7 572.8 163.1 578 164.2Z"/>
<path d="M567.7 162.1 562.6 161 559 161.8 564.1 163.3Z"/>
<path d="M600.5 161.4 595.3 161.2 591.8 163.7 597 164.4Z"/>
<path d="M586.7 163 581.5 162.4 578 164.2 583.1 165.2Z"/>
<path d="M572.8 163.1 567.7 162.1 564.1 163.3 569.2 164.7Z"/>
<path d="M591.8 163.7 586.7 163 583.1 165.2 588.3 166.3Z"/>
<path d="M578 164.2 572.8 163.1 569.2 164.7 574.4 166.1Z"/>
<path d="M597 164.4 591.8 163.7 588.3 166.3 593.5 167.4Z"/>
<path d="M583.1 165.2 578 164.2 574.4 166.1 579.5 167.5Z"/>
<path d="M588.3 166.3 583.1 165.2 579.5 167.5 584.7 169Z"/>
<path d="M593.5 167.4 588.3 166.3 584.7 169 590 170.4Z"/></g>
<text class="tl" transform="translate(400.5 208.1) scale(1 1.12)">-0.2</text>
<text class="tl" transform="translate(397.4 164) scale(1 1.12)">-0.1</text>
<text class="tl" transform="translate(394.2 117.8) scale(1 1.12)">0.0</text>
<text class="tl" transform="translate(538.2 298.8) scale(1 1.12)">50</text>
<text class="tl" transform="translate(492.2 282.6) scale(1 1.12)">100</text>
<text class="tl" transform="translate(448.1 267) scale(1 1.12)">150</text>
<text class="tl" transform="translate(682.5 213.6) scale(1 1.12)">0</text>
<text class="tl" transform="translate(669.2 228.6) scale(1 1.12)">5</text>
<text class="tl" transform="translate(655.4 244.3) scale(1 1.12)">10</text>
<text class="tl" transform="translate(640.9 260.6) scale(1 1.12)">15</text>
<text class="tl" transform="translate(625.8 277.7) scale(1 1.12)">20</text>
<text class="tl" transform="translate(610 295.5) scale(1 1.12)">25</text>
<text class="tt" transform="translate(370.1 169) rotate(86)" y="3">Change of DBP (mmHg)</text>
<text class="tt" transform="translate(482.2 300.4) rotate(19.4)" y="3">O<tspan class="sub" dy="2">3</tspan><tspan dy="-2"> exposure (μg/m</tspan><tspan class="sup" dy="-4">3</tspan><tspan dy="4">)</tspan></text>
<text class="tt" transform="translate(662.6 267.1) rotate(-48.2)" y="3" style="font-size:12.6px">Lag (days)</text></g>
<g><line class="dt" x1="46.7" y1="408.6" x2="229.4" y2="458.5"/>
<line class="dt" x1="321.9" y1="376.8" x2="229.4" y2="458.5"/>
<line class="dt" x1="229.4" y1="458.5" x2="225.6" y2="636.7"/>
<line class="bx" x1="154.8" y1="338.6" x2="46.7" y2="408.6"/>
<line class="bx" x1="154.8" y1="338.6" x2="321.9" y2="376.8"/>
<line class="bx" x1="154.8" y1="338.6" x2="157.3" y2="494.3"/>
<line class="bx" x1="46.7" y1="408.6" x2="58.6" y2="578"/>
<line class="bx" x1="321.9" y1="376.8" x2="311.3" y2="540.2"/>
<line class="bx" x1="58.6" y1="578" x2="157.3" y2="494.3"/>
<line class="bx" x1="311.3" y1="540.2" x2="157.3" y2="494.3"/>
<line class="bx" x1="58.6" y1="578" x2="225.6" y2="636.7"/>
<line class="bx" x1="225.6" y1="636.7" x2="311.3" y2="540.2"/>
<line class="bx" x1="57.3" y1="560" x2="49.2" y2="561.2"/>
<line class="bx" x1="53.8" y1="510.8" x2="45.5" y2="511.9"/>
<line class="bx" x1="50.2" y1="458.9" x2="41.7" y2="459.9"/>
<line class="bx" x1="182.6" y1="621.6" x2="179.6" y2="629.6"/>
<line class="bx" x1="136.7" y1="605.4" x2="133.7" y2="613.2"/>
<line class="bx" x1="92.6" y1="590" x2="89.6" y2="597.6"/>
<line class="bx" x1="311.3" y1="540.2" x2="315.9" y2="546.2"/>
<line class="bx" x1="298" y1="555.1" x2="302.7" y2="561.3"/>
<line class="bx" x1="284.1" y1="570.7" x2="289" y2="577"/>
<line class="bx" x1="269.7" y1="587" x2="274.7" y2="593.4"/>
<line class="bx" x1="254.6" y1="604" x2="259.7" y2="610.5"/>
<line class="bx" x1="238.8" y1="621.8" x2="244" y2="628.5"/>
<g class="sf"><path d="M161 482.2 157.2 484.7 154.2 488.8 158 486.2Z"/>
<path d="M164.9 479.6 161 482.2 158 486.2 161.9 483.6Z"/>
<path d="M168.9 477 164.9 479.6 161.9 483.6 165.8 481Z"/>
<path d="M158 486.2 154.2 488.8 151.1 492.9 155 490.3Z"/>
<path d="M172.8 474.5 168.9 477 165.8 481 169.8 478.4Z"/>
<path d="M161.9 483.6 158 486.2 155 490.3 158.9 487.7Z"/>
<path d="M176.8 471.9 172.8 474.5 169.8 478.4 173.8 475.8Z"/>
<path d="M165.8 481 161.9 483.6 158.9 487.7 162.8 485Z"/>
<path d="M155 490.3 151.1 492.9 148 496.9 151.9 494.3Z"/>
<path d="M180.8 469.2 176.8 471.9 173.8 475.8 177.8 473.1Z"/>
<path d="M169.8 478.4 165.8 481 162.8 485 166.7 482.4Z"/>
<path d="M158.9 487.7 155 490.3 151.9 494.3 155.8 491.6Z"/>
<path d="M184.8 466.6 180.8 469.2 177.8 473.1 181.8 470.5Z"/>
<path d="M173.8 475.8 169.8 478.4 166.7 482.4 170.7 479.7Z"/>
<path d="M162.8 485 158.9 487.7 155.8 491.6 159.7 489Z"/>
<path d="M151.9 494.3 148 496.9 145 500.9 148.8 498.2Z"/>
<path d="M188.9 463.9 184.8 466.6 181.8 470.5 185.9 467.8Z"/>
<path d="M177.8 473.1 173.8 475.8 170.7 479.7 174.7 477Z"/>
<path d="M166.7 482.4 162.8 485 159.7 489 163.7 486.3Z"/>
<path d="M155.8 491.6 151.9 494.3 148.8 498.2 152.7 495.5Z"/>
<path d="M193 461.3 188.9 463.9 185.9 467.8 190 465Z"/>
<path d="M181.8 470.5 177.8 473.1 174.7 477 178.8 474.3Z"/>
<path d="M170.7 479.7 166.7 482.4 163.7 486.3 167.7 483.6Z"/>
<path d="M159.7 489 155.8 491.6 152.7 495.5 156.6 492.8Z"/>
<path d="M148.8 498.2 145 500.9 141.8 504.7 145.7 502Z"/>
<path d="M197.2 458.5 193 461.3 190 465 194.1 462.3Z"/>
<path d="M185.9 467.8 181.8 470.5 178.8 474.3 182.9 471.6Z"/>
<path d="M174.7 477 170.7 479.7 167.7 483.6 171.7 480.9Z"/>
<path d="M163.7 486.3 159.7 489 156.6 492.8 160.6 490.1Z"/>
<path d="M152.7 495.5 148.8 498.2 145.7 502 149.6 499.3Z"/>
<path d="M201.3 455.8 197.2 458.5 194.1 462.3 198.3 459.5Z"/>
<path d="M190 465 185.9 467.8 182.9 471.6 187 468.8Z"/>
<path d="M178.8 474.3 174.7 477 171.7 480.9 175.7 478.1Z"/>
<path d="M167.7 483.6 163.7 486.3 160.6 490.1 164.6 487.4Z"/>
<path d="M156.6 492.8 152.7 495.5 149.6 499.3 153.5 496.6Z"/>
<path d="M205.5 453.1 201.3 455.8 198.3 459.5 202.5 456.7Z"/>
<path d="M145.7 502 141.8 504.7 138.7 508.4 142.6 505.7Z"/>
<path d="M194.1 462.3 190 465 187 468.8 191.1 466Z"/>
<path d="M182.9 471.6 178.8 474.3 175.7 478.1 179.8 475.3Z"/>
<path d="M171.7 480.9 167.7 483.6 164.6 487.4 168.6 484.6Z"/>
<path d="M160.6 490.1 156.6 492.8 153.5 496.6 157.5 493.8Z"/>
<path d="M209.7 450.3 205.5 453.1 202.5 456.7 206.7 453.9Z"/>
<path d="M149.6 499.3 145.7 502 142.6 505.7 146.5 502.9Z"/>
<path d="M198.3 459.5 194.1 462.3 191.1 466 195.3 463.2Z"/>
<path d="M187 468.8 182.9 471.6 179.8 475.3 183.9 472.5Z"/>
<path d="M175.7 478.1 171.7 480.9 168.6 484.6 172.7 481.8Z"/>
<path d="M164.6 487.4 160.6 490.1 157.5 493.8 161.5 491.1Z"/>
<path d="M214 447.5 209.7 450.3 206.7 453.9 211 451.1Z"/>
<path d="M153.5 496.6 149.6 499.3 146.5 502.9 150.4 500.2Z"/>
<path d="M202.5 456.7 198.3 459.5 195.3 463.2 199.5 460.4Z"/>
<path d="M142.6 505.7 138.7 508.4 135.5 511.8 139.4 509.1Z"/>
<path d="M191.1 466 187 468.8 183.9 472.5 188.1 469.7Z"/>
<path d="M179.8 475.3 175.7 478.1 172.7 481.8 176.7 479Z"/>
<path d="M168.6 484.6 164.6 487.4 161.5 491.1 165.5 488.3Z"/>
<path d="M218.3 444.7 214 447.5 211 451.1 215.3 448.3Z"/>
<path d="M157.5 493.8 153.5 496.6 150.4 500.2 154.4 497.4Z"/>
<path d="M206.7 453.9 202.5 456.7 199.5 460.4 203.7 457.6Z"/>
<path d="M146.5 502.9 142.6 505.7 139.4 509.1 143.3 506.4Z"/>
<path d="M195.3 463.2 191.1 466 188.1 469.7 192.2 466.9Z"/>
<path d="M183.9 472.5 179.8 475.3 176.7 479 180.8 476.2Z"/>
<path d="M172.7 481.8 168.6 484.6 165.5 488.3 169.5 485.5Z"/>
<path d="M222.6 441.9 218.3 444.7 215.3 448.3 219.6 445.4Z"/>
<path d="M161.5 491.1 157.5 493.8 154.4 497.4 158.3 494.6Z"/>
<path d="M211 451.1 206.7 453.9 203.7 457.6 208 454.7Z"/>
<path d="M150.4 500.2 146.5 502.9 143.3 506.4 147.2 503.6Z"/>
<path d="M199.5 460.4 195.3 463.2 192.2 466.9 196.4 464Z"/>
<path d="M139.4 509.1 135.5 511.8 132.3 515.1 136.2 512.4Z"/>
<path d="M188.1 469.7 183.9 472.5 180.8 476.2 185 473.4Z"/>
<path d="M176.7 479 172.7 481.8 169.5 485.5 173.6 482.7Z"/>
<path d="M227 439 222.6 441.9 219.6 445.4 224 442.5Z"/>
<path d="M165.5 488.3 161.5 491.1 158.3 494.6 162.4 491.8Z"/>
<path d="M215.3 448.3 211 451.1 208 454.7 212.3 451.8Z"/>
<path d="M154.4 497.4 150.4 500.2 147.2 503.6 151.2 500.8Z"/>
<path d="M203.7 457.6 199.5 460.4 196.4 464 200.7 461.2Z"/>
<path d="M143.3 506.4 139.4 509.1 136.2 512.4 140.1 509.6Z"/>
<path d="M192.2 466.9 188.1 469.7 185 473.4 189.2 470.5Z"/>
<path d="M180.8 476.2 176.7 479 173.6 482.7 177.7 479.8Z"/>
<path d="M231.4 436.2 227 439 224 442.5 228.4 439.6Z"/>
<path d="M169.5 485.5 165.5 488.3 162.4 491.8 166.4 489Z"/>
<path d="M219.6 445.4 215.3 448.3 212.3 451.8 216.6 448.9Z"/>
<path d="M158.3 494.6 154.4 497.4 151.2 500.8 155.2 498Z"/>
<path d="M208 454.7 203.7 457.6 200.7 461.2 205 458.3Z"/>
<path d="M147.2 503.6 143.3 506.4 140.1 509.6 144.1 506.9Z"/>
<path d="M196.4 464 192.2 466.9 189.2 470.5 193.4 467.6Z"/>
<path d="M136.2 512.4 132.3 515.1 129.1 518.2 133 515.4Z"/>
<path d="M185 473.4 180.8 476.2 177.7 479.8 181.9 476.9Z"/>
<path d="M235.8 433.3 231.4 436.2 228.4 439.6 232.8 436.7Z"/>
<path d="M173.6 482.7 169.5 485.5 166.4 489 170.5 486.1Z"/>
<path d="M224 442.5 219.6 445.4 216.6 448.9 221 446Z"/>
<path d="M162.4 491.8 158.3 494.6 155.2 498 159.2 495.2Z"/>
<path d="M212.3 451.8 208 454.7 205 458.3 209.3 455.3Z"/>
<path d="M151.2 500.8 147.2 503.6 144.1 506.9 148 504.1Z"/>
<path d="M200.7 461.2 196.4 464 193.4 467.6 197.6 464.7Z"/>
<path d="M140.1 509.6 136.2 512.4 133 515.4 136.9 512.7Z"/>
<path d="M189.2 470.5 185 473.4 181.9 476.9 186.1 474Z"/>
<path d="M240.3 430.4 235.8 433.3 232.8 436.7 237.3 433.7Z"/>
<path d="M177.7 479.8 173.6 482.7 170.5 486.1 174.6 483.3Z"/>
<path d="M228.4 439.6 224 442.5 221 446 225.4 443Z"/>
<path d="M166.4 489 162.4 491.8 159.2 495.2 163.3 492.4Z"/>
<path d="M216.6 448.9 212.3 451.8 209.3 455.3 213.6 452.4Z"/>
<path d="M155.2 498 151.2 500.8 148 504.1 152 501.2Z"/>
<path d="M205 458.3 200.7 461.2 197.6 464.7 201.9 461.8Z"/>
<path d="M144.1 506.9 140.1 509.6 136.9 512.7 140.8 509.9Z"/>
<path d="M193.4 467.6 189.2 470.5 186.1 474 190.3 471.1Z"/>
<path d="M133 515.4 129.1 518.2 125.9 521 129.7 518.2Z"/>
<path d="M244.8 427.4 240.3 430.4 237.3 433.7 241.8 430.7Z"/>
<path d="M181.9 476.9 177.7 479.8 174.6 483.3 178.8 480.4Z"/>
<path d="M232.8 436.7 228.4 439.6 225.4 443 229.8 440Z"/>
<path d="M170.5 486.1 166.4 489 163.3 492.4 167.4 489.5Z"/>
<path d="M221 446 216.6 448.9 213.6 452.4 218 449.4Z"/>
<path d="M159.2 495.2 155.2 498 152 501.2 156 498.4Z"/>
<path d="M209.3 455.3 205 458.3 201.9 461.8 206.2 458.8Z"/>
<path d="M148 504.1 144.1 506.9 140.8 509.9 144.8 507.1Z"/>
<path d="M197.6 464.7 193.4 467.6 190.3 471.1 194.5 468.2Z"/>
<path d="M136.9 512.7 133 515.4 129.7 518.2 133.6 515.5Z"/>
<path d="M249.3 424.5 244.8 427.4 241.8 430.7 246.4 427.7Z"/>
<path d="M186.1 474 181.9 476.9 178.8 480.4 183 477.4Z"/>
<path d="M237.3 433.7 232.8 436.7 229.8 440 234.3 437Z"/>
<path d="M174.6 483.3 170.5 486.1 167.4 489.5 171.5 486.6Z"/>
<path d="M225.4 443 221 446 218 449.4 222.4 446.4Z"/>
<path d="M163.3 492.4 159.2 495.2 156 498.4 160.1 495.5Z"/>
<path d="M213.6 452.4 209.3 455.3 206.2 458.8 210.5 455.8Z"/>
<path d="M152 501.2 148 504.1 144.8 507.1 148.8 504.3Z"/>
<path d="M201.9 461.8 197.6 464.7 194.5 468.2 198.8 465.2Z"/>
<path d="M140.8 509.9 136.9 512.7 133.6 515.5 137.6 512.7Z"/>
<path d="M253.9 421.5 249.3 424.5 246.4 427.7 250.9 424.7Z"/>
<path d="M190.3 471.1 186.1 474 183 477.4 187.2 474.5Z"/>
<path d="M129.7 518.2 125.9 521 122.6 523.5 126.4 520.8Z"/>
<path d="M241.8 430.7 237.3 433.7 234.3 437 238.8 434Z"/>
<path d="M178.8 480.4 174.6 483.3 171.5 486.6 175.6 483.7Z"/>
<path d="M229.8 440 225.4 443 222.4 446.4 226.8 443.4Z"/>
<path d="M167.4 489.5 163.3 492.4 160.1 495.5 164.2 492.7Z"/>
<path d="M218 449.4 213.6 452.4 210.5 455.8 214.9 452.8Z"/>
<path d="M156 498.4 152 501.2 148.8 504.3 152.8 501.4Z"/>
<path d="M206.2 458.8 201.9 461.8 198.8 465.2 203.1 462.2Z"/>
<path d="M144.8 507.1 140.8 509.9 137.6 512.7 141.6 509.9Z"/>
<path d="M258.5 418.4 253.9 421.5 250.9 424.7 255.5 421.6Z"/>
<path d="M194.5 468.2 190.3 471.1 187.2 474.5 191.4 471.5Z"/>
<path d="M133.6 515.5 129.7 518.2 126.4 520.8 130.4 518Z"/>
<path d="M246.4 427.7 241.8 430.7 238.8 434 243.4 431Z"/>
<path d="M183 477.4 178.8 480.4 175.6 483.7 179.8 480.7Z"/>
<path d="M234.3 437 229.8 440 226.8 443.4 231.3 440.4Z"/>
<path d="M171.5 486.6 167.4 489.5 164.2 492.7 168.3 489.8Z"/>
<path d="M222.4 446.4 218 449.4 214.9 452.8 219.3 449.8Z"/>
<path d="M160.1 495.5 156 498.4 152.8 501.4 156.9 498.5Z"/>
<path d="M210.5 455.8 206.2 458.8 203.1 462.2 207.5 459.2Z"/>
<path d="M148.8 504.3 144.8 507.1 141.6 509.9 145.6 507.1Z"/>
<path d="M263.1 415.4 258.5 418.4 255.5 421.6 260.2 418.5Z"/>
<path d="M198.8 465.2 194.5 468.2 191.4 471.5 195.7 468.5Z"/>
<path d="M137.6 512.7 133.6 515.5 130.4 518 134.3 515.2Z"/>
<path d="M250.9 424.7 246.4 427.7 243.4 431 248 427.9Z"/>
<path d="M187.2 474.5 183 477.4 179.8 480.7 184 477.8Z"/>
<path d="M126.4 520.8 122.6 523.5 119.2 525.7 123.1 523Z"/>
<path d="M238.8 434 234.3 437 231.3 440.4 235.8 437.3Z"/>
<path d="M175.6 483.7 171.5 486.6 168.3 489.8 172.5 486.8Z"/>
<path d="M226.8 443.4 222.4 446.4 219.3 449.8 223.8 446.7Z"/>
<path d="M164.2 492.7 160.1 495.5 156.9 498.5 161 495.6Z"/>
<path d="M214.9 452.8 210.5 455.8 207.5 459.2 211.9 456.2Z"/>
<path d="M152.8 501.4 148.8 504.3 145.6 507.1 149.6 504.2Z"/>
<path d="M267.8 412.4 263.1 415.4 260.2 418.5 264.9 415.4Z"/>
<path d="M203.1 462.2 198.8 465.2 195.7 468.5 200 465.5Z"/>
<path d="M141.6 509.9 137.6 512.7 134.3 515.2 138.3 512.4Z"/>
<path d="M255.5 421.6 250.9 424.7 248 427.9 252.6 424.8Z"/>
<path d="M191.4 471.5 187.2 474.5 184 477.8 188.3 474.8Z"/>
<path d="M130.4 518 126.4 520.8 123.1 523 127 520.3Z"/>
<path d="M243.4 431 238.8 434 235.8 437.3 240.4 434.2Z"/>
<path d="M179.8 480.7 175.6 483.7 172.5 486.8 176.6 483.9Z"/>
<path d="M231.3 440.4 226.8 443.4 223.8 446.7 228.3 443.7Z"/>
<path d="M168.3 489.8 164.2 492.7 161 495.6 165.1 492.7Z"/>
<path d="M219.3 449.8 214.9 452.8 211.9 456.2 216.3 453.1Z"/>
<path d="M156.9 498.5 152.8 501.4 149.6 504.2 153.6 501.3Z"/>
<path d="M272.5 409.3 267.8 412.4 264.9 415.4 269.6 412.3Z"/>
<path d="M207.5 459.2 203.1 462.2 200 465.5 204.4 462.5Z"/>
<path d="M145.6 507.1 141.6 509.9 138.3 512.4 142.3 509.6Z"/>
<path d="M260.2 418.5 255.5 421.6 252.6 424.8 257.2 421.7Z"/>
<path d="M195.7 468.5 191.4 471.5 188.3 474.8 192.6 471.8Z"/>
<path d="M134.3 515.2 130.4 518 127 520.3 131 517.5Z"/>
<path d="M248 427.9 243.4 431 240.4 434.2 245 431.1Z"/>
<path d="M184 477.8 179.8 480.7 176.6 483.9 180.9 480.9Z"/>
<path d="M123.1 523 119.2 525.7 115.9 527.7 119.8 525Z"/>
<path d="M235.8 437.3 231.3 440.4 228.3 443.7 232.8 440.6Z"/>
<path d="M172.5 486.8 168.3 489.8 165.1 492.7 169.3 489.8Z"/>
<path d="M223.8 446.7 219.3 449.8 216.3 453.1 220.7 450Z"/>
<path d="M161 495.6 156.9 498.5 153.6 501.3 157.7 498.4Z"/>
<path d="M277.3 406.2 272.5 409.3 269.6 412.3 274.4 409.1Z"/>
<path d="M211.9 456.2 207.5 459.2 204.4 462.5 208.8 459.4Z"/>
<path d="M149.6 504.2 145.6 507.1 142.3 509.6 146.3 506.8Z"/>
<path d="M264.9 415.4 260.2 418.5 257.2 421.7 261.9 418.5Z"/>
<path d="M200 465.5 195.7 468.5 192.6 471.8 196.9 468.7Z"/>
<path d="M138.3 512.4 134.3 515.2 131 517.5 135 514.7Z"/>
<path d="M252.6 424.8 248 427.9 245 431.1 249.6 427.9Z"/>
<path d="M188.3 474.8 184 477.8 180.9 480.9 185.1 477.9Z"/>
<path d="M127 520.3 123.1 523 119.8 525 123.7 522.3Z"/>
<path d="M240.4 434.2 235.8 437.3 232.8 440.6 237.4 437.4Z"/>
<path d="M176.6 483.9 172.5 486.8 169.3 489.8 173.5 486.8Z"/>
<path d="M228.3 443.7 223.8 446.7 220.7 450 225.2 446.9Z"/>
<path d="M165.1 492.7 161 495.6 157.7 498.4 161.9 495.5Z"/>
<path d="M282.1 403 277.3 406.2 274.4 409.1 279.2 405.9Z"/>
<path d="M216.3 453.1 211.9 456.2 208.8 459.4 213.2 456.3Z"/>
<path d="M153.6 501.3 149.6 504.2 146.3 506.8 150.4 503.9Z"/>
<path d="M269.6 412.3 264.9 415.4 261.9 418.5 266.7 415.3Z"/>
<path d="M204.4 462.5 200 465.5 196.9 468.7 201.3 465.7Z"/>
<path d="M142.3 509.6 138.3 512.4 135 514.7 139 511.9Z"/>
<path d="M257.2 421.7 252.6 424.8 249.6 427.9 254.3 424.8Z"/>
<path d="M192.6 471.8 188.3 474.8 185.1 477.9 189.4 474.8Z"/>
<path d="M131 517.5 127 520.3 123.7 522.3 127.6 519.5Z"/>
<path d="M245 431.1 240.4 434.2 237.4 437.4 242 434.3Z"/>
<path d="M180.9 480.9 176.6 483.9 173.5 486.8 177.7 483.8Z"/>
<path d="M119.8 525 115.9 527.7 112.4 529.3 116.3 526.7Z"/>
<path d="M232.8 440.6 228.3 443.7 225.2 446.9 229.8 443.8Z"/>
<path d="M169.3 489.8 165.1 492.7 161.9 495.5 166 492.6Z"/>
<path d="M286.9 399.9 282.1 403 279.2 405.9 284 402.7Z"/>
<path d="M220.7 450 216.3 453.1 213.2 456.3 217.7 453.2Z"/>
<path d="M157.7 498.4 153.6 501.3 150.4 503.9 154.5 501Z"/>
<path d="M274.4 409.1 269.6 412.3 266.7 415.3 271.5 412.1Z"/>
<path d="M208.8 459.4 204.4 462.5 201.3 465.7 205.6 462.6Z"/>
<path d="M146.3 506.8 142.3 509.6 139 511.9 143 509.1Z"/>
<path d="M261.9 418.5 257.2 421.7 254.3 424.8 259 421.6Z"/>
<path d="M196.9 468.7 192.6 471.8 189.4 474.8 193.7 471.8Z"/>
<path d="M135 514.7 131 517.5 127.6 519.5 131.6 516.8Z"/>
<path d="M249.6 427.9 245 431.1 242 434.3 246.6 431.1Z"/>
<path d="M185.1 477.9 180.9 480.9 177.7 483.8 181.9 480.8Z"/>
<path d="M123.7 522.3 119.8 525 116.3 526.7 120.3 524Z"/>
<path d="M237.4 437.4 232.8 440.6 229.8 443.8 234.3 440.6Z"/>
<path d="M173.5 486.8 169.3 489.8 166 492.6 170.2 489.6Z"/>
<path d="M291.8 396.7 286.9 399.9 284 402.7 288.9 399.5Z"/>
<path d="M225.2 446.9 220.7 450 217.7 453.2 222.2 450.1Z"/>
<path d="M161.9 495.5 157.7 498.4 154.5 501 158.6 498.1Z"/>
<path d="M279.2 405.9 274.4 409.1 271.5 412.1 276.3 408.9Z"/>
<path d="M213.2 456.3 208.8 459.4 205.6 462.6 210.1 459.5Z"/>
<path d="M150.4 503.9 146.3 506.8 143 509.1 147.1 506.2Z"/>
<path d="M266.7 415.3 261.9 418.5 259 421.6 263.7 418.4Z"/>
<path d="M201.3 465.7 196.9 468.7 193.7 471.8 198.1 468.7Z"/>
<path d="M139 511.9 135 514.7 131.6 516.8 135.6 514Z"/>
<path d="M254.3 424.8 249.6 427.9 246.6 431.1 251.3 427.9Z"/>
<path d="M189.4 474.8 185.1 477.9 181.9 480.8 186.2 477.8Z"/>
<path d="M127.6 519.5 123.7 522.3 120.3 524 124.2 521.2Z"/>
<path d="M242 434.3 237.4 437.4 234.3 440.6 238.9 437.4Z"/>
<path d="M177.7 483.8 173.5 486.8 170.2 489.6 174.5 486.6Z"/>
<path d="M116.3 526.7 112.4 529.3 109 530.7 112.9 528Z"/>
<path d="M296.7 393.5 291.8 396.7 288.9 399.5 293.8 396.2Z"/>
<path d="M229.8 443.8 225.2 446.9 222.2 450.1 226.7 446.9Z"/>
<path d="M166 492.6 161.9 495.5 158.6 498.1 162.8 495.2Z"/>
<path d="M284 402.7 279.2 405.9 276.3 408.9 281.1 405.6Z"/>
<path d="M217.7 453.2 213.2 456.3 210.1 459.5 214.5 456.3Z"/>
<path d="M154.5 501 150.4 503.9 147.1 506.2 151.2 503.4Z"/>
<path d="M271.5 412.1 266.7 415.3 263.7 418.4 268.5 415.1Z"/>
<path d="M205.6 462.6 201.3 465.7 198.1 468.7 202.5 465.6Z"/>
<path d="M143 509.1 139 511.9 135.6 514 139.7 511.2Z"/>
<path d="M259 421.6 254.3 424.8 251.3 427.9 256 424.6Z"/>
<path d="M193.7 471.8 189.4 474.8 186.2 477.8 190.6 474.7Z"/>
<path d="M131.6 516.8 127.6 519.5 124.2 521.2 128.2 518.5Z"/>
<path d="M246.6 431.1 242 434.3 238.9 437.4 243.6 434.2Z"/>
<path d="M181.9 480.8 177.7 483.8 174.5 486.6 178.7 483.6Z"/>
<path d="M120.3 524 116.3 526.7 112.9 528 116.8 525.4Z"/>
<path d="M301.7 390.2 296.7 393.5 293.8 396.2 298.8 392.9Z"/>
<path d="M234.3 440.6 229.8 443.8 226.7 446.9 231.3 443.7Z"/>
<path d="M170.2 489.6 166 492.6 162.8 495.2 167 492.2Z"/>
<path d="M288.9 399.5 284 402.7 281.1 405.6 286 402.3Z"/>
<path d="M222.2 450.1 217.7 453.2 214.5 456.3 219.1 453.2Z"/>
<path d="M158.6 498.1 154.5 501 151.2 503.4 155.3 500.5Z"/>
<path d="M276.3 408.9 271.5 412.1 268.5 415.1 273.3 411.8Z"/>
<path d="M210.1 459.5 205.6 462.6 202.5 465.6 206.9 462.5Z"/>
<path d="M147.1 506.2 143 509.1 139.7 511.2 143.7 508.3Z"/>
<path d="M263.7 418.4 259 421.6 256 424.6 260.7 421.4Z"/>
<path d="M198.1 468.7 193.7 471.8 190.6 474.7 194.9 471.6Z"/>
<path d="M135.6 514 131.6 516.8 128.2 518.5 132.2 515.7Z"/>
<path d="M251.3 427.9 246.6 431.1 243.6 434.2 248.3 430.9Z"/>
<path d="M186.2 477.8 181.9 480.8 178.7 483.6 183 480.6Z"/>
<path d="M124.2 521.2 120.3 524 116.8 525.4 120.8 522.7Z"/>
<path d="M306.7 387 301.7 390.2 298.8 392.9 303.8 389.6Z"/>
<path d="M238.9 437.4 234.3 440.6 231.3 443.7 235.9 440.5Z"/>
<path d="M174.5 486.6 170.2 489.6 167 492.2 171.2 489.2Z"/>
<path d="M112.9 528 109 530.7 105.5 531.7 109.4 529.1Z"/>
<path d="M293.8 396.2 288.9 399.5 286 402.3 291 399Z"/>
<path d="M226.7 446.9 222.2 450.1 219.1 453.2 223.6 450Z"/>
<path d="M162.8 495.2 158.6 498.1 155.3 500.5 159.5 497.5Z"/>
<path d="M281.1 405.6 276.3 408.9 273.3 411.8 278.2 408.5Z"/>
<path d="M214.5 456.3 210.1 459.5 206.9 462.5 211.4 459.3Z"/>
<path d="M151.2 503.4 147.1 506.2 143.7 508.3 147.9 505.5Z"/>
<path d="M268.5 415.1 263.7 418.4 260.7 421.4 265.5 418.1Z"/>
<path d="M202.5 465.6 198.1 468.7 194.9 471.6 199.3 468.5Z"/>
<path d="M139.7 511.2 135.6 514 132.2 515.7 136.3 513Z"/>
<path d="M256 424.6 251.3 427.9 248.3 430.9 253 427.7Z"/>
<path d="M190.6 474.7 186.2 477.8 183 480.6 187.4 477.5Z"/>
<path d="M128.2 518.5 124.2 521.2 120.8 522.7 124.8 520Z"/>
<path d="M311.7 383.7 306.7 387 303.8 389.6 308.9 386.3Z"/>
<path d="M243.6 434.2 238.9 437.4 235.9 440.5 240.5 437.2Z"/>
<path d="M178.7 483.6 174.5 486.6 171.2 489.2 175.5 486.2Z"/>
<path d="M116.8 525.4 112.9 528 109.4 529.1 113.3 526.5Z"/>
<path d="M298.8 392.9 293.8 396.2 291 399 295.9 395.7Z"/>
<path d="M231.3 443.7 226.7 446.9 223.6 450 228.2 446.7Z"/>
<path d="M167 492.2 162.8 495.2 159.5 497.5 163.7 494.6Z"/>
<path d="M286 402.3 281.1 405.6 278.2 408.5 283.1 405.2Z"/>
<path d="M219.1 453.2 214.5 456.3 211.4 459.3 215.9 456.1Z"/>
<path d="M155.3 500.5 151.2 503.4 147.9 505.5 152 502.6Z"/>
<path d="M273.3 411.8 268.5 415.1 265.5 418.1 270.4 414.8Z"/>
<path d="M206.9 462.5 202.5 465.6 199.3 468.5 203.8 465.4Z"/>
<path d="M143.7 508.3 139.7 511.2 136.3 513 140.4 510.1Z"/>
<path d="M260.7 421.4 256 424.6 253 427.7 257.7 424.4Z"/>
<path d="M194.9 471.6 190.6 474.7 187.4 477.5 191.7 474.4Z"/>
<path d="M132.2 515.7 128.2 518.5 124.8 520 128.8 517.2Z"/>
<path d="M316.8 380.3 311.7 383.7 308.9 386.3 314 382.9Z"/>
<path d="M248.3 430.9 243.6 434.2 240.5 437.2 245.2 434Z"/>
<path d="M183 480.6 178.7 483.6 175.5 486.2 179.8 483.2Z"/>
<path d="M120.8 522.7 116.8 525.4 113.3 526.5 117.3 523.8Z"/>
<path d="M303.8 389.6 298.8 392.9 295.9 395.7 301 392.3Z"/>
<path d="M235.9 440.5 231.3 443.7 228.2 446.7 232.8 443.5Z"/>
<path d="M171.2 489.2 167 492.2 163.7 494.6 167.9 491.6Z"/>
<path d="M109.4 529.1 105.5 531.7 101.9 532.4 105.8 529.8Z"/>
<path d="M291 399 286 402.3 283.1 405.2 288.1 401.8Z"/>
<path d="M223.6 450 219.1 453.2 215.9 456.1 220.5 452.9Z"/>
<path d="M159.5 497.5 155.3 500.5 152 502.6 156.2 499.7Z"/>
<path d="M278.2 408.5 273.3 411.8 270.4 414.8 275.3 411.4Z"/>
<path d="M211.4 459.3 206.9 462.5 203.8 465.4 208.3 462.2Z"/>
<path d="M147.9 505.5 143.7 508.3 140.4 510.1 144.5 507.3Z"/>
<path d="M265.5 418.1 260.7 421.4 257.7 424.4 262.5 421Z"/>
<path d="M199.3 468.5 194.9 471.6 191.7 474.4 196.2 471.3Z"/>
<path d="M136.3 513 132.2 515.7 128.8 517.2 132.9 514.5Z"/>
<path d="M321.9 377 316.8 380.3 314 382.9 319.1 379.5Z"/>
<path d="M253 427.7 248.3 430.9 245.2 434 249.9 430.7Z"/>
<path d="M187.4 477.5 183 480.6 179.8 483.2 184.1 480.1Z"/>
<path d="M124.8 520 120.8 522.7 117.3 523.8 121.3 521.2Z"/>
<path d="M308.9 386.3 303.8 389.6 301 392.3 306 388.9Z"/>
<path d="M240.5 437.2 235.9 440.5 232.8 443.5 237.5 440.2Z"/>
<path d="M175.5 486.2 171.2 489.2 167.9 491.6 172.2 488.6Z"/>
<path d="M113.3 526.5 109.4 529.1 105.8 529.8 109.8 527.3Z"/>
<path d="M295.9 395.7 291 399 288.1 401.8 293.1 398.4Z"/>
<path d="M228.2 446.7 223.6 450 220.5 452.9 225.1 449.7Z"/>
<path d="M163.7 494.6 159.5 497.5 156.2 499.7 160.4 496.7Z"/>
<path d="M283.1 405.2 278.2 408.5 275.3 411.4 280.2 408Z"/>
<path d="M215.9 456.1 211.4 459.3 208.3 462.2 212.8 459Z"/>
<path d="M152 502.6 147.9 505.5 144.5 507.3 148.6 504.5Z"/>
<path d="M270.4 414.8 265.5 418.1 262.5 421 267.4 417.7Z"/>
<path d="M203.8 465.4 199.3 468.5 196.2 471.3 200.6 468.1Z"/>
<path d="M140.4 510.1 136.3 513 132.9 514.5 137 511.7Z"/>
<path d="M257.7 424.4 253 427.7 249.9 430.7 254.7 427.3Z"/>
<path d="M191.7 474.4 187.4 477.5 184.1 480.1 188.5 477Z"/>
<path d="M128.8 517.2 124.8 520 121.3 521.2 125.3 518.5Z"/>
<path d="M314 382.9 308.9 386.3 306 388.9 311.1 385.5Z"/>
<path d="M245.2 434 240.5 437.2 237.5 440.2 242.2 436.9Z"/>
<path d="M179.8 483.2 175.5 486.2 172.2 488.6 176.5 485.6Z"/>
<path d="M117.3 523.8 113.3 526.5 109.8 527.3 113.8 524.7Z"/>
<path d="M301 392.3 295.9 395.7 293.1 398.4 298.1 395Z"/>
<path d="M232.8 443.5 228.2 446.7 225.1 449.7 229.7 446.4Z"/>
<path d="M167.9 491.6 163.7 494.6 160.4 496.7 164.6 493.8Z"/>
<path d="M105.8 529.8 101.9 532.4 98.3 532.8 102.2 530.3Z"/>
<path d="M288.1 401.8 283.1 405.2 280.2 408 285.1 404.6Z"/>
<path d="M220.5 452.9 215.9 456.1 212.8 459 217.3 455.8Z"/>
<path d="M156.2 499.7 152 502.6 148.6 504.5 152.8 501.6Z"/>
<path d="M275.3 411.4 270.4 414.8 267.4 417.7 272.3 414.3Z"/>
<path d="M208.3 462.2 203.8 465.4 200.6 468.1 205.1 465Z"/>
<path d="M144.5 507.3 140.4 510.1 137 511.7 141.1 508.9Z"/>
<path d="M262.5 421 257.7 424.4 254.7 427.3 259.5 424Z"/>
<path d="M196.2 471.3 191.7 474.4 188.5 477 192.9 473.9Z"/>
<path d="M132.9 514.5 128.8 517.2 125.3 518.5 129.4 515.8Z"/>
<path d="M319.1 379.5 314 382.9 311.1 385.5 316.3 382Z"/>
<path d="M249.9 430.7 245.2 434 242.2 436.9 246.9 433.6Z"/>
<path d="M184.1 480.1 179.8 483.2 176.5 485.6 180.9 482.5Z"/>
<path d="M121.3 521.2 117.3 523.8 113.8 524.7 117.8 522Z"/>
<path d="M306 388.9 301 392.3 298.1 395 303.2 391.6Z"/>
<path d="M237.5 440.2 232.8 443.5 229.7 446.4 234.4 443.1Z"/>
<path d="M172.2 488.6 167.9 491.6 164.6 493.8 168.9 490.8Z"/>
<path d="M109.8 527.3 105.8 529.8 102.2 530.3 106.2 527.8Z"/>
<path d="M293.1 398.4 288.1 401.8 285.1 404.6 290.1 401.2Z"/>
<path d="M225.1 449.7 220.5 452.9 217.3 455.8 221.9 452.6Z"/>
<path d="M160.4 496.7 156.2 499.7 152.8 501.6 157 498.7Z"/>
<path d="M280.2 408 275.3 411.4 272.3 414.3 277.2 410.9Z"/>
<path d="M212.8 459 208.3 462.2 205.1 465 209.6 461.8Z"/>
<path d="M148.6 504.5 144.5 507.3 141.1 508.9 145.2 506.1Z"/>
<path d="M267.4 417.7 262.5 421 259.5 424 264.4 420.6Z"/>
<path d="M200.6 468.1 196.2 471.3 192.9 473.9 197.4 470.8Z"/>
<path d="M137 511.7 132.9 514.5 129.4 515.8 133.5 513Z"/>
<path d="M254.7 427.3 249.9 430.7 246.9 433.6 251.7 430.2Z"/>
<path d="M188.5 477 184.1 480.1 180.9 482.5 185.3 479.5Z"/>
<path d="M125.3 518.5 121.3 521.2 117.8 522 121.8 519.4Z"/>
<path d="M311.1 385.5 306 388.9 303.2 391.6 308.3 388.1Z"/>
<path d="M242.2 436.9 237.5 440.2 234.4 443.1 239.1 439.8Z"/>
<path d="M176.5 485.6 172.2 488.6 168.9 490.8 173.2 487.8Z"/>
<path d="M113.8 524.7 109.8 527.3 106.2 527.8 110.2 525.2Z"/>
<path d="M298.1 395 293.1 398.4 290.1 401.2 295.2 397.7Z"/>
<path d="M229.7 446.4 225.1 449.7 221.9 452.6 226.6 449.3Z"/>
<path d="M164.6 493.8 160.4 496.7 157 498.7 161.3 495.8Z"/>
<path d="M102.2 530.3 98.3 532.8 94.6 532.8 98.6 530.4Z"/>
<path d="M285.1 404.6 280.2 408 277.2 410.9 282.2 407.4Z"/>
<path d="M217.3 455.8 212.8 459 209.6 461.8 214.2 458.6Z"/>
<path d="M152.8 501.6 148.6 504.5 145.2 506.1 149.4 503.3Z"/>
<path d="M272.3 414.3 267.4 417.7 264.4 420.6 269.3 417.1Z"/>
<path d="M205.1 465 200.6 468.1 197.4 470.8 201.9 467.6Z"/>
<path d="M141.1 508.9 137 511.7 133.5 513 137.6 510.3Z"/>
<path d="M259.5 424 254.7 427.3 251.7 430.2 256.5 426.8Z"/>
<path d="M192.9 473.9 188.5 477 185.3 479.5 189.7 476.4Z"/>
<path d="M129.4 515.8 125.3 518.5 121.8 519.4 125.9 516.7Z"/>
<path d="M316.3 382 311.1 385.5 308.3 388.1 313.5 384.6Z"/>
<path d="M246.9 433.6 242.2 436.9 239.1 439.8 243.8 436.5Z"/>
<path d="M180.9 482.5 176.5 485.6 173.2 487.8 177.6 484.8Z"/>
<path d="M117.8 522 113.8 524.7 110.2 525.2 114.2 522.6Z"/>
<path d="M303.2 391.6 298.1 395 295.2 397.7 300.3 394.2Z"/>
<path d="M234.4 443.1 229.7 446.4 226.6 449.3 231.2 446Z"/>
<path d="M168.9 490.8 164.6 493.8 161.3 495.8 165.6 492.8Z"/>
<path d="M106.2 527.8 102.2 530.3 98.6 530.4 102.5 527.9Z"/>
<path d="M290.1 401.2 285.1 404.6 282.2 407.4 287.2 404Z"/>
<path d="M221.9 452.6 217.3 455.8 214.2 458.6 218.8 455.3Z"/>
<path d="M157 498.7 152.8 501.6 149.4 503.3 153.7 500.4Z"/>
<path d="M277.2 410.9 272.3 414.3 269.3 417.1 274.2 413.7Z"/>
<path d="M209.6 461.8 205.1 465 201.9 467.6 206.4 464.4Z"/>
<path d="M145.2 506.1 141.1 508.9 137.6 510.3 141.8 507.5Z"/>
<path d="M264.4 420.6 259.5 424 256.5 426.8 261.4 423.4Z"/>
<path d="M197.4 470.8 192.9 473.9 189.7 476.4 194.2 473.2Z"/>
<path d="M133.5 513 129.4 515.8 125.9 516.7 130 514.1Z"/>
<path d="M251.7 430.2 246.9 433.6 243.8 436.5 248.6 433.1Z"/>
<path d="M185.3 479.5 180.9 482.5 177.6 484.8 182 481.7Z"/>
<path d="M121.8 519.4 117.8 522 114.2 522.6 118.2 520.1Z"/>
<path d="M308.3 388.1 303.2 391.6 300.3 394.2 305.4 390.7Z"/>
<path d="M239.1 439.8 234.4 443.1 231.2 446 236 442.6Z"/>
<path d="M173.2 487.8 168.9 490.8 165.6 492.8 169.9 489.8Z"/>
<path d="M110.2 525.2 106.2 527.8 102.5 527.9 106.5 525.5Z"/>
<path d="M295.2 397.7 290.1 401.2 287.2 404 292.2 400.5Z"/>
<path d="M226.6 449.3 221.9 452.6 218.8 455.3 223.4 452Z"/>
<path d="M161.3 495.8 157 498.7 153.7 500.4 157.9 497.5Z"/>
<path d="M98.6 530.4 94.6 532.8 90.9 532.6 94.8 530.2Z"/>
<path d="M282.2 407.4 277.2 410.9 274.2 413.7 279.2 410.2Z"/>
<path d="M214.2 458.6 209.6 461.8 206.4 464.4 211 461.2Z"/>
<path d="M149.4 503.3 145.2 506.1 141.8 507.5 146 504.7Z"/>
<path d="M269.3 417.1 264.4 420.6 261.4 423.4 266.3 420Z"/>
<path d="M201.9 467.6 197.4 470.8 194.2 473.2 198.7 470.1Z"/>
<path d="M137.6 510.3 133.5 513 130 514.1 134.1 511.4Z"/>
<path d="M256.5 426.8 251.7 430.2 248.6 433.1 253.4 429.7Z"/>
<path d="M189.7 476.4 185.3 479.5 182 481.7 186.4 478.6Z"/>
<path d="M125.9 516.7 121.8 519.4 118.2 520.1 122.3 517.5Z"/>
<path d="M313.5 384.6 308.3 388.1 305.4 390.7 310.6 387.2Z"/>
<path d="M243.8 436.5 239.1 439.8 236 442.6 240.7 439.3Z"/>
<path d="M177.6 484.8 173.2 487.8 169.9 489.8 174.3 486.8Z"/>
<path d="M114.2 522.6 110.2 525.2 106.5 525.5 110.6 523Z"/>
<path d="M300.3 394.2 295.2 397.7 292.2 400.5 297.3 396.9Z"/>
<path d="M231.2 446 226.6 449.3 223.4 452 228.1 448.7Z"/>
<path d="M165.6 492.8 161.3 495.8 157.9 497.5 162.2 494.6Z"/>
<path d="M102.5 527.9 98.6 530.4 94.8 530.2 98.8 527.8Z"/>
<path d="M287.2 404 282.2 407.4 279.2 410.2 284.2 406.7Z"/>
<path d="M218.8 455.3 214.2 458.6 211 461.2 215.6 457.9Z"/>
<path d="M153.7 500.4 149.4 503.3 146 504.7 150.2 501.9Z"/>
<path d="M274.2 413.7 269.3 417.1 266.3 420 271.2 416.5Z"/>
<path d="M206.4 464.4 201.9 467.6 198.7 470.1 203.2 466.9Z"/>
<path d="M141.8 507.5 137.6 510.3 134.1 511.4 138.3 508.6Z"/>
<path d="M261.4 423.4 256.5 426.8 253.4 429.7 258.3 426.2Z"/>
<path d="M194.2 473.2 189.7 476.4 186.4 478.6 190.9 475.5Z"/>
<path d="M130 514.1 125.9 516.7 122.3 517.5 126.5 514.8Z"/>
<path d="M248.6 433.1 243.8 436.5 240.7 439.3 245.5 435.9Z"/>
<path d="M182 481.7 177.6 484.8 174.3 486.8 178.7 483.8Z"/>
<path d="M118.2 520.1 114.2 522.6 110.6 523 114.6 520.4Z"/>
<path d="M305.4 390.7 300.3 394.2 297.3 396.9 302.5 393.3Z"/>
<path d="M236 442.6 231.2 446 228.1 448.7 232.8 445.4Z"/>
<path d="M169.9 489.8 165.6 492.8 162.2 494.6 166.6 491.6Z"/>
<path d="M106.5 525.5 102.5 527.9 98.8 527.8 102.8 525.4Z"/>
<path d="M292.2 400.5 287.2 404 284.2 406.7 289.3 403.2Z"/>
<path d="M223.4 452 218.8 455.3 215.6 457.9 220.2 454.7Z"/>
<path d="M157.9 497.5 153.7 500.4 150.2 501.9 154.5 499Z"/>
<path d="M94.8 530.2 90.9 532.6 87.1 532.1 91.1 529.8Z"/>
<path d="M279.2 410.2 274.2 413.7 271.2 416.5 276.2 413Z"/>
<path d="M211 461.2 206.4 464.4 203.2 466.9 207.8 463.7Z"/>
<path d="M146 504.7 141.8 507.5 138.3 508.6 142.5 505.9Z"/>
<path d="M266.3 420 261.4 423.4 258.3 426.2 263.2 422.8Z"/>
<path d="M198.7 470.1 194.2 473.2 190.9 475.5 195.4 472.4Z"/>
<path d="M134.1 511.4 130 514.1 126.5 514.8 130.6 512.2Z"/>
<path d="M253.4 429.7 248.6 433.1 245.5 435.9 250.3 432.5Z"/>
<path d="M186.4 478.6 182 481.7 178.7 483.8 183.1 480.7Z"/>
<path d="M122.3 517.5 118.2 520.1 114.6 520.4 118.7 517.9Z"/>
<path d="M310.6 387.2 305.4 390.7 302.5 393.3 307.7 389.8Z"/>
<path d="M240.7 439.3 236 442.6 232.8 445.4 237.6 442Z"/>
<path d="M174.3 486.8 169.9 489.8 166.6 491.6 170.9 488.7Z"/>
<path d="M110.6 523 106.5 525.5 102.8 525.4 106.9 523Z"/>
<path d="M297.3 396.9 292.2 400.5 289.3 403.2 294.4 399.6Z"/>
<path d="M228.1 448.7 223.4 452 220.2 454.7 224.9 451.4Z"/>
<path d="M162.2 494.6 157.9 497.5 154.5 499 158.8 496.1Z"/>
<path d="M98.8 527.8 94.8 530.2 91.1 529.8 95.1 527.5Z"/>
<path d="M284.2 406.7 279.2 410.2 276.2 413 281.2 409.5Z"/>
<path d="M215.6 457.9 211 461.2 207.8 463.7 212.4 460.5Z"/>
<path d="M150.2 501.9 146 504.7 142.5 505.9 146.8 503.1Z"/>
<path d="M271.2 416.5 266.3 420 263.2 422.8 268.2 419.3Z"/>
<path d="M203.2 466.9 198.7 470.1 195.4 472.4 199.9 469.2Z"/>
<path d="M138.3 508.6 134.1 511.4 130.6 512.2 134.8 509.5Z"/>
<path d="M258.3 426.2 253.4 429.7 250.3 432.5 255.2 429Z"/>
<path d="M190.9 475.5 186.4 478.6 183.1 480.7 187.6 477.7Z"/>
<path d="M126.5 514.8 122.3 517.5 118.7 517.9 122.9 515.3Z"/>
<path d="M245.5 435.9 240.7 439.3 237.6 442 242.4 438.6Z"/>
<path d="M178.7 483.8 174.3 486.8 170.9 488.7 175.3 485.7Z"/>
<path d="M114.6 520.4 110.6 523 106.9 523 111 520.6Z"/>
<path d="M302.5 393.3 297.3 396.9 294.4 399.6 299.6 396Z"/>
<path d="M232.8 445.4 228.1 448.7 224.9 451.4 229.6 448Z"/>
<path d="M166.6 491.6 162.2 494.6 158.8 496.1 163.2 493.3Z"/>
<path d="M102.8 525.4 98.8 527.8 95.1 527.5 99.1 525.1Z"/>
<path d="M289.3 403.2 284.2 406.7 281.2 409.5 286.3 405.9Z"/>
<path d="M220.2 454.7 215.6 457.9 212.4 460.5 217 457.2Z"/>
<path d="M154.5 499 150.2 501.9 146.8 503.1 151.1 500.3Z"/>
<path d="M91.1 529.8 87.1 532.1 83.2 531.2 87.2 529Z"/>
<path d="M276.2 413 271.2 416.5 268.2 419.3 273.2 415.8Z"/>
<path d="M207.8 463.7 203.2 466.9 199.9 469.2 204.5 466.1Z"/>
<path d="M142.5 505.9 138.3 508.6 134.8 509.5 139 506.8Z"/>
<path d="M263.2 422.8 258.3 426.2 255.2 429 260.1 425.5Z"/>
<path d="M195.4 472.4 190.9 475.5 187.6 477.7 192.1 474.6Z"/>
<path d="M130.6 512.2 126.5 514.8 122.9 515.3 127 512.8Z"/>
<path d="M250.3 432.5 245.5 435.9 242.4 438.6 247.2 435.2Z"/>
<path d="M183.1 480.7 178.7 483.8 175.3 485.7 179.8 482.7Z"/>
<path d="M118.7 517.9 114.6 520.4 111 520.6 115.1 518.1Z"/>
<path d="M307.7 389.8 302.5 393.3 299.6 396 304.8 392.4Z"/>
<path d="M237.6 442 232.8 445.4 229.6 448 234.4 444.7Z"/>
<path d="M170.9 488.7 166.6 491.6 163.2 493.3 167.5 490.3Z"/>
<path d="M106.9 523 102.8 525.4 99.1 525.1 103.2 522.8Z"/>
<path d="M294.4 399.6 289.3 403.2 286.3 405.9 291.4 402.3Z"/>
<path d="M224.9 451.4 220.2 454.7 217 457.2 221.7 453.9Z"/>
<path d="M158.8 496.1 154.5 499 151.1 500.3 155.4 497.5Z"/>
<path d="M95.1 527.5 91.1 529.8 87.2 529 91.2 526.8Z"/>
<path d="M281.2 409.5 276.2 413 273.2 415.8 278.2 412.2Z"/>
<path d="M212.4 460.5 207.8 463.7 204.5 466.1 209.1 462.8Z"/>
<path d="M146.8 503.1 142.5 505.9 139 506.8 143.3 504.1Z"/>
<path d="M268.2 419.3 263.2 422.8 260.1 425.5 265.1 422Z"/>
<path d="M199.9 469.2 195.4 472.4 192.1 474.6 196.7 471.4Z"/>
<path d="M134.8 509.5 130.6 512.2 127 512.8 131.2 510.2Z"/>
<path d="M255.2 429 250.3 432.5 247.2 435.2 252.1 431.7Z"/>
<path d="M187.6 477.7 183.1 480.7 179.8 482.7 184.3 479.6Z"/>
<path d="M122.9 515.3 118.7 517.9 115.1 518.1 119.2 515.6Z"/>
<path d="M242.4 438.6 237.6 442 234.4 444.7 239.2 441.3Z"/>
<path d="M175.3 485.7 170.9 488.7 167.5 490.3 172 487.4Z"/>
<path d="M111 520.6 106.9 523 103.2 522.8 107.2 520.4Z"/>
<path d="M299.6 396 294.4 399.6 291.4 402.3 296.6 398.7Z"/>
<path d="M229.6 448 224.9 451.4 221.7 453.9 226.5 450.6Z"/>
<path d="M163.2 493.3 158.8 496.1 155.4 497.5 159.7 494.7Z"/>
<path d="M99.1 525.1 95.1 527.5 91.2 526.8 95.3 524.5Z"/>
<path d="M286.3 405.9 281.2 409.5 278.2 412.2 283.3 408.6Z"/>
<path d="M217 457.2 212.4 460.5 209.1 462.8 213.8 459.6Z"/>
<path d="M151.1 500.3 146.8 503.1 143.3 504.1 147.6 501.4Z"/>
<path d="M87.2 529 83.2 531.2 79.3 530.1 83.3 528Z"/>
<path d="M273.2 415.8 268.2 419.3 265.1 422 270.1 418.5Z"/>
<path d="M204.5 466.1 199.9 469.2 196.7 471.4 201.2 468.3Z"/>
<path d="M139 506.8 134.8 509.5 131.2 510.2 135.5 507.5Z"/>
<path d="M260.1 425.5 255.2 429 252.1 431.7 257 428.3Z"/>
<path d="M192.1 474.6 187.6 477.7 184.3 479.6 188.8 476.6Z"/>
<path d="M127 512.8 122.9 515.3 119.2 515.6 123.4 513.1Z"/>
<path d="M247.2 435.2 242.4 438.6 239.2 441.3 244.1 437.9Z"/>
<path d="M179.8 482.7 175.3 485.7 172 487.4 176.4 484.4Z"/>
<path d="M115.1 518.1 111 520.6 107.2 520.4 111.4 518Z"/>
<path d="M304.8 392.4 299.6 396 296.6 398.7 301.8 395Z"/>
<path d="M234.4 444.7 229.6 448 226.5 450.6 231.2 447.2Z"/>
<path d="M167.5 490.3 163.2 493.3 159.7 494.7 164.1 491.8Z"/>
<path d="M103.2 522.8 99.1 525.1 95.3 524.5 99.4 522.3Z"/>
<path d="M291.4 402.3 286.3 405.9 283.3 408.6 288.4 405Z"/>
<path d="M221.7 453.9 217 457.2 213.8 459.6 218.5 456.3Z"/>
<path d="M155.4 497.5 151.1 500.3 147.6 501.4 151.9 498.6Z"/>
<path d="M91.2 526.8 87.2 529 83.3 528 87.4 525.9Z"/>
<path d="M278.2 412.2 273.2 415.8 270.1 418.5 275.2 414.9Z"/>
<path d="M209.1 462.8 204.5 466.1 201.2 468.3 205.9 465.1Z"/>
<path d="M143.3 504.1 139 506.8 135.5 507.5 139.7 504.9Z"/>
<path d="M265.1 422 260.1 425.5 257 428.3 262 424.7Z"/>
<path d="M196.7 471.4 192.1 474.6 188.8 476.6 193.3 473.5Z"/>
<path d="M131.2 510.2 127 512.8 123.4 513.1 127.6 510.6Z"/>
<path d="M252.1 431.7 247.2 435.2 244.1 437.9 249 434.4Z"/>
<path d="M184.3 479.6 179.8 482.7 176.4 484.4 180.9 481.4Z"/>
<path d="M119.2 515.6 115.1 518.1 111.4 518 115.5 515.6Z"/>
<path d="M239.2 441.3 234.4 444.7 231.2 447.2 236.1 443.9Z"/>
<path d="M172 487.4 167.5 490.3 164.1 491.8 168.5 488.9Z"/>
<path d="M107.2 520.4 103.2 522.8 99.4 522.3 103.5 520Z"/>
<path d="M296.6 398.7 291.4 402.3 288.4 405 293.6 401.3Z"/>
<path d="M226.5 450.6 221.7 453.9 218.5 456.3 223.2 453Z"/>
<path d="M159.7 494.7 155.4 497.5 151.9 498.6 156.2 495.9Z"/>
<path d="M95.3 524.5 91.2 526.8 87.4 525.9 91.4 523.7Z"/>
<path d="M283.3 408.6 278.2 412.2 275.2 414.9 280.3 411.3Z"/>
<path d="M213.8 459.6 209.1 462.8 205.9 465.1 210.5 461.9Z"/>
<path d="M147.6 501.4 143.3 504.1 139.7 504.9 144 502.2Z"/>
<path d="M83.3 528 79.3 530.1 75.3 528.8 79.4 526.8Z"/>
<path d="M270.1 418.5 265.1 422 262 424.7 267 421.2Z"/>
<path d="M201.2 468.3 196.7 471.4 193.3 473.5 197.9 470.4Z"/>
<path d="M135.5 507.5 131.2 510.2 127.6 510.6 131.9 508Z"/>
<path d="M257 428.3 252.1 431.7 249 434.4 253.9 430.9Z"/>
<path d="M188.8 476.6 184.3 479.6 180.9 481.4 185.4 478.4Z"/>
<path d="M123.4 513.1 119.2 515.6 115.5 515.6 119.7 513.2Z"/>
<path d="M244.1 437.9 239.2 441.3 236.1 443.9 240.9 440.4Z"/>
<path d="M176.4 484.4 172 487.4 168.5 488.9 173 486Z"/>
<path d="M111.4 518 107.2 520.4 103.5 520 107.6 517.7Z"/>
<path d="M301.8 395 296.6 398.7 293.6 401.3 298.8 397.6Z"/>
<path d="M231.2 447.2 226.5 450.6 223.2 453 228 449.7Z"/>
<path d="M164.1 491.8 159.7 494.7 156.2 495.9 160.6 493Z"/>
<path d="M99.4 522.3 95.3 524.5 91.4 523.7 95.5 521.5Z"/>
<path d="M288.4 405 283.3 408.6 280.3 411.3 285.4 407.7Z"/>
<path d="M218.5 456.3 213.8 459.6 210.5 461.9 215.2 458.6Z"/>
<path d="M151.9 498.6 147.6 501.4 144 502.2 148.4 499.5Z"/>
<path d="M87.4 525.9 83.3 528 79.4 526.8 83.4 524.7Z"/>
<path d="M275.2 414.9 270.1 418.5 267 421.2 272.1 417.6Z"/>
<path d="M205.9 465.1 201.2 468.3 197.9 470.4 202.6 467.2Z"/>
<path d="M139.7 504.9 135.5 507.5 131.9 508 136.1 505.5Z"/>
<path d="M262 424.7 257 428.3 253.9 430.9 258.9 427.4Z"/>
<path d="M193.3 473.5 188.8 476.6 185.4 478.4 190 475.4Z"/>
<path d="M127.6 510.6 123.4 513.1 119.7 513.2 123.9 510.7Z"/>
<path d="M249 434.4 244.1 437.9 240.9 440.4 245.8 437Z"/>
<path d="M180.9 481.4 176.4 484.4 173 486 177.5 483.1Z"/>
<path d="M115.5 515.6 111.4 518 107.6 517.7 111.8 515.4Z"/>
<path d="M236.1 443.9 231.2 447.2 228 449.7 232.9 446.4Z"/>
<path d="M168.5 488.9 164.1 491.8 160.6 493 165.1 490.2Z"/>
<path d="M103.5 520 99.4 522.3 95.5 521.5 99.6 519.4Z"/>
<path d="M293.6 401.3 288.4 405 285.4 407.7 290.6 404Z"/>
<path d="M223.2 453 218.5 456.3 215.2 458.6 220 455.4Z"/>
<path d="M156.2 495.9 151.9 498.6 148.4 499.5 152.7 496.8Z"/>
<path d="M91.4 523.7 87.4 525.9 83.4 524.7 87.5 522.7Z"/>
<path d="M280.3 411.3 275.2 414.9 272.1 417.6 277.2 414Z"/>
<path d="M210.5 461.9 205.9 465.1 202.6 467.2 207.2 464Z"/>
<path d="M144 502.2 139.7 504.9 136.1 505.5 140.4 502.9Z"/>
<path d="M79.4 526.8 75.3 528.8 71.3 527.2 75.3 525.3Z"/>
<path d="M267 421.2 262 424.7 258.9 427.4 263.9 423.9Z"/>
<path d="M197.9 470.4 193.3 473.5 190 475.4 194.6 472.3Z"/>
<path d="M131.9 508 127.6 510.6 123.9 510.7 128.2 508.3Z"/>
<path d="M253.9 430.9 249 434.4 245.8 437 250.8 433.5Z"/>
<path d="M185.4 478.4 180.9 481.4 177.5 483.1 182 480.1Z"/>
<path d="M119.7 513.2 115.5 515.6 111.8 515.4 116 513.1Z"/>
<path d="M240.9 440.4 236.1 443.9 232.9 446.4 237.7 443Z"/>
<path d="M173 486 168.5 488.9 165.1 490.2 169.6 487.4Z"/>
<path d="M107.6 517.7 103.5 520 99.6 519.4 103.8 517.2Z"/>
<path d="M298.8 397.6 293.6 401.3 290.6 404 295.8 400.3Z"/>
<path d="M228 449.7 223.2 453 220 455.4 224.8 452.1Z"/>
<path d="M160.6 493 156.2 495.9 152.7 496.8 157.1 494.1Z"/>
<path d="M95.5 521.5 91.4 523.7 87.5 522.7 91.6 520.6Z"/>
<path d="M285.4 407.7 280.3 411.3 277.2 414 282.4 410.4Z"/>
<path d="M215.2 458.6 210.5 461.9 207.2 464 212 460.9Z"/>
<path d="M148.4 499.5 144 502.2 140.4 502.9 144.8 500.3Z"/>
<path d="M83.4 524.7 79.4 526.8 75.3 525.3 79.4 523.3Z"/>
<path d="M272.1 417.6 267 421.2 263.9 423.9 269 420.3Z"/>
<path d="M202.6 467.2 197.9 470.4 194.6 472.3 199.2 469.2Z"/>
<path d="M136.1 505.5 131.9 508 128.2 508.3 132.5 505.8Z"/>
<path d="M258.9 427.4 253.9 430.9 250.8 433.5 255.8 430Z"/>
<path d="M190 475.4 185.4 478.4 182 480.1 186.6 477.1Z"/>
<path d="M123.9 510.7 119.7 513.2 116 513.1 120.2 510.7Z"/>
<path d="M245.8 437 240.9 440.4 237.7 443 242.6 439.5Z"/>
<path d="M177.5 483.1 173 486 169.6 487.4 174.1 484.5Z"/>
<path d="M111.8 515.4 107.6 517.7 103.8 517.2 108 514.9Z"/>
<path d="M232.9 446.4 228 449.7 224.8 452.1 229.6 448.8Z"/>
<path d="M165.1 490.2 160.6 493 157.1 494.1 161.6 491.4Z"/>
<path d="M99.6 519.4 95.5 521.5 91.6 520.6 95.7 518.5Z"/>
<path d="M290.6 404 285.4 407.7 282.4 410.4 287.6 406.7Z"/>
<path d="M220 455.4 215.2 458.6 212 460.9 216.7 457.6Z"/>
<path d="M152.7 496.8 148.4 499.5 144.8 500.3 149.2 497.6Z"/>
<path d="M87.5 522.7 83.4 524.7 79.4 523.3 83.5 521.4Z"/>
<path d="M277.2 414 272.1 417.6 269 420.3 274.1 416.7Z"/>
<path d="M207.2 464 202.6 467.2 199.2 469.2 203.9 466.1Z"/>
<path d="M140.4 502.9 136.1 505.5 132.5 505.8 136.8 503.3Z"/>
<path d="M75.3 525.3 71.3 527.2 67.2 525.4 71.2 523.6Z"/>
<path d="M263.9 423.9 258.9 427.4 255.8 430 260.8 426.5Z"/>
<path d="M194.6 472.3 190 475.4 186.6 477.1 191.2 474.1Z"/>
<path d="M128.2 508.3 123.9 510.7 120.2 510.7 124.5 508.3Z"/>
<path d="M250.8 433.5 245.8 437 242.6 439.5 247.6 436.1Z"/>
<path d="M182 480.1 177.5 483.1 174.1 484.5 178.6 481.6Z"/>
<path d="M116 513.1 111.8 515.4 108 514.9 112.2 512.7Z"/>
<path d="M237.7 443 232.9 446.4 229.6 448.8 234.5 445.4Z"/>
<path d="M169.6 487.4 165.1 490.2 161.6 491.4 166.1 488.6Z"/>
<path d="M103.8 517.2 99.6 519.4 95.7 518.5 99.9 516.4Z"/>
<path d="M295.8 400.3 290.6 404 287.6 406.7 292.8 403Z"/>
<path d="M224.8 452.1 220 455.4 216.7 457.6 221.5 454.4Z"/>
<path d="M157.1 494.1 152.7 496.8 149.2 497.6 153.6 495Z"/>
<path d="M91.6 520.6 87.5 522.7 83.5 521.4 87.6 519.4Z"/>
<path d="M282.4 410.4 277.2 414 274.1 416.7 279.3 413Z"/>
<path d="M212 460.9 207.2 464 203.9 466.1 208.7 462.9Z"/>
<path d="M144.8 500.3 140.4 502.9 136.8 503.3 141.2 500.8Z"/>
<path d="M79.4 523.3 75.3 525.3 71.2 523.6 75.3 521.8Z"/>
<path d="M269 420.3 263.9 423.9 260.8 426.5 265.9 422.9Z"/>
<path d="M199.2 469.2 194.6 472.3 191.2 474.1 195.9 471.1Z"/>
<path d="M132.5 505.8 128.2 508.3 124.5 508.3 128.8 505.9Z"/>
<path d="M255.8 430 250.8 433.5 247.6 436.1 252.6 432.6Z"/>
<path d="M186.6 477.1 182 480.1 178.6 481.6 183.2 478.7Z"/>
<path d="M120.2 510.7 116 513.1 112.2 512.7 116.5 510.4Z"/>
<path d="M242.6 439.5 237.7 443 234.5 445.4 239.4 442Z"/>
<path d="M174.1 484.5 169.6 487.4 166.1 488.6 170.6 485.8Z"/>
<path d="M108 514.9 103.8 517.2 99.9 516.4 104.1 514.3Z"/>
<path d="M229.6 448.8 224.8 452.1 221.5 454.4 226.4 451.1Z"/>
<path d="M161.6 491.4 157.1 494.1 153.6 495 158.1 492.3Z"/>
<path d="M95.7 518.5 91.6 520.6 87.6 519.4 91.8 517.4Z"/>
<path d="M287.6 406.7 282.4 410.4 279.3 413 284.5 409.4Z"/>
<path d="M216.7 457.6 212 460.9 208.7 462.9 213.4 459.8Z"/>
<path d="M149.2 497.6 144.8 500.3 141.2 500.8 145.6 498.2Z"/>
<path d="M83.5 521.4 79.4 523.3 75.3 521.8 79.4 519.9Z"/>
<path d="M274.1 416.7 269 420.3 265.9 422.9 271 419.4Z"/>
<path d="M203.9 466.1 199.2 469.2 195.9 471.1 200.6 468Z"/>
<path d="M136.8 503.3 132.5 505.8 128.8 505.9 133.1 503.5Z"/>
<path d="M71.2 523.6 67.2 525.4 63 523.5 67.1 521.8Z"/>
<path d="M260.8 426.5 255.8 430 252.6 432.6 257.6 429.1Z"/>
<path d="M191.2 474.1 186.6 477.1 183.2 478.7 187.8 475.7Z"/>
<path d="M124.5 508.3 120.2 510.7 116.5 510.4 120.7 508.2Z"/>
<path d="M247.6 436.1 242.6 439.5 239.4 442 244.4 438.6Z"/>
<path d="M178.6 481.6 174.1 484.5 170.6 485.8 175.1 483Z"/>
<path d="M112.2 512.7 108 514.9 104.1 514.3 108.4 512.1Z"/>
<path d="M234.5 445.4 229.6 448.8 226.4 451.1 231.3 447.8Z"/>
<path d="M166.1 488.6 161.6 491.4 158.1 492.3 162.5 489.6Z"/>
<path d="M99.9 516.4 95.7 518.5 91.8 517.4 96 515.5Z"/>
<path d="M292.8 403 287.6 406.7 284.5 409.4 289.8 405.7Z"/>
<path d="M221.5 454.4 216.7 457.6 213.4 459.8 218.2 456.6Z"/>
<path d="M153.6 495 149.2 497.6 145.6 498.2 150 495.7Z"/>
<path d="M87.6 519.4 83.5 521.4 79.4 519.9 83.6 518.1Z"/>
<path d="M279.3 413 274.1 416.7 271 419.4 276.2 415.7Z"/>
<path d="M208.7 462.9 203.9 466.1 200.6 468 205.3 464.9Z"/>
<path d="M141.2 500.8 136.8 503.3 133.1 503.5 137.5 501.1Z"/>
<path d="M75.3 521.8 71.2 523.6 67.1 521.8 71.2 520.1Z"/>
<path d="M265.9 422.9 260.8 426.5 257.6 429.1 262.7 425.6Z"/>
<path d="M195.9 471.1 191.2 474.1 187.8 475.7 192.5 472.8Z"/>
<path d="M128.8 505.9 124.5 508.3 120.7 508.2 125.1 505.9Z"/>
<path d="M252.6 432.6 247.6 436.1 244.4 438.6 249.4 435.2Z"/>
<path d="M183.2 478.7 178.6 481.6 175.1 483 179.7 480.1Z"/>
<path d="M116.5 510.4 112.2 512.7 108.4 512.1 112.6 510Z"/>
<path d="M239.4 442 234.5 445.4 231.3 447.8 236.2 444.4Z"/>
<path d="M170.6 485.8 166.1 488.6 162.5 489.6 167.1 486.9Z"/>
<path d="M104.1 514.3 99.9 516.4 96 515.5 100.2 513.4Z"/>
<path d="M226.4 451.1 221.5 454.4 218.2 456.6 223.1 453.3Z"/>
<path d="M158.1 492.3 153.6 495 150 495.7 154.5 493.1Z"/>
<path d="M91.8 517.4 87.6 519.4 83.6 518.1 87.8 516.2Z"/>
<path d="M284.5 409.4 279.3 413 276.2 415.7 281.4 412.1Z"/>
<path d="M213.4 459.8 208.7 462.9 205.3 464.9 210.1 461.8Z"/>
<path d="M145.6 498.2 141.2 500.8 137.5 501.1 141.9 498.6Z"/>
<path d="M79.4 519.9 75.3 521.8 71.2 520.1 75.3 518.3Z"/>
<path d="M271 419.4 265.9 422.9 262.7 425.6 267.9 422Z"/>
<path d="M200.6 468 195.9 471.1 192.5 472.8 197.2 469.8Z"/>
<path d="M133.1 503.5 128.8 505.9 125.1 505.9 129.4 503.6Z"/>
<path d="M67.1 521.8 63 523.5 58.7 521.4 62.8 519.8Z"/>
<path d="M257.6 429.1 252.6 432.6 249.4 435.2 254.4 431.7Z"/>
<path d="M187.8 475.7 183.2 478.7 179.7 480.1 184.4 477.2Z"/>
<path d="M120.7 508.2 116.5 510.4 112.6 510 116.9 507.8Z"/>
<path d="M244.4 438.6 239.4 442 236.2 444.4 241.2 441.1Z"/>
<path d="M175.1 483 170.6 485.8 167.1 486.9 171.6 484.2Z"/>
<path d="M108.4 512.1 104.1 514.3 100.2 513.4 104.5 511.4Z"/>
<path d="M231.3 447.8 226.4 451.1 223.1 453.3 228 450.1Z"/>
<path d="M162.5 489.6 158.1 492.3 154.5 493.1 159 490.5Z"/>
<path d="M96 515.5 91.8 517.4 87.8 516.2 92 514.3Z"/>
<path d="M289.8 405.7 284.5 409.4 281.4 412.1 286.7 408.4Z"/>
<path d="M218.2 456.6 213.4 459.8 210.1 461.8 214.9 458.6Z"/>
<path d="M150 495.7 145.6 498.2 141.9 498.6 146.4 496.2Z"/>
<path d="M83.6 518.1 79.4 519.9 75.3 518.3 79.5 516.6Z"/>
<path d="M276.2 415.7 271 419.4 267.9 422 273 418.4Z"/>
<path d="M205.3 464.9 200.6 468 197.2 469.8 201.9 466.7Z"/>
<path d="M137.5 501.1 133.1 503.5 129.4 503.6 133.8 501.2Z"/>
<path d="M71.2 520.1 67.1 521.8 62.8 519.8 67 518.2Z"/>
<path d="M262.7 425.6 257.6 429.1 254.4 431.7 259.5 428.2Z"/>
<path d="M192.5 472.8 187.8 475.7 184.4 477.2 189 474.3Z"/>
<path d="M125.1 505.9 120.7 508.2 116.9 507.8 121.3 505.6Z"/>
<path d="M249.4 435.2 244.4 438.6 241.2 441.1 246.2 437.7Z"/>
<path d="M179.7 480.1 175.1 483 171.6 484.2 176.3 481.4Z"/>
<path d="M112.6 510 108.4 512.1 104.5 511.4 108.7 509.4Z"/>
<path d="M236.2 444.4 231.3 447.8 228 450.1 232.9 446.8Z"/>
<path d="M167.1 486.9 162.5 489.6 159 490.5 163.5 487.8Z"/>
<path d="M100.2 513.4 96 515.5 92 514.3 96.2 512.4Z"/>
<path d="M223.1 453.3 218.2 456.6 214.9 458.6 219.8 455.5Z"/>
<path d="M154.5 493.1 150 495.7 146.4 496.2 150.9 493.7Z"/>
<path d="M87.8 516.2 83.6 518.1 79.5 516.6 83.7 514.8Z"/>
<path d="M281.4 412.1 276.2 415.7 273 418.4 278.3 414.8Z"/>
<path d="M210.1 461.8 205.3 464.9 201.9 466.7 206.7 463.7Z"/>
<path d="M141.9 498.6 137.5 501.1 133.8 501.2 138.2 498.9Z"/>
<path d="M75.3 518.3 71.2 520.1 67 518.2 71.1 516.6Z"/>
<path d="M267.9 422 262.7 425.6 259.5 428.2 264.7 424.6Z"/>
<path d="M197.2 469.8 192.5 472.8 189 474.3 193.8 471.4Z"/>
<path d="M129.4 503.6 125.1 505.9 121.3 505.6 125.6 503.4Z"/>
<path d="M62.8 519.8 58.7 521.4 54.4 519.2 58.6 517.7Z"/>
<path d="M254.4 431.7 249.4 435.2 246.2 437.7 251.2 434.2Z"/>
<path d="M184.4 477.2 179.7 480.1 176.3 481.4 180.9 478.6Z"/>
<path d="M116.9 507.8 112.6 510 108.7 509.4 113.1 507.3Z"/>
<path d="M241.2 441.1 236.2 444.4 232.9 446.8 237.9 443.4Z"/>
<path d="M171.6 484.2 167.1 486.9 163.5 487.8 168.1 485.2Z"/>
<path d="M104.5 511.4 100.2 513.4 96.2 512.4 100.5 510.5Z"/>
<path d="M228 450.1 223.1 453.3 219.8 455.5 224.7 452.3Z"/>
<path d="M159 490.5 154.5 493.1 150.9 493.7 155.4 491.2Z"/>
<path d="M92 514.3 87.8 516.2 83.7 514.8 87.9 513.1Z"/>
<path d="M286.7 408.4 281.4 412.1 278.3 414.8 283.6 411.1Z"/>
<path d="M214.9 458.6 210.1 461.8 206.7 463.7 211.5 460.6Z"/>
<path d="M146.4 496.2 141.9 498.6 138.2 498.9 142.7 496.5Z"/>
<path d="M79.5 516.6 75.3 518.3 71.1 516.6 75.3 515Z"/>
<path d="M273 418.4 267.9 422 264.7 424.6 269.9 421.1Z"/>
<path d="M201.9 466.7 197.2 469.8 193.8 471.4 198.5 468.5Z"/>
<path d="M133.8 501.2 129.4 503.6 125.6 503.4 130 501.2Z"/>
<path d="M67 518.2 62.8 519.8 58.6 517.7 62.7 516.3Z"/>
<path d="M259.5 428.2 254.4 431.7 251.2 434.2 256.3 430.8Z"/>
<path d="M189 474.3 184.4 477.2 180.9 478.6 185.6 475.8Z"/>
<path d="M121.3 505.6 116.9 507.8 113.1 507.3 117.4 505.2Z"/>
<path d="M246.2 437.7 241.2 441.1 237.9 443.4 242.9 440.1Z"/>
<path d="M176.3 481.4 171.6 484.2 168.1 485.2 172.7 482.5Z"/>
<path d="M108.7 509.4 104.5 511.4 100.5 510.5 104.8 508.6Z"/>
<path d="M232.9 446.8 228 450.1 224.7 452.3 229.6 449Z"/>
<path d="M163.5 487.8 159 490.5 155.4 491.2 159.9 488.7Z"/>
<path d="M96.2 512.4 92 514.3 87.9 513.1 92.2 511.3Z"/>
<path d="M219.8 455.5 214.9 458.6 211.5 460.6 216.4 457.5Z"/>
<path d="M150.9 493.7 146.4 496.2 142.7 496.5 147.2 494.1Z"/>
<path d="M83.7 514.8 79.5 516.6 75.3 515 79.6 513.4Z"/>
<path d="M278.3 414.8 273 418.4 269.9 421.1 275.1 417.5Z"/>
<path d="M206.7 463.7 201.9 466.7 198.5 468.5 203.3 465.5Z"/>
<path d="M138.2 498.9 133.8 501.2 130 501.2 134.5 499Z"/>
<path d="M71.1 516.6 67 518.2 62.7 516.3 66.9 514.8Z"/>
<path d="M264.7 424.6 259.5 428.2 256.3 430.8 261.5 427.3Z"/>
<path d="M193.8 471.4 189 474.3 185.6 475.8 190.3 473Z"/>
<path d="M125.6 503.4 121.3 505.6 117.4 505.2 121.8 503.2Z"/>
<path d="M251.2 434.2 246.2 437.7 242.9 440.1 248 436.7Z"/>
<path d="M180.9 478.6 176.3 481.4 172.7 482.5 177.4 479.8Z"/>
<path d="M113.1 507.3 108.7 509.4 104.8 508.6 109.1 506.7Z"/>
<path d="M237.9 443.4 232.9 446.8 229.6 449 234.6 445.8Z"/>
<path d="M168.1 485.2 163.5 487.8 159.9 488.7 164.5 486.1Z"/>
<path d="M100.5 510.5 96.2 512.4 92.2 511.3 96.5 509.5Z"/>
<path d="M224.7 452.3 219.8 455.5 216.4 457.5 221.3 454.4Z"/>
<path d="M155.4 491.2 150.9 493.7 147.2 494.1 151.7 491.7Z"/>
<path d="M87.9 513.1 83.7 514.8 79.6 513.4 83.8 511.7Z"/>
<path d="M283.6 411.1 278.3 414.8 275.1 417.5 280.4 413.8Z"/>
<path d="M211.5 460.6 206.7 463.7 203.3 465.5 208.1 462.5Z"/>
<path d="M142.7 496.5 138.2 498.9 134.5 499 139 496.7Z"/>
<path d="M75.3 515 71.1 516.6 66.9 514.8 71.1 513.3Z"/>
<path d="M269.9 421.1 264.7 424.6 261.5 427.3 266.7 423.7Z"/>
<path d="M198.5 468.5 193.8 471.4 190.3 473 195.1 470.1Z"/>
<path d="M130 501.2 125.6 503.4 121.8 503.2 126.2 501Z"/>
<path d="M256.3 430.8 251.2 434.2 248 436.7 253.1 433.3Z"/>
<path d="M185.6 475.8 180.9 478.6 177.4 479.8 182.1 477.1Z"/>
<path d="M117.4 505.2 113.1 507.3 109.1 506.7 113.5 504.7Z"/>
<path d="M242.9 440.1 237.9 443.4 234.6 445.8 239.6 442.5Z"/>
<path d="M172.7 482.5 168.1 485.2 164.5 486.1 169.2 483.5Z"/>
<path d="M104.8 508.6 100.5 510.5 96.5 509.5 100.8 507.7Z"/>
<path d="M229.6 449 224.7 452.3 221.3 454.4 226.3 451.2Z"/>
<path d="M159.9 488.7 155.4 491.2 151.7 491.7 156.3 489.3Z"/>
<path d="M92.2 511.3 87.9 513.1 83.8 511.7 88.1 510.1Z"/>
<path d="M216.4 457.5 211.5 460.6 208.1 462.5 213 459.5Z"/>
<path d="M147.2 494.1 142.7 496.5 139 496.7 143.5 494.5Z"/>
<path d="M79.6 513.4 75.3 515 71.1 513.3 75.4 511.8Z"/>
<path d="M275.1 417.5 269.9 421.1 266.7 423.7 271.9 420.2Z"/>
<path d="M203.3 465.5 198.5 468.5 195.1 470.1 199.9 467.2Z"/>
<path d="M134.5 499 130 501.2 126.2 501 130.7 498.9Z"/>
<path d="M261.5 427.3 256.3 430.8 253.1 433.3 258.3 429.9Z"/>
<path d="M190.3 473 185.6 475.8 182.1 477.1 186.8 474.4Z"/>
<path d="M121.8 503.2 117.4 505.2 113.5 504.7 117.9 502.7Z"/>
<path d="M248 436.7 242.9 440.1 239.6 442.5 244.7 439.2Z"/>
<path d="M177.4 479.8 172.7 482.5 169.2 483.5 173.8 480.9Z"/>
<path d="M109.1 506.7 104.8 508.6 100.8 507.7 105.2 505.9Z"/>
<path d="M234.6 445.8 229.6 449 226.3 451.2 231.3 448.1Z"/>
<path d="M164.5 486.1 159.9 488.7 156.3 489.3 160.9 486.9Z"/>
<path d="M96.5 509.5 92.2 511.3 88.1 510.1 92.4 508.4Z"/>
<path d="M221.3 454.4 216.4 457.5 213 459.5 217.9 456.4Z"/>
<path d="M151.7 491.7 147.2 494.1 143.5 494.5 148 492.2Z"/>
<path d="M83.8 511.7 79.6 513.4 75.4 511.8 79.6 510.3Z"/>
<path d="M280.4 413.8 275.1 417.5 271.9 420.2 277.2 416.6Z"/>
<path d="M208.1 462.5 203.3 465.5 199.9 467.2 204.7 464.3Z"/>
<path d="M139 496.7 134.5 499 130.7 498.9 135.2 496.8Z"/>
<path d="M266.7 423.7 261.5 427.3 258.3 429.9 263.5 426.4Z"/>
<path d="M195.1 470.1 190.3 473 186.8 474.4 191.6 471.6Z"/>
<path d="M126.2 501 121.8 503.2 117.9 502.7 122.4 500.8Z"/>
<path d="M253.1 433.3 248 436.7 244.7 439.2 249.8 435.8Z"/>
<path d="M182.1 477.1 177.4 479.8 173.8 480.9 178.5 478.3Z"/>
<path d="M113.5 504.7 109.1 506.7 105.2 505.9 109.6 504.1Z"/>
<path d="M239.6 442.5 234.6 445.8 231.3 448.1 236.3 444.8Z"/>
<path d="M169.2 483.5 164.5 486.1 160.9 486.9 165.5 484.4Z"/>
<path d="M100.8 507.7 96.5 509.5 92.4 508.4 96.8 506.7Z"/>
<path d="M226.3 451.2 221.3 454.4 217.9 456.4 222.9 453.4Z"/>
<path d="M156.3 489.3 151.7 491.7 148 492.2 152.6 489.9Z"/>
<path d="M88.1 510.1 83.8 511.7 79.6 510.3 83.9 508.7Z"/>
<path d="M213 459.5 208.1 462.5 204.7 464.3 209.6 461.4Z"/>
<path d="M143.5 494.5 139 496.7 135.2 496.8 139.7 494.6Z"/>
<path d="M271.9 420.2 266.7 423.7 263.5 426.4 268.7 422.9Z"/>
<path d="M199.9 467.2 195.1 470.1 191.6 471.6 196.4 468.8Z"/>
<path d="M130.7 498.9 126.2 501 122.4 500.8 126.8 498.8Z"/>
<path d="M258.3 429.9 253.1 433.3 249.8 435.8 255 432.5Z"/>
<path d="M186.8 474.4 182.1 477.1 178.5 478.3 183.3 475.7Z"/>
<path d="M117.9 502.7 113.5 504.7 109.6 504.1 114 502.2Z"/>
<path d="M244.7 439.2 239.6 442.5 236.3 444.8 241.4 441.6Z"/>
<path d="M173.8 480.9 169.2 483.5 165.5 484.4 170.2 481.9Z"/>
<path d="M105.2 505.9 100.8 507.7 96.8 506.7 101.1 505Z"/>
<path d="M231.3 448.1 226.3 451.2 222.9 453.4 227.9 450.3Z"/>
<path d="M160.9 486.9 156.3 489.3 152.6 489.9 157.2 487.5Z"/>
<path d="M92.4 508.4 88.1 510.1 83.9 508.7 88.3 507.2Z"/>
<path d="M217.9 456.4 213 459.5 209.6 461.4 214.5 458.4Z"/>
<path d="M148 492.2 143.5 494.5 139.7 494.6 144.3 492.5Z"/>
<path d="M277.2 416.6 271.9 420.2 268.7 422.9 274 419.4Z"/>
<path d="M204.7 464.3 199.9 467.2 196.4 468.8 201.3 466Z"/>
<path d="M135.2 496.8 130.7 498.9 126.8 498.8 131.4 496.7Z"/>
<path d="M263.5 426.4 258.3 429.9 255 432.5 260.2 429Z"/>
<path d="M191.6 471.6 186.8 474.4 183.3 475.7 188.1 473Z"/>
<path d="M122.4 500.8 117.9 502.7 114 502.2 118.5 500.3Z"/>
<path d="M249.8 435.8 244.7 439.2 241.4 441.6 246.5 438.3Z"/>
<path d="M178.5 478.3 173.8 480.9 170.2 481.9 174.9 479.4Z"/>
<path d="M109.6 504.1 105.2 505.9 101.1 505 105.6 503.3Z"/>
<path d="M236.3 444.8 231.3 448.1 227.9 450.3 233 447.1Z"/>
<path d="M165.5 484.4 160.9 486.9 157.2 487.5 161.9 485.2Z"/>
<path d="M96.8 506.7 92.4 508.4 88.3 507.2 92.7 505.6Z"/>
<path d="M222.9 453.4 217.9 456.4 214.5 458.4 219.5 455.4Z"/>
<path d="M152.6 489.9 148 492.2 144.3 492.5 148.9 490.3Z"/>
<path d="M209.6 461.4 204.7 464.3 201.3 466 206.2 463.2Z"/>
<path d="M139.7 494.6 135.2 496.8 131.4 496.7 135.9 494.7Z"/>
<path d="M268.7 422.9 263.5 426.4 260.2 429 265.5 425.6Z"/>
<path d="M196.4 468.8 191.6 471.6 188.1 473 192.9 470.4Z"/>
<path d="M126.8 498.8 122.4 500.8 118.5 500.3 122.9 498.5Z"/>
<path d="M255 432.5 249.8 435.8 246.5 438.3 251.7 435Z"/>
<path d="M183.3 475.7 178.5 478.3 174.9 479.4 179.7 476.9Z"/>
<path d="M114 502.2 109.6 504.1 105.6 503.3 110 501.6Z"/>
<path d="M241.4 441.6 236.3 444.8 233 447.1 238.1 444Z"/>
<path d="M170.2 481.9 165.5 484.4 161.9 485.2 166.6 482.8Z"/>
<path d="M101.1 505 96.8 506.7 92.7 505.6 97.1 504.1Z"/>
<path d="M227.9 450.3 222.9 453.4 219.5 455.4 224.5 452.4Z"/>
<path d="M157.2 487.5 152.6 489.9 148.9 490.3 153.5 488.1Z"/>
<path d="M214.5 458.4 209.6 461.4 206.2 463.2 211.1 460.3Z"/>
<path d="M144.3 492.5 139.7 494.6 135.9 494.7 140.5 492.7Z"/>
<path d="M274 419.4 268.7 422.9 265.5 425.6 270.8 422.1Z"/>
<path d="M201.3 466 196.4 468.8 192.9 470.4 197.8 467.6Z"/>
<path d="M131.4 496.7 126.8 498.8 122.9 498.5 127.5 496.6Z"/>
<path d="M260.2 429 255 432.5 251.7 435 256.9 431.7Z"/>
<path d="M188.1 473 183.3 475.7 179.7 476.9 184.5 474.4Z"/>
<path d="M118.5 500.3 114 502.2 110 501.6 114.5 499.9Z"/>
<path d="M246.5 438.3 241.4 441.6 238.1 444 243.2 440.8Z"/>
<path d="M174.9 479.4 170.2 481.9 166.6 482.8 171.3 480.4Z"/>
<path d="M105.6 503.3 101.1 505 97.1 504.1 101.5 502.5Z"/>
<path d="M233 447.1 227.9 450.3 224.5 452.4 229.6 449.4Z"/>
<path d="M161.9 485.2 157.2 487.5 153.5 488.1 158.2 485.8Z"/>
<path d="M219.5 455.4 214.5 458.4 211.1 460.3 216.1 457.4Z"/>
<path d="M148.9 490.3 144.3 492.5 140.5 492.7 145.1 490.6Z"/>
<path d="M206.2 463.2 201.3 466 197.8 467.6 202.7 464.9Z"/>
<path d="M135.9 494.7 131.4 496.7 127.5 496.6 132 494.7Z"/>
<path d="M265.5 425.6 260.2 429 256.9 431.7 262.2 428.3Z"/>
<path d="M192.9 470.4 188.1 473 184.5 474.4 189.3 471.8Z"/>
<path d="M122.9 498.5 118.5 500.3 114.5 499.9 119 498.1Z"/>
<path d="M251.7 435 246.5 438.3 243.2 440.8 248.4 437.6Z"/>
<path d="M179.7 476.9 174.9 479.4 171.3 480.4 176.1 478Z"/>
<path d="M110 501.6 105.6 503.3 101.5 502.5 106 500.9Z"/>
<path d="M238.1 444 233 447.1 229.6 449.4 234.7 446.3Z"/>
<path d="M166.6 482.8 161.9 485.2 158.2 485.8 162.9 483.6Z"/>
<path d="M224.5 452.4 219.5 455.4 216.1 457.4 221.1 454.5Z"/>
<path d="M153.5 488.1 148.9 490.3 145.1 490.6 149.7 488.5Z"/>
<path d="M211.1 460.3 206.2 463.2 202.7 464.9 207.6 462.2Z"/>
<path d="M140.5 492.7 135.9 494.7 132 494.7 136.6 492.8Z"/>
<path d="M270.8 422.1 265.5 425.6 262.2 428.3 267.5 424.9Z"/>
<path d="M197.8 467.6 192.9 470.4 189.3 471.8 194.2 469.2Z"/>
<path d="M127.5 496.6 122.9 498.5 119 498.1 123.5 496.4Z"/>
<path d="M256.9 431.7 251.7 435 248.4 437.6 253.6 434.3Z"/>
<path d="M184.5 474.4 179.7 476.9 176.1 478 180.9 475.6Z"/>
<path d="M114.5 499.9 110 501.6 106 500.9 110.5 499.3Z"/>
<path d="M243.2 440.8 238.1 444 234.7 446.3 239.8 443.2Z"/>
<path d="M171.3 480.4 166.6 482.8 162.9 483.6 167.6 481.3Z"/>
<path d="M229.6 449.4 224.5 452.4 221.1 454.5 226.2 451.6Z"/>
<path d="M158.2 485.8 153.5 488.1 149.7 488.5 154.4 486.4Z"/>
<path d="M216.1 457.4 211.1 460.3 207.6 462.2 212.6 459.4Z"/>
<path d="M145.1 490.6 140.5 492.7 136.6 492.8 141.3 490.8Z"/>
<path d="M202.7 464.9 197.8 467.6 194.2 469.2 199.1 466.6Z"/>
<path d="M132 494.7 127.5 496.6 123.5 496.4 128.1 494.6Z"/>
<path d="M262.2 428.3 256.9 431.7 253.6 434.3 258.9 431.1Z"/>
<path d="M189.3 471.8 184.5 474.4 180.9 475.6 185.7 473.1Z"/>
<path d="M119 498.1 114.5 499.9 110.5 499.3 115 497.7Z"/>
<path d="M248.4 437.6 243.2 440.8 239.8 443.2 245 440.1Z"/>
<path d="M176.1 478 171.3 480.4 167.6 481.3 172.4 479.1Z"/>
<path d="M234.7 446.3 229.6 449.4 226.2 451.6 231.3 448.7Z"/>
<path d="M162.9 483.6 158.2 485.8 154.4 486.4 159.2 484.3Z"/>
<path d="M221.1 454.5 216.1 457.4 212.6 459.4 217.6 456.6Z"/>
<path d="M149.7 488.5 145.1 490.6 141.3 490.8 145.9 488.9Z"/>
<path d="M207.6 462.2 202.7 464.9 199.1 466.6 204.1 464Z"/>
<path d="M136.6 492.8 132 494.7 128.1 494.6 132.7 492.8Z"/>
<path d="M267.5 424.9 262.2 428.3 258.9 431.1 264.2 427.8Z"/>
<path d="M194.2 469.2 189.3 471.8 185.7 473.1 190.6 470.7Z"/>
<path d="M123.5 496.4 119 498.1 115 497.7 119.6 496.1Z"/>
<path d="M253.6 434.3 248.4 437.6 245 440.1 250.3 437Z"/>
<path d="M180.9 475.6 176.1 478 172.4 479.1 177.3 476.8Z"/>
<path d="M239.8 443.2 234.7 446.3 231.3 448.7 236.5 445.7Z"/>
<path d="M167.6 481.3 162.9 483.6 159.2 484.3 163.9 482.2Z"/>
<path d="M226.2 451.6 221.1 454.5 217.6 456.6 222.7 453.8Z"/>
<path d="M154.4 486.4 149.7 488.5 145.9 488.9 150.6 486.9Z"/>
<path d="M212.6 459.4 207.6 462.2 204.1 464 209.1 461.3Z"/>
<path d="M141.3 490.8 136.6 492.8 132.7 492.8 137.4 491Z"/>
<path d="M199.1 466.6 194.2 469.2 190.6 470.7 195.6 468.2Z"/>
<path d="M128.1 494.6 123.5 496.4 119.6 496.1 124.2 494.5Z"/>
<path d="M258.9 431.1 253.6 434.3 250.3 437 255.6 433.8Z"/>
<path d="M185.7 473.1 180.9 475.6 177.3 476.8 182.1 474.4Z"/>
<path d="M245 440.1 239.8 443.2 236.5 445.7 241.7 442.7Z"/>
<path d="M172.4 479.1 167.6 481.3 163.9 482.2 168.7 480Z"/>
<path d="M231.3 448.7 226.2 451.6 222.7 453.8 227.9 450.9Z"/>
<path d="M159.2 484.3 154.4 486.4 150.6 486.9 155.4 484.9Z"/>
<path d="M217.6 456.6 212.6 459.4 209.1 461.3 214.2 458.6Z"/>
<path d="M145.9 488.9 141.3 490.8 137.4 491 142.1 489.2Z"/>
<path d="M204.1 464 199.1 466.6 195.6 468.2 200.5 465.7Z"/>
<path d="M132.7 492.8 128.1 494.6 124.2 494.5 128.8 492.8Z"/>
<path d="M264.2 427.8 258.9 431.1 255.6 433.8 260.9 430.6Z"/>
<path d="M190.6 470.7 185.7 473.1 182.1 474.4 187 472.1Z"/>
<path d="M250.3 437 245 440.1 241.7 442.7 246.9 439.6Z"/>
<path d="M177.3 476.8 172.4 479.1 168.7 480 173.6 477.9Z"/>
<path d="M236.5 445.7 231.3 448.7 227.9 450.9 233 448.1Z"/>
<path d="M163.9 482.2 159.2 484.3 155.4 484.9 160.2 483Z"/>
<path d="M222.7 453.8 217.6 456.6 214.2 458.6 219.2 455.9Z"/>
<path d="M150.6 486.9 145.9 488.9 142.1 489.2 146.8 487.4Z"/>
<path d="M209.1 461.3 204.1 464 200.5 465.7 205.6 463.2Z"/>
<path d="M137.4 491 132.7 492.8 128.8 492.8 133.5 491.2Z"/>
<path d="M195.6 468.2 190.6 470.7 187 472.1 192 469.8Z"/>
<path d="M255.6 433.8 250.3 437 246.9 439.6 252.2 436.6Z"/>
<path d="M182.1 474.4 177.3 476.8 173.6 477.9 178.4 475.7Z"/>
<path d="M241.7 442.7 236.5 445.7 233 448.1 238.2 445.2Z"/>
<path d="M168.7 480 163.9 482.2 160.2 483 165 480.9Z"/>
<path d="M227.9 450.9 222.7 453.8 219.2 455.9 224.4 453.2Z"/>
<path d="M155.4 484.9 150.6 486.9 146.8 487.4 151.6 485.5Z"/>
<path d="M214.2 458.6 209.1 461.3 205.6 463.2 210.6 460.6Z"/>
<path d="M142.1 489.2 137.4 491 133.5 491.2 138.2 489.5Z"/>
<path d="M200.5 465.7 195.6 468.2 192 469.8 197 467.4Z"/>
<path d="M260.9 430.6 255.6 433.8 252.2 436.6 257.6 433.5Z"/>
<path d="M187 472.1 182.1 474.4 178.4 475.7 183.4 473.5Z"/>
<path d="M246.9 439.6 241.7 442.7 238.2 445.2 243.5 442.3Z"/>
<path d="M173.6 477.9 168.7 480 165 480.9 169.8 478.9Z"/>
<path d="M233 448.1 227.9 450.9 224.4 453.2 229.6 450.5Z"/>
<path d="M160.2 483 155.4 484.9 151.6 485.5 156.4 483.7Z"/>
<path d="M219.2 455.9 214.2 458.6 210.6 460.6 215.7 458Z"/>
<path d="M146.8 487.4 142.1 489.2 138.2 489.5 142.9 487.8Z"/>
<path d="M205.6 463.2 200.5 465.7 197 467.4 202 465Z"/>
<path d="M192 469.8 187 472.1 183.4 473.5 188.3 471.3Z"/>
<path d="M252.2 436.6 246.9 439.6 243.5 442.3 248.8 439.3Z"/>
<path d="M178.4 475.7 173.6 477.9 169.8 478.9 174.7 476.9Z"/>
<path d="M238.2 445.2 233 448.1 229.6 450.5 234.8 447.7Z"/>
<path d="M165 480.9 160.2 483 156.4 483.7 161.2 481.8Z"/>
<path d="M224.4 453.2 219.2 455.9 215.7 458 220.9 455.5Z"/>
<path d="M151.6 485.5 146.8 487.4 142.9 487.8 147.7 486.1Z"/>
<path d="M210.6 460.6 205.6 463.2 202 465 207.1 462.6Z"/>
<path d="M197 467.4 192 469.8 188.3 471.3 193.3 469Z"/>
<path d="M257.6 433.5 252.2 436.6 248.8 439.3 254.2 436.3Z"/>
<path d="M183.4 473.5 178.4 475.7 174.7 476.9 179.7 474.8Z"/>
<path d="M243.5 442.3 238.2 445.2 234.8 447.7 240 444.9Z"/>
<path d="M169.8 478.9 165 480.9 161.2 481.8 166.1 479.9Z"/>
<path d="M229.6 450.5 224.4 453.2 220.9 455.5 226.1 452.8Z"/>
<path d="M156.4 483.7 151.6 485.5 147.7 486.1 152.5 484.4Z"/>
<path d="M215.7 458 210.6 460.6 207.1 462.6 212.2 460.1Z"/>
<path d="M202 465 197 467.4 193.3 469 198.4 466.8Z"/>
<path d="M188.3 471.3 183.4 473.5 179.7 474.8 184.6 472.7Z"/>
<path d="M248.8 439.3 243.5 442.3 240 444.9 245.4 442.1Z"/>
<path d="M174.7 476.9 169.8 478.9 166.1 479.9 171 478.1Z"/>
<path d="M234.8 447.7 229.6 450.5 226.1 452.8 231.3 450.2Z"/>
<path d="M161.2 481.8 156.4 483.7 152.5 484.4 157.4 482.7Z"/>
<path d="M220.9 455.5 215.7 458 212.2 460.1 217.3 457.7Z"/>
<path d="M207.1 462.6 202 465 198.4 466.8 203.4 464.5Z"/>
<path d="M193.3 469 188.3 471.3 184.6 472.7 189.6 470.7Z"/>
<path d="M254.2 436.3 248.8 439.3 245.4 442.1 250.7 439.2Z"/>
<path d="M179.7 474.8 174.7 476.9 171 478.1 175.9 476.1Z"/>
<path d="M240 444.9 234.8 447.7 231.3 450.2 236.6 447.5Z"/>
<path d="M166.1 479.9 161.2 481.8 157.4 482.7 162.2 481Z"/>
<path d="M226.1 452.8 220.9 455.5 217.3 457.7 222.5 455.2Z"/>
<path d="M212.2 460.1 207.1 462.6 203.4 464.5 208.6 462.2Z"/>
<path d="M198.4 466.8 193.3 469 189.6 470.7 194.7 468.6Z"/>
<path d="M184.6 472.7 179.7 474.8 175.9 476.1 180.9 474.2Z"/>
<path d="M245.4 442.1 240 444.9 236.6 447.5 241.9 444.9Z"/>
<path d="M171 478.1 166.1 479.9 162.2 481 167.2 479.2Z"/>
<path d="M231.3 450.2 226.1 452.8 222.5 455.2 227.8 452.7Z"/>
<path d="M217.3 457.7 212.2 460.1 208.6 462.2 213.7 459.9Z"/>
<path d="M203.4 464.5 198.4 466.8 194.7 468.6 199.8 466.4Z"/>
<path d="M189.6 470.7 184.6 472.7 180.9 474.2 185.9 472.3Z"/>
<path d="M250.7 439.2 245.4 442.1 241.9 444.9 247.3 442.2Z"/>
<path d="M175.9 476.1 171 478.1 167.2 479.2 172.1 477.4Z"/>
<path d="M236.6 447.5 231.3 450.2 227.8 452.7 233 450.2Z"/>
<path d="M222.5 455.2 217.3 457.7 213.7 459.9 218.9 457.6Z"/>
<path d="M208.6 462.2 203.4 464.5 199.8 466.4 204.9 464.3Z"/>
<path d="M194.7 468.6 189.6 470.7 185.9 472.3 191 470.3Z"/>
<path d="M180.9 474.2 175.9 476.1 172.1 477.4 177.1 475.7Z"/>
<path d="M241.9 444.9 236.6 447.5 233 450.2 238.4 447.7Z"/>
<path d="M227.8 452.7 222.5 455.2 218.9 457.6 224.2 455.2Z"/>
<path d="M213.7 459.9 208.6 462.2 204.9 464.3 210.1 462.1Z"/>
<path d="M199.8 466.4 194.7 468.6 191 470.3 196.1 468.3Z"/>
<path d="M185.9 472.3 180.9 474.2 177.1 475.7 182.2 473.9Z"/>
<path d="M247.3 442.2 241.9 444.9 238.4 447.7 243.8 445.1Z"/>
<path d="M233 450.2 227.8 452.7 224.2 455.2 229.5 452.9Z"/>
<path d="M218.9 457.6 213.7 459.9 210.1 462.1 215.3 459.9Z"/>
<path d="M204.9 464.3 199.8 466.4 196.1 468.3 201.3 466.4Z"/>
<path d="M191 470.3 185.9 472.3 182.2 473.9 187.3 472.1Z"/>
<path d="M238.4 447.7 233 450.2 229.5 452.9 234.8 450.5Z"/>
<path d="M224.2 455.2 218.9 457.6 215.3 459.9 220.6 457.8Z"/>
<path d="M210.1 462.1 204.9 464.3 201.3 466.4 206.4 464.4Z"/>
<path d="M196.1 468.3 191 470.3 187.3 472.1 192.4 470.3Z"/>
<path d="M243.8 445.1 238.4 447.7 234.8 450.5 240.2 448.1Z"/>
<path d="M229.5 452.9 224.2 455.2 220.6 457.8 225.9 455.5Z"/>
<path d="M215.3 459.9 210.1 462.1 206.4 464.4 211.7 462.3Z"/>
<path d="M201.3 466.4 196.1 468.3 192.4 470.3 197.5 468.4Z"/>
<path d="M234.8 450.5 229.5 452.9 225.9 455.5 231.3 453.3Z"/>
<path d="M220.6 457.8 215.3 459.9 211.7 462.3 217 460.3Z"/>
<path d="M206.4 464.4 201.3 466.4 197.5 468.4 202.7 466.6Z"/>
<path d="M240.2 448.1 234.8 450.5 231.3 453.3 236.6 451.1Z"/>
<path d="M225.9 455.5 220.6 457.8 217 460.3 222.3 458.2Z"/>
<path d="M211.7 462.3 206.4 464.4 202.7 466.6 208 464.7Z"/>
<path d="M231.3 453.3 225.9 455.5 222.3 458.2 227.6 456.2Z"/>
<path d="M217 460.3 211.7 462.3 208 464.7 213.3 462.9Z"/>
<path d="M236.6 451.1 231.3 453.3 227.6 456.2 233 454.1Z"/>
<path d="M222.3 458.2 217 460.3 213.3 462.9 218.6 461Z"/>
<path d="M227.6 456.2 222.3 458.2 218.6 461 224 459.1Z"/>
<path d="M233 454.1 227.6 456.2 224 459.1 229.4 457.1Z"/></g>
<text class="tl" transform="translate(40.1 560.3) scale(1 1.12)">-0.6</text>
<text class="tl" transform="translate(36.6 511.1) scale(1 1.12)">-0.4</text>
<text class="tl" transform="translate(33 459.2) scale(1 1.12)">-0.2</text>
<text class="tl" transform="translate(176.6 636.2) scale(1 1.12)">50</text>
<text class="tl" transform="translate(130.7 620) scale(1 1.12)">100</text>
<text class="tl" transform="translate(86.6 604.6) scale(1 1.12)">150</text>
<text class="tl" transform="translate(320.8 551.3) scale(1 1.12)">0</text>
<text class="tl" transform="translate(307.5 566.2) scale(1 1.12)">5</text>
<text class="tl" transform="translate(293.6 581.8) scale(1 1.12)">10</text>
<text class="tl" transform="translate(279.2 598.1) scale(1 1.12)">15</text>
<text class="tl" transform="translate(264.1 615.1) scale(1 1.12)">20</text>
<text class="tl" transform="translate(248.3 632.9) scale(1 1.12)">25</text>
<text class="tt" transform="translate(8.7 506.8) rotate(86)" y="3">Change of PP (mmHg)</text>
<text class="tt" transform="translate(120.7 637.7) rotate(19.4)" y="3">O<tspan class="sub" dy="2">3</tspan><tspan dy="-2"> exposure (μg/m</tspan><tspan class="sup" dy="-4">3</tspan><tspan dy="4">)</tspan></text>
<text class="tt" transform="translate(300.9 604.5) rotate(-48.2)" y="3" style="font-size:12.6px">Lag (days)</text></g>
<g><line class="dt" x1="408.9" y1="408" x2="591.3" y2="457.9"/>
<line class="dt" x1="683.7" y1="376.2" x2="591.3" y2="457.9"/>
<line class="dt" x1="591.3" y1="457.9" x2="587.5" y2="636.1"/>
<line class="bx" x1="516.9" y1="338.1" x2="408.9" y2="408"/>
<line class="bx" x1="516.9" y1="338.1" x2="683.7" y2="376.2"/>
<line class="bx" x1="516.9" y1="338.1" x2="519.3" y2="493.7"/>
<line class="bx" x1="408.9" y1="408" x2="420.7" y2="577.4"/>
<line class="bx" x1="683.7" y1="376.2" x2="673" y2="539.6"/>
<line class="bx" x1="420.7" y1="577.4" x2="519.3" y2="493.7"/>
<line class="bx" x1="673" y1="539.6" x2="519.3" y2="493.7"/>
<line class="bx" x1="420.7" y1="577.4" x2="587.5" y2="636.1"/>
<line class="bx" x1="587.5" y1="636.1" x2="673" y2="539.6"/>
<line class="bx" x1="418.6" y1="546.7" x2="410.5" y2="547.9"/>
<line class="bx" x1="416.3" y1="513.9" x2="408" y2="515"/>
<line class="bx" x1="413.9" y1="479.9" x2="405.5" y2="481"/>
<line class="bx" x1="411.4" y1="444.6" x2="402.9" y2="445.7"/>
<line class="bx" x1="544.6" y1="621" x2="541.6" y2="628.9"/>
<line class="bx" x1="498.7" y1="604.8" x2="495.7" y2="612.6"/>
<line class="bx" x1="454.7" y1="589.4" x2="451.7" y2="597"/>
<line class="bx" x1="673" y1="539.6" x2="677.7" y2="545.6"/>
<line class="bx" x1="659.8" y1="554.5" x2="664.5" y2="560.6"/>
<line class="bx" x1="646" y1="570.1" x2="650.8" y2="576.4"/>
<line class="bx" x1="631.5" y1="586.4" x2="636.5" y2="592.8"/>
<line class="bx" x1="616.5" y1="603.4" x2="621.5" y2="609.9"/>
<line class="bx" x1="600.7" y1="621.2" x2="605.9" y2="627.9"/>
<g class="sf"><path d="M521.5 367.6 517.3 367.3 514.3 381.9 518.4 381.9Z"/>
<path d="M525.6 367.8 521.5 367.6 518.4 381.9 522.6 381.8Z"/>
<path d="M529.8 368.1 525.6 367.8 522.6 381.8 526.7 381.8Z"/>
<path d="M518.4 381.9 514.3 381.9 511.3 396.9 515.4 396.6Z"/>
<path d="M534 368.3 529.8 368.1 526.7 381.8 530.9 381.7Z"/>
<path d="M522.6 381.8 518.4 381.9 515.4 396.6 519.5 396.2Z"/>
<path d="M538.2 368.6 534 368.3 530.9 381.7 535.1 381.7Z"/>
<path d="M526.7 381.8 522.6 381.8 519.5 396.2 523.6 395.9Z"/>
<path d="M515.4 396.6 511.3 396.9 508.3 412.1 512.4 411.4Z"/>
<path d="M542.4 368.8 538.2 368.6 535.1 381.7 539.3 381.6Z"/>
<path d="M530.9 381.7 526.7 381.8 523.6 395.9 527.8 395.5Z"/>
<path d="M519.5 396.2 515.4 396.6 512.4 411.4 516.5 410.8Z"/>
<path d="M546.7 369.1 542.4 368.8 539.3 381.6 543.5 381.6Z"/>
<path d="M535.1 381.7 530.9 381.7 527.8 395.5 532 395.2Z"/>
<path d="M523.6 395.9 519.5 396.2 516.5 410.8 520.6 410.1Z"/>
<path d="M512.4 411.4 508.3 412.1 505.4 427.1 509.4 426.2Z"/>
<path d="M550.9 369.3 546.7 369.1 543.5 381.6 547.8 381.5Z"/>
<path d="M539.3 381.6 535.1 381.7 532 395.2 536.2 394.8Z"/>
<path d="M527.8 395.5 523.6 395.9 520.6 410.1 524.7 409.5Z"/>
<path d="M516.5 410.8 512.4 411.4 509.4 426.2 513.5 425.2Z"/>
<path d="M555.2 369.6 550.9 369.3 547.8 381.5 552.1 381.5Z"/>
<path d="M543.5 381.6 539.3 381.6 536.2 394.8 540.4 394.5Z"/>
<path d="M532 395.2 527.8 395.5 524.7 409.5 528.9 408.8Z"/>
<path d="M520.6 410.1 516.5 410.8 513.5 425.2 517.6 424.3Z"/>
<path d="M509.4 426.2 505.4 427.1 502.4 441.7 506.4 440.5Z"/>
<path d="M559.5 369.8 555.2 369.6 552.1 381.5 556.3 381.4Z"/>
<path d="M547.8 381.5 543.5 381.6 540.4 394.5 544.6 394.1Z"/>
<path d="M536.2 394.8 532 395.2 528.9 408.8 533.1 408.2Z"/>
<path d="M524.7 409.5 520.6 410.1 517.6 424.3 521.7 423.3Z"/>
<path d="M513.5 425.2 509.4 426.2 506.4 440.5 510.4 439.3Z"/>
<path d="M563.8 370.1 559.5 369.8 556.3 381.4 560.7 381.4Z"/>
<path d="M552.1 381.5 547.8 381.5 544.6 394.1 548.9 393.8Z"/>
<path d="M540.4 394.5 536.2 394.8 533.1 408.2 537.3 407.5Z"/>
<path d="M528.9 408.8 524.7 409.5 521.7 423.3 525.8 422.4Z"/>
<path d="M517.6 424.3 513.5 425.2 510.4 439.3 514.5 438.1Z"/>
<path d="M568.2 370.3 563.8 370.1 560.7 381.4 565 381.3Z"/>
<path d="M506.4 440.5 502.4 441.7 499.4 455.8 503.4 454.3Z"/>
<path d="M556.3 381.4 552.1 381.5 548.9 393.8 553.2 393.4Z"/>
<path d="M544.6 394.1 540.4 394.5 537.3 407.5 541.5 406.8Z"/>
<path d="M533.1 408.2 528.9 408.8 525.8 422.4 530 421.4Z"/>
<path d="M521.7 423.3 517.6 424.3 514.5 438.1 518.6 436.8Z"/>
<path d="M572.5 370.6 568.2 370.3 565 381.3 569.4 381.3Z"/>
<path d="M510.4 439.3 506.4 440.5 503.4 454.3 507.4 452.8Z"/>
<path d="M560.7 381.4 556.3 381.4 553.2 393.4 557.5 393Z"/>
<path d="M548.9 393.8 544.6 394.1 541.5 406.8 545.8 406.2Z"/>
<path d="M537.3 407.5 533.1 408.2 530 421.4 534.2 420.4Z"/>
<path d="M525.8 422.4 521.7 423.3 518.6 436.8 522.7 435.6Z"/>
<path d="M576.9 370.8 572.5 370.6 569.4 381.3 573.7 381.2Z"/>
<path d="M514.5 438.1 510.4 439.3 507.4 452.8 511.5 451.4Z"/>
<path d="M565 381.3 560.7 381.4 557.5 393 561.8 392.7Z"/>
<path d="M503.4 454.3 499.4 455.8 496.4 469.1 500.4 467.4Z"/>
<path d="M553.2 393.4 548.9 393.8 545.8 406.2 550 405.5Z"/>
<path d="M541.5 406.8 537.3 407.5 534.2 420.4 538.4 419.5Z"/>
<path d="M530 421.4 525.8 422.4 522.7 435.6 526.9 434.4Z"/>
<path d="M581.3 371.1 576.9 370.8 573.7 381.2 578.1 381.2Z"/>
<path d="M518.6 436.8 514.5 438.1 511.5 451.4 515.6 449.9Z"/>
<path d="M569.4 381.3 565 381.3 561.8 392.7 566.2 392.3Z"/>
<path d="M507.4 452.8 503.4 454.3 500.4 467.4 504.4 465.7Z"/>
<path d="M557.5 393 553.2 393.4 550 405.5 554.3 404.8Z"/>
<path d="M545.8 406.2 541.5 406.8 538.4 419.5 542.6 418.5Z"/>
<path d="M534.2 420.4 530 421.4 526.9 434.4 531.1 433.1Z"/>
<path d="M585.8 371.4 581.3 371.1 578.1 381.2 582.6 381.1Z"/>
<path d="M522.7 435.6 518.6 436.8 515.6 449.9 519.7 448.4Z"/>
<path d="M573.7 381.2 569.4 381.3 566.2 392.3 570.6 391.9Z"/>
<path d="M511.5 451.4 507.4 452.8 504.4 465.7 508.4 463.9Z"/>
<path d="M561.8 392.7 557.5 393 554.3 404.8 558.6 404.1Z"/>
<path d="M500.4 467.4 496.4 469.1 493.4 481.5 497.4 479.6Z"/>
<path d="M550 405.5 545.8 406.2 542.6 418.5 546.9 417.5Z"/>
<path d="M538.4 419.5 534.2 420.4 531.1 433.1 535.2 431.9Z"/>
<path d="M590.2 371.6 585.8 371.4 582.6 381.1 587 381.1Z"/>
<path d="M526.9 434.4 522.7 435.6 519.7 448.4 523.8 446.8Z"/>
<path d="M578.1 381.2 573.7 381.2 570.6 391.9 575 391.5Z"/>
<path d="M515.6 449.9 511.5 451.4 508.4 463.9 512.5 462.2Z"/>
<path d="M566.2 392.3 561.8 392.7 558.6 404.1 563 403.4Z"/>
<path d="M504.4 465.7 500.4 467.4 497.4 479.6 501.4 477.6Z"/>
<path d="M554.3 404.8 550 405.5 546.9 417.5 551.2 416.5Z"/>
<path d="M542.6 418.5 538.4 419.5 535.2 431.9 539.5 430.6Z"/>
<path d="M594.7 371.9 590.2 371.6 587 381.1 591.5 381Z"/>
<path d="M531.1 433.1 526.9 434.4 523.8 446.8 527.9 445.3Z"/>
<path d="M582.6 381.1 578.1 381.2 575 391.5 579.4 391.2Z"/>
<path d="M519.7 448.4 515.6 449.9 512.5 462.2 516.6 460.5Z"/>
<path d="M570.6 391.9 566.2 392.3 563 403.4 567.4 402.7Z"/>
<path d="M508.4 463.9 504.4 465.7 501.4 477.6 505.4 475.7Z"/>
<path d="M558.6 404.1 554.3 404.8 551.2 416.5 555.5 415.5Z"/>
<path d="M497.4 479.6 493.4 481.5 490.4 492.9 494.4 490.7Z"/>
<path d="M546.9 417.5 542.6 418.5 539.5 430.6 543.7 429.3Z"/>
<path d="M599.1 372.2 594.7 371.9 591.5 381 596 381Z"/>
<path d="M535.2 431.9 531.1 433.1 527.9 445.3 532.1 443.8Z"/>
<path d="M587 381.1 582.6 381.1 579.4 391.2 583.8 390.8Z"/>
<path d="M523.8 446.8 519.7 448.4 516.6 460.5 520.7 458.7Z"/>
<path d="M575 391.5 570.6 391.9 567.4 402.7 571.8 402.1Z"/>
<path d="M512.5 462.2 508.4 463.9 505.4 475.7 509.4 473.7Z"/>
<path d="M563 403.4 558.6 404.1 555.5 415.5 559.8 414.5Z"/>
<path d="M501.4 477.6 497.4 479.6 494.4 490.7 498.3 488.6Z"/>
<path d="M551.2 416.5 546.9 417.5 543.7 429.3 548 428Z"/>
<path d="M603.7 372.4 599.1 372.2 596 381 600.5 380.9Z"/>
<path d="M539.5 430.6 535.2 431.9 532.1 443.8 536.3 442.2Z"/>
<path d="M591.5 381 587 381.1 583.8 390.8 588.3 390.4Z"/>
<path d="M527.9 445.3 523.8 446.8 520.7 458.7 524.8 456.9Z"/>
<path d="M579.4 391.2 575 391.5 571.8 402.1 576.2 401.4Z"/>
<path d="M516.6 460.5 512.5 462.2 509.4 473.7 513.5 471.8Z"/>
<path d="M567.4 402.7 563 403.4 559.8 414.5 564.2 413.5Z"/>
<path d="M505.4 475.7 501.4 477.6 498.3 488.6 502.3 486.5Z"/>
<path d="M555.5 415.5 551.2 416.5 548 428 552.3 426.7Z"/>
<path d="M494.4 490.7 490.4 492.9 487.4 503.1 491.3 500.8Z"/>
<path d="M608.2 372.7 603.7 372.4 600.5 380.9 605 380.9Z"/>
<path d="M543.7 429.3 539.5 430.6 536.3 442.2 540.6 440.7Z"/>
<path d="M596 381 591.5 381 588.3 390.4 592.8 390Z"/>
<path d="M532.1 443.8 527.9 445.3 524.8 456.9 529 455.1Z"/>
<path d="M583.8 390.8 579.4 391.2 576.2 401.4 580.6 400.7Z"/>
<path d="M520.7 458.7 516.6 460.5 513.5 471.8 517.6 469.8Z"/>
<path d="M571.8 402.1 567.4 402.7 564.2 413.5 568.6 412.5Z"/>
<path d="M509.4 473.7 505.4 475.7 502.3 486.5 506.3 484.3Z"/>
<path d="M559.8 414.5 555.5 415.5 552.3 426.7 556.6 425.4Z"/>
<path d="M498.3 488.6 494.4 490.7 491.3 500.8 495.2 498.5Z"/>
<path d="M612.7 373 608.2 372.7 605 380.9 609.6 380.8Z"/>
<path d="M548 428 543.7 429.3 540.6 440.7 544.8 439.1Z"/>
<path d="M600.5 380.9 596 381 592.8 390 597.3 389.7Z"/>
<path d="M536.3 442.2 532.1 443.8 529 455.1 533.2 453.3Z"/>
<path d="M588.3 390.4 583.8 390.8 580.6 400.7 585.1 399.9Z"/>
<path d="M524.8 456.9 520.7 458.7 517.6 469.8 521.7 467.8Z"/>
<path d="M576.2 401.4 571.8 402.1 568.6 412.5 573 411.5Z"/>
<path d="M513.5 471.8 509.4 473.7 506.3 484.3 510.4 482.2Z"/>
<path d="M564.2 413.5 559.8 414.5 556.6 425.4 561 424.1Z"/>
<path d="M502.3 486.5 498.3 488.6 495.2 498.5 499.2 496.2Z"/>
<path d="M617.3 373.2 612.7 373 609.6 380.8 614.2 380.7Z"/>
<path d="M552.3 426.7 548 428 544.8 439.1 549.1 437.5Z"/>
<path d="M491.3 500.8 487.4 503.1 484.3 512.1 488.2 509.7Z"/>
<path d="M605 380.9 600.5 380.9 597.3 389.7 601.8 389.3Z"/>
<path d="M540.6 440.7 536.3 442.2 533.2 453.3 537.4 451.5Z"/>
<path d="M592.8 390 588.3 390.4 585.1 399.9 589.6 399.2Z"/>
<path d="M529 455.1 524.8 456.9 521.7 467.8 525.9 465.7Z"/>
<path d="M580.6 400.7 576.2 401.4 573 411.5 577.4 410.5Z"/>
<path d="M517.6 469.8 513.5 471.8 510.4 482.2 514.5 480Z"/>
<path d="M568.6 412.5 564.2 413.5 561 424.1 565.4 422.8Z"/>
<path d="M506.3 484.3 502.3 486.5 499.2 496.2 503.2 493.9Z"/>
<path d="M621.9 373.5 617.3 373.2 614.2 380.7 618.8 380.7Z"/>
<path d="M556.6 425.4 552.3 426.7 549.1 437.5 553.4 436Z"/>
<path d="M495.2 498.5 491.3 500.8 488.2 509.7 492.1 507.2Z"/>
<path d="M609.6 380.8 605 380.9 601.8 389.3 606.4 388.9Z"/>
<path d="M544.8 439.1 540.6 440.7 537.4 451.5 541.7 449.7Z"/>
<path d="M597.3 389.7 592.8 390 589.6 399.2 594.1 398.5Z"/>
<path d="M533.2 453.3 529 455.1 525.9 465.7 530 463.7Z"/>
<path d="M585.1 399.9 580.6 400.7 577.4 410.5 581.9 409.5Z"/>
<path d="M521.7 467.8 517.6 469.8 514.5 480 518.6 477.8Z"/>
<path d="M573 411.5 568.6 412.5 565.4 422.8 569.8 421.5Z"/>
<path d="M510.4 482.2 506.3 484.3 503.2 493.9 507.3 491.5Z"/>
<path d="M626.5 373.8 621.9 373.5 618.8 380.7 623.4 380.6Z"/>
<path d="M561 424.1 556.6 425.4 553.4 436 557.8 434.4Z"/>
<path d="M499.2 496.2 495.2 498.5 492.1 507.2 496.1 504.8Z"/>
<path d="M614.2 380.7 609.6 380.8 606.4 388.9 611 388.5Z"/>
<path d="M549.1 437.5 544.8 439.1 541.7 449.7 545.9 447.9Z"/>
<path d="M488.2 509.7 484.3 512.1 481.1 519.7 485 517.2Z"/>
<path d="M601.8 389.3 597.3 389.7 594.1 398.5 598.7 397.8Z"/>
<path d="M537.4 451.5 533.2 453.3 530 463.7 534.3 461.7Z"/>
<path d="M589.6 399.2 585.1 399.9 581.9 409.5 586.4 408.4Z"/>
<path d="M525.9 465.7 521.7 467.8 518.6 477.8 522.7 475.5Z"/>
<path d="M577.4 410.5 573 411.5 569.8 421.5 574.2 420.1Z"/>
<path d="M514.5 480 510.4 482.2 507.3 491.5 511.3 489.2Z"/>
<path d="M631.1 374 626.5 373.8 623.4 380.6 628 380.6Z"/>
<path d="M565.4 422.8 561 424.1 557.8 434.4 562.2 432.8Z"/>
<path d="M503.2 493.9 499.2 496.2 496.1 504.8 500.1 502.3Z"/>
<path d="M618.8 380.7 614.2 380.7 611 388.5 615.6 388.1Z"/>
<path d="M553.4 436 549.1 437.5 545.9 447.9 550.3 446Z"/>
<path d="M492.1 507.2 488.2 509.7 485 517.2 488.9 514.7Z"/>
<path d="M606.4 388.9 601.8 389.3 598.7 397.8 603.2 397.1Z"/>
<path d="M541.7 449.7 537.4 451.5 534.3 461.7 538.5 459.6Z"/>
<path d="M594.1 398.5 589.6 399.2 586.4 408.4 590.9 407.4Z"/>
<path d="M530 463.7 525.9 465.7 522.7 475.5 526.9 473.3Z"/>
<path d="M581.9 409.5 577.4 410.5 574.2 420.1 578.7 418.8Z"/>
<path d="M518.6 477.8 514.5 480 511.3 489.2 515.4 486.8Z"/>
<path d="M635.8 374.3 631.1 374 628 380.6 632.7 380.5Z"/>
<path d="M569.8 421.5 565.4 422.8 562.2 432.8 566.6 431.1Z"/>
<path d="M507.3 491.5 503.2 493.9 500.1 502.3 504.1 499.9Z"/>
<path d="M623.4 380.6 618.8 380.7 615.6 388.1 620.3 387.7Z"/>
<path d="M557.8 434.4 553.4 436 550.3 446 554.6 444.1Z"/>
<path d="M496.1 504.8 492.1 507.2 488.9 514.7 492.9 512.2Z"/>
<path d="M611 388.5 606.4 388.9 603.2 397.1 607.8 396.4Z"/>
<path d="M545.9 447.9 541.7 449.7 538.5 459.6 542.8 457.5Z"/>
<path d="M485 517.2 481.1 519.7 477.9 526.1 481.8 523.5Z"/>
<path d="M598.7 397.8 594.1 398.5 590.9 407.4 595.5 406.3Z"/>
<path d="M534.3 461.7 530 463.7 526.9 473.3 531.1 471.1Z"/>
<path d="M586.4 408.4 581.9 409.5 578.7 418.8 583.2 417.4Z"/>
<path d="M522.7 475.5 518.6 477.8 515.4 486.8 519.5 484.4Z"/>
<path d="M640.5 374.6 635.8 374.3 632.7 380.5 637.4 380.5Z"/>
<path d="M574.2 420.1 569.8 421.5 566.6 431.1 571 429.5Z"/>
<path d="M511.3 489.2 507.3 491.5 504.1 499.9 508.2 497.4Z"/>
<path d="M628 380.6 623.4 380.6 620.3 387.7 624.9 387.3Z"/>
<path d="M562.2 432.8 557.8 434.4 554.6 444.1 559 442.3Z"/>
<path d="M500.1 502.3 496.1 504.8 492.9 512.2 496.9 509.6Z"/>
<path d="M615.6 388.1 611 388.5 607.8 396.4 612.5 395.6Z"/>
<path d="M550.3 446 545.9 447.9 542.8 457.5 547.1 455.4Z"/>
<path d="M488.9 514.7 485 517.2 481.8 523.5 485.7 520.9Z"/>
<path d="M603.2 397.1 598.7 397.8 595.5 406.3 600 405.3Z"/>
<path d="M538.5 459.6 534.3 461.7 531.1 471.1 535.3 468.8Z"/>
<path d="M590.9 407.4 586.4 408.4 583.2 417.4 587.7 416.1Z"/>
<path d="M526.9 473.3 522.7 475.5 519.5 484.4 523.7 482Z"/>
<path d="M645.2 374.9 640.5 374.6 637.4 380.5 642.1 380.4Z"/>
<path d="M578.7 418.8 574.2 420.1 571 429.5 575.5 427.9Z"/>
<path d="M515.4 486.8 511.3 489.2 508.2 497.4 512.2 494.8Z"/>
<path d="M632.7 380.5 628 380.6 624.9 387.3 629.6 386.9Z"/>
<path d="M566.6 431.1 562.2 432.8 559 442.3 563.4 440.4Z"/>
<path d="M504.1 499.9 500.1 502.3 496.9 509.6 500.9 507Z"/>
<path d="M620.3 387.7 615.6 388.1 612.5 395.6 617.1 394.9Z"/>
<path d="M554.6 444.1 550.3 446 547.1 455.4 551.4 453.3Z"/>
<path d="M492.9 512.2 488.9 514.7 485.7 520.9 489.7 518.3Z"/>
<path d="M607.8 396.4 603.2 397.1 600 405.3 604.6 404.2Z"/>
<path d="M542.8 457.5 538.5 459.6 535.3 468.8 539.6 466.5Z"/>
<path d="M481.8 523.5 477.9 526.1 474.6 531 478.5 528.4Z"/>
<path d="M595.5 406.3 590.9 407.4 587.7 416.1 592.3 414.7Z"/>
<path d="M531.1 471.1 526.9 473.3 523.7 482 527.9 479.6Z"/>
<path d="M649.9 375.2 645.2 374.9 642.1 380.4 646.9 380.4Z"/>
<path d="M583.2 417.4 578.7 418.8 575.5 427.9 580 426.2Z"/>
<path d="M519.5 484.4 515.4 486.8 512.2 494.8 516.4 492.3Z"/>
<path d="M637.4 380.5 632.7 380.5 629.6 386.9 634.3 386.5Z"/>
<path d="M571 429.5 566.6 431.1 563.4 440.4 567.8 438.5Z"/>
<path d="M508.2 497.4 504.1 499.9 500.9 507 504.9 504.4Z"/>
<path d="M624.9 387.3 620.3 387.7 617.1 394.9 621.8 394.1Z"/>
<path d="M559 442.3 554.6 444.1 551.4 453.3 555.8 451.2Z"/>
<path d="M496.9 509.6 492.9 512.2 489.7 518.3 493.6 515.6Z"/>
<path d="M612.5 395.6 607.8 396.4 604.6 404.2 609.3 403.1Z"/>
<path d="M547.1 455.4 542.8 457.5 539.6 466.5 543.9 464.2Z"/>
<path d="M485.7 520.9 481.8 523.5 478.5 528.4 482.4 525.7Z"/>
<path d="M600 405.3 595.5 406.3 592.3 414.7 596.8 413.3Z"/>
<path d="M535.3 468.8 531.1 471.1 527.9 479.6 532.1 477.1Z"/>
<path d="M654.7 375.4 649.9 375.2 646.9 380.4 651.7 380.3Z"/>
<path d="M587.7 416.1 583.2 417.4 580 426.2 584.5 424.6Z"/>
<path d="M523.7 482 519.5 484.4 516.4 492.3 520.5 489.7Z"/>
<path d="M642.1 380.4 637.4 380.5 634.3 386.5 639.1 386.1Z"/>
<path d="M575.5 427.9 571 429.5 567.8 438.5 572.3 436.6Z"/>
<path d="M512.2 494.8 508.2 497.4 504.9 504.4 509 501.8Z"/>
<path d="M629.6 386.9 624.9 387.3 621.8 394.1 626.5 393.4Z"/>
<path d="M563.4 440.4 559 442.3 555.8 451.2 560.2 449.1Z"/>
<path d="M500.9 507 496.9 509.6 493.6 515.6 497.7 512.9Z"/>
<path d="M617.1 394.9 612.5 395.6 609.3 403.1 613.9 402.1Z"/>
<path d="M551.4 453.3 547.1 455.4 543.9 464.2 548.2 461.9Z"/>
<path d="M489.7 518.3 485.7 520.9 482.4 525.7 486.4 523Z"/>
<path d="M604.6 404.2 600 405.3 596.8 413.3 601.5 412Z"/>
<path d="M539.6 466.5 535.3 468.8 532.1 477.1 536.4 474.7Z"/>
<path d="M478.5 528.4 474.6 531 471.3 534.5 475.1 531.9Z"/>
<path d="M659.4 375.7 654.7 375.4 651.7 380.3 656.5 380.3Z"/>
<path d="M592.3 414.7 587.7 416.1 584.5 424.6 589.1 422.9Z"/>
<path d="M527.9 479.6 523.7 482 520.5 489.7 524.7 487.2Z"/>
<path d="M646.9 380.4 642.1 380.4 639.1 386.1 643.8 385.7Z"/>
<path d="M580 426.2 575.5 427.9 572.3 436.6 576.8 434.6Z"/>
<path d="M516.4 492.3 512.2 494.8 509 501.8 513.1 499.1Z"/>
<path d="M634.3 386.5 629.6 386.9 626.5 393.4 631.2 392.7Z"/>
<path d="M567.8 438.5 563.4 440.4 560.2 449.1 564.6 446.9Z"/>
<path d="M504.9 504.4 500.9 507 497.7 512.9 501.7 510.3Z"/>
<path d="M621.8 394.1 617.1 394.9 613.9 402.1 618.6 401Z"/>
<path d="M555.8 451.2 551.4 453.3 548.2 461.9 552.6 459.5Z"/>
<path d="M493.6 515.6 489.7 518.3 486.4 523 490.3 520.4Z"/>
<path d="M609.3 403.1 604.6 404.2 601.5 412 606.1 410.6Z"/>
<path d="M543.9 464.2 539.6 466.5 536.4 474.7 540.7 472.2Z"/>
<path d="M482.4 525.7 478.5 528.4 475.1 531.9 479.1 529.2Z"/>
<path d="M664.2 376 659.4 375.7 656.5 380.3 661.3 380.2Z"/>
<path d="M596.8 413.3 592.3 414.7 589.1 422.9 593.6 421.2Z"/>
<path d="M532.1 477.1 527.9 479.6 524.7 487.2 528.9 484.6Z"/>
<path d="M651.7 380.3 646.9 380.4 643.8 385.7 648.6 385.3Z"/>
<path d="M584.5 424.6 580 426.2 576.8 434.6 581.3 432.7Z"/>
<path d="M520.5 489.7 516.4 492.3 513.1 499.1 517.3 496.4Z"/>
<path d="M639.1 386.1 634.3 386.5 631.2 392.7 636 391.9Z"/>
<path d="M572.3 436.6 567.8 438.5 564.6 446.9 569.1 444.8Z"/>
<path d="M509 501.8 504.9 504.4 501.7 510.3 505.8 507.6Z"/>
<path d="M626.5 393.4 621.8 394.1 618.6 401 623.4 399.9Z"/>
<path d="M560.2 449.1 555.8 451.2 552.6 459.5 556.9 457.2Z"/>
<path d="M497.7 512.9 493.6 515.6 490.3 520.4 494.4 517.6Z"/>
<path d="M613.9 402.1 609.3 403.1 606.1 410.6 610.8 409.2Z"/>
<path d="M548.2 461.9 543.9 464.2 540.7 472.2 545 469.7Z"/>
<path d="M486.4 523 482.4 525.7 479.1 529.2 483 526.5Z"/>
<path d="M669 376.3 664.2 376 661.3 380.2 666.1 380.1Z"/>
<path d="M601.5 412 596.8 413.3 593.6 421.2 598.3 419.5Z"/>
<path d="M536.4 474.7 532.1 477.1 528.9 484.6 533.2 482Z"/>
<path d="M475.1 531.9 471.3 534.5 467.8 536.5 471.7 533.9Z"/>
<path d="M656.5 380.3 651.7 380.3 648.6 385.3 653.5 384.9Z"/>
<path d="M589.1 422.9 584.5 424.6 581.3 432.7 585.8 430.7Z"/>
<path d="M524.7 487.2 520.5 489.7 517.3 496.4 521.5 493.8Z"/>
<path d="M643.8 385.7 639.1 386.1 636 391.9 640.8 391.1Z"/>
<path d="M576.8 434.6 572.3 436.6 569.1 444.8 573.5 442.6Z"/>
<path d="M513.1 499.1 509 501.8 505.8 507.6 509.9 504.8Z"/>
<path d="M631.2 392.7 626.5 393.4 623.4 399.9 628.1 398.8Z"/>
<path d="M564.6 446.9 560.2 449.1 556.9 457.2 561.4 454.8Z"/>
<path d="M501.7 510.3 497.7 512.9 494.4 517.6 498.4 514.9Z"/>
<path d="M618.6 401 613.9 402.1 610.8 409.2 615.5 407.7Z"/>
<path d="M552.6 459.5 548.2 461.9 545 469.7 549.3 467.2Z"/>
<path d="M490.3 520.4 486.4 523 483 526.5 487 523.8Z"/>
<path d="M673.9 376.6 669 376.3 666.1 380.1 671 380.1Z"/>
<path d="M606.1 410.6 601.5 412 598.3 419.5 602.9 417.8Z"/>
<path d="M540.7 472.2 536.4 474.7 533.2 482 537.4 479.3Z"/>
<path d="M479.1 529.2 475.1 531.9 471.7 533.9 475.6 531.3Z"/>
<path d="M661.3 380.2 656.5 380.3 653.5 384.9 658.3 384.5Z"/>
<path d="M593.6 421.2 589.1 422.9 585.8 430.7 590.4 428.8Z"/>
<path d="M528.9 484.6 524.7 487.2 521.5 493.8 525.7 491Z"/>
<path d="M648.6 385.3 643.8 385.7 640.8 391.1 645.6 390.4Z"/>
<path d="M581.3 432.7 576.8 434.6 573.5 442.6 578.1 440.4Z"/>
<path d="M517.3 496.4 513.1 499.1 509.9 504.8 514 502.1Z"/>
<path d="M636 391.9 631.2 392.7 628.1 398.8 632.9 397.7Z"/>
<path d="M569.1 444.8 564.6 446.9 561.4 454.8 565.8 452.4Z"/>
<path d="M505.8 507.6 501.7 510.3 498.4 514.9 502.5 512.2Z"/>
<path d="M623.4 399.9 618.6 401 615.5 407.7 620.2 406.3Z"/>
<path d="M556.9 457.2 552.6 459.5 549.3 467.2 553.7 464.6Z"/>
<path d="M494.4 517.6 490.3 520.4 487 523.8 491 521.1Z"/>
<path d="M678.7 376.9 673.9 376.6 671 380.1 675.9 380Z"/>
<path d="M610.8 409.2 606.1 410.6 602.9 417.8 607.6 416.1Z"/>
<path d="M545 469.7 540.7 472.2 537.4 479.3 541.8 476.7Z"/>
<path d="M483 526.5 479.1 529.2 475.6 531.3 479.6 528.6Z"/>
<path d="M666.1 380.1 661.3 380.2 658.3 384.5 663.2 384.1Z"/>
<path d="M598.3 419.5 593.6 421.2 590.4 428.8 595.1 426.8Z"/>
<path d="M533.2 482 528.9 484.6 525.7 491 529.9 488.3Z"/>
<path d="M471.7 533.9 467.8 536.5 464.3 537.2 468.2 534.6Z"/>
<path d="M653.5 384.9 648.6 385.3 645.6 390.4 650.4 389.6Z"/>
<path d="M585.8 430.7 581.3 432.7 578.1 440.4 582.6 438.2Z"/>
<path d="M521.5 493.8 517.3 496.4 514 502.1 518.2 499.3Z"/>
<path d="M640.8 391.1 636 391.9 632.9 397.7 637.7 396.6Z"/>
<path d="M573.5 442.6 569.1 444.8 565.8 452.4 570.3 450Z"/>
<path d="M509.9 504.8 505.8 507.6 502.5 512.2 506.6 509.4Z"/>
<path d="M628.1 398.8 623.4 399.9 620.2 406.3 625 404.9Z"/>
<path d="M561.4 454.8 556.9 457.2 553.7 464.6 558.1 462Z"/>
<path d="M498.4 514.9 494.4 517.6 491 521.1 495 518.3Z"/>
<path d="M683.6 377.1 678.7 376.9 675.9 380 680.8 380Z"/>
<path d="M615.5 407.7 610.8 409.2 607.6 416.1 612.3 414.3Z"/>
<path d="M549.3 467.2 545 469.7 541.8 476.7 546.1 474Z"/>
<path d="M487 523.8 483 526.5 479.6 528.6 483.6 525.9Z"/>
<path d="M671 380.1 666.1 380.1 663.2 384.1 668.1 383.7Z"/>
<path d="M602.9 417.8 598.3 419.5 595.1 426.8 599.7 424.8Z"/>
<path d="M537.4 479.3 533.2 482 529.9 488.3 534.2 485.5Z"/>
<path d="M475.6 531.3 471.7 533.9 468.2 534.6 472.1 532Z"/>
<path d="M658.3 384.5 653.5 384.9 650.4 389.6 655.3 388.8Z"/>
<path d="M590.4 428.8 585.8 430.7 582.6 438.2 587.2 435.9Z"/>
<path d="M525.7 491 521.5 493.8 518.2 499.3 522.4 496.5Z"/>
<path d="M645.6 390.4 640.8 391.1 637.7 396.6 642.5 395.5Z"/>
<path d="M578.1 440.4 573.5 442.6 570.3 450 574.9 447.6Z"/>
<path d="M514 502.1 509.9 504.8 506.6 509.4 510.7 506.6Z"/>
<path d="M632.9 397.7 628.1 398.8 625 404.9 629.8 403.4Z"/>
<path d="M565.8 452.4 561.4 454.8 558.1 462 562.6 459.5Z"/>
<path d="M502.5 512.2 498.4 514.9 495 518.3 499.1 515.6Z"/>
<path d="M620.2 406.3 615.5 407.7 612.3 414.3 617.1 412.6Z"/>
<path d="M553.7 464.6 549.3 467.2 546.1 474 550.5 471.3Z"/>
<path d="M491 521.1 487 523.8 483.6 525.9 487.6 523.2Z"/>
<path d="M675.9 380 671 380.1 668.1 383.7 673 383.2Z"/>
<path d="M607.6 416.1 602.9 417.8 599.7 424.8 604.4 422.8Z"/>
<path d="M541.8 476.7 537.4 479.3 534.2 485.5 538.5 482.8Z"/>
<path d="M479.6 528.6 475.6 531.3 472.1 532 476 529.4Z"/>
<path d="M663.2 384.1 658.3 384.5 655.3 388.8 660.2 388.1Z"/>
<path d="M595.1 426.8 590.4 428.8 587.2 435.9 591.9 433.7Z"/>
<path d="M529.9 488.3 525.7 491 522.4 496.5 526.7 493.7Z"/>
<path d="M468.2 534.6 464.3 537.2 460.6 536.4 464.5 533.9Z"/>
<path d="M650.4 389.6 645.6 390.4 642.5 395.5 647.4 394.3Z"/>
<path d="M582.6 438.2 578.1 440.4 574.9 447.6 579.4 445.2Z"/>
<path d="M518.2 499.3 514 502.1 510.7 506.6 514.9 503.8Z"/>
<path d="M637.7 396.6 632.9 397.7 629.8 403.4 634.6 402Z"/>
<path d="M570.3 450 565.8 452.4 562.6 459.5 567.1 456.9Z"/>
<path d="M506.6 509.4 502.5 512.2 499.1 515.6 503.2 512.8Z"/>
<path d="M625 404.9 620.2 406.3 617.1 412.6 621.8 410.9Z"/>
<path d="M558.1 462 553.7 464.6 550.5 471.3 554.9 468.6Z"/>
<path d="M495 518.3 491 521.1 487.6 523.2 491.6 520.5Z"/>
<path d="M680.8 380 675.9 380 673 383.2 678 382.8Z"/>
<path d="M612.3 414.3 607.6 416.1 604.4 422.8 609.1 420.7Z"/>
<path d="M546.1 474 541.8 476.7 538.5 482.8 542.9 480Z"/>
<path d="M483.6 525.9 479.6 528.6 476 529.4 480 526.8Z"/>
<path d="M668.1 383.7 663.2 384.1 660.2 388.1 665.2 387.3Z"/>
<path d="M599.7 424.8 595.1 426.8 591.9 433.7 596.5 431.4Z"/>
<path d="M534.2 485.5 529.9 488.3 526.7 493.7 530.9 490.8Z"/>
<path d="M472.1 532 468.2 534.6 464.5 533.9 468.5 531.4Z"/>
<path d="M655.3 388.8 650.4 389.6 647.4 394.3 652.3 393.2Z"/>
<path d="M587.2 435.9 582.6 438.2 579.4 445.2 584 442.7Z"/>
<path d="M522.4 496.5 518.2 499.3 514.9 503.8 519.1 500.9Z"/>
<path d="M642.5 395.5 637.7 396.6 634.6 402 639.5 400.5Z"/>
<path d="M574.9 447.6 570.3 450 567.1 456.9 571.6 454.2Z"/>
<path d="M510.7 506.6 506.6 509.4 503.2 512.8 507.4 510Z"/>
<path d="M629.8 403.4 625 404.9 621.8 410.9 626.6 409.1Z"/>
<path d="M562.6 459.5 558.1 462 554.9 468.6 559.4 465.8Z"/>
<path d="M499.1 515.6 495 518.3 491.6 520.5 495.7 517.8Z"/>
<path d="M617.1 412.6 612.3 414.3 609.1 420.7 613.9 418.7Z"/>
<path d="M550.5 471.3 546.1 474 542.9 480 547.2 477.1Z"/>
<path d="M487.6 523.2 483.6 525.9 480 526.8 484.1 524.1Z"/>
<path d="M673 383.2 668.1 383.7 665.2 387.3 670.1 386.5Z"/>
<path d="M604.4 422.8 599.7 424.8 596.5 431.4 601.2 429.2Z"/>
<path d="M538.5 482.8 534.2 485.5 530.9 490.8 535.2 488Z"/>
<path d="M476 529.4 472.1 532 468.5 531.4 472.4 528.8Z"/>
<path d="M660.2 388.1 655.3 388.8 652.3 393.2 657.2 392.1Z"/>
<path d="M591.9 433.7 587.2 435.9 584 442.7 588.6 440.2Z"/>
<path d="M526.7 493.7 522.4 496.5 519.1 500.9 523.4 498Z"/>
<path d="M464.5 533.9 460.6 536.4 456.8 534.2 460.8 531.8Z"/>
<path d="M647.4 394.3 642.5 395.5 639.5 400.5 644.4 399.1Z"/>
<path d="M579.4 445.2 574.9 447.6 571.6 454.2 576.2 451.6Z"/>
<path d="M514.9 503.8 510.7 506.6 507.4 510 511.6 507.1Z"/>
<path d="M634.6 402 629.8 403.4 626.6 409.1 631.5 407.3Z"/>
<path d="M567.1 456.9 562.6 459.5 559.4 465.8 563.9 463Z"/>
<path d="M503.2 512.8 499.1 515.6 495.7 517.8 499.8 515Z"/>
<path d="M621.8 410.9 617.1 412.6 613.9 418.7 618.7 416.6Z"/>
<path d="M554.9 468.6 550.5 471.3 547.2 477.1 551.7 474.3Z"/>
<path d="M491.6 520.5 487.6 523.2 484.1 524.1 488.1 521.4Z"/>
<path d="M678 382.8 673 383.2 670.1 386.5 675.1 385.7Z"/>
<path d="M609.1 420.7 604.4 422.8 601.2 429.2 605.9 426.9Z"/>
<path d="M542.9 480 538.5 482.8 535.2 488 539.6 485.1Z"/>
<path d="M480 526.8 476 529.4 472.4 528.8 476.4 526.3Z"/>
<path d="M665.2 387.3 660.2 388.1 657.2 392.1 662.2 390.9Z"/>
<path d="M596.5 431.4 591.9 433.7 588.6 440.2 593.3 437.7Z"/>
<path d="M530.9 490.8 526.7 493.7 523.4 498 527.6 495.2Z"/>
<path d="M468.5 531.4 464.5 533.9 460.8 531.8 464.7 529.4Z"/>
<path d="M652.3 393.2 647.4 394.3 644.4 399.1 649.3 397.6Z"/>
<path d="M584 442.7 579.4 445.2 576.2 451.6 580.8 448.9Z"/>
<path d="M519.1 500.9 514.9 503.8 511.6 507.1 515.8 504.3Z"/>
<path d="M639.5 400.5 634.6 402 631.5 407.3 636.4 405.5Z"/>
<path d="M571.6 454.2 567.1 456.9 563.9 463 568.4 460.3Z"/>
<path d="M507.4 510 503.2 512.8 499.8 515 504 512.2Z"/>
<path d="M626.6 409.1 621.8 410.9 618.7 416.6 623.5 414.6Z"/>
<path d="M559.4 465.8 554.9 468.6 551.7 474.3 556.1 471.4Z"/>
<path d="M495.7 517.8 491.6 520.5 488.1 521.4 492.2 518.7Z"/>
<path d="M613.9 418.7 609.1 420.7 605.9 426.9 610.7 424.5Z"/>
<path d="M547.2 477.1 542.9 480 539.6 485.1 544 482.2Z"/>
<path d="M484.1 524.1 480 526.8 476.4 526.3 480.5 523.7Z"/>
<path d="M670.1 386.5 665.2 387.3 662.2 390.9 667.2 389.8Z"/>
<path d="M601.2 429.2 596.5 431.4 593.3 437.7 598 435.2Z"/>
<path d="M535.2 488 530.9 490.8 527.6 495.2 531.9 492.2Z"/>
<path d="M472.4 528.8 468.5 531.4 464.7 529.4 468.7 527Z"/>
<path d="M657.2 392.1 652.3 393.2 649.3 397.6 654.2 396.1Z"/>
<path d="M588.6 440.2 584 442.7 580.8 448.9 585.4 446.2Z"/>
<path d="M523.4 498 519.1 500.9 515.8 504.3 520 501.4Z"/>
<path d="M460.8 531.8 456.8 534.2 452.9 530.6 456.9 528.4Z"/>
<path d="M644.4 399.1 639.5 400.5 636.4 405.5 641.3 403.7Z"/>
<path d="M576.2 451.6 571.6 454.2 568.4 460.3 573 457.4Z"/>
<path d="M511.6 507.1 507.4 510 504 512.2 508.2 509.4Z"/>
<path d="M631.5 407.3 626.6 409.1 623.5 414.6 628.4 412.5Z"/>
<path d="M563.9 463 559.4 465.8 556.1 471.4 560.6 468.5Z"/>
<path d="M499.8 515 495.7 517.8 492.2 518.7 496.3 516Z"/>
<path d="M618.7 416.6 613.9 418.7 610.7 424.5 615.5 422.2Z"/>
<path d="M551.7 474.3 547.2 477.1 544 482.2 548.4 479.2Z"/>
<path d="M488.1 521.4 484.1 524.1 480.5 523.7 484.6 521.1Z"/>
<path d="M675.1 385.7 670.1 386.5 667.2 389.8 672.2 388.6Z"/>
<path d="M605.9 426.9 601.2 429.2 598 435.2 602.8 432.6Z"/>
<path d="M539.6 485.1 535.2 488 531.9 492.2 536.3 489.3Z"/>
<path d="M476.4 526.3 472.4 528.8 468.7 527 472.7 524.5Z"/>
<path d="M662.2 390.9 657.2 392.1 654.2 396.1 659.2 394.6Z"/>
<path d="M593.3 437.7 588.6 440.2 585.4 446.2 590.1 443.5Z"/>
<path d="M527.6 495.2 523.4 498 520 501.4 524.3 498.5Z"/>
<path d="M464.7 529.4 460.8 531.8 456.9 528.4 460.9 526.1Z"/>
<path d="M649.3 397.6 644.4 399.1 641.3 403.7 646.2 401.9Z"/>
<path d="M580.8 448.9 576.2 451.6 573 457.4 577.6 454.6Z"/>
<path d="M515.8 504.3 511.6 507.1 508.2 509.4 512.4 506.5Z"/>
<path d="M636.4 405.5 631.5 407.3 628.4 412.5 633.3 410.4Z"/>
<path d="M568.4 460.3 563.9 463 560.6 468.5 565.1 465.6Z"/>
<path d="M504 512.2 499.8 515 496.3 516 500.5 513.3Z"/>
<path d="M623.5 414.6 618.7 416.6 615.5 422.2 620.4 419.9Z"/>
<path d="M556.1 471.4 551.7 474.3 548.4 479.2 552.9 476.3Z"/>
<path d="M492.2 518.7 488.1 521.4 484.6 521.1 488.7 518.5Z"/>
<path d="M610.7 424.5 605.9 426.9 602.8 432.6 607.5 430.1Z"/>
<path d="M544 482.2 539.6 485.1 536.3 489.3 540.7 486.3Z"/>
<path d="M480.5 523.7 476.4 526.3 472.7 524.5 476.8 522.1Z"/>
<path d="M667.2 389.8 662.2 390.9 659.2 394.6 664.3 393.1Z"/>
<path d="M598 435.2 593.3 437.7 590.1 443.5 594.8 440.8Z"/>
<path d="M531.9 492.2 527.6 495.2 524.3 498.5 528.6 495.5Z"/>
<path d="M468.7 527 464.7 529.4 460.9 526.1 464.9 523.8Z"/>
<path d="M654.2 396.1 649.3 397.6 646.2 401.9 651.2 400.1Z"/>
<path d="M585.4 446.2 580.8 448.9 577.6 454.6 582.2 451.8Z"/>
<path d="M520 501.4 515.8 504.3 512.4 506.5 516.6 503.7Z"/>
<path d="M456.9 528.4 452.9 530.6 448.9 525.8 452.9 523.7Z"/>
<path d="M641.3 403.7 636.4 405.5 633.3 410.4 638.2 408.3Z"/>
<path d="M573 457.4 568.4 460.3 565.1 465.6 569.7 462.7Z"/>
<path d="M508.2 509.4 504 512.2 500.5 513.3 504.7 510.5Z"/>
<path d="M628.4 412.5 623.5 414.6 620.4 419.9 625.2 417.5Z"/>
<path d="M560.6 468.5 556.1 471.4 552.9 476.3 557.3 473.3Z"/>
<path d="M496.3 516 492.2 518.7 488.7 518.5 492.8 515.9Z"/>
<path d="M615.5 422.2 610.7 424.5 607.5 430.1 612.3 427.5Z"/>
<path d="M548.4 479.2 544 482.2 540.7 486.3 545.1 483.3Z"/>
<path d="M484.6 521.1 480.5 523.7 476.8 522.1 480.9 519.6Z"/>
<path d="M672.2 388.6 667.2 389.8 664.3 393.1 669.3 391.6Z"/>
<path d="M602.8 432.6 598 435.2 594.8 440.8 599.6 438Z"/>
<path d="M536.3 489.3 531.9 492.2 528.6 495.5 533 492.6Z"/>
<path d="M472.7 524.5 468.7 527 464.9 523.8 468.9 521.5Z"/>
<path d="M659.2 394.6 654.2 396.1 651.2 400.1 656.3 398.2Z"/>
<path d="M590.1 443.5 585.4 446.2 582.2 451.8 586.9 448.9Z"/>
<path d="M524.3 498.5 520 501.4 516.6 503.7 520.9 500.8Z"/>
<path d="M460.9 526.1 456.9 528.4 452.9 523.7 456.9 521.6Z"/>
<path d="M646.2 401.9 641.3 403.7 638.2 408.3 643.2 406.1Z"/>
<path d="M577.6 454.6 573 457.4 569.7 462.7 574.3 459.7Z"/>
<path d="M512.4 506.5 508.2 509.4 504.7 510.5 508.9 507.7Z"/>
<path d="M633.3 410.4 628.4 412.5 625.2 417.5 630.2 415.1Z"/>
<path d="M565.1 465.6 560.6 468.5 557.3 473.3 561.9 470.3Z"/>
<path d="M500.5 513.3 496.3 516 492.8 515.9 497 513.2Z"/>
<path d="M620.4 419.9 615.5 422.2 612.3 427.5 617.2 424.9Z"/>
<path d="M552.9 476.3 548.4 479.2 545.1 483.3 549.6 480.3Z"/>
<path d="M488.7 518.5 484.6 521.1 480.9 519.6 485 517.1Z"/>
<path d="M607.5 430.1 602.8 432.6 599.6 438 604.3 435.3Z"/>
<path d="M540.7 486.3 536.3 489.3 533 492.6 537.4 489.6Z"/>
<path d="M476.8 522.1 472.7 524.5 468.9 521.5 473 519.2Z"/>
<path d="M664.3 393.1 659.2 394.6 656.3 398.2 661.3 396.4Z"/>
<path d="M594.8 440.8 590.1 443.5 586.9 448.9 591.6 446Z"/>
<path d="M528.6 495.5 524.3 498.5 520.9 500.8 525.2 497.9Z"/>
<path d="M464.9 523.8 460.9 526.1 456.9 521.6 461 519.5Z"/>
<path d="M651.2 400.1 646.2 401.9 643.2 406.1 648.2 404Z"/>
<path d="M582.2 451.8 577.6 454.6 574.3 459.7 579 456.7Z"/>
<path d="M516.6 503.7 512.4 506.5 508.9 507.7 513.2 504.9Z"/>
<path d="M452.9 523.7 448.9 525.8 444.8 519.7 448.8 517.8Z"/>
<path d="M638.2 408.3 633.3 410.4 630.2 415.1 635.1 412.7Z"/>
<path d="M569.7 462.7 565.1 465.6 561.9 470.3 566.4 467.2Z"/>
<path d="M504.7 510.5 500.5 513.3 497 513.2 501.2 510.5Z"/>
<path d="M625.2 417.5 620.4 419.9 617.2 424.9 622.1 422.3Z"/>
<path d="M557.3 473.3 552.9 476.3 549.6 480.3 554.1 477.3Z"/>
<path d="M492.8 515.9 488.7 518.5 485 517.1 489.2 514.6Z"/>
<path d="M612.3 427.5 607.5 430.1 604.3 435.3 609.2 432.5Z"/>
<path d="M545.1 483.3 540.7 486.3 537.4 489.6 541.8 486.6Z"/>
<path d="M480.9 519.6 476.8 522.1 473 519.2 477.1 516.9Z"/>
<path d="M669.3 391.6 664.3 393.1 661.3 396.4 666.4 394.5Z"/>
<path d="M599.6 438 594.8 440.8 591.6 446 596.3 443Z"/>
<path d="M533 492.6 528.6 495.5 525.2 497.9 529.6 494.9Z"/>
<path d="M468.9 521.5 464.9 523.8 461 519.5 465 517.4Z"/>
<path d="M656.3 398.2 651.2 400.1 648.2 404 653.2 401.8Z"/>
<path d="M586.9 448.9 582.2 451.8 579 456.7 583.6 453.7Z"/>
<path d="M520.9 500.8 516.6 503.7 513.2 504.9 517.5 502.1Z"/>
<path d="M456.9 521.6 452.9 523.7 448.8 517.8 452.8 515.9Z"/>
<path d="M643.2 406.1 638.2 408.3 635.1 412.7 640.1 410.3Z"/>
<path d="M574.3 459.7 569.7 462.7 566.4 467.2 571.1 464.2Z"/>
<path d="M508.9 507.7 504.7 510.5 501.2 510.5 505.4 507.8Z"/>
<path d="M630.2 415.1 625.2 417.5 622.1 422.3 627 419.6Z"/>
<path d="M561.9 470.3 557.3 473.3 554.1 477.3 558.6 474.2Z"/>
<path d="M497 513.2 492.8 515.9 489.2 514.6 493.4 512Z"/>
<path d="M617.2 424.9 612.3 427.5 609.2 432.5 614 429.7Z"/>
<path d="M549.6 480.3 545.1 483.3 541.8 486.6 546.2 483.6Z"/>
<path d="M485 517.1 480.9 519.6 477.1 516.9 481.3 514.6Z"/>
<path d="M604.3 435.3 599.6 438 596.3 443 601.1 440.1Z"/>
<path d="M537.4 489.6 533 492.6 529.6 494.9 534 492Z"/>
<path d="M473 519.2 468.9 521.5 465 517.4 469.1 515.3Z"/>
<path d="M661.3 396.4 656.3 398.2 653.2 401.8 658.3 399.6Z"/>
<path d="M591.6 446 586.9 448.9 583.6 453.7 588.4 450.7Z"/>
<path d="M525.2 497.9 520.9 500.8 517.5 502.1 521.8 499.2Z"/>
<path d="M461 519.5 456.9 521.6 452.8 515.9 456.9 514Z"/>
<path d="M648.2 404 643.2 406.1 640.1 410.3 645.1 407.8Z"/>
<path d="M579 456.7 574.3 459.7 571.1 464.2 575.7 461.1Z"/>
<path d="M513.2 504.9 508.9 507.7 505.4 507.8 509.7 505.1Z"/>
<path d="M448.8 517.8 444.8 519.7 440.5 512.5 444.5 510.9Z"/>
<path d="M635.1 412.7 630.2 415.1 627 419.6 632 417Z"/>
<path d="M566.4 467.2 561.9 470.3 558.6 474.2 563.2 471.1Z"/>
<path d="M501.2 510.5 497 513.2 493.4 512 497.6 509.5Z"/>
<path d="M622.1 422.3 617.2 424.9 614 429.7 618.9 426.8Z"/>
<path d="M554.1 477.3 549.6 480.3 546.2 483.6 550.7 480.5Z"/>
<path d="M489.2 514.6 485 517.1 481.3 514.6 485.5 512.2Z"/>
<path d="M609.2 432.5 604.3 435.3 601.1 440.1 606 437.1Z"/>
<path d="M541.8 486.6 537.4 489.6 534 492 538.4 489Z"/>
<path d="M477.1 516.9 473 519.2 469.1 515.3 473.3 513.1Z"/>
<path d="M666.4 394.5 661.3 396.4 658.3 399.6 663.4 397.4Z"/>
<path d="M596.3 443 591.6 446 588.4 450.7 593.1 447.6Z"/>
<path d="M529.6 494.9 525.2 497.9 521.8 499.2 526.2 496.3Z"/>
<path d="M465 517.4 461 519.5 456.9 514 461 512.1Z"/>
<path d="M653.2 401.8 648.2 404 645.1 407.8 650.2 405.4Z"/>
<path d="M583.6 453.7 579 456.7 575.7 461.1 580.4 458Z"/>
<path d="M517.5 502.1 513.2 504.9 509.7 505.1 514 502.4Z"/>
<path d="M452.8 515.9 448.8 517.8 444.5 510.9 448.6 509.2Z"/>
<path d="M640.1 410.3 635.1 412.7 632 417 637 414.3Z"/>
<path d="M571.1 464.2 566.4 467.2 563.2 471.1 567.8 468Z"/>
<path d="M505.4 507.8 501.2 510.5 497.6 509.5 501.8 506.9Z"/>
<path d="M627 419.6 622.1 422.3 618.9 426.8 623.9 423.9Z"/>
<path d="M558.6 474.2 554.1 477.3 550.7 480.5 555.3 477.4Z"/>
<path d="M493.4 512 489.2 514.6 485.5 512.2 489.7 509.8Z"/>
<path d="M614 429.7 609.2 432.5 606 437.1 610.8 434.1Z"/>
<path d="M546.2 483.6 541.8 486.6 538.4 489 542.9 486Z"/>
<path d="M481.3 514.6 477.1 516.9 473.3 513.1 477.5 510.9Z"/>
<path d="M601.1 440.1 596.3 443 593.1 447.6 597.9 444.5Z"/>
<path d="M534 492 529.6 494.9 526.2 496.3 530.6 493.4Z"/>
<path d="M469.1 515.3 465 517.4 461 512.1 465.2 510.2Z"/>
<path d="M658.3 399.6 653.2 401.8 650.2 405.4 655.3 402.9Z"/>
<path d="M588.4 450.7 583.6 453.7 580.4 458 585.1 454.8Z"/>
<path d="M521.8 499.2 517.5 502.1 514 502.4 518.3 499.6Z"/>
<path d="M456.9 514 452.8 515.9 448.6 509.2 452.7 507.6Z"/>
<path d="M645.1 407.8 640.1 410.3 637 414.3 642.1 411.6Z"/>
<path d="M575.7 461.1 571.1 464.2 567.8 468 572.4 464.9Z"/>
<path d="M509.7 505.1 505.4 507.8 501.8 506.9 506.1 504.3Z"/>
<path d="M444.5 510.9 440.5 512.5 436.1 504.4 440.2 503Z"/>
<path d="M632 417 627 419.6 623.9 423.9 628.9 421.1Z"/>
<path d="M563.2 471.1 558.6 474.2 555.3 477.4 559.9 474.3Z"/>
<path d="M497.6 509.5 493.4 512 489.7 509.8 493.9 507.4Z"/>
<path d="M618.9 426.8 614 429.7 610.8 434.1 615.8 431.1Z"/>
<path d="M550.7 480.5 546.2 483.6 542.9 486 547.4 482.9Z"/>
<path d="M485.5 512.2 481.3 514.6 477.5 510.9 481.7 508.8Z"/>
<path d="M606 437.1 601.1 440.1 597.9 444.5 602.8 441.4Z"/>
<path d="M538.4 489 534 492 530.6 493.4 535 490.5Z"/>
<path d="M473.3 513.1 469.1 515.3 465.2 510.2 469.3 508.3Z"/>
<path d="M663.4 397.4 658.3 399.6 655.3 402.9 660.5 400.4Z"/>
<path d="M593.1 447.6 588.4 450.7 585.1 454.8 589.9 451.7Z"/>
<path d="M526.2 496.3 521.8 499.2 518.3 499.6 522.7 496.8Z"/>
<path d="M461 512.1 456.9 514 452.7 507.6 456.9 505.9Z"/>
<path d="M650.2 405.4 645.1 407.8 642.1 411.6 647.1 408.8Z"/>
<path d="M580.4 458 575.7 461.1 572.4 464.9 577.1 461.7Z"/>
<path d="M514 502.4 509.7 505.1 506.1 504.3 510.5 501.7Z"/>
<path d="M448.6 509.2 444.5 510.9 440.2 503 444.3 501.6Z"/>
<path d="M637 414.3 632 417 628.9 421.1 633.9 418.1Z"/>
<path d="M567.8 468 563.2 471.1 559.9 474.3 564.5 471.2Z"/>
<path d="M501.8 506.9 497.6 509.5 493.9 507.4 498.2 505Z"/>
<path d="M623.9 423.9 618.9 426.8 615.8 431.1 620.7 428Z"/>
<path d="M555.3 477.4 550.7 480.5 547.4 482.9 552 479.9Z"/>
<path d="M489.7 509.8 485.5 512.2 481.7 508.8 485.9 506.6Z"/>
<path d="M610.8 434.1 606 437.1 602.8 441.4 607.6 438.2Z"/>
<path d="M542.9 486 538.4 489 535 490.5 539.5 487.5Z"/>
<path d="M477.5 510.9 473.3 513.1 469.3 508.3 473.5 506.3Z"/>
<path d="M597.9 444.5 593.1 447.6 589.9 451.7 594.7 448.5Z"/>
<path d="M530.6 493.4 526.2 496.3 522.7 496.8 527.1 494Z"/>
<path d="M465.2 510.2 461 512.1 456.9 505.9 461.1 504.2Z"/>
<path d="M655.3 402.9 650.2 405.4 647.1 408.8 652.3 406.1Z"/>
<path d="M585.1 454.8 580.4 458 577.1 461.7 581.9 458.5Z"/>
<path d="M518.3 499.6 514 502.4 510.5 501.7 514.8 499.1Z"/>
<path d="M452.7 507.6 448.6 509.2 444.3 501.6 448.5 500.2Z"/>
<path d="M642.1 411.6 637 414.3 633.9 418.1 639 415.2Z"/>
<path d="M572.4 464.9 567.8 468 564.5 471.2 569.1 468Z"/>
<path d="M506.1 504.3 501.8 506.9 498.2 505 502.5 502.5Z"/>
<path d="M440.2 503 436.1 504.4 431.5 495.4 435.7 494.3Z"/>
<path d="M628.9 421.1 623.9 423.9 620.7 428 625.7 425Z"/>
<path d="M559.9 474.3 555.3 477.4 552 479.9 556.5 476.8Z"/>
<path d="M493.9 507.4 489.7 509.8 485.9 506.6 490.2 504.3Z"/>
<path d="M615.8 431.1 610.8 434.1 607.6 438.2 612.6 435.1Z"/>
<path d="M547.4 482.9 542.9 486 539.5 487.5 544 484.6Z"/>
<path d="M481.7 508.8 477.5 510.9 473.5 506.3 477.8 504.3Z"/>
<path d="M602.8 441.4 597.9 444.5 594.7 448.5 599.5 445.3Z"/>
<path d="M535 490.5 530.6 493.4 527.1 494 531.6 491.2Z"/>
<path d="M469.3 508.3 465.2 510.2 461.1 504.2 465.3 502.5Z"/>
<path d="M660.5 400.4 655.3 402.9 652.3 406.1 657.5 403.3Z"/>
<path d="M589.9 451.7 585.1 454.8 581.9 458.5 586.6 455.3Z"/>
<path d="M522.7 496.8 518.3 499.6 514.8 499.1 519.2 496.4Z"/>
<path d="M456.9 505.9 452.7 507.6 448.5 500.2 452.6 498.8Z"/>
<path d="M647.1 408.8 642.1 411.6 639 415.2 644.1 412.2Z"/>
<path d="M577.1 461.7 572.4 464.9 569.1 468 573.8 464.8Z"/>
<path d="M510.5 501.7 506.1 504.3 502.5 502.5 506.8 500.1Z"/>
<path d="M444.3 501.6 440.2 503 435.7 494.3 439.8 493.2Z"/>
<path d="M633.9 418.1 628.9 421.1 625.7 425 630.8 421.8Z"/>
<path d="M564.5 471.2 559.9 474.3 556.5 476.8 561.2 473.7Z"/>
<path d="M498.2 505 493.9 507.4 490.2 504.3 494.5 502.1Z"/>
<path d="M620.7 428 615.8 431.1 612.6 435.1 617.5 431.9Z"/>
<path d="M552 479.9 547.4 482.9 544 484.6 548.6 481.6Z"/>
<path d="M485.9 506.6 481.7 508.8 477.8 504.3 482 502.4Z"/>
<path d="M607.6 438.2 602.8 441.4 599.5 445.3 604.4 442Z"/>
<path d="M539.5 487.5 535 490.5 531.6 491.2 536.1 488.3Z"/>
<path d="M473.5 506.3 469.3 508.3 465.3 502.5 469.5 500.8Z"/>
<path d="M594.7 448.5 589.9 451.7 586.6 455.3 591.5 452Z"/>
<path d="M527.1 494 522.7 496.8 519.2 496.4 523.6 493.7Z"/>
<path d="M461.1 504.2 456.9 505.9 452.6 498.8 456.9 497.3Z"/>
<path d="M652.3 406.1 647.1 408.8 644.1 412.2 649.2 409.3Z"/>
<path d="M581.9 458.5 577.1 461.7 573.8 464.8 578.6 461.6Z"/>
<path d="M514.8 499.1 510.5 501.7 506.8 500.1 511.2 497.6Z"/>
<path d="M448.5 500.2 444.3 501.6 439.8 493.2 444.1 492Z"/>
<path d="M639 415.2 633.9 418.1 630.8 421.8 635.8 418.7Z"/>
<path d="M569.1 468 564.5 471.2 561.2 473.7 565.8 470.5Z"/>
<path d="M502.5 502.5 498.2 505 494.5 502.1 498.8 499.9Z"/>
<path d="M435.7 494.3 431.5 495.4 426.9 485.8 431.1 485Z"/>
<path d="M625.7 425 620.7 428 617.5 431.9 622.6 428.6Z"/>
<path d="M556.5 476.8 552 479.9 548.6 481.6 553.2 478.5Z"/>
<path d="M490.2 504.3 485.9 506.6 482 502.4 486.3 500.4Z"/>
<path d="M612.6 435.1 607.6 438.2 604.4 442 609.4 438.7Z"/>
<path d="M544 484.6 539.5 487.5 536.1 488.3 540.6 485.4Z"/>
<path d="M477.8 504.3 473.5 506.3 469.5 500.8 473.8 499Z"/>
<path d="M599.5 445.3 594.7 448.5 591.5 452 596.3 448.7Z"/>
<path d="M531.6 491.2 527.1 494 523.6 493.7 528.1 491Z"/>
<path d="M465.3 502.5 461.1 504.2 456.9 497.3 461.1 495.9Z"/>
<path d="M657.5 403.3 652.3 406.1 649.2 409.3 654.4 406.2Z"/>
<path d="M586.6 455.3 581.9 458.5 578.6 461.6 583.4 458.3Z"/>
<path d="M519.2 496.4 514.8 499.1 511.2 497.6 515.6 495.1Z"/>
<path d="M452.6 498.8 448.5 500.2 444.1 492 448.3 490.9Z"/>
<path d="M644.1 412.2 639 415.2 635.8 418.7 641 415.6Z"/>
<path d="M573.8 464.8 569.1 468 565.8 470.5 570.5 467.3Z"/>
<path d="M506.8 500.1 502.5 502.5 498.8 499.9 503.2 497.6Z"/>
<path d="M439.8 493.2 435.7 494.3 431.1 485 435.3 484.1Z"/>
<path d="M630.8 421.8 625.7 425 622.6 428.6 627.6 425.4Z"/>
<path d="M561.2 473.7 556.5 476.8 553.2 478.5 557.8 475.5Z"/>
<path d="M494.5 502.1 490.2 504.3 486.3 500.4 490.6 498.3Z"/>
<path d="M617.5 431.9 612.6 435.1 609.4 438.7 614.4 435.4Z"/>
<path d="M548.6 481.6 544 484.6 540.6 485.4 545.2 482.5Z"/>
<path d="M482 502.4 477.8 504.3 473.8 499 478.1 497.3Z"/>
<path d="M604.4 442 599.5 445.3 596.3 448.7 601.2 445.4Z"/>
<path d="M536.1 488.3 531.6 491.2 528.1 491 532.6 488.3Z"/>
<path d="M469.5 500.8 465.3 502.5 461.1 495.9 465.4 494.4Z"/>
<path d="M591.5 452 586.6 455.3 583.4 458.3 588.2 455.1Z"/>
<path d="M523.6 493.7 519.2 496.4 515.6 495.1 520.1 492.6Z"/>
<path d="M456.9 497.3 452.6 498.8 448.3 490.9 452.5 489.7Z"/>
<path d="M649.2 409.3 644.1 412.2 641 415.6 646.1 412.4Z"/>
<path d="M578.6 461.6 573.8 464.8 570.5 467.3 575.3 464.1Z"/>
<path d="M511.2 497.6 506.8 500.1 503.2 497.6 507.6 495.3Z"/>
<path d="M444.1 492 439.8 493.2 435.3 484.1 439.5 483.3Z"/>
<path d="M635.8 418.7 630.8 421.8 627.6 425.4 632.7 422.1Z"/>
<path d="M565.8 470.5 561.2 473.7 557.8 475.5 562.5 472.4Z"/>
<path d="M498.8 499.9 494.5 502.1 490.6 498.3 495 496.3Z"/>
<path d="M431.1 485 426.9 485.8 422.1 475.8 426.3 475.3Z"/>
<path d="M622.6 428.6 617.5 431.9 614.4 435.4 619.4 432.1Z"/>
<path d="M553.2 478.5 548.6 481.6 545.2 482.5 549.8 479.6Z"/>
<path d="M486.3 500.4 482 502.4 478.1 497.3 482.4 495.5Z"/>
<path d="M609.4 438.7 604.4 442 601.2 445.4 606.2 442.1Z"/>
<path d="M540.6 485.4 536.1 488.3 532.6 488.3 537.2 485.5Z"/>
<path d="M473.8 499 469.5 500.8 465.4 494.4 469.7 492.9Z"/>
<path d="M596.3 448.7 591.5 452 588.2 455.1 593.1 451.8Z"/>
<path d="M528.1 491 523.6 493.7 520.1 492.6 524.6 490Z"/>
<path d="M461.1 495.9 456.9 497.3 452.5 489.7 456.8 488.6Z"/>
<path d="M654.4 406.2 649.2 409.3 646.1 412.4 651.4 409.2Z"/>
<path d="M583.4 458.3 578.6 461.6 575.3 464.1 580.1 460.9Z"/>
<path d="M515.6 495.1 511.2 497.6 507.6 495.3 512 493Z"/>
<path d="M448.3 490.9 444.1 492 439.5 483.3 443.8 482.4Z"/>
<path d="M641 415.6 635.8 418.7 632.7 422.1 637.9 418.8Z"/>
<path d="M570.5 467.3 565.8 470.5 562.5 472.4 567.2 469.3Z"/>
<path d="M503.2 497.6 498.8 499.9 495 496.3 499.4 494.3Z"/>
<path d="M435.3 484.1 431.1 485 426.3 475.3 430.6 474.7Z"/>
<path d="M627.6 425.4 622.6 428.6 619.4 432.1 624.4 428.7Z"/>
<path d="M557.8 475.5 553.2 478.5 549.8 479.6 554.4 476.6Z"/>
<path d="M490.6 498.3 486.3 500.4 482.4 495.5 486.7 493.8Z"/>
<path d="M614.4 435.4 609.4 438.7 606.2 442.1 611.1 438.7Z"/>
<path d="M545.2 482.5 540.6 485.4 537.2 485.5 541.7 482.8Z"/>
<path d="M478.1 497.3 473.8 499 469.7 492.9 474 491.5Z"/>
<path d="M601.2 445.4 596.3 448.7 593.1 451.8 598 448.4Z"/>
<path d="M532.6 488.3 528.1 491 524.6 490 529.1 487.5Z"/>
<path d="M465.4 494.4 461.1 495.9 456.8 488.6 461.1 487.4Z"/>
<path d="M588.2 455.1 583.4 458.3 580.1 460.9 584.9 457.7Z"/>
<path d="M520.1 492.6 515.6 495.1 512 493 516.5 490.7Z"/>
<path d="M452.5 489.7 448.3 490.9 443.8 482.4 448.1 481.6Z"/>
<path d="M646.1 412.4 641 415.6 637.9 418.8 643 415.4Z"/>
<path d="M575.3 464.1 570.5 467.3 567.2 469.3 572 466.1Z"/>
<path d="M507.6 495.3 503.2 497.6 499.4 494.3 503.8 492.2Z"/>
<path d="M439.5 483.3 435.3 484.1 430.6 474.7 434.9 474.2Z"/>
<path d="M632.7 422.1 627.6 425.4 624.4 428.7 629.6 425.3Z"/>
<path d="M562.5 472.4 557.8 475.5 554.4 476.6 559.1 473.6Z"/>
<path d="M495 496.3 490.6 498.3 486.7 493.8 491.1 492Z"/>
<path d="M426.3 475.3 422.1 475.8 417.2 465.6 421.5 465.4Z"/>
<path d="M619.4 432.1 614.4 435.4 611.1 438.7 616.2 435.3Z"/>
<path d="M549.8 479.6 545.2 482.5 541.7 482.8 546.4 480Z"/>
<path d="M482.4 495.5 478.1 497.3 474 491.5 478.4 490Z"/>
<path d="M606.2 442.1 601.2 445.4 598 448.4 602.9 445.1Z"/>
<path d="M537.2 485.5 532.6 488.3 529.1 487.5 533.7 484.9Z"/>
<path d="M469.7 492.9 465.4 494.4 461.1 487.4 465.5 486.2Z"/>
<path d="M593.1 451.8 588.2 455.1 584.9 457.7 589.8 454.4Z"/>
<path d="M524.6 490 520.1 492.6 516.5 490.7 521 488.3Z"/>
<path d="M456.8 488.6 452.5 489.7 448.1 481.6 452.4 480.7Z"/>
<path d="M651.4 409.2 646.1 412.4 643 415.4 648.3 412.1Z"/>
<path d="M580.1 460.9 575.3 464.1 572 466.1 576.8 463Z"/>
<path d="M512 493 507.6 495.3 503.8 492.2 508.3 490.1Z"/>
<path d="M443.8 482.4 439.5 483.3 434.9 474.2 439.2 473.6Z"/>
<path d="M637.9 418.8 632.7 422.1 629.6 425.3 634.7 421.9Z"/>
<path d="M567.2 469.3 562.5 472.4 559.1 473.6 563.8 470.6Z"/>
<path d="M499.4 494.3 495 496.3 491.1 492 495.6 490.2Z"/>
<path d="M430.6 474.7 426.3 475.3 421.5 465.4 425.8 465.1Z"/>
<path d="M624.4 428.7 619.4 432.1 616.2 435.3 621.3 431.8Z"/>
<path d="M554.4 476.6 549.8 479.6 546.4 480 551 477.1Z"/>
<path d="M486.7 493.8 482.4 495.5 478.4 490 482.8 488.5Z"/>
<path d="M611.1 438.7 606.2 442.1 602.9 445.1 607.9 441.7Z"/>
<path d="M541.7 482.8 537.2 485.5 533.7 484.9 538.2 482.3Z"/>
<path d="M474 491.5 469.7 492.9 465.5 486.2 469.9 485Z"/>
<path d="M598 448.4 593.1 451.8 589.8 454.4 594.7 451.1Z"/>
<path d="M529.1 487.5 524.6 490 521 488.3 525.5 486Z"/>
<path d="M461.1 487.4 456.8 488.6 452.4 480.7 456.8 479.9Z"/>
<path d="M584.9 457.7 580.1 460.9 576.8 463 581.6 459.8Z"/>
<path d="M516.5 490.7 512 493 508.3 490.1 512.8 488Z"/>
<path d="M448.1 481.6 443.8 482.4 439.2 473.6 443.6 473.1Z"/>
<path d="M643 415.4 637.9 418.8 634.7 421.9 639.9 418.4Z"/>
<path d="M572 466.1 567.2 469.3 563.8 470.6 568.6 467.6Z"/>
<path d="M503.8 492.2 499.4 494.3 495.6 490.2 500 488.4Z"/>
<path d="M434.9 474.2 430.6 474.7 425.8 465.1 430.2 464.9Z"/>
<path d="M629.6 425.3 624.4 428.7 621.3 431.8 626.4 428.4Z"/>
<path d="M559.1 473.6 554.4 476.6 551 477.1 555.7 474.3Z"/>
<path d="M491.1 492 486.7 493.8 482.8 488.5 487.2 487Z"/>
<path d="M421.5 465.4 417.2 465.6 412.2 455.5 416.6 455.6Z"/>
<path d="M616.2 435.3 611.1 438.7 607.9 441.7 613 438.2Z"/>
<path d="M546.4 480 541.7 482.8 538.2 482.3 542.9 479.7Z"/>
<path d="M478.4 490 474 491.5 469.9 485 474.3 483.8Z"/>
<path d="M602.9 445.1 598 448.4 594.7 451.1 599.7 447.7Z"/>
<path d="M533.7 484.9 529.1 487.5 525.5 486 530.1 483.6Z"/>
<path d="M465.5 486.2 461.1 487.4 456.8 479.9 461.2 479Z"/>
<path d="M589.8 454.4 584.9 457.7 581.6 459.8 586.5 456.6Z"/>
<path d="M521 488.3 516.5 490.7 512.8 488 517.3 485.9Z"/>
<path d="M452.4 480.7 448.1 481.6 443.6 473.1 448 472.5Z"/>
<path d="M648.3 412.1 643 415.4 639.9 418.4 645.2 414.9Z"/>
<path d="M576.8 463 572 466.1 568.6 467.6 573.4 464.5Z"/>
<path d="M508.3 490.1 503.8 492.2 500 488.4 504.5 486.6Z"/>
<path d="M439.2 473.6 434.9 474.2 430.2 464.9 434.6 464.7Z"/>
<path d="M634.7 421.9 629.6 425.3 626.4 428.4 631.6 424.9Z"/>
<path d="M563.8 470.6 559.1 473.6 555.7 474.3 560.5 471.4Z"/>
<path d="M495.6 490.2 491.1 492 487.2 487 491.6 485.5Z"/>
<path d="M425.8 465.1 421.5 465.4 416.6 455.6 420.9 455.7Z"/>
<path d="M621.3 431.8 616.2 435.3 613 438.2 618 434.8Z"/>
<path d="M551 477.1 546.4 480 542.9 479.7 547.6 477Z"/>
<path d="M482.8 488.5 478.4 490 474.3 483.8 478.7 482.6Z"/>
<path d="M607.9 441.7 602.9 445.1 599.7 447.7 604.7 444.3Z"/>
<path d="M538.2 482.3 533.7 484.9 530.1 483.6 534.7 481.2Z"/>
<path d="M469.9 485 465.5 486.2 461.2 479 465.6 478.1Z"/>
<path d="M594.7 451.1 589.8 454.4 586.5 456.6 591.4 453.3Z"/>
<path d="M525.5 486 521 488.3 517.3 485.9 521.9 483.8Z"/>
<path d="M456.8 479.9 452.4 480.7 448 472.5 452.4 472Z"/>
<path d="M581.6 459.8 576.8 463 573.4 464.5 578.3 461.5Z"/>
<path d="M512.8 488 508.3 490.1 504.5 486.6 509 484.7Z"/>
<path d="M443.6 473.1 439.2 473.6 434.6 464.7 439 464.5Z"/>
<path d="M639.9 418.4 634.7 421.9 631.6 424.9 636.8 421.4Z"/>
<path d="M568.6 467.6 563.8 470.6 560.5 471.4 565.2 468.5Z"/>
<path d="M500 488.4 495.6 490.2 491.6 485.5 496.1 483.9Z"/>
<path d="M430.2 464.9 425.8 465.1 420.9 455.7 425.4 455.8Z"/>
<path d="M626.4 428.4 621.3 431.8 618 434.8 623.2 431.3Z"/>
<path d="M555.7 474.3 551 477.1 547.6 477 552.3 474.4Z"/>
<path d="M487.2 487 482.8 488.5 478.7 482.6 483.2 481.4Z"/>
<path d="M613 438.2 607.9 441.7 604.7 444.3 609.7 440.9Z"/>
<path d="M542.9 479.7 538.2 482.3 534.7 481.2 539.4 478.8Z"/>
<path d="M474.3 483.8 469.9 485 465.6 478.1 470.1 477.2Z"/>
<path d="M599.7 447.7 594.7 451.1 591.4 453.3 596.4 450Z"/>
<path d="M530.1 483.6 525.5 486 521.9 483.8 526.5 481.6Z"/>
<path d="M461.2 479 456.8 479.9 452.4 472 456.8 471.4Z"/>
<path d="M586.5 456.6 581.6 459.8 578.3 461.5 583.2 458.3Z"/>
<path d="M517.3 485.9 512.8 488 509 484.7 513.6 482.9Z"/>
<path d="M448 472.5 443.6 473.1 439 464.5 443.4 464.3Z"/>
<path d="M645.2 414.9 639.9 418.4 636.8 421.4 642 417.8Z"/>
<path d="M573.4 464.5 568.6 467.6 565.2 468.5 570 465.6Z"/>
<path d="M504.5 486.6 500 488.4 496.1 483.9 500.7 482.4Z"/>
<path d="M434.6 464.7 430.2 464.9 425.4 455.8 429.8 455.9Z"/>
<path d="M631.6 424.9 626.4 428.4 623.2 431.3 628.4 427.8Z"/>
<path d="M560.5 471.4 555.7 474.3 552.3 474.4 557 471.7Z"/>
<path d="M491.6 485.5 487.2 487 483.2 481.4 487.6 480.2Z"/>
<path d="M618 434.8 613 438.2 609.7 440.9 614.8 437.5Z"/>
<path d="M547.6 477 542.9 479.7 539.4 478.8 544.1 476.3Z"/>
<path d="M478.7 482.6 474.3 483.8 470.1 477.2 474.5 476.3Z"/>
<path d="M604.7 444.3 599.7 447.7 596.4 450 601.4 446.7Z"/>
<path d="M534.7 481.2 530.1 483.6 526.5 481.6 531.1 479.5Z"/>
<path d="M465.6 478.1 461.2 479 456.8 471.4 461.3 470.9Z"/>
<path d="M591.4 453.3 586.5 456.6 583.2 458.3 588.1 455.2Z"/>
<path d="M521.9 483.8 517.3 485.9 513.6 482.9 518.2 481Z"/>
<path d="M452.4 472 448 472.5 443.4 464.3 447.9 464Z"/>
<path d="M578.3 461.5 573.4 464.5 570 465.6 574.9 462.7Z"/>
<path d="M509 484.7 504.5 486.6 500.7 482.4 505.2 480.8Z"/>
<path d="M439 464.5 434.6 464.7 429.8 455.9 434.3 456Z"/>
<path d="M636.8 421.4 631.6 424.9 628.4 427.8 633.6 424.2Z"/>
<path d="M565.2 468.5 560.5 471.4 557 471.7 561.8 469Z"/>
<path d="M496.1 483.9 491.6 485.5 487.6 480.2 492.2 479Z"/>
<path d="M623.2 431.3 618 434.8 614.8 437.5 620 434Z"/>
<path d="M552.3 474.4 547.6 477 544.1 476.3 548.8 473.9Z"/>
<path d="M483.2 481.4 478.7 482.6 474.5 476.3 479 475.4Z"/>
<path d="M609.7 440.9 604.7 444.3 601.4 446.7 606.5 443.4Z"/>
<path d="M539.4 478.8 534.7 481.2 531.1 479.5 535.8 477.3Z"/>
<path d="M470.1 477.2 465.6 478.1 461.3 470.9 465.8 470.3Z"/>
<path d="M596.4 450 591.4 453.3 588.1 455.2 593.1 452Z"/>
<path d="M526.5 481.6 521.9 483.8 518.2 481 522.8 479.1Z"/>
<path d="M456.8 471.4 452.4 472 447.9 464 452.3 463.8Z"/>
<path d="M583.2 458.3 578.3 461.5 574.9 462.7 579.8 459.7Z"/>
<path d="M513.6 482.9 509 484.7 505.2 480.8 509.8 479.3Z"/>
<path d="M443.4 464.3 439 464.5 434.3 456 438.7 456.1Z"/>
<path d="M642 417.8 636.8 421.4 633.6 424.2 638.9 420.6Z"/>
<path d="M570 465.6 565.2 468.5 561.8 469 566.6 466.2Z"/>
<path d="M500.7 482.4 496.1 483.9 492.2 479 496.7 477.7Z"/>
<path d="M628.4 427.8 623.2 431.3 620 434 625.2 430.5Z"/>
<path d="M557 471.7 552.3 474.4 548.8 473.9 553.5 471.4Z"/>
<path d="M487.6 480.2 483.2 481.4 479 475.4 483.6 474.5Z"/>
<path d="M614.8 437.5 609.7 440.9 606.5 443.4 611.6 440Z"/>
<path d="M544.1 476.3 539.4 478.8 535.8 477.3 540.5 475.1Z"/>
<path d="M474.5 476.3 470.1 477.2 465.8 470.3 470.3 469.8Z"/>
<path d="M601.4 446.7 596.4 450 593.1 452 598.1 448.8Z"/>
<path d="M531.1 479.5 526.5 481.6 522.8 479.1 527.5 477.2Z"/>
<path d="M461.3 470.9 456.8 471.4 452.3 463.8 456.9 463.6Z"/>
<path d="M588.1 455.2 583.2 458.3 579.8 459.7 584.8 456.7Z"/>
<path d="M518.2 481 513.6 482.9 509.8 479.3 514.4 477.7Z"/>
<path d="M447.9 464 443.4 464.3 438.7 456.1 443.3 456.2Z"/>
<path d="M574.9 462.7 570 465.6 566.6 466.2 571.5 463.5Z"/>
<path d="M505.2 480.8 500.7 482.4 496.7 477.7 501.3 476.5Z"/>
<path d="M633.6 424.2 628.4 427.8 625.2 430.5 630.4 427Z"/>
<path d="M561.8 469 557 471.7 553.5 471.4 558.4 468.9Z"/>
<path d="M492.2 479 487.6 480.2 483.6 474.5 488.1 473.6Z"/>
<path d="M620 434 614.8 437.5 611.6 440 616.7 436.6Z"/>
<path d="M548.8 473.9 544.1 476.3 540.5 475.1 545.2 472.9Z"/>
<path d="M479 475.4 474.5 476.3 470.3 469.8 474.8 469.2Z"/>
<path d="M606.5 443.4 601.4 446.7 598.1 448.8 603.2 445.6Z"/>
<path d="M535.8 477.3 531.1 479.5 527.5 477.2 532.2 475.3Z"/>
<path d="M465.8 470.3 461.3 470.9 456.9 463.6 461.4 463.3Z"/>
<path d="M593.1 452 588.1 455.2 584.8 456.7 589.7 453.7Z"/>
<path d="M522.8 479.1 518.2 481 514.4 477.7 519.1 476.1Z"/>
<path d="M452.3 463.8 447.9 464 443.3 456.2 447.8 456.3Z"/>
<path d="M579.8 459.7 574.9 462.7 571.5 463.5 576.4 460.7Z"/>
<path d="M509.8 479.3 505.2 480.8 501.3 476.5 505.9 475.2Z"/>
<path d="M638.9 420.6 633.6 424.2 630.4 427 635.7 423.5Z"/>
<path d="M566.6 466.2 561.8 469 558.4 468.9 563.2 466.4Z"/>
<path d="M496.7 477.7 492.2 479 488.1 473.6 492.7 472.7Z"/>
<path d="M625.2 430.5 620 434 616.7 436.6 621.9 433.2Z"/>
<path d="M553.5 471.4 548.8 473.9 545.2 472.9 550 470.7Z"/>
<path d="M483.6 474.5 479 475.4 474.8 469.2 479.4 468.6Z"/>
<path d="M611.6 440 606.5 443.4 603.2 445.6 608.3 442.4Z"/>
<path d="M540.5 475.1 535.8 477.3 532.2 475.3 536.9 473.4Z"/>
<path d="M470.3 469.8 465.8 470.3 461.4 463.3 466 463.1Z"/>
<path d="M598.1 448.8 593.1 452 589.7 453.7 594.8 450.6Z"/>
<path d="M527.5 477.2 522.8 479.1 519.1 476.1 523.8 474.5Z"/>
<path d="M456.9 463.6 452.3 463.8 447.8 456.3 452.4 456.4Z"/>
<path d="M584.8 456.7 579.8 459.7 576.4 460.7 581.4 457.9Z"/>
<path d="M514.4 477.7 509.8 479.3 505.9 475.2 510.6 474Z"/>
<path d="M571.5 463.5 566.6 466.2 563.2 466.4 568.1 463.9Z"/>
<path d="M501.3 476.5 496.7 477.7 492.7 472.7 497.3 471.8Z"/>
<path d="M630.4 427 625.2 430.5 621.9 433.2 627.2 429.7Z"/>
<path d="M558.4 468.9 553.5 471.4 550 470.7 554.9 468.4Z"/>
<path d="M488.1 473.6 483.6 474.5 479.4 468.6 484 468Z"/>
<path d="M616.7 436.6 611.6 440 608.3 442.4 613.4 439.1Z"/>
<path d="M545.2 472.9 540.5 475.1 536.9 473.4 541.7 471.5Z"/>
<path d="M474.8 469.2 470.3 469.8 466 463.1 470.5 462.9Z"/>
<path d="M603.2 445.6 598.1 448.8 594.8 450.6 599.9 447.6Z"/>
<path d="M532.2 475.3 527.5 477.2 523.8 474.5 528.5 472.9Z"/>
<path d="M461.4 463.3 456.9 463.6 452.4 456.4 456.9 456.5Z"/>
<path d="M589.7 453.7 584.8 456.7 581.4 457.9 586.4 455.1Z"/>
<path d="M519.1 476.1 514.4 477.7 510.6 474 515.3 472.7Z"/>
<path d="M576.4 460.7 571.5 463.5 568.1 463.9 573 461.3Z"/>
<path d="M505.9 475.2 501.3 476.5 497.3 471.8 502 470.9Z"/>
<path d="M635.7 423.5 630.4 427 627.2 429.7 632.5 426.3Z"/>
<path d="M563.2 466.4 558.4 468.9 554.9 468.4 559.7 466.2Z"/>
<path d="M492.7 472.7 488.1 473.6 484 468 488.6 467.5Z"/>
<path d="M621.9 433.2 616.7 436.6 613.4 439.1 618.6 435.8Z"/>
<path d="M550 470.7 545.2 472.9 541.7 471.5 546.5 469.5Z"/>
<path d="M479.4 468.6 474.8 469.2 470.5 462.9 475.2 462.6Z"/>
<path d="M608.3 442.4 603.2 445.6 599.9 447.6 605 444.5Z"/>
<path d="M536.9 473.4 532.2 475.3 528.5 472.9 533.2 471.3Z"/>
<path d="M466 463.1 461.4 463.3 456.9 456.5 461.6 456.6Z"/>
<path d="M594.8 450.6 589.7 453.7 586.4 455.1 591.4 452.2Z"/>
<path d="M523.8 474.5 519.1 476.1 515.3 472.7 520 471.4Z"/>
<path d="M581.4 457.9 576.4 460.7 573 461.3 578 458.7Z"/>
<path d="M510.6 474 505.9 475.2 502 470.9 506.7 469.9Z"/>
<path d="M568.1 463.9 563.2 466.4 559.7 466.2 564.6 463.9Z"/>
<path d="M497.3 471.8 492.7 472.7 488.6 467.5 493.3 466.9Z"/>
<path d="M627.2 429.7 621.9 433.2 618.6 435.8 623.9 432.4Z"/>
<path d="M554.9 468.4 550 470.7 546.5 469.5 551.3 467.6Z"/>
<path d="M484 468 479.4 468.6 475.2 462.6 479.8 462.4Z"/>
<path d="M613.4 439.1 608.3 442.4 605 444.5 610.1 441.3Z"/>
<path d="M541.7 471.5 536.9 473.4 533.2 471.3 538 469.7Z"/>
<path d="M470.5 462.9 466 463.1 461.6 456.6 466.2 456.7Z"/>
<path d="M599.9 447.6 594.8 450.6 591.4 452.2 596.5 449.3Z"/>
<path d="M528.5 472.9 523.8 474.5 520 471.4 524.7 470.1Z"/>
<path d="M586.4 455.1 581.4 457.9 578 458.7 583 456.1Z"/>
<path d="M515.3 472.7 510.6 474 506.7 469.9 511.4 469Z"/>
<path d="M573 461.3 568.1 463.9 564.6 463.9 569.6 461.6Z"/>
<path d="M502 470.9 497.3 471.8 493.3 466.9 498 466.3Z"/>
<path d="M632.5 426.3 627.2 429.7 623.9 432.4 629.2 429Z"/>
<path d="M559.7 466.2 554.9 468.4 551.3 467.6 556.2 465.6Z"/>
<path d="M488.6 467.5 484 468 479.8 462.4 484.5 462.2Z"/>
<path d="M618.6 435.8 613.4 439.1 610.1 441.3 615.4 438.2Z"/>
<path d="M546.5 469.5 541.7 471.5 538 469.7 542.9 468Z"/>
<path d="M475.2 462.6 470.5 462.9 466.2 456.7 470.9 456.8Z"/>
<path d="M605 444.5 599.9 447.6 596.5 449.3 601.6 446.4Z"/>
<path d="M533.2 471.3 528.5 472.9 524.7 470.1 529.5 468.8Z"/>
<path d="M591.4 452.2 586.4 455.1 583 456.1 588 453.5Z"/>
<path d="M520 471.4 515.3 472.7 511.4 469 516.1 468Z"/>
<path d="M578 458.7 573 461.3 569.6 461.6 574.5 459.3Z"/>
<path d="M506.7 469.9 502 470.9 498 466.3 502.7 465.7Z"/>
<path d="M564.6 463.9 559.7 466.2 556.2 465.6 561.1 463.6Z"/>
<path d="M493.3 466.9 488.6 467.5 484.5 462.2 489.2 461.9Z"/>
<path d="M623.9 432.4 618.6 435.8 615.4 438.2 620.6 435Z"/>
<path d="M551.3 467.6 546.5 469.5 542.9 468 547.7 466.4Z"/>
<path d="M479.8 462.4 475.2 462.6 470.9 456.8 475.5 456.9Z"/>
<path d="M610.1 441.3 605 444.5 601.6 446.4 606.8 443.5Z"/>
<path d="M538 469.7 533.2 471.3 529.5 468.8 534.3 467.5Z"/>
<path d="M596.5 449.3 591.4 452.2 588 453.5 593.1 450.9Z"/>
<path d="M524.7 470.1 520 471.4 516.1 468 520.9 467.1Z"/>
<path d="M583 456.1 578 458.7 574.5 459.3 579.6 456.9Z"/>
<path d="M511.4 469 506.7 469.9 502.7 465.7 507.5 465.1Z"/>
<path d="M569.6 461.6 564.6 463.9 561.1 463.6 566.1 461.6Z"/>
<path d="M498 466.3 493.3 466.9 489.2 461.9 493.9 461.7Z"/>
<path d="M629.2 429 623.9 432.4 620.6 435 625.9 431.8Z"/>
<path d="M556.2 465.6 551.3 467.6 547.7 466.4 552.6 464.7Z"/>
<path d="M484.5 462.2 479.8 462.4 475.5 456.9 480.3 457Z"/>
<path d="M615.4 438.2 610.1 441.3 606.8 443.5 612 440.5Z"/>
<path d="M542.9 468 538 469.7 534.3 467.5 539.2 466.2Z"/>
<path d="M601.6 446.4 596.5 449.3 593.1 450.9 598.3 448.2Z"/>
<path d="M529.5 468.8 524.7 470.1 520.9 467.1 525.7 466.1Z"/>
<path d="M588 453.5 583 456.1 579.6 456.9 584.6 454.6Z"/>
<path d="M516.1 468 511.4 469 507.5 465.1 512.2 464.5Z"/>
<path d="M574.5 459.3 569.6 461.6 566.1 461.6 571.1 459.5Z"/>
<path d="M502.7 465.7 498 466.3 493.9 461.7 498.7 461.4Z"/>
<path d="M561.1 463.6 556.2 465.6 552.6 464.7 557.6 463Z"/>
<path d="M489.2 461.9 484.5 462.2 480.3 457 485 457.1Z"/>
<path d="M620.6 435 615.4 438.2 612 440.5 617.3 437.6Z"/>
<path d="M547.7 466.4 542.9 468 539.2 466.2 544.1 464.9Z"/>
<path d="M606.8 443.5 601.6 446.4 598.3 448.2 603.5 445.5Z"/>
<path d="M534.3 467.5 529.5 468.8 525.7 466.1 530.6 465.2Z"/>
<path d="M593.1 450.9 588 453.5 584.6 454.6 589.7 452.2Z"/>
<path d="M520.9 467.1 516.1 468 512.2 464.5 517.1 463.9Z"/>
<path d="M579.6 456.9 574.5 459.3 571.1 459.5 576.1 457.5Z"/>
<path d="M507.5 465.1 502.7 465.7 498.7 461.4 503.5 461.2Z"/>
<path d="M566.1 461.6 561.1 463.6 557.6 463 562.5 461.3Z"/>
<path d="M493.9 461.7 489.2 461.9 485 457.1 489.8 457.2Z"/>
<path d="M625.9 431.8 620.6 435 617.3 437.6 622.6 434.5Z"/>
<path d="M552.6 464.7 547.7 466.4 544.1 464.9 549 463.5Z"/>
<path d="M612 440.5 606.8 443.5 603.5 445.5 608.7 442.8Z"/>
<path d="M539.2 466.2 534.3 467.5 530.6 465.2 535.5 464.2Z"/>
<path d="M598.3 448.2 593.1 450.9 589.7 452.2 594.9 449.8Z"/>
<path d="M525.7 466.1 520.9 467.1 517.1 463.9 521.9 463.3Z"/>
<path d="M584.6 454.6 579.6 456.9 576.1 457.5 581.2 455.4Z"/>
<path d="M512.2 464.5 507.5 465.1 503.5 461.2 508.3 460.9Z"/>
<path d="M571.1 459.5 566.1 461.6 562.5 461.3 567.5 459.6Z"/>
<path d="M498.7 461.4 493.9 461.7 489.8 457.2 494.6 457.3Z"/>
<path d="M557.6 463 552.6 464.7 549 463.5 553.9 462.2Z"/>
<path d="M617.3 437.6 612 440.5 608.7 442.8 613.9 440Z"/>
<path d="M544.1 464.9 539.2 466.2 535.5 464.2 540.4 463.2Z"/>
<path d="M603.5 445.5 598.3 448.2 594.9 449.8 600.1 447.4Z"/>
<path d="M530.6 465.2 525.7 466.1 521.9 463.3 526.8 462.7Z"/>
<path d="M589.7 452.2 584.6 454.6 581.2 455.4 586.3 453.4Z"/>
<path d="M517.1 463.9 512.2 464.5 508.3 460.9 513.1 460.7Z"/>
<path d="M576.1 457.5 571.1 459.5 567.5 459.6 572.6 457.9Z"/>
<path d="M503.5 461.2 498.7 461.4 494.6 457.3 499.4 457.4Z"/>
<path d="M562.5 461.3 557.6 463 553.9 462.2 558.9 460.8Z"/>
<path d="M622.6 434.5 617.3 437.6 613.9 440 619.3 437.3Z"/>
<path d="M549 463.5 544.1 464.9 540.4 463.2 545.3 462.2Z"/>
<path d="M608.7 442.8 603.5 445.5 600.1 447.4 605.3 444.9Z"/>
<path d="M535.5 464.2 530.6 465.2 526.8 462.7 531.7 462.1Z"/>
<path d="M594.9 449.8 589.7 452.2 586.3 453.4 591.4 451.3Z"/>
<path d="M521.9 463.3 517.1 463.9 513.1 460.7 518 460.4Z"/>
<path d="M581.2 455.4 576.1 457.5 572.6 457.9 577.7 456.1Z"/>
<path d="M508.3 460.9 503.5 461.2 499.4 457.4 504.3 457.5Z"/>
<path d="M567.5 459.6 562.5 461.3 558.9 460.8 564 459.5Z"/>
<path d="M553.9 462.2 549 463.5 545.3 462.2 550.3 461.2Z"/>
<path d="M613.9 440 608.7 442.8 605.3 444.9 610.6 442.5Z"/>
<path d="M540.4 463.2 535.5 464.2 531.7 462.1 536.6 461.5Z"/>
<path d="M600.1 447.4 594.9 449.8 591.4 451.3 596.6 449.2Z"/>
<path d="M526.8 462.7 521.9 463.3 518 460.4 522.9 460.2Z"/>
<path d="M586.3 453.4 581.2 455.4 577.7 456.1 582.8 454.4Z"/>
<path d="M513.1 460.7 508.3 460.9 504.3 457.5 509.1 457.6Z"/>
<path d="M572.6 457.9 567.5 459.6 564 459.5 569 458.1Z"/>
<path d="M558.9 460.8 553.9 462.2 550.3 461.2 555.3 460.2Z"/>
<path d="M619.3 437.3 613.9 440 610.6 442.5 615.9 440Z"/>
<path d="M545.3 462.2 540.4 463.2 536.6 461.5 541.6 460.8Z"/>
<path d="M605.3 444.9 600.1 447.4 596.6 449.2 601.9 447Z"/>
<path d="M531.7 462.1 526.8 462.7 522.9 460.2 527.8 459.9Z"/>
<path d="M591.4 451.3 586.3 453.4 582.8 454.4 588 452.6Z"/>
<path d="M518 460.4 513.1 460.7 509.1 457.6 514 457.7Z"/>
<path d="M577.7 456.1 572.6 457.9 569 458.1 574.1 456.7Z"/>
<path d="M564 459.5 558.9 460.8 555.3 460.2 560.4 459.2Z"/>
<path d="M550.3 461.2 545.3 462.2 541.6 460.8 546.6 460.2Z"/>
<path d="M610.6 442.5 605.3 444.9 601.9 447 607.1 444.9Z"/>
<path d="M536.6 461.5 531.7 462.1 527.8 459.9 532.8 459.7Z"/>
<path d="M596.6 449.2 591.4 451.3 588 452.6 593.2 450.9Z"/>
<path d="M522.9 460.2 518 460.4 514 457.7 519 457.8Z"/>
<path d="M582.8 454.4 577.7 456.1 574.1 456.7 579.3 455.3Z"/>
<path d="M569 458.1 564 459.5 560.4 459.2 565.4 458.2Z"/>
<path d="M555.3 460.2 550.3 461.2 546.6 460.2 551.6 459.6Z"/>
<path d="M615.9 440 610.6 442.5 607.1 444.9 612.5 442.7Z"/>
<path d="M541.6 460.8 536.6 461.5 532.8 459.7 537.8 459.4Z"/>
<path d="M601.9 447 596.6 449.2 593.2 450.9 598.4 449.1Z"/>
<path d="M527.8 459.9 522.9 460.2 519 457.8 524 457.9Z"/>
<path d="M588 452.6 582.8 454.4 579.3 455.3 584.4 453.9Z"/>
<path d="M574.1 456.7 569 458.1 565.4 458.2 570.6 457.2Z"/>
<path d="M560.4 459.2 555.3 460.2 551.6 459.6 556.7 458.9Z"/>
<path d="M546.6 460.2 541.6 460.8 537.8 459.4 542.8 459.2Z"/>
<path d="M607.1 444.9 601.9 447 598.4 449.1 603.7 447.3Z"/>
<path d="M532.8 459.7 527.8 459.9 524 457.9 528.9 458Z"/>
<path d="M593.2 450.9 588 452.6 584.4 453.9 589.7 452.5Z"/>
<path d="M579.3 455.3 574.1 456.7 570.6 457.2 575.7 456.2Z"/>
<path d="M565.4 458.2 560.4 459.2 556.7 458.9 561.8 458.3Z"/>
<path d="M551.6 459.6 546.6 460.2 542.8 459.2 547.9 458.9Z"/>
<path d="M612.5 442.7 607.1 444.9 603.7 447.3 609 445.5Z"/>
<path d="M537.8 459.4 532.8 459.7 528.9 458 534 458.1Z"/>
<path d="M598.4 449.1 593.2 450.9 589.7 452.5 594.9 451.1Z"/>
<path d="M584.4 453.9 579.3 455.3 575.7 456.2 580.9 455.2Z"/>
<path d="M570.6 457.2 565.4 458.2 561.8 458.3 566.9 457.7Z"/>
<path d="M556.7 458.9 551.6 459.6 547.9 458.9 553 458.7Z"/>
<path d="M542.8 459.2 537.8 459.4 534 458.1 539 458.2Z"/>
<path d="M603.7 447.3 598.4 449.1 594.9 451.1 600.2 449.6Z"/>
<path d="M589.7 452.5 584.4 453.9 580.9 455.2 586.1 454.1Z"/>
<path d="M575.7 456.2 570.6 457.2 566.9 457.7 572.1 457Z"/>
<path d="M561.8 458.3 556.7 458.9 553 458.7 558.1 458.4Z"/>
<path d="M547.9 458.9 542.8 459.2 539 458.2 544.1 458.4Z"/>
<path d="M609 445.5 603.7 447.3 600.2 449.6 605.5 448.2Z"/>
<path d="M594.9 451.1 589.7 452.5 586.1 454.1 591.4 453.1Z"/>
<path d="M580.9 455.2 575.7 456.2 572.1 457 577.3 456.4Z"/>
<path d="M566.9 457.7 561.8 458.3 558.1 458.4 563.3 458.1Z"/>
<path d="M553 458.7 547.9 458.9 544.1 458.4 549.2 458.5Z"/>
<path d="M600.2 449.6 594.9 451.1 591.4 453.1 596.7 452Z"/>
<path d="M586.1 454.1 580.9 455.2 577.3 456.4 582.5 455.7Z"/>
<path d="M572.1 457 566.9 457.7 563.3 458.1 568.4 457.9Z"/>
<path d="M558.1 458.4 553 458.7 549.2 458.5 554.4 458.6Z"/>
<path d="M605.5 448.2 600.2 449.6 596.7 452 602 450.9Z"/>
<path d="M591.4 453.1 586.1 454.1 582.5 455.7 587.8 455.1Z"/>
<path d="M577.3 456.4 572.1 457 568.4 457.9 573.7 457.6Z"/>
<path d="M563.3 458.1 558.1 458.4 554.4 458.6 559.5 458.7Z"/>
<path d="M596.7 452 591.4 453.1 587.8 455.1 593.1 454.4Z"/>
<path d="M582.5 455.7 577.3 456.4 573.7 457.6 578.9 457.3Z"/>
<path d="M568.4 457.9 563.3 458.1 559.5 458.7 564.7 458.8Z"/>
<path d="M602 450.9 596.7 452 593.1 454.4 598.5 453.7Z"/>
<path d="M587.8 455.1 582.5 455.7 578.9 457.3 584.2 457.1Z"/>
<path d="M573.7 457.6 568.4 457.9 564.7 458.8 570 458.9Z"/>
<path d="M593.1 454.4 587.8 455.1 584.2 457.1 589.5 456.8Z"/>
<path d="M578.9 457.3 573.7 457.6 570 458.9 575.2 459Z"/>
<path d="M598.5 453.7 593.1 454.4 589.5 456.8 594.9 456.5Z"/>
<path d="M584.2 457.1 578.9 457.3 575.2 459 580.5 459.1Z"/>
<path d="M589.5 456.8 584.2 457.1 580.5 459.1 585.9 459.3Z"/>
<path d="M594.9 456.5 589.5 456.8 585.9 459.3 591.2 459.4Z"/></g>
<text class="tl" transform="translate(401.4 547) scale(1 1.12)">-0.4</text>
<text class="tl" transform="translate(399.1 514.2) scale(1 1.12)">-0.3</text>
<text class="tl" transform="translate(396.7 480.2) scale(1 1.12)">-0.2</text>
<text class="tl" transform="translate(394.2 444.9) scale(1 1.12)">-0.1</text>
<text class="tl" transform="translate(538.6 635.6) scale(1 1.12)">50</text>
<text class="tl" transform="translate(492.7 619.4) scale(1 1.12)">100</text>
<text class="tl" transform="translate(448.7 604) scale(1 1.12)">150</text>
<text class="tl" transform="translate(682.5 550.7) scale(1 1.12)">0</text>
<text class="tl" transform="translate(669.3 565.6) scale(1 1.12)">5</text>
<text class="tl" transform="translate(655.5 581.2) scale(1 1.12)">10</text>
<text class="tl" transform="translate(641 597.5) scale(1 1.12)">15</text>
<text class="tl" transform="translate(626 614.5) scale(1 1.12)">20</text>
<text class="tl" transform="translate(610.2 632.3) scale(1 1.12)">25</text>
<text class="tt" transform="translate(371 502.8) rotate(86)" y="3" textLength="132.3" lengthAdjust="spacingAndGlyphs">Change of MAP (mmHg)</text>
<text class="tt" transform="translate(482.8 637.1) rotate(19.4)" y="3">O<tspan class="sub" dy="2">3</tspan><tspan dy="-2"> exposure (μg/m</tspan><tspan class="sup" dy="-4">3</tspan><tspan dy="4">)</tspan></text>
<text class="tt" transform="translate(662.7 603.9) rotate(-48.2)" y="3" style="font-size:12.6px">Lag (days)</text></g>
</svg></body></html>
